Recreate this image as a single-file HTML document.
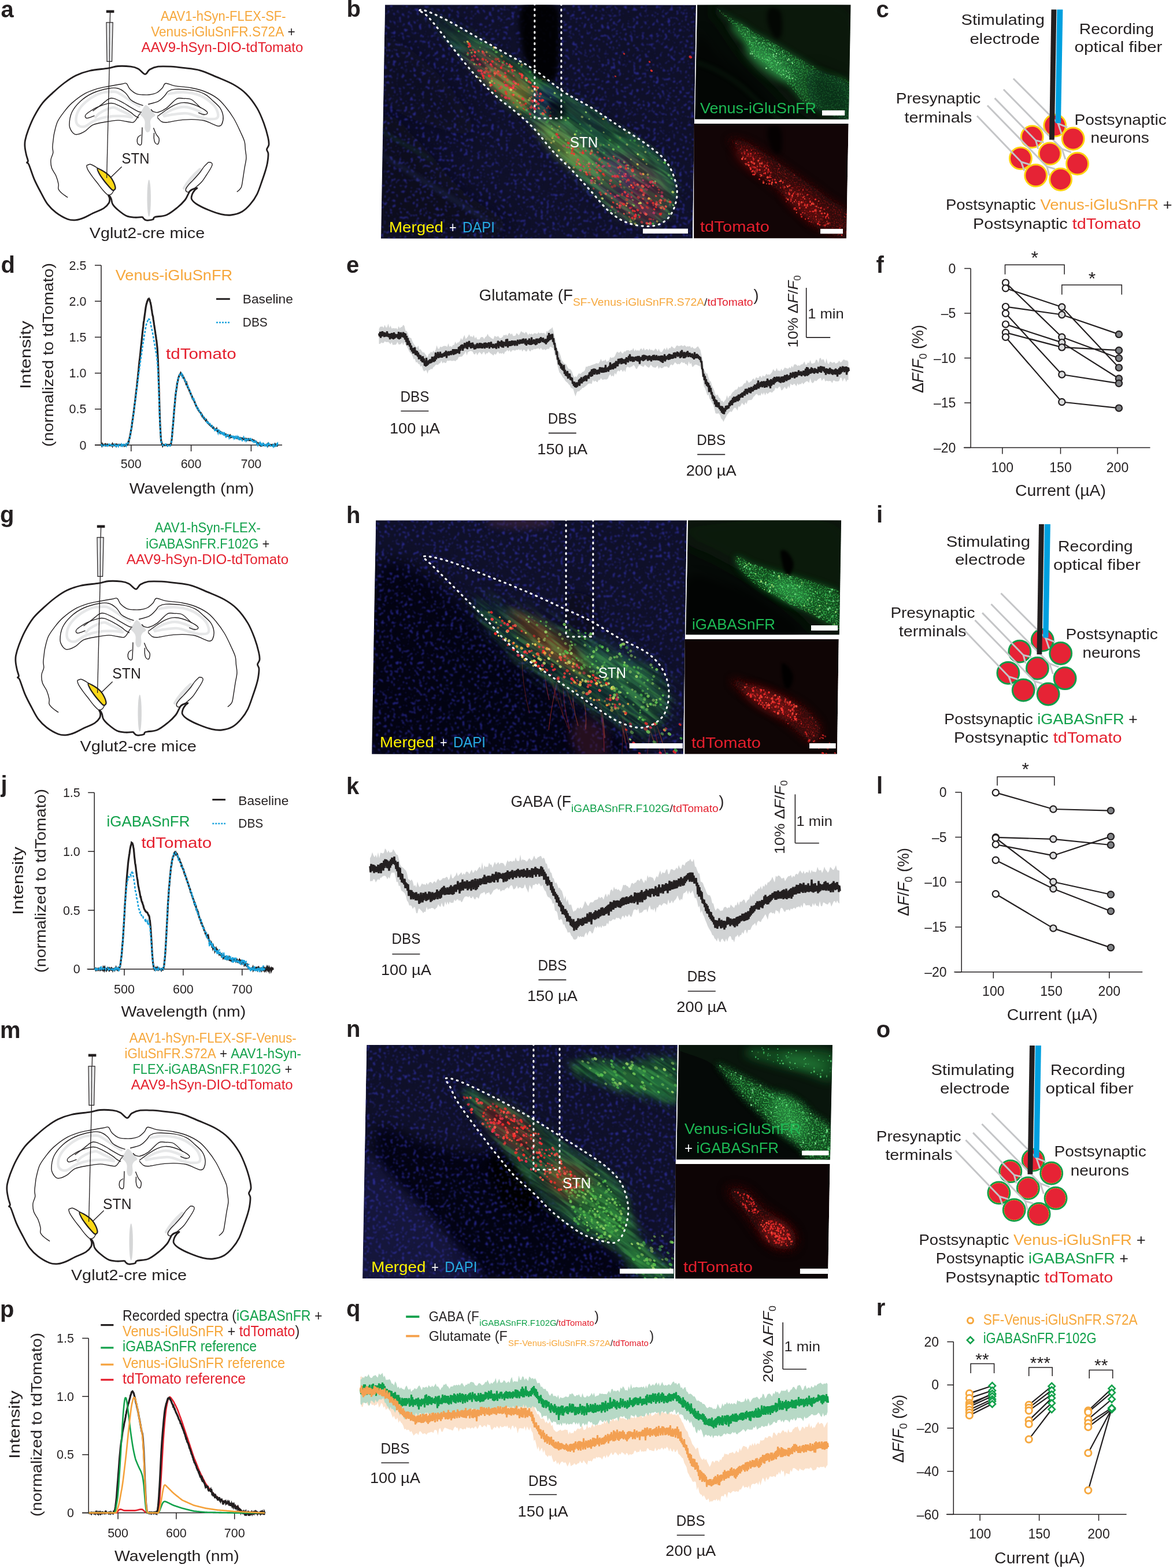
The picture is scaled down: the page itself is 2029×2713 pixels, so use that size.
<!DOCTYPE html><html><head><meta charset="utf-8"><title>Figure</title><style>html,body{margin:0;padding:0;background:#fff;overflow:hidden;}svg{display:block;}text{font-family:"Liberation Sans",sans-serif;white-space:pre;}</style></head><body>
<svg width="2029" height="2713" viewBox="0 0 2029 2713">
<rect width="2029" height="2713" fill="#fff"/><g fill="#231f20">
<defs>
<filter id="dapi" x="0" y="0" width="100%" height="100%" color-interpolation-filters="sRGB"><feTurbulence type="fractalNoise" baseFrequency="0.2" numOctaves="2" seed="4" result="n"/><feColorMatrix in="n" type="matrix" values="0 0 0 0 0.22  0 0 0 0 0.22  0 0 0 0 0.78  12 0 0 0 -7.3"/><feGaussianBlur stdDeviation="1"/></filter>
<filter id="streakG" x="0" y="0" width="100%" height="100%" color-interpolation-filters="sRGB"><feTurbulence type="fractalNoise" baseFrequency="0.02 0.16" numOctaves="2" seed="7" result="n"/><feColorMatrix in="n" type="matrix" values="0 0 0 0 0.35  0 0 0 0 0.8  0 0 0 0 0.35  5 0 0 0 -2.2"/></filter>
<filter id="streakK" x="0" y="0" width="100%" height="100%" color-interpolation-filters="sRGB"><feTurbulence type="fractalNoise" baseFrequency="0.015 0.12" numOctaves="2" seed="3" result="n"/><feColorMatrix in="n" type="matrix" values="0 0 0 0 0  0 0 0 0 0  0 0 0 0 0.05  6 0 0 0 -2.7"/></filter>
<filter id="grn" x="0" y="0" width="100%" height="100%" color-interpolation-filters="sRGB"><feTurbulence type="fractalNoise" baseFrequency="0.45" numOctaves="1" seed="5" result="n"/><feColorMatrix in="n" type="matrix" values="0 0 0 0 0.3  0 0 0 0 0.95  0 0 0 0 0.4  7 0 0 0 -3.5"/></filter>
<filter id="mottle" x="0" y="0" width="100%" height="100%" color-interpolation-filters="sRGB"><feTurbulence type="fractalNoise" baseFrequency="0.09" numOctaves="2" seed="11" result="n"/><feColorMatrix in="n" type="matrix" values="0 0 0 0 0  0 0 0 0 0  0 0 0 0 0  5 0 0 0 -2.1"/></filter>
<filter id="redn" x="0" y="0" width="100%" height="100%" color-interpolation-filters="sRGB"><feTurbulence type="fractalNoise" baseFrequency="0.45" numOctaves="1" seed="6" result="n"/><feColorMatrix in="n" type="matrix" values="0 0 0 0 0.9  0 0 0 0 0.1  0 0 0 0 0.1  7 0 0 0 -3.6"/></filter>
<filter id="b2" x="-50%" y="-50%" width="200%" height="200%"><feGaussianBlur stdDeviation="2"/></filter>
<filter id="b3" x="-50%" y="-50%" width="200%" height="200%"><feGaussianBlur stdDeviation="3"/></filter>
<filter id="b4" x="-50%" y="-50%" width="200%" height="200%"><feGaussianBlur stdDeviation="4"/></filter>
<filter id="b6" x="-50%" y="-50%" width="200%" height="200%"><feGaussianBlur stdDeviation="6"/></filter>
<filter id="b8" x="-50%" y="-50%" width="200%" height="200%"><feGaussianBlur stdDeviation="8"/></filter>
<filter id="b10" x="-50%" y="-50%" width="200%" height="200%"><feGaussianBlur stdDeviation="10"/></filter>
<filter id="b12" x="-50%" y="-50%" width="200%" height="200%"><feGaussianBlur stdDeviation="12"/></filter>
<filter id="b14" x="-50%" y="-50%" width="200%" height="200%"><feGaussianBlur stdDeviation="14"/></filter>
<filter id="b18" x="-50%" y="-50%" width="200%" height="200%"><feGaussianBlur stdDeviation="18"/></filter>
<filter id="b26" x="-50%" y="-50%" width="200%" height="200%"><feGaussianBlur stdDeviation="26"/></filter>
<filter id="b1" x="-50%" y="-50%" width="200%" height="200%"><feGaussianBlur stdDeviation="0.7"/></filter>
</defs>
<text x="1.5" y="29.5" font-size="40" font-weight="bold">a</text>
<text x="599.5" y="29" font-size="40" font-weight="bold">b</text>
<text x="1515.5" y="29.8" font-size="40" font-weight="bold">c</text>
<text x="1.5" y="471.5" font-size="40" font-weight="bold">d</text>
<text x="599" y="472.2" font-size="40" font-weight="bold">e</text>
<text x="1515.5" y="471.5" font-size="40" font-weight="bold">f</text>
<text x="0" y="903.5" font-size="40" font-weight="bold">g</text>
<text x="599" y="904.5" font-size="40" font-weight="bold">h</text>
<text x="1516" y="903.9" font-size="40" font-weight="bold">i</text>
<text x="1.5" y="1371" font-size="40" font-weight="bold">j</text>
<text x="599" y="1374.4" font-size="40" font-weight="bold">k</text>
<text x="1516" y="1373" font-size="40" font-weight="bold">l</text>
<text x="0" y="1795.6" font-size="40" font-weight="bold">m</text>
<text x="599" y="1793.7" font-size="40" font-weight="bold">n</text>
<text x="1515.8" y="1794.8" font-size="40" font-weight="bold">o</text>
<text x="0" y="2279" font-size="40" font-weight="bold">p</text>
<text x="599" y="2277.5" font-size="40" font-weight="bold">q</text>
<text x="1515.8" y="2275.8" font-size="40" font-weight="bold">r</text>
<g transform="translate(0 0)">
<path d="M252.5,182C249.8,181.8 247.8,187.5 246,190C244.2,192.5 241.3,194.8 241.5,197C241.7,199.2 245.5,200.8 247,203C248.5,205.2 249.9,206.8 250.5,210C251.1,213.2 250,218.9 250.5,222C251,225.1 252.2,227.6 253.5,228.5C254.8,229.4 257.3,228.9 258.5,227.5C259.7,226.1 260.2,222.9 260.5,220C260.8,217.1 259.6,212.7 260,210C260.4,207.3 261.6,205.8 263,204C264.4,202.2 268.7,201.2 268.5,199C268.3,196.8 264.7,193.8 262,191C259.3,188.2 255.2,182.2 252.5,182Z" fill="#dcddde"/>
<ellipse cx="257.7" cy="343" rx="3.2" ry="32" fill="#d5d6d7"/>
<path d="M346,293 C338,300 326,312 318.5,325.5 C322,323 332,312 346,296Z" fill="#e2e3e4" stroke="#e2e3e4" stroke-width="5" stroke-linejoin="round"/>
<path d="M241,184C238.8,182.7 231.7,178.4 228,176C224.3,173.6 222.4,172.1 218.6,169.6C214.8,167.1 208.6,162.8 205,161C201.4,159.2 201.9,158.8 196.9,158.8C191.9,158.8 182.4,158.6 175.1,160.9C167.8,163.2 159.6,167.9 153.3,172.5C147,177.1 141,183.2 137.4,188.5C133.8,193.8 132.1,199.9 131.6,204.5C131.1,209.1 132.1,213.7 134.5,216.1C136.9,218.5 141.8,220 146.1,219C150.4,218 155.8,212.7 160.6,210.3C165.4,207.9 169.4,206.1 175.1,204.5C180.8,202.9 188.3,201.6 195,201C201.7,200.4 209.5,200.7 215,201C220.5,201.3 225.8,202.7 228,203" fill="none" stroke="#e6e7e8" stroke-width="4.5" stroke-linecap="round"/>
<path d="M291,162.4C295.4,161.9 307.9,159 317.1,159.5C326.3,160 337.7,161.9 346.1,165.3C354.6,168.7 362.7,175 367.8,179.8C372.9,184.6 375.3,190.2 376.5,194.3C377.7,198.4 377.8,202.6 375.1,204.5C372.5,206.4 365.4,206.2 360.6,205.9C355.8,205.7 350.9,204.3 346.1,203C341.3,201.7 336,199.2 331.6,198C327.2,196.8 325.3,196 320,196C314.7,196 306,197.2 300,198C294,198.8 286.7,200.5 284,201" fill="none" stroke="#e6e7e8" stroke-width="4.5" stroke-linecap="round"/>
<path d="M226,199C223.3,197.8 214.8,194.2 210,192C205.2,189.8 201.2,186.5 197,186C192.8,185.5 189.2,187.3 185,189C180.8,190.7 175.3,193.7 172,196C168.7,198.3 166.2,201.8 165,203" fill="none" stroke="#e6e7e8" stroke-width="4.5" stroke-linecap="round"/>
<path d="M282,198C285,196.5 294,191.2 300,189C306,186.8 312.5,185.2 318,185C323.5,184.8 328.5,186.7 333,188C337.5,189.3 341.8,191.2 345,193C348.2,194.8 350.8,198 352,199" fill="none" stroke="#e6e7e8" stroke-width="4.5" stroke-linecap="round"/>
<path d="M117.1,341.6C115.4,340.4 109.6,336.7 106.9,334.3C104.2,331.9 102.1,329.8 101.1,327.1C100.1,324.5 101.8,322.3 101.1,318.4C100.4,314.5 98.6,308.4 96.7,303.8C94.8,299.2 91,295.4 89.5,290.8C88,286.2 87.6,280.7 88,276.3C88.4,271.9 91.2,268.3 91.7,264.7C92.2,261.1 90.8,258.6 90.9,254.5C91,250.4 91.9,244 92.4,240C92.9,236 92.6,235.5 93.8,230.6C95,225.7 96.7,216.6 99.6,210.3C102.5,204 107.2,198.2 111.3,192.9C115.4,187.6 118.5,183.5 124.3,178.4C130.1,173.3 138.8,166.5 146.1,162.4C153.3,158.3 160.8,155.9 167.8,153.7C174.8,151.5 181.2,150.7 188.2,149.3C195.2,147.9 204.9,146.3 210,145.5C215.1,144.7 216.2,142.9 218.6,144.3C221,145.7 221.5,150.7 224.4,153.7C227.3,156.7 232.2,160.7 236,162.4C239.8,164.1 243.2,163.8 247,164C250.8,164.2 255,164.4 259,163.8C263,163.2 267.4,162.4 271,160.5C274.6,158.6 278.2,154.9 280.8,152.2C283.4,149.5 283,144.9 286.6,144.3C290.2,143.7 295,147.3 302.5,148.6C310,149.9 323.1,150.6 331.6,152.2C340.1,153.8 346.1,155.1 353.3,158C360.6,160.9 369.1,165.2 375.1,169.6C381.2,174 384.8,178.4 389.6,184.2C394.4,190 399.8,197.2 404.1,204.5C408.5,211.8 412.6,220.9 415.7,227.7C418.8,234.5 421.6,239.9 423,245.1C424.4,250.3 423.9,254.2 424.4,258.9C424.9,263.6 426.1,268.1 425.9,273.4C425.7,278.7 424,284.8 423,290.8C422,296.8 421.1,304 420.1,309.6C419.1,315.2 418.9,320.4 417.2,324.2C415.5,327.9 411.1,330.8 409.9,332.1" fill="none" stroke="#231f20" stroke-width="1.4"/>
<path d="M247.6,182.7C245.7,182 239.6,180.1 236,178.4C232.4,176.7 229,175.4 225.9,172.5C222.8,169.6 220.8,164.2 217.2,160.9C213.6,157.7 208.9,154.3 204.1,153C199.3,151.7 195.4,151.7 188.2,153C180.9,154.3 168.8,157.3 160.6,161C152.4,164.7 144.9,169.8 138.8,175.4C132.8,181 127.4,187.5 124.3,194.3C121.2,201.1 120,210.5 120,216.1C120,221.7 122.4,224.9 124.3,227.7C126.2,230.5 128,232.8 131.6,232.8C135.2,232.8 141.3,230.5 146.1,227.7C150.9,224.9 154.6,218.9 160.6,216.1C166.6,213.3 175.1,212.3 182.3,211C189.6,209.7 198.1,208.2 204.1,208.1C210.1,208 214.2,209.7 218.6,210.3C222.9,210.9 227.3,212.4 230.2,211.7C233.1,211 234.3,208.1 236,205.9C237.7,203.7 239.2,200.3 240.4,198.7C241.6,197 242.6,196.4 243,196" fill="none" stroke="#231f20" stroke-width="1.4"/>
<path d="M163.5,200.1C161.3,200.8 153.1,204.5 150.4,204.5C147.7,204.5 147,201.8 147.5,200.1C148,198.4 149.9,196.7 153.3,194.3C156.7,191.9 162.2,188.1 167.8,185.6C173.4,183.1 181.8,180.2 186.7,179.1C191.5,178 192.8,178 196.9,179.1C201,180.2 206.6,183.1 211.4,185.6C216.2,188.1 222.3,191.9 225.9,194.3C229.5,196.7 230.8,198.5 233.1,200.1C235.4,201.7 238.8,203.3 240,204" fill="none" stroke="#231f20" stroke-width="1.4"/>
<path d="M160.6,192.1C163,190.3 170.5,184.8 175.1,181.3C179.7,177.8 184.6,172.9 188.2,171.1C191.8,169.3 193,169.4 196.9,170.4C200.8,171.4 206.6,174.4 211.4,176.9C216.2,179.4 221.3,182.9 225.9,185.6C230.5,188.3 235.8,191.4 238.9,192.9C242,194.4 243.7,194.1 244.7,194.3" fill="none" stroke="#231f20" stroke-width="1.4"/>
<path d="M256.1,180.5C259,179.7 268.7,177.9 273.5,175.4C278.3,172.9 282.2,168.2 285.1,165.3C288,162.4 288,159.8 290.9,158C293.8,156.2 295.7,154.8 302.5,154.4C309.3,154.1 323.1,154.6 331.6,155.9C340.1,157.2 347.3,159.4 353.3,162.4C359.3,165.4 363.2,169.9 367.8,174C372.4,178.1 377.9,182.5 380.9,187.1C383.9,191.7 385.5,197 386,201.6C386.5,206.2 385.1,211.8 383.8,214.6C382.5,217.4 380.7,218.3 378,218.3C375.3,218.3 371.9,216.2 367.8,214.6C363.7,213 359.3,210.1 353.3,208.8C347.3,207.5 338.9,206.7 331.6,206.6C324.4,206.5 317.1,207.2 309.8,208.1C302.5,208.9 293.1,211.3 288,211.7C282.9,212.1 281.9,211.8 279.3,210.3C276.7,208.9 273.3,204.2 272.1,203" fill="none" stroke="#231f20" stroke-width="1.4"/>
<path d="M261.2,189.2C261.8,189.8 262.8,192.1 264.8,192.9C266.9,193.8 269.6,195.3 273.5,194.3C277.4,193.3 282.7,191 288,187.1C293.3,183.2 300.6,173.9 305.5,171.1C310.4,168.3 312.8,170.2 317.1,170.4C321.5,170.6 326.5,169.7 331.6,172.5C336.7,175.3 344.9,184.7 347.5,187.1" fill="none" stroke="#231f20" stroke-width="1.4"/>
<path d="M272.1,201.6C274.8,199.7 282.9,193.4 288,190C293.1,186.6 297.6,183.4 302.5,181.3C307.4,179.2 312.2,177.8 317.1,177.6C322,177.3 326.8,178.5 331.6,179.8C336.4,181.1 341.8,183.4 346.1,185.6C350.5,187.8 355.8,191 357.7,192.9C359.6,194.8 358.7,196.3 357.7,197.2C356.7,198 354.3,198.4 351.9,198C349.5,197.6 344.6,195.5 343.2,195" fill="none" stroke="#231f20" stroke-width="1.4"/>
<path d="M246,220.4C245.9,223 245.8,231.2 245.5,236C245.2,240.8 245.4,247 244.5,249.4C243.6,251.8 241.2,250.9 240,250.2C238.8,249.5 237.5,247.2 237.3,245.1C237.1,243 237.6,239.3 238.7,237.4C239.8,235.5 243.1,234.2 244,233.5" fill="none" stroke="#231f20" stroke-width="1.4"/>
<path d="M265.5,221.2C266.2,223 268.4,229 270,232C271.6,235 274.2,236.8 275,239.3C275.8,241.8 275,245.3 274.5,247C274,248.7 273.1,249.7 272,249.6C270.9,249.5 268.9,248.2 268,246.5C267.1,244.8 266.6,242.1 266.3,239.3C266.1,236.6 266.5,231.6 266.5,230" fill="none" stroke="#231f20" stroke-width="1.4"/>
<path d="M360.6,280.6C361.4,280.8 364.4,280.8 365.5,281.5C366.6,282.2 367.4,283.2 367.1,285C366.9,286.8 365.7,289 364,292C362.3,295 359.5,299.2 357,303C354.5,306.8 351.7,311.3 349,314.5C346.3,317.7 343.4,319.9 341,322C338.6,324.1 336.8,325.4 334.5,327.1C332.2,328.8 329,331.3 327,332C325,332.7 323.4,332.3 322.5,331.5C321.6,330.7 320.9,328.9 321.5,327C322.1,325.1 323.8,322.6 326,320C328.2,317.4 331.1,314.8 334.5,311.1C337.9,307.4 343,301.9 346.1,298C349.2,294.1 350.9,290.8 353.3,287.9C355.7,285 359.4,281.8 360.6,280.6" fill="none" stroke="#231f20" stroke-width="1.4"/>
<path d="M149.7,286.4C150.8,286 153.4,283.8 156.2,284.3C159,284.8 162.8,287.1 166.4,289.3C170,291.5 174.4,294.6 178,297.5C181.6,300.4 185.1,303.2 188,306.5C190.9,309.8 193.9,313.8 195.5,317C197.1,320.2 197.4,323.7 197.5,326C197.6,328.3 196.8,329.4 196,331C195.2,332.6 194.1,334.8 192.5,335.8C190.9,336.8 189.1,338.3 186.7,337.2C184.3,336.1 181.1,332.5 178,329C174.9,325.5 170.9,319.7 168,316C165.1,312.3 163.3,310.4 160.6,306.7C157.9,303 153.7,297.1 151.9,293.7C150.1,290.3 150.1,287.6 149.7,286.4" fill="none" stroke="#231f20" stroke-width="1.4"/>
<path d="M251,128.3C254.3,128.5 255.2,122.5 259,120.3C262.8,118.1 267.4,116 273.5,115.2C279.6,114.4 288,114.8 295.3,115.2C302.6,115.6 308.6,116.3 317.1,117.4C325.6,118.5 336.4,119.1 346.1,121.8C355.8,124.5 365.4,129.3 375.1,133.4C384.8,137.5 395.6,141.6 404.1,146.4C412.6,151.2 419.1,155.6 425.9,162.4C432.7,169.2 439.6,178.6 444.7,187.1C449.8,195.6 453.2,204.8 456.4,213.2C459.5,221.6 462.2,231.6 463.6,237.8C465,244 465.4,247.1 465,250.5C464.6,253.9 461.7,255.9 461.5,258.5C461.3,261.1 463.8,262.1 464,266C464.2,269.9 463.3,277.2 462.5,282C461.7,286.8 460.7,289.9 459.2,295C457.7,300.1 455.8,305.7 453.4,312.5C451,319.3 448.1,329 444.7,335.8C441.3,342.6 437.5,348.1 433.1,353.2C428.8,358.3 424.2,363.1 418.6,366.2C413.1,369.3 405.9,371.3 399.8,372C393.8,372.7 388.8,372.1 382.3,370.6C375.8,369.2 367.6,366.2 360.6,363.3C353.6,360.4 345.2,356.3 340.3,353.2C335.4,350.1 332.8,347.4 331.5,344.5C330.2,341.6 331.7,338.5 332.5,336C333.3,333.5 335.1,331.2 336.5,329.5C337.9,327.8 341.1,326 341,325.5C340.9,325 338,325.8 336,326.5C334,327.2 330.8,328.2 329,330C327.2,331.8 326.5,334.3 325,337C323.5,339.7 323,342.3 320,346C317,349.7 312.2,354.7 306.9,359C301.6,363.3 294.5,369.2 288,372C281.5,374.8 271.8,374.2 268,375.5C264.2,376.8 266.8,378.6 265,379.5C263.2,380.4 259.2,381 257,381.2C254.8,381.4 253.3,381.3 251.8,380.7C250.3,380.1 248.8,378.3 247.8,377.5C246.8,376.7 248.5,375.9 246,375.7C243.5,375.5 237.6,376.6 233,376.2C228.4,375.8 223.4,375.6 218.6,373.5C213.8,371.4 208,366.6 204.1,363.3C200.2,360 196.9,356.6 195,353.5C193.1,350.4 193.3,346.8 192.5,344.5C191.7,342.2 190.8,340.6 190,339.5C189.2,338.4 187.6,337.4 187.5,338C187.4,338.6 189.3,340.8 189.5,343C189.7,345.2 190.2,348.1 188.5,351C186.8,353.9 184.1,357.4 179.4,360.4C174.8,363.4 166.2,366.4 160.6,369.1C155,371.8 150.9,374.5 146.1,376.4C141.3,378.3 136.4,380.2 131.6,380.7C126.8,381.2 122.9,381.5 117.1,379.3C111.3,377.1 102.5,372.1 96.7,367.7C90.9,363.3 86.6,359 82.2,353.2C77.8,347.4 74.5,340.2 70.6,332.9C66.7,325.6 62.4,317.6 59,309.6C55.6,301.6 52.1,289.7 50,285C47.9,280.3 46.8,282.6 46.5,281.5C46.2,280.4 48.7,280.8 48.5,278.5C48.3,276.2 46.4,272 45.5,268C44.6,264 43.4,258.7 43.1,254.5C42.8,250.3 42.5,247.9 43.5,243C44.5,238.1 46.3,231.7 48.9,224.8C51.5,217.9 54.9,209.3 59,201.6C63.1,193.9 68.2,185.2 73.5,178.4C78.8,171.6 84.6,166.7 90.9,160.9C97.2,155.1 104.5,148.6 111.3,143.5C118.1,138.4 124.3,134 131.6,130.5C138.8,127 145.6,124.6 154.8,122.5C164,120.4 178.5,119.4 186.7,118.1C194.9,116.8 197.6,115 204.1,114.5C210.6,114 220.1,114.5 225.9,115.2C231.7,115.9 234.7,116.7 238.9,118.9C243.1,121.1 247.7,128.1 251,128.3Z" fill="none" stroke="#231f20" stroke-width="2.8" stroke-linejoin="round"/>
<path d="M168.6,291.5C169.9,290.8 176.4,294.8 180,297C183.6,299.2 187.2,302 190,305C192.8,308 194.9,311.8 196.5,315C198.1,318.2 199.2,321.8 199.5,324C199.8,326.2 198.9,327.8 198,328.5C197.1,329.2 196,329.9 194,328.5C192,327.1 188.7,323.1 186,320C183.3,316.9 180.3,313.2 178,310C175.7,306.8 173.6,304.1 172,301C170.4,297.9 167.3,292.2 168.6,291.5Z" fill="#fcd817" stroke="#231f20" stroke-width="2.2"/>
<line x1="210.6" y1="288.6" x2="191.8" y2="306.7" stroke="#231f20" stroke-width="1.4"/>
<rect x="183.8" y="17.6" width="13.6" height="4.6" fill="#231f20"/>
<line x1="190.6" y1="22" x2="190.2" y2="39" stroke="#231f20" stroke-width="1.3"/>
<polygon points="184,38.8 195.2,38.8 193.6,106.4 185,106.4" fill="#e6e7e8" stroke="#231f20" stroke-width="1.2"/>
<line x1="189.6" y1="39" x2="189.4" y2="106.4" stroke="#231f20" stroke-width="1.1"/>
<line x1="189.4" y1="106.4" x2="184.6" y2="308" stroke="#231f20" stroke-width="1.3"/>
</g>
<text x="277.9" y="35.6" font-size="23" fill="#f6a73b" textLength="216.7" lengthAdjust="spacingAndGlyphs">AAV1-hSyn-FLEX-SF-</text>
<text x="261.2" y="62.7" font-size="23" fill="#f6a73b" textLength="230.1" lengthAdjust="spacingAndGlyphs">Venus-iGluSnFR.S72A</text><text x="491.3" y="62.7" font-size="23" textLength="19.5" lengthAdjust="spacingAndGlyphs"> +</text>
<text x="244.6" y="89.8" font-size="23" fill="#e41f2d" textLength="279.8" lengthAdjust="spacingAndGlyphs">AAV9-hSyn-DIO-tdTomato</text>
<text x="210.6" y="282.8" font-size="26" textLength="47.9" lengthAdjust="spacingAndGlyphs">STN</text>
<text x="154.8" y="412.2" font-size="25" textLength="199.3" lengthAdjust="spacingAndGlyphs">Vglut2-cre mice</text>
<g transform="translate(-16 891)">
<path d="M252.5,182C249.8,181.8 247.8,187.5 246,190C244.2,192.5 241.3,194.8 241.5,197C241.7,199.2 245.5,200.8 247,203C248.5,205.2 249.9,206.8 250.5,210C251.1,213.2 250,218.9 250.5,222C251,225.1 252.2,227.6 253.5,228.5C254.8,229.4 257.3,228.9 258.5,227.5C259.7,226.1 260.2,222.9 260.5,220C260.8,217.1 259.6,212.7 260,210C260.4,207.3 261.6,205.8 263,204C264.4,202.2 268.7,201.2 268.5,199C268.3,196.8 264.7,193.8 262,191C259.3,188.2 255.2,182.2 252.5,182Z" fill="#dcddde"/>
<ellipse cx="257.7" cy="343" rx="3.2" ry="32" fill="#d5d6d7"/>
<path d="M346,293 C338,300 326,312 318.5,325.5 C322,323 332,312 346,296Z" fill="#e2e3e4" stroke="#e2e3e4" stroke-width="5" stroke-linejoin="round"/>
<path d="M241,184C238.8,182.7 231.7,178.4 228,176C224.3,173.6 222.4,172.1 218.6,169.6C214.8,167.1 208.6,162.8 205,161C201.4,159.2 201.9,158.8 196.9,158.8C191.9,158.8 182.4,158.6 175.1,160.9C167.8,163.2 159.6,167.9 153.3,172.5C147,177.1 141,183.2 137.4,188.5C133.8,193.8 132.1,199.9 131.6,204.5C131.1,209.1 132.1,213.7 134.5,216.1C136.9,218.5 141.8,220 146.1,219C150.4,218 155.8,212.7 160.6,210.3C165.4,207.9 169.4,206.1 175.1,204.5C180.8,202.9 188.3,201.6 195,201C201.7,200.4 209.5,200.7 215,201C220.5,201.3 225.8,202.7 228,203" fill="none" stroke="#e6e7e8" stroke-width="4.5" stroke-linecap="round"/>
<path d="M291,162.4C295.4,161.9 307.9,159 317.1,159.5C326.3,160 337.7,161.9 346.1,165.3C354.6,168.7 362.7,175 367.8,179.8C372.9,184.6 375.3,190.2 376.5,194.3C377.7,198.4 377.8,202.6 375.1,204.5C372.5,206.4 365.4,206.2 360.6,205.9C355.8,205.7 350.9,204.3 346.1,203C341.3,201.7 336,199.2 331.6,198C327.2,196.8 325.3,196 320,196C314.7,196 306,197.2 300,198C294,198.8 286.7,200.5 284,201" fill="none" stroke="#e6e7e8" stroke-width="4.5" stroke-linecap="round"/>
<path d="M226,199C223.3,197.8 214.8,194.2 210,192C205.2,189.8 201.2,186.5 197,186C192.8,185.5 189.2,187.3 185,189C180.8,190.7 175.3,193.7 172,196C168.7,198.3 166.2,201.8 165,203" fill="none" stroke="#e6e7e8" stroke-width="4.5" stroke-linecap="round"/>
<path d="M282,198C285,196.5 294,191.2 300,189C306,186.8 312.5,185.2 318,185C323.5,184.8 328.5,186.7 333,188C337.5,189.3 341.8,191.2 345,193C348.2,194.8 350.8,198 352,199" fill="none" stroke="#e6e7e8" stroke-width="4.5" stroke-linecap="round"/>
<path d="M117.1,341.6C115.4,340.4 109.6,336.7 106.9,334.3C104.2,331.9 102.1,329.8 101.1,327.1C100.1,324.5 101.8,322.3 101.1,318.4C100.4,314.5 98.6,308.4 96.7,303.8C94.8,299.2 91,295.4 89.5,290.8C88,286.2 87.6,280.7 88,276.3C88.4,271.9 91.2,268.3 91.7,264.7C92.2,261.1 90.8,258.6 90.9,254.5C91,250.4 91.9,244 92.4,240C92.9,236 92.6,235.5 93.8,230.6C95,225.7 96.7,216.6 99.6,210.3C102.5,204 107.2,198.2 111.3,192.9C115.4,187.6 118.5,183.5 124.3,178.4C130.1,173.3 138.8,166.5 146.1,162.4C153.3,158.3 160.8,155.9 167.8,153.7C174.8,151.5 181.2,150.7 188.2,149.3C195.2,147.9 204.9,146.3 210,145.5C215.1,144.7 216.2,142.9 218.6,144.3C221,145.7 221.5,150.7 224.4,153.7C227.3,156.7 232.2,160.7 236,162.4C239.8,164.1 243.2,163.8 247,164C250.8,164.2 255,164.4 259,163.8C263,163.2 267.4,162.4 271,160.5C274.6,158.6 278.2,154.9 280.8,152.2C283.4,149.5 283,144.9 286.6,144.3C290.2,143.7 295,147.3 302.5,148.6C310,149.9 323.1,150.6 331.6,152.2C340.1,153.8 346.1,155.1 353.3,158C360.6,160.9 369.1,165.2 375.1,169.6C381.2,174 384.8,178.4 389.6,184.2C394.4,190 399.8,197.2 404.1,204.5C408.5,211.8 412.6,220.9 415.7,227.7C418.8,234.5 421.6,239.9 423,245.1C424.4,250.3 423.9,254.2 424.4,258.9C424.9,263.6 426.1,268.1 425.9,273.4C425.7,278.7 424,284.8 423,290.8C422,296.8 421.1,304 420.1,309.6C419.1,315.2 418.9,320.4 417.2,324.2C415.5,327.9 411.1,330.8 409.9,332.1" fill="none" stroke="#231f20" stroke-width="1.4"/>
<path d="M247.6,182.7C245.7,182 239.6,180.1 236,178.4C232.4,176.7 229,175.4 225.9,172.5C222.8,169.6 220.8,164.2 217.2,160.9C213.6,157.7 208.9,154.3 204.1,153C199.3,151.7 195.4,151.7 188.2,153C180.9,154.3 168.8,157.3 160.6,161C152.4,164.7 144.9,169.8 138.8,175.4C132.8,181 127.4,187.5 124.3,194.3C121.2,201.1 120,210.5 120,216.1C120,221.7 122.4,224.9 124.3,227.7C126.2,230.5 128,232.8 131.6,232.8C135.2,232.8 141.3,230.5 146.1,227.7C150.9,224.9 154.6,218.9 160.6,216.1C166.6,213.3 175.1,212.3 182.3,211C189.6,209.7 198.1,208.2 204.1,208.1C210.1,208 214.2,209.7 218.6,210.3C222.9,210.9 227.3,212.4 230.2,211.7C233.1,211 234.3,208.1 236,205.9C237.7,203.7 239.2,200.3 240.4,198.7C241.6,197 242.6,196.4 243,196" fill="none" stroke="#231f20" stroke-width="1.4"/>
<path d="M163.5,200.1C161.3,200.8 153.1,204.5 150.4,204.5C147.7,204.5 147,201.8 147.5,200.1C148,198.4 149.9,196.7 153.3,194.3C156.7,191.9 162.2,188.1 167.8,185.6C173.4,183.1 181.8,180.2 186.7,179.1C191.5,178 192.8,178 196.9,179.1C201,180.2 206.6,183.1 211.4,185.6C216.2,188.1 222.3,191.9 225.9,194.3C229.5,196.7 230.8,198.5 233.1,200.1C235.4,201.7 238.8,203.3 240,204" fill="none" stroke="#231f20" stroke-width="1.4"/>
<path d="M160.6,192.1C163,190.3 170.5,184.8 175.1,181.3C179.7,177.8 184.6,172.9 188.2,171.1C191.8,169.3 193,169.4 196.9,170.4C200.8,171.4 206.6,174.4 211.4,176.9C216.2,179.4 221.3,182.9 225.9,185.6C230.5,188.3 235.8,191.4 238.9,192.9C242,194.4 243.7,194.1 244.7,194.3" fill="none" stroke="#231f20" stroke-width="1.4"/>
<path d="M256.1,180.5C259,179.7 268.7,177.9 273.5,175.4C278.3,172.9 282.2,168.2 285.1,165.3C288,162.4 288,159.8 290.9,158C293.8,156.2 295.7,154.8 302.5,154.4C309.3,154.1 323.1,154.6 331.6,155.9C340.1,157.2 347.3,159.4 353.3,162.4C359.3,165.4 363.2,169.9 367.8,174C372.4,178.1 377.9,182.5 380.9,187.1C383.9,191.7 385.5,197 386,201.6C386.5,206.2 385.1,211.8 383.8,214.6C382.5,217.4 380.7,218.3 378,218.3C375.3,218.3 371.9,216.2 367.8,214.6C363.7,213 359.3,210.1 353.3,208.8C347.3,207.5 338.9,206.7 331.6,206.6C324.4,206.5 317.1,207.2 309.8,208.1C302.5,208.9 293.1,211.3 288,211.7C282.9,212.1 281.9,211.8 279.3,210.3C276.7,208.9 273.3,204.2 272.1,203" fill="none" stroke="#231f20" stroke-width="1.4"/>
<path d="M261.2,189.2C261.8,189.8 262.8,192.1 264.8,192.9C266.9,193.8 269.6,195.3 273.5,194.3C277.4,193.3 282.7,191 288,187.1C293.3,183.2 300.6,173.9 305.5,171.1C310.4,168.3 312.8,170.2 317.1,170.4C321.5,170.6 326.5,169.7 331.6,172.5C336.7,175.3 344.9,184.7 347.5,187.1" fill="none" stroke="#231f20" stroke-width="1.4"/>
<path d="M272.1,201.6C274.8,199.7 282.9,193.4 288,190C293.1,186.6 297.6,183.4 302.5,181.3C307.4,179.2 312.2,177.8 317.1,177.6C322,177.3 326.8,178.5 331.6,179.8C336.4,181.1 341.8,183.4 346.1,185.6C350.5,187.8 355.8,191 357.7,192.9C359.6,194.8 358.7,196.3 357.7,197.2C356.7,198 354.3,198.4 351.9,198C349.5,197.6 344.6,195.5 343.2,195" fill="none" stroke="#231f20" stroke-width="1.4"/>
<path d="M246,220.4C245.9,223 245.8,231.2 245.5,236C245.2,240.8 245.4,247 244.5,249.4C243.6,251.8 241.2,250.9 240,250.2C238.8,249.5 237.5,247.2 237.3,245.1C237.1,243 237.6,239.3 238.7,237.4C239.8,235.5 243.1,234.2 244,233.5" fill="none" stroke="#231f20" stroke-width="1.4"/>
<path d="M265.5,221.2C266.2,223 268.4,229 270,232C271.6,235 274.2,236.8 275,239.3C275.8,241.8 275,245.3 274.5,247C274,248.7 273.1,249.7 272,249.6C270.9,249.5 268.9,248.2 268,246.5C267.1,244.8 266.6,242.1 266.3,239.3C266.1,236.6 266.5,231.6 266.5,230" fill="none" stroke="#231f20" stroke-width="1.4"/>
<path d="M360.6,280.6C361.4,280.8 364.4,280.8 365.5,281.5C366.6,282.2 367.4,283.2 367.1,285C366.9,286.8 365.7,289 364,292C362.3,295 359.5,299.2 357,303C354.5,306.8 351.7,311.3 349,314.5C346.3,317.7 343.4,319.9 341,322C338.6,324.1 336.8,325.4 334.5,327.1C332.2,328.8 329,331.3 327,332C325,332.7 323.4,332.3 322.5,331.5C321.6,330.7 320.9,328.9 321.5,327C322.1,325.1 323.8,322.6 326,320C328.2,317.4 331.1,314.8 334.5,311.1C337.9,307.4 343,301.9 346.1,298C349.2,294.1 350.9,290.8 353.3,287.9C355.7,285 359.4,281.8 360.6,280.6" fill="none" stroke="#231f20" stroke-width="1.4"/>
<path d="M149.7,286.4C150.8,286 153.4,283.8 156.2,284.3C159,284.8 162.8,287.1 166.4,289.3C170,291.5 174.4,294.6 178,297.5C181.6,300.4 185.1,303.2 188,306.5C190.9,309.8 193.9,313.8 195.5,317C197.1,320.2 197.4,323.7 197.5,326C197.6,328.3 196.8,329.4 196,331C195.2,332.6 194.1,334.8 192.5,335.8C190.9,336.8 189.1,338.3 186.7,337.2C184.3,336.1 181.1,332.5 178,329C174.9,325.5 170.9,319.7 168,316C165.1,312.3 163.3,310.4 160.6,306.7C157.9,303 153.7,297.1 151.9,293.7C150.1,290.3 150.1,287.6 149.7,286.4" fill="none" stroke="#231f20" stroke-width="1.4"/>
<path d="M251,128.3C254.3,128.5 255.2,122.5 259,120.3C262.8,118.1 267.4,116 273.5,115.2C279.6,114.4 288,114.8 295.3,115.2C302.6,115.6 308.6,116.3 317.1,117.4C325.6,118.5 336.4,119.1 346.1,121.8C355.8,124.5 365.4,129.3 375.1,133.4C384.8,137.5 395.6,141.6 404.1,146.4C412.6,151.2 419.1,155.6 425.9,162.4C432.7,169.2 439.6,178.6 444.7,187.1C449.8,195.6 453.2,204.8 456.4,213.2C459.5,221.6 462.2,231.6 463.6,237.8C465,244 465.4,247.1 465,250.5C464.6,253.9 461.7,255.9 461.5,258.5C461.3,261.1 463.8,262.1 464,266C464.2,269.9 463.3,277.2 462.5,282C461.7,286.8 460.7,289.9 459.2,295C457.7,300.1 455.8,305.7 453.4,312.5C451,319.3 448.1,329 444.7,335.8C441.3,342.6 437.5,348.1 433.1,353.2C428.8,358.3 424.2,363.1 418.6,366.2C413.1,369.3 405.9,371.3 399.8,372C393.8,372.7 388.8,372.1 382.3,370.6C375.8,369.2 367.6,366.2 360.6,363.3C353.6,360.4 345.2,356.3 340.3,353.2C335.4,350.1 332.8,347.4 331.5,344.5C330.2,341.6 331.7,338.5 332.5,336C333.3,333.5 335.1,331.2 336.5,329.5C337.9,327.8 341.1,326 341,325.5C340.9,325 338,325.8 336,326.5C334,327.2 330.8,328.2 329,330C327.2,331.8 326.5,334.3 325,337C323.5,339.7 323,342.3 320,346C317,349.7 312.2,354.7 306.9,359C301.6,363.3 294.5,369.2 288,372C281.5,374.8 271.8,374.2 268,375.5C264.2,376.8 266.8,378.6 265,379.5C263.2,380.4 259.2,381 257,381.2C254.8,381.4 253.3,381.3 251.8,380.7C250.3,380.1 248.8,378.3 247.8,377.5C246.8,376.7 248.5,375.9 246,375.7C243.5,375.5 237.6,376.6 233,376.2C228.4,375.8 223.4,375.6 218.6,373.5C213.8,371.4 208,366.6 204.1,363.3C200.2,360 196.9,356.6 195,353.5C193.1,350.4 193.3,346.8 192.5,344.5C191.7,342.2 190.8,340.6 190,339.5C189.2,338.4 187.6,337.4 187.5,338C187.4,338.6 189.3,340.8 189.5,343C189.7,345.2 190.2,348.1 188.5,351C186.8,353.9 184.1,357.4 179.4,360.4C174.8,363.4 166.2,366.4 160.6,369.1C155,371.8 150.9,374.5 146.1,376.4C141.3,378.3 136.4,380.2 131.6,380.7C126.8,381.2 122.9,381.5 117.1,379.3C111.3,377.1 102.5,372.1 96.7,367.7C90.9,363.3 86.6,359 82.2,353.2C77.8,347.4 74.5,340.2 70.6,332.9C66.7,325.6 62.4,317.6 59,309.6C55.6,301.6 52.1,289.7 50,285C47.9,280.3 46.8,282.6 46.5,281.5C46.2,280.4 48.7,280.8 48.5,278.5C48.3,276.2 46.4,272 45.5,268C44.6,264 43.4,258.7 43.1,254.5C42.8,250.3 42.5,247.9 43.5,243C44.5,238.1 46.3,231.7 48.9,224.8C51.5,217.9 54.9,209.3 59,201.6C63.1,193.9 68.2,185.2 73.5,178.4C78.8,171.6 84.6,166.7 90.9,160.9C97.2,155.1 104.5,148.6 111.3,143.5C118.1,138.4 124.3,134 131.6,130.5C138.8,127 145.6,124.6 154.8,122.5C164,120.4 178.5,119.4 186.7,118.1C194.9,116.8 197.6,115 204.1,114.5C210.6,114 220.1,114.5 225.9,115.2C231.7,115.9 234.7,116.7 238.9,118.9C243.1,121.1 247.7,128.1 251,128.3Z" fill="none" stroke="#231f20" stroke-width="2.8" stroke-linejoin="round"/>
<path d="M168.6,291.5C169.9,290.8 176.4,294.8 180,297C183.6,299.2 187.2,302 190,305C192.8,308 194.9,311.8 196.5,315C198.1,318.2 199.2,321.8 199.5,324C199.8,326.2 198.9,327.8 198,328.5C197.1,329.2 196,329.9 194,328.5C192,327.1 188.7,323.1 186,320C183.3,316.9 180.3,313.2 178,310C175.7,306.8 173.6,304.1 172,301C170.4,297.9 167.3,292.2 168.6,291.5Z" fill="#fcd817" stroke="#231f20" stroke-width="2.2"/>
<line x1="210.6" y1="288.6" x2="191.8" y2="306.7" stroke="#231f20" stroke-width="1.4"/>
<rect x="183.8" y="17.6" width="13.6" height="4.6" fill="#231f20"/>
<line x1="190.6" y1="22" x2="190.2" y2="39" stroke="#231f20" stroke-width="1.3"/>
<polygon points="184,38.8 195.2,38.8 193.6,106.4 185,106.4" fill="#e6e7e8" stroke="#231f20" stroke-width="1.2"/>
<line x1="189.6" y1="39" x2="189.4" y2="106.4" stroke="#231f20" stroke-width="1.1"/>
<line x1="189.4" y1="106.4" x2="184.6" y2="308" stroke="#231f20" stroke-width="1.3"/>
</g>
<text x="267.8" y="920.6" font-size="23" fill="#12a14b" textLength="183.1" lengthAdjust="spacingAndGlyphs">AAV1-hSyn-FLEX-</text>
<text x="252.3" y="948.9" font-size="23" fill="#12a14b" textLength="195.1" lengthAdjust="spacingAndGlyphs">iGABASnFR.F102G</text><text x="447.4" y="948.9" font-size="23" textLength="18.9" lengthAdjust="spacingAndGlyphs"> +</text>
<text x="218.7" y="976" font-size="23" fill="#e41f2d" textLength="280.5" lengthAdjust="spacingAndGlyphs">AAV9-hSyn-DIO-tdTomato</text>
<text x="194.3" y="1174.1" font-size="26" textLength="49.5" lengthAdjust="spacingAndGlyphs">STN</text>
<text x="138.5" y="1299.9" font-size="25" textLength="201.3" lengthAdjust="spacingAndGlyphs">Vglut2-cre mice</text>
<g transform="translate(-31 1806)">
<path d="M252.5,182C249.8,181.8 247.8,187.5 246,190C244.2,192.5 241.3,194.8 241.5,197C241.7,199.2 245.5,200.8 247,203C248.5,205.2 249.9,206.8 250.5,210C251.1,213.2 250,218.9 250.5,222C251,225.1 252.2,227.6 253.5,228.5C254.8,229.4 257.3,228.9 258.5,227.5C259.7,226.1 260.2,222.9 260.5,220C260.8,217.1 259.6,212.7 260,210C260.4,207.3 261.6,205.8 263,204C264.4,202.2 268.7,201.2 268.5,199C268.3,196.8 264.7,193.8 262,191C259.3,188.2 255.2,182.2 252.5,182Z" fill="#dcddde"/>
<ellipse cx="257.7" cy="343" rx="3.2" ry="32" fill="#d5d6d7"/>
<path d="M346,293 C338,300 326,312 318.5,325.5 C322,323 332,312 346,296Z" fill="#e2e3e4" stroke="#e2e3e4" stroke-width="5" stroke-linejoin="round"/>
<path d="M241,184C238.8,182.7 231.7,178.4 228,176C224.3,173.6 222.4,172.1 218.6,169.6C214.8,167.1 208.6,162.8 205,161C201.4,159.2 201.9,158.8 196.9,158.8C191.9,158.8 182.4,158.6 175.1,160.9C167.8,163.2 159.6,167.9 153.3,172.5C147,177.1 141,183.2 137.4,188.5C133.8,193.8 132.1,199.9 131.6,204.5C131.1,209.1 132.1,213.7 134.5,216.1C136.9,218.5 141.8,220 146.1,219C150.4,218 155.8,212.7 160.6,210.3C165.4,207.9 169.4,206.1 175.1,204.5C180.8,202.9 188.3,201.6 195,201C201.7,200.4 209.5,200.7 215,201C220.5,201.3 225.8,202.7 228,203" fill="none" stroke="#e6e7e8" stroke-width="4.5" stroke-linecap="round"/>
<path d="M291,162.4C295.4,161.9 307.9,159 317.1,159.5C326.3,160 337.7,161.9 346.1,165.3C354.6,168.7 362.7,175 367.8,179.8C372.9,184.6 375.3,190.2 376.5,194.3C377.7,198.4 377.8,202.6 375.1,204.5C372.5,206.4 365.4,206.2 360.6,205.9C355.8,205.7 350.9,204.3 346.1,203C341.3,201.7 336,199.2 331.6,198C327.2,196.8 325.3,196 320,196C314.7,196 306,197.2 300,198C294,198.8 286.7,200.5 284,201" fill="none" stroke="#e6e7e8" stroke-width="4.5" stroke-linecap="round"/>
<path d="M226,199C223.3,197.8 214.8,194.2 210,192C205.2,189.8 201.2,186.5 197,186C192.8,185.5 189.2,187.3 185,189C180.8,190.7 175.3,193.7 172,196C168.7,198.3 166.2,201.8 165,203" fill="none" stroke="#e6e7e8" stroke-width="4.5" stroke-linecap="round"/>
<path d="M282,198C285,196.5 294,191.2 300,189C306,186.8 312.5,185.2 318,185C323.5,184.8 328.5,186.7 333,188C337.5,189.3 341.8,191.2 345,193C348.2,194.8 350.8,198 352,199" fill="none" stroke="#e6e7e8" stroke-width="4.5" stroke-linecap="round"/>
<path d="M117.1,341.6C115.4,340.4 109.6,336.7 106.9,334.3C104.2,331.9 102.1,329.8 101.1,327.1C100.1,324.5 101.8,322.3 101.1,318.4C100.4,314.5 98.6,308.4 96.7,303.8C94.8,299.2 91,295.4 89.5,290.8C88,286.2 87.6,280.7 88,276.3C88.4,271.9 91.2,268.3 91.7,264.7C92.2,261.1 90.8,258.6 90.9,254.5C91,250.4 91.9,244 92.4,240C92.9,236 92.6,235.5 93.8,230.6C95,225.7 96.7,216.6 99.6,210.3C102.5,204 107.2,198.2 111.3,192.9C115.4,187.6 118.5,183.5 124.3,178.4C130.1,173.3 138.8,166.5 146.1,162.4C153.3,158.3 160.8,155.9 167.8,153.7C174.8,151.5 181.2,150.7 188.2,149.3C195.2,147.9 204.9,146.3 210,145.5C215.1,144.7 216.2,142.9 218.6,144.3C221,145.7 221.5,150.7 224.4,153.7C227.3,156.7 232.2,160.7 236,162.4C239.8,164.1 243.2,163.8 247,164C250.8,164.2 255,164.4 259,163.8C263,163.2 267.4,162.4 271,160.5C274.6,158.6 278.2,154.9 280.8,152.2C283.4,149.5 283,144.9 286.6,144.3C290.2,143.7 295,147.3 302.5,148.6C310,149.9 323.1,150.6 331.6,152.2C340.1,153.8 346.1,155.1 353.3,158C360.6,160.9 369.1,165.2 375.1,169.6C381.2,174 384.8,178.4 389.6,184.2C394.4,190 399.8,197.2 404.1,204.5C408.5,211.8 412.6,220.9 415.7,227.7C418.8,234.5 421.6,239.9 423,245.1C424.4,250.3 423.9,254.2 424.4,258.9C424.9,263.6 426.1,268.1 425.9,273.4C425.7,278.7 424,284.8 423,290.8C422,296.8 421.1,304 420.1,309.6C419.1,315.2 418.9,320.4 417.2,324.2C415.5,327.9 411.1,330.8 409.9,332.1" fill="none" stroke="#231f20" stroke-width="1.4"/>
<path d="M247.6,182.7C245.7,182 239.6,180.1 236,178.4C232.4,176.7 229,175.4 225.9,172.5C222.8,169.6 220.8,164.2 217.2,160.9C213.6,157.7 208.9,154.3 204.1,153C199.3,151.7 195.4,151.7 188.2,153C180.9,154.3 168.8,157.3 160.6,161C152.4,164.7 144.9,169.8 138.8,175.4C132.8,181 127.4,187.5 124.3,194.3C121.2,201.1 120,210.5 120,216.1C120,221.7 122.4,224.9 124.3,227.7C126.2,230.5 128,232.8 131.6,232.8C135.2,232.8 141.3,230.5 146.1,227.7C150.9,224.9 154.6,218.9 160.6,216.1C166.6,213.3 175.1,212.3 182.3,211C189.6,209.7 198.1,208.2 204.1,208.1C210.1,208 214.2,209.7 218.6,210.3C222.9,210.9 227.3,212.4 230.2,211.7C233.1,211 234.3,208.1 236,205.9C237.7,203.7 239.2,200.3 240.4,198.7C241.6,197 242.6,196.4 243,196" fill="none" stroke="#231f20" stroke-width="1.4"/>
<path d="M163.5,200.1C161.3,200.8 153.1,204.5 150.4,204.5C147.7,204.5 147,201.8 147.5,200.1C148,198.4 149.9,196.7 153.3,194.3C156.7,191.9 162.2,188.1 167.8,185.6C173.4,183.1 181.8,180.2 186.7,179.1C191.5,178 192.8,178 196.9,179.1C201,180.2 206.6,183.1 211.4,185.6C216.2,188.1 222.3,191.9 225.9,194.3C229.5,196.7 230.8,198.5 233.1,200.1C235.4,201.7 238.8,203.3 240,204" fill="none" stroke="#231f20" stroke-width="1.4"/>
<path d="M160.6,192.1C163,190.3 170.5,184.8 175.1,181.3C179.7,177.8 184.6,172.9 188.2,171.1C191.8,169.3 193,169.4 196.9,170.4C200.8,171.4 206.6,174.4 211.4,176.9C216.2,179.4 221.3,182.9 225.9,185.6C230.5,188.3 235.8,191.4 238.9,192.9C242,194.4 243.7,194.1 244.7,194.3" fill="none" stroke="#231f20" stroke-width="1.4"/>
<path d="M256.1,180.5C259,179.7 268.7,177.9 273.5,175.4C278.3,172.9 282.2,168.2 285.1,165.3C288,162.4 288,159.8 290.9,158C293.8,156.2 295.7,154.8 302.5,154.4C309.3,154.1 323.1,154.6 331.6,155.9C340.1,157.2 347.3,159.4 353.3,162.4C359.3,165.4 363.2,169.9 367.8,174C372.4,178.1 377.9,182.5 380.9,187.1C383.9,191.7 385.5,197 386,201.6C386.5,206.2 385.1,211.8 383.8,214.6C382.5,217.4 380.7,218.3 378,218.3C375.3,218.3 371.9,216.2 367.8,214.6C363.7,213 359.3,210.1 353.3,208.8C347.3,207.5 338.9,206.7 331.6,206.6C324.4,206.5 317.1,207.2 309.8,208.1C302.5,208.9 293.1,211.3 288,211.7C282.9,212.1 281.9,211.8 279.3,210.3C276.7,208.9 273.3,204.2 272.1,203" fill="none" stroke="#231f20" stroke-width="1.4"/>
<path d="M261.2,189.2C261.8,189.8 262.8,192.1 264.8,192.9C266.9,193.8 269.6,195.3 273.5,194.3C277.4,193.3 282.7,191 288,187.1C293.3,183.2 300.6,173.9 305.5,171.1C310.4,168.3 312.8,170.2 317.1,170.4C321.5,170.6 326.5,169.7 331.6,172.5C336.7,175.3 344.9,184.7 347.5,187.1" fill="none" stroke="#231f20" stroke-width="1.4"/>
<path d="M272.1,201.6C274.8,199.7 282.9,193.4 288,190C293.1,186.6 297.6,183.4 302.5,181.3C307.4,179.2 312.2,177.8 317.1,177.6C322,177.3 326.8,178.5 331.6,179.8C336.4,181.1 341.8,183.4 346.1,185.6C350.5,187.8 355.8,191 357.7,192.9C359.6,194.8 358.7,196.3 357.7,197.2C356.7,198 354.3,198.4 351.9,198C349.5,197.6 344.6,195.5 343.2,195" fill="none" stroke="#231f20" stroke-width="1.4"/>
<path d="M246,220.4C245.9,223 245.8,231.2 245.5,236C245.2,240.8 245.4,247 244.5,249.4C243.6,251.8 241.2,250.9 240,250.2C238.8,249.5 237.5,247.2 237.3,245.1C237.1,243 237.6,239.3 238.7,237.4C239.8,235.5 243.1,234.2 244,233.5" fill="none" stroke="#231f20" stroke-width="1.4"/>
<path d="M265.5,221.2C266.2,223 268.4,229 270,232C271.6,235 274.2,236.8 275,239.3C275.8,241.8 275,245.3 274.5,247C274,248.7 273.1,249.7 272,249.6C270.9,249.5 268.9,248.2 268,246.5C267.1,244.8 266.6,242.1 266.3,239.3C266.1,236.6 266.5,231.6 266.5,230" fill="none" stroke="#231f20" stroke-width="1.4"/>
<path d="M360.6,280.6C361.4,280.8 364.4,280.8 365.5,281.5C366.6,282.2 367.4,283.2 367.1,285C366.9,286.8 365.7,289 364,292C362.3,295 359.5,299.2 357,303C354.5,306.8 351.7,311.3 349,314.5C346.3,317.7 343.4,319.9 341,322C338.6,324.1 336.8,325.4 334.5,327.1C332.2,328.8 329,331.3 327,332C325,332.7 323.4,332.3 322.5,331.5C321.6,330.7 320.9,328.9 321.5,327C322.1,325.1 323.8,322.6 326,320C328.2,317.4 331.1,314.8 334.5,311.1C337.9,307.4 343,301.9 346.1,298C349.2,294.1 350.9,290.8 353.3,287.9C355.7,285 359.4,281.8 360.6,280.6" fill="none" stroke="#231f20" stroke-width="1.4"/>
<path d="M149.7,286.4C150.8,286 153.4,283.8 156.2,284.3C159,284.8 162.8,287.1 166.4,289.3C170,291.5 174.4,294.6 178,297.5C181.6,300.4 185.1,303.2 188,306.5C190.9,309.8 193.9,313.8 195.5,317C197.1,320.2 197.4,323.7 197.5,326C197.6,328.3 196.8,329.4 196,331C195.2,332.6 194.1,334.8 192.5,335.8C190.9,336.8 189.1,338.3 186.7,337.2C184.3,336.1 181.1,332.5 178,329C174.9,325.5 170.9,319.7 168,316C165.1,312.3 163.3,310.4 160.6,306.7C157.9,303 153.7,297.1 151.9,293.7C150.1,290.3 150.1,287.6 149.7,286.4" fill="none" stroke="#231f20" stroke-width="1.4"/>
<path d="M251,128.3C254.3,128.5 255.2,122.5 259,120.3C262.8,118.1 267.4,116 273.5,115.2C279.6,114.4 288,114.8 295.3,115.2C302.6,115.6 308.6,116.3 317.1,117.4C325.6,118.5 336.4,119.1 346.1,121.8C355.8,124.5 365.4,129.3 375.1,133.4C384.8,137.5 395.6,141.6 404.1,146.4C412.6,151.2 419.1,155.6 425.9,162.4C432.7,169.2 439.6,178.6 444.7,187.1C449.8,195.6 453.2,204.8 456.4,213.2C459.5,221.6 462.2,231.6 463.6,237.8C465,244 465.4,247.1 465,250.5C464.6,253.9 461.7,255.9 461.5,258.5C461.3,261.1 463.8,262.1 464,266C464.2,269.9 463.3,277.2 462.5,282C461.7,286.8 460.7,289.9 459.2,295C457.7,300.1 455.8,305.7 453.4,312.5C451,319.3 448.1,329 444.7,335.8C441.3,342.6 437.5,348.1 433.1,353.2C428.8,358.3 424.2,363.1 418.6,366.2C413.1,369.3 405.9,371.3 399.8,372C393.8,372.7 388.8,372.1 382.3,370.6C375.8,369.2 367.6,366.2 360.6,363.3C353.6,360.4 345.2,356.3 340.3,353.2C335.4,350.1 332.8,347.4 331.5,344.5C330.2,341.6 331.7,338.5 332.5,336C333.3,333.5 335.1,331.2 336.5,329.5C337.9,327.8 341.1,326 341,325.5C340.9,325 338,325.8 336,326.5C334,327.2 330.8,328.2 329,330C327.2,331.8 326.5,334.3 325,337C323.5,339.7 323,342.3 320,346C317,349.7 312.2,354.7 306.9,359C301.6,363.3 294.5,369.2 288,372C281.5,374.8 271.8,374.2 268,375.5C264.2,376.8 266.8,378.6 265,379.5C263.2,380.4 259.2,381 257,381.2C254.8,381.4 253.3,381.3 251.8,380.7C250.3,380.1 248.8,378.3 247.8,377.5C246.8,376.7 248.5,375.9 246,375.7C243.5,375.5 237.6,376.6 233,376.2C228.4,375.8 223.4,375.6 218.6,373.5C213.8,371.4 208,366.6 204.1,363.3C200.2,360 196.9,356.6 195,353.5C193.1,350.4 193.3,346.8 192.5,344.5C191.7,342.2 190.8,340.6 190,339.5C189.2,338.4 187.6,337.4 187.5,338C187.4,338.6 189.3,340.8 189.5,343C189.7,345.2 190.2,348.1 188.5,351C186.8,353.9 184.1,357.4 179.4,360.4C174.8,363.4 166.2,366.4 160.6,369.1C155,371.8 150.9,374.5 146.1,376.4C141.3,378.3 136.4,380.2 131.6,380.7C126.8,381.2 122.9,381.5 117.1,379.3C111.3,377.1 102.5,372.1 96.7,367.7C90.9,363.3 86.6,359 82.2,353.2C77.8,347.4 74.5,340.2 70.6,332.9C66.7,325.6 62.4,317.6 59,309.6C55.6,301.6 52.1,289.7 50,285C47.9,280.3 46.8,282.6 46.5,281.5C46.2,280.4 48.7,280.8 48.5,278.5C48.3,276.2 46.4,272 45.5,268C44.6,264 43.4,258.7 43.1,254.5C42.8,250.3 42.5,247.9 43.5,243C44.5,238.1 46.3,231.7 48.9,224.8C51.5,217.9 54.9,209.3 59,201.6C63.1,193.9 68.2,185.2 73.5,178.4C78.8,171.6 84.6,166.7 90.9,160.9C97.2,155.1 104.5,148.6 111.3,143.5C118.1,138.4 124.3,134 131.6,130.5C138.8,127 145.6,124.6 154.8,122.5C164,120.4 178.5,119.4 186.7,118.1C194.9,116.8 197.6,115 204.1,114.5C210.6,114 220.1,114.5 225.9,115.2C231.7,115.9 234.7,116.7 238.9,118.9C243.1,121.1 247.7,128.1 251,128.3Z" fill="none" stroke="#231f20" stroke-width="2.8" stroke-linejoin="round"/>
<path d="M168.6,291.5C169.9,290.8 176.4,294.8 180,297C183.6,299.2 187.2,302 190,305C192.8,308 194.9,311.8 196.5,315C198.1,318.2 199.2,321.8 199.5,324C199.8,326.2 198.9,327.8 198,328.5C197.1,329.2 196,329.9 194,328.5C192,327.1 188.7,323.1 186,320C183.3,316.9 180.3,313.2 178,310C175.7,306.8 173.6,304.1 172,301C170.4,297.9 167.3,292.2 168.6,291.5Z" fill="#fcd817" stroke="#231f20" stroke-width="2.2"/>
<line x1="210.6" y1="288.6" x2="191.8" y2="306.7" stroke="#231f20" stroke-width="1.4"/>
<rect x="183.8" y="17.6" width="13.6" height="4.6" fill="#231f20"/>
<line x1="190.6" y1="22" x2="190.2" y2="39" stroke="#231f20" stroke-width="1.3"/>
<polygon points="184,38.8 195.2,38.8 193.6,106.4 185,106.4" fill="#e6e7e8" stroke="#231f20" stroke-width="1.2"/>
<line x1="189.6" y1="39" x2="189.4" y2="106.4" stroke="#231f20" stroke-width="1.1"/>
<line x1="189.4" y1="106.4" x2="184.6" y2="308" stroke="#231f20" stroke-width="1.3"/>
</g>
<text x="223.8" y="1804.2" font-size="23" fill="#f6a73b" textLength="288.9" lengthAdjust="spacingAndGlyphs">AAV1-hSyn-FLEX-SF-Venus-</text>
<text x="215.5" y="1830.5" font-size="23" fill="#f6a73b" textLength="158.3" lengthAdjust="spacingAndGlyphs">iGluSnFR.S72A</text><text x="373.8" y="1830.5" font-size="23" textLength="25.5" lengthAdjust="spacingAndGlyphs"> + </text><text x="399.3" y="1830.5" font-size="23" fill="#12a14b" textLength="121.7" lengthAdjust="spacingAndGlyphs">AAV1-hSyn-</text>
<text x="229.4" y="1858.2" font-size="23" fill="#12a14b" textLength="256.9" lengthAdjust="spacingAndGlyphs">FLEX-iGABASnFR.F102G</text><text x="486.3" y="1858.2" font-size="23" textLength="18.9" lengthAdjust="spacingAndGlyphs"> +</text>
<text x="226.8" y="1884.8" font-size="23" fill="#e41f2d" textLength="279.9" lengthAdjust="spacingAndGlyphs">AAV9-hSyn-DIO-tdTomato</text>
<text x="178" y="2091.7" font-size="26" textLength="49.5" lengthAdjust="spacingAndGlyphs">STN</text>
<text x="122.9" y="2215.4" font-size="25" textLength="200.2" lengthAdjust="spacingAndGlyphs">Vglut2-cre mice</text>
<clipPath id="cb"><polygon points="666,8.2 1204,8.4 1198,412.6 659,412.8"/></clipPath>
<mask id="mcb" maskUnits="userSpaceOnUse" x="639" y="-11.8" width="585" height="444.6"><g filter="url(#b8)"><path d="M725.8,17.9C725.8,16.5 730.8,16.5 739,19.5C747.2,22.5 760.8,28.6 775,36C789.2,43.4 808,54.6 824.5,63.9C841,73.2 857.4,82.6 873.8,91.9C890.2,101.2 906,108.6 923,119.8C940,131 959.3,148.3 975.8,159.3C992.3,170.3 1005.9,175.7 1021.8,185.6C1037.7,195.5 1054.8,207.5 1071.2,218.5C1087.7,229.5 1106.8,241 1120.5,251.4C1134.2,261.8 1145.2,269.5 1153.4,281C1161.6,292.5 1167.4,308.4 1169.9,320.5C1172.4,332.6 1171,343.5 1168.2,353.4C1165.5,363.3 1160.2,373.4 1153.4,379.7C1146.6,386 1138.1,390.1 1127.1,391.2C1116.1,392.3 1099.7,390.4 1087.6,386.3C1075.5,382.2 1065.7,375.9 1054.7,366.6C1043.7,357.3 1032.8,342.5 1021.8,330.4C1010.8,318.3 1000,305.7 989,294.2C978,282.7 967,273.4 956,261.3C945,249.2 934,233.3 923,221.8C912,210.3 901.2,201.5 890.3,192.2C879.4,182.9 868.4,175.8 857.4,165.9C846.4,156 835.5,145.1 824.5,133C813.5,120.9 802.6,107.2 791.6,93.5C780.6,79.8 767.5,61.8 758.7,50.8C749.9,39.8 744.5,33.2 739,27.7C733.5,22.2 725.8,19.3 725.8,17.9Z" fill="#fff"/></g></mask>
<g clip-path="url(#cb)">
<polygon points="666,8.2 1204,8.4 1198,412.6 659,412.8" fill="#0f1029"/>
<path d="M660,200C670,171.2 696.7,218.3 720,240C743.3,261.7 773.3,303.3 800,330C826.7,356.7 903.3,386.2 880,400C856.7,413.8 696.7,446.3 660,413C623.3,379.7 650,228.8 660,200Z" fill="#070814" opacity=".6" filter="url(#b18)"/>
<path d="M660,60C676.7,56.7 733.3,101.7 760,130C786.7,158.3 830,218.3 820,230C810,241.7 726.7,213.3 700,200C673.3,186.7 666.7,173.3 660,150C653.3,126.7 643.3,63.3 660,60Z" fill="#0a0b1c" opacity=".5" filter="url(#b18)"/>
<rect x="659" y="8.2" width="545" height="404.6" filter="url(#dapi)" opacity="0.65"/>
<ellipse cx="760" cy="330" rx="130" ry="5" fill="#2a3a6a" opacity=".3" transform="rotate(32 760 330)" filter="url(#b3)"/>
<ellipse cx="700" cy="250" rx="60" ry="3" fill="#1f5a3a" opacity=".3" transform="rotate(30 700 250)" filter="url(#b3)"/>
<g mask="url(#mcb)">
<path d="M725.8,17.9C725.8,16.5 730.8,16.5 739,19.5C747.2,22.5 760.8,28.6 775,36C789.2,43.4 808,54.6 824.5,63.9C841,73.2 857.4,82.6 873.8,91.9C890.2,101.2 906,108.6 923,119.8C940,131 959.3,148.3 975.8,159.3C992.3,170.3 1005.9,175.7 1021.8,185.6C1037.7,195.5 1054.8,207.5 1071.2,218.5C1087.7,229.5 1106.8,241 1120.5,251.4C1134.2,261.8 1145.2,269.5 1153.4,281C1161.6,292.5 1167.4,308.4 1169.9,320.5C1172.4,332.6 1171,343.5 1168.2,353.4C1165.5,363.3 1160.2,373.4 1153.4,379.7C1146.6,386 1138.1,390.1 1127.1,391.2C1116.1,392.3 1099.7,390.4 1087.6,386.3C1075.5,382.2 1065.7,375.9 1054.7,366.6C1043.7,357.3 1032.8,342.5 1021.8,330.4C1010.8,318.3 1000,305.7 989,294.2C978,282.7 967,273.4 956,261.3C945,249.2 934,233.3 923,221.8C912,210.3 901.2,201.5 890.3,192.2C879.4,182.9 868.4,175.8 857.4,165.9C846.4,156 835.5,145.1 824.5,133C813.5,120.9 802.6,107.2 791.6,93.5C780.6,79.8 767.5,61.8 758.7,50.8C749.9,39.8 744.5,33.2 739,27.7C733.5,22.2 725.8,19.3 725.8,17.9Z" fill="#24603e" opacity=".9" filter="url(#b2)"/>
<ellipse cx="860" cy="130" rx="70" ry="22" fill="#7a2a2a" opacity=".7" transform="rotate(38 860 130)" filter="url(#b10)"/>
<ellipse cx="895" cy="165" rx="40" ry="18" fill="#8a8a30" opacity=".6" transform="rotate(38 895 165)" filter="url(#b10)"/>
<ellipse cx="985" cy="265" rx="60" ry="26" fill="#5a9a3a" opacity=".7" transform="rotate(40 985 265)" filter="url(#b12)"/>
<ellipse cx="1095" cy="330" rx="70" ry="45" fill="#70204a" opacity=".8" transform="rotate(45 1095 330)" filter="url(#b14)"/>
<ellipse cx="1060" cy="300" rx="40" ry="30" fill="#30306a" opacity=".5" transform="rotate(40 1060 300)" filter="url(#b10)"/>
<ellipse cx="790" cy="60" rx="50" ry="12" fill="#2e6a3a" opacity=".6" transform="rotate(35 790 60)" filter="url(#b8)"/>
<ellipse cx="940" cy="180" rx="26" ry="28" fill="#1a2a6a" opacity=".7" transform="rotate(0 940 180)" filter="url(#b6)"/>
<ellipse cx="1000" cy="270" rx="110" ry="30" fill="#2a2a80" opacity=".3" transform="rotate(40 1000 270)" filter="url(#b12)"/>
<ellipse cx="830" cy="110" rx="80" ry="18" fill="#2a2a80" opacity=".2" transform="rotate(38 830 110)" filter="url(#b10)"/>
<ellipse cx="965" cy="250" rx="60" ry="24" fill="#8ab040" opacity=".6" transform="rotate(42 965 250)" filter="url(#b12)"/>
<ellipse cx="880" cy="150" rx="48" ry="18" fill="#9aa040" opacity=".6" transform="rotate(38 880 150)" filter="url(#b10)"/>
<ellipse cx="1040" cy="300" rx="40" ry="20" fill="#6aa040" opacity=".5" transform="rotate(42 1040 300)" filter="url(#b10)"/>
<g transform="rotate(35 931.5 210.5)"><rect x="481.5" y="-239.5" width="900" height="900" filter="url(#streakG)" opacity=".3"/></g>
<g transform="rotate(35 931.5 210.5)"><rect x="481.5" y="-239.5" width="900" height="900" filter="url(#streakK)" opacity=".3"/></g>
<ellipse cx="765" cy="42" rx="60" ry="14" fill="#0c1426" opacity=".8" transform="rotate(33 765 42)" filter="url(#b8)"/>
<ellipse cx="1010" cy="200" rx="50" ry="12" fill="#0c1430" opacity=".5" transform="rotate(35 1010 200)" filter="url(#b8)"/>
</g>
<g filter="url(#b1)"><path d="M844 130a2.6 2.0 35 1 0 4.3 3.0a2.6 2.0 35 1 0-4.3-3.0M865 116a2.2 1.7 35 1 0 3.6 2.5a2.2 1.7 35 1 0-3.6-2.5M834 130a2.3 1.7 35 1 0 3.7 2.6a2.3 1.7 35 1 0-3.7-2.6M835 134a1.8 1.3 35 1 0 2.9 2.0a1.8 1.3 35 1 0-2.9-2.0" fill="#ff2a2a" opacity="1"/><path d="M820 90a1.8 1.4 35 1 0 3.0 2.1a1.8 1.4 35 1 0-3.0-2.1M809 74a2.7 2.1 35 1 0 4.4 3.1a2.7 2.1 35 1 0-4.4-3.1M850 105a2.3 1.7 35 1 0 3.7 2.6a2.3 1.7 35 1 0-3.7-2.6M847 110a2.3 1.8 35 1 0 3.8 2.7a2.3 1.8 35 1 0-3.8-2.7M850 146a1.5 1.2 35 1 0 2.5 1.8a1.5 1.2 35 1 0-2.5-1.8M855 156a2.1 1.6 35 1 0 3.5 2.5a2.1 1.6 35 1 0-3.5-2.5M936 172a2.6 2.0 35 1 0 4.3 3.0a2.6 2.0 35 1 0-4.3-3.0M884 120a2.7 2.1 35 1 0 4.5 3.1a2.7 2.1 35 1 0-4.5-3.1M901 133a2.2 1.7 35 1 0 3.6 2.5a2.2 1.7 35 1 0-3.6-2.5M950 199a2.2 1.7 35 1 0 3.5 2.5a2.2 1.7 35 1 0-3.5-2.5M874 161a2.1 1.6 35 1 0 3.4 2.4a2.1 1.6 35 1 0-3.4-2.4M942 193a1.9 1.5 35 1 0 3.1 2.2a1.9 1.5 35 1 0-3.1-2.2M922 185a1.6 1.2 35 1 0 2.5 1.8a1.6 1.2 35 1 0-2.5-1.8M902 169a2.5 1.9 35 1 0 4.1 2.9a2.5 1.9 35 1 0-4.1-2.9M895 145a1.8 1.4 35 1 0 2.9 2.0a1.8 1.4 35 1 0-2.9-2.0M871 141a1.6 1.2 35 1 0 2.7 1.9a1.6 1.2 35 1 0-2.7-1.9M839 103a1.7 1.3 35 1 0 2.8 1.9a1.7 1.3 35 1 0-2.8-1.9" fill="#ff2a2a" opacity=".8"/><path d="M886 157a1.7 1.3 35 1 0 2.9 2.0a1.7 1.3 35 1 0-2.9-2.0M844 125a1.5 1.1 35 1 0 2.4 1.7a1.5 1.1 35 1 0-2.4-1.7M865 149a2.7 2.0 35 1 0 4.4 3.0a2.7 2.0 35 1 0-4.4-3.0M854 130a1.7 1.3 35 1 0 2.8 1.9a1.7 1.3 35 1 0-2.8-1.9M816 85a2.4 1.8 35 1 0 3.9 2.7a2.4 1.8 35 1 0-3.9-2.7M816 102a2.6 2.0 35 1 0 4.3 3.0a2.6 2.0 35 1 0-4.3-3.0M860 101a2.0 1.5 35 1 0 3.2 2.2a2.0 1.5 35 1 0-3.2-2.2M857 110a1.8 1.4 35 1 0 3.0 2.1a1.8 1.4 35 1 0-3.0-2.1M940 190a2.0 1.5 35 1 0 3.2 2.3a2.0 1.5 35 1 0-3.2-2.3M849 135a2.0 1.5 35 1 0 3.3 2.3a2.0 1.5 35 1 0-3.3-2.3M917 173a2.4 1.8 35 1 0 3.9 2.7a2.4 1.8 35 1 0-3.9-2.7M896 165a2.3 1.8 35 1 0 3.8 2.7a2.3 1.8 35 1 0-3.8-2.7" fill="#ff4040" opacity=".5"/><path d="M906 189a1.6 1.2 35 1 0 2.6 1.8a1.6 1.2 35 1 0-2.6-1.8M856 101a2.7 2.0 35 1 0 4.4 3.0a2.7 2.0 35 1 0-4.4-3.0M811 77a2.0 1.5 35 1 0 3.2 2.3a2.0 1.5 35 1 0-3.2-2.3M879 150a1.9 1.4 35 1 0 3.1 2.1a1.9 1.4 35 1 0-3.1-2.1M847 130a1.9 1.5 35 1 0 3.2 2.2a1.9 1.5 35 1 0-3.2-2.2M918 182a1.6 1.3 35 1 0 2.7 1.9a1.6 1.3 35 1 0-2.7-1.9M854 123a2.6 2.0 35 1 0 4.2 2.9a2.6 2.0 35 1 0-4.2-2.9M938 196a2.2 1.7 35 1 0 3.5 2.5a2.2 1.7 35 1 0-3.5-2.5M880 152a2.4 1.9 35 1 0 4.0 2.8a2.4 1.9 35 1 0-4.0-2.8M935 174a1.8 1.4 35 1 0 2.9 2.0a1.8 1.4 35 1 0-2.9-2.0" fill="#f0302a" opacity=".5"/><path d="M867 113a1.5 1.2 35 1 0 2.5 1.8a1.5 1.2 35 1 0-2.5-1.8M920 176a1.4 1.1 35 1 0 2.4 1.7a1.4 1.1 35 1 0-2.4-1.7M855 117a2.2 1.7 35 1 0 3.6 2.5a2.2 1.7 35 1 0-3.6-2.5M858 125a1.9 1.4 35 1 0 3.1 2.1a1.9 1.4 35 1 0-3.1-2.1M838 108a1.6 1.3 35 1 0 2.7 1.9a1.6 1.3 35 1 0-2.7-1.9M913 150a2.1 1.6 35 1 0 3.4 2.4a2.1 1.6 35 1 0-3.4-2.4M839 117a2.6 2.0 35 1 0 4.2 3.0a2.6 2.0 35 1 0-4.2-3.0M839 122a1.8 1.4 35 1 0 3.0 2.1a1.8 1.4 35 1 0-3.0-2.1M947 184a2.0 1.5 35 1 0 3.3 2.3a2.0 1.5 35 1 0-3.3-2.3M917 184a2.6 2.0 35 1 0 4.2 3.0a2.6 2.0 35 1 0-4.2-3.0M918 167a1.5 1.1 35 1 0 2.4 1.7a1.5 1.1 35 1 0-2.4-1.7M834 90a2.6 2.0 35 1 0 4.2 2.9a2.6 2.0 35 1 0-4.2-2.9" fill="#ff5a4a" opacity=".5"/><path d="M870 105a2.0 1.6 35 1 0 3.3 2.3a2.0 1.6 35 1 0-3.3-2.3M860 125a2.0 1.6 35 1 0 3.3 2.3a2.0 1.6 35 1 0-3.3-2.3M887 177a1.6 1.2 35 1 0 2.6 1.8a1.6 1.2 35 1 0-2.6-1.8M849 113a2.3 1.7 35 1 0 3.7 2.6a2.3 1.7 35 1 0-3.7-2.6M874 168a2.7 2.0 35 1 0 4.4 3.1a2.7 2.0 35 1 0-4.4-3.1M836 135a1.5 1.2 35 1 0 2.5 1.7a1.5 1.2 35 1 0-2.5-1.7M876 146a2.4 1.9 35 1 0 4.0 2.8a2.4 1.9 35 1 0-4.0-2.8M860 123a2.7 2.0 35 1 0 4.4 3.1a2.7 2.0 35 1 0-4.4-3.1M881 150a2.1 1.6 35 1 0 3.4 2.4a2.1 1.6 35 1 0-3.4-2.4M912 187a1.6 1.2 35 1 0 2.6 1.8a1.6 1.2 35 1 0-2.6-1.8M905 180a1.9 1.4 35 1 0 3.0 2.1a1.9 1.4 35 1 0-3.0-2.1M888 157a1.5 1.2 35 1 0 2.5 1.7a1.5 1.2 35 1 0-2.5-1.7M861 146a1.7 1.3 35 1 0 2.8 2.0a1.7 1.3 35 1 0-2.8-2.0M841 122a2.7 2.1 35 1 0 4.4 3.1a2.7 2.1 35 1 0-4.4-3.1M885 163a2.6 2.0 35 1 0 4.3 3.0a2.6 2.0 35 1 0-4.3-3.0" fill="#ff2a2a" opacity=".5"/><path d="M846 123a2.4 1.9 35 1 0 4.0 2.8a2.4 1.9 35 1 0-4.0-2.8M837 94a2.2 1.7 35 1 0 3.6 2.5a2.2 1.7 35 1 0-3.6-2.5M862 152a2.0 1.5 35 1 0 3.3 2.3a2.0 1.5 35 1 0-3.3-2.3M890 153a2.1 1.6 35 1 0 3.4 2.4a2.1 1.6 35 1 0-3.4-2.4M866 164a2.5 1.9 35 1 0 4.1 2.9a2.5 1.9 35 1 0-4.1-2.9M900 181a2.2 1.7 35 1 0 3.5 2.5a2.2 1.7 35 1 0-3.5-2.5M848 120a1.6 1.2 35 1 0 2.6 1.8a1.6 1.2 35 1 0-2.6-1.8M881 155a1.6 1.3 35 1 0 2.7 1.9a1.6 1.3 35 1 0-2.7-1.9M868 110a2.7 2.1 35 1 0 4.4 3.1a2.7 2.1 35 1 0-4.4-3.1M928 162a1.5 1.1 35 1 0 2.4 1.7a1.5 1.1 35 1 0-2.4-1.7M814 103a1.7 1.3 35 1 0 2.7 1.9a1.7 1.3 35 1 0-2.7-1.9M885 123a2.0 1.6 35 1 0 3.3 2.3a2.0 1.6 35 1 0-3.3-2.3M916 185a2.2 1.7 35 1 0 3.6 2.5a2.2 1.7 35 1 0-3.6-2.5M927 158a2.0 1.5 35 1 0 3.3 2.3a2.0 1.5 35 1 0-3.3-2.3" fill="#e83050" opacity=".5"/><path d="M842 106a1.6 1.2 35 1 0 2.6 1.8a1.6 1.2 35 1 0-2.6-1.8M878 122a1.8 1.4 35 1 0 2.9 2.0a1.8 1.4 35 1 0-2.9-2.0M913 140a2.4 1.8 35 1 0 3.9 2.7a2.4 1.8 35 1 0-3.9-2.7M881 152a2.1 1.6 35 1 0 3.5 2.4a2.1 1.6 35 1 0-3.5-2.4M823 111a1.5 1.2 35 1 0 2.5 1.7a1.5 1.2 35 1 0-2.5-1.7M880 111a2.2 1.7 35 1 0 3.6 2.5a2.2 1.7 35 1 0-3.6-2.5M836 124a2.6 2.0 35 1 0 4.3 3.0a2.6 2.0 35 1 0-4.3-3.0M862 105a1.7 1.3 35 1 0 2.8 2.0a1.7 1.3 35 1 0-2.8-2.0M876 137a2.2 1.7 35 1 0 3.6 2.5a2.2 1.7 35 1 0-3.6-2.5M830 121a2.7 2.1 35 1 0 4.4 3.1a2.7 2.1 35 1 0-4.4-3.1M945 186a1.5 1.2 35 1 0 2.5 1.8a1.5 1.2 35 1 0-2.5-1.8M916 142a2.0 1.5 35 1 0 3.2 2.3a2.0 1.5 35 1 0-3.2-2.3M925 149a1.5 1.2 35 1 0 2.5 1.8a1.5 1.2 35 1 0-2.5-1.8M933 161a2.4 1.8 35 1 0 3.9 2.7a2.4 1.8 35 1 0-3.9-2.7M833 88a2.1 1.7 35 1 0 3.5 2.5a2.1 1.7 35 1 0-3.5-2.5M920 173a1.5 1.1 35 1 0 2.4 1.7a1.5 1.1 35 1 0-2.4-1.7M809 80a1.9 1.5 35 1 0 3.2 2.2a1.9 1.5 35 1 0-3.2-2.2M932 166a1.6 1.3 35 1 0 2.7 1.9a1.6 1.3 35 1 0-2.7-1.9" fill="#ff4040" opacity=".8"/><path d="M828 110a2.4 1.8 35 1 0 3.9 2.7a2.4 1.8 35 1 0-3.9-2.7M872 125a2.3 1.8 35 1 0 3.8 2.7a2.3 1.8 35 1 0-3.8-2.7M832 126a2.3 1.7 35 1 0 3.7 2.6a2.3 1.7 35 1 0-3.7-2.6M872 167a2.7 2.1 35 1 0 4.4 3.1a2.7 2.1 35 1 0-4.4-3.1M887 130a1.8 1.4 35 1 0 3.0 2.1a1.8 1.4 35 1 0-3.0-2.1M847 110a2.5 1.9 35 1 0 4.1 2.9a2.5 1.9 35 1 0-4.1-2.9M929 178a2.6 2.0 35 1 0 4.2 3.0a2.6 2.0 35 1 0-4.2-3.0M904 171a2.0 1.5 35 1 0 3.2 2.3a2.0 1.5 35 1 0-3.2-2.3M924 153a1.7 1.3 35 1 0 2.8 1.9a1.7 1.3 35 1 0-2.8-1.9M886 147a2.7 2.1 35 1 0 4.4 3.1a2.7 2.1 35 1 0-4.4-3.1M923 187a2.7 2.0 35 1 0 4.3 3.0a2.7 2.0 35 1 0-4.3-3.0M860 128a1.5 1.2 35 1 0 2.5 1.7a1.5 1.2 35 1 0-2.5-1.7M824 101a2.5 1.9 35 1 0 4.1 2.9a2.5 1.9 35 1 0-4.1-2.9M884 151a2.6 2.0 35 1 0 4.3 3.0a2.6 2.0 35 1 0-4.3-3.0M915 196a2.3 1.8 35 1 0 3.8 2.7a2.3 1.8 35 1 0-3.8-2.7M923 154a1.5 1.2 35 1 0 2.5 1.7a1.5 1.2 35 1 0-2.5-1.7M826 121a2.4 1.8 35 1 0 3.9 2.7a2.4 1.8 35 1 0-3.9-2.7M879 169a2.2 1.7 35 1 0 3.7 2.6a2.2 1.7 35 1 0-3.7-2.6M910 135a1.9 1.5 35 1 0 3.1 2.2a1.9 1.5 35 1 0-3.1-2.2M819 95a2.5 1.9 35 1 0 4.1 2.9a2.5 1.9 35 1 0-4.1-2.9M875 109a2.0 1.5 35 1 0 3.3 2.3a2.0 1.5 35 1 0-3.3-2.3M921 174a1.8 1.4 35 1 0 2.9 2.0a1.8 1.4 35 1 0-2.9-2.0M887 140a2.3 1.7 35 1 0 3.7 2.6a2.3 1.7 35 1 0-3.7-2.6M923 149a1.9 1.4 35 1 0 3.0 2.1a1.9 1.4 35 1 0-3.0-2.1" fill="#e83050" opacity=".8"/><path d="M908 134a2.6 2.0 35 1 0 4.2 3.0a2.6 2.0 35 1 0-4.2-3.0M930 186a2.1 1.6 35 1 0 3.5 2.4a2.1 1.6 35 1 0-3.5-2.4M854 126a2.4 1.8 35 1 0 3.9 2.7a2.4 1.8 35 1 0-3.9-2.7M898 127a1.6 1.2 35 1 0 2.6 1.8a1.6 1.2 35 1 0-2.6-1.8M937 195a2.7 2.1 35 1 0 4.4 3.1a2.7 2.1 35 1 0-4.4-3.1M887 150a1.5 1.2 35 1 0 2.5 1.7a1.5 1.2 35 1 0-2.5-1.7M854 143a1.6 1.2 35 1 0 2.6 1.8a1.6 1.2 35 1 0-2.6-1.8M890 143a2.4 1.8 35 1 0 3.9 2.7a2.4 1.8 35 1 0-3.9-2.7M898 177a1.6 1.2 35 1 0 2.6 1.8a1.6 1.2 35 1 0-2.6-1.8M860 122a1.8 1.4 35 1 0 3.0 2.1a1.8 1.4 35 1 0-3.0-2.1M947 183a1.6 1.3 35 1 0 2.7 1.9a1.6 1.3 35 1 0-2.7-1.9M920 148a2.3 1.8 35 1 0 3.8 2.7a2.3 1.8 35 1 0-3.8-2.7M847 147a1.9 1.4 35 1 0 3.0 2.1a1.9 1.4 35 1 0-3.0-2.1" fill="#ff5a4a" opacity=".8"/><path d="M932 172a1.8 1.4 35 1 0 2.9 2.0a1.8 1.4 35 1 0-2.9-2.0M923 149a2.4 1.8 35 1 0 3.9 2.7a2.4 1.8 35 1 0-3.9-2.7M908 178a2.0 1.5 35 1 0 3.3 2.3a2.0 1.5 35 1 0-3.3-2.3M872 131a2.7 2.0 35 1 0 4.4 3.0a2.7 2.0 35 1 0-4.4-3.0M873 158a2.1 1.6 35 1 0 3.4 2.4a2.1 1.6 35 1 0-3.4-2.4M949 186a2.5 1.9 35 1 0 4.1 2.9a2.5 1.9 35 1 0-4.1-2.9M833 101a2.6 2.0 35 1 0 4.3 3.0a2.6 2.0 35 1 0-4.3-3.0M812 86a1.5 1.2 35 1 0 2.5 1.7a1.5 1.2 35 1 0-2.5-1.7M938 172a2.0 1.5 35 1 0 3.3 2.3a2.0 1.5 35 1 0-3.3-2.3M900 127a2.6 2.0 35 1 0 4.3 3.0a2.6 2.0 35 1 0-4.3-3.0M887 163a1.5 1.2 35 1 0 2.5 1.7a1.5 1.2 35 1 0-2.5-1.7M864 152a1.7 1.3 35 1 0 2.8 1.9a1.7 1.3 35 1 0-2.8-1.9M808 91a1.7 1.3 35 1 0 2.8 1.9a1.7 1.3 35 1 0-2.8-1.9M924 164a2.2 1.7 35 1 0 3.6 2.5a2.2 1.7 35 1 0-3.6-2.5M863 129a2.4 1.8 35 1 0 3.9 2.7a2.4 1.8 35 1 0-3.9-2.7M883 152a1.6 1.3 35 1 0 2.7 1.9a1.6 1.3 35 1 0-2.7-1.9M884 114a1.9 1.5 35 1 0 3.2 2.2a1.9 1.5 35 1 0-3.2-2.2M826 87a2.2 1.7 35 1 0 3.6 2.5a2.2 1.7 35 1 0-3.6-2.5M897 126a1.9 1.5 35 1 0 3.2 2.2a1.9 1.5 35 1 0-3.2-2.2M904 187a1.5 1.2 35 1 0 2.5 1.7a1.5 1.2 35 1 0-2.5-1.7M815 97a1.6 1.3 35 1 0 2.7 1.9a1.6 1.3 35 1 0-2.7-1.9M811 78a2.4 1.9 35 1 0 4.0 2.8a2.4 1.9 35 1 0-4.0-2.8" fill="#f0302a" opacity=".8"/><path d="M887 163a1.8 1.4 35 1 0 2.9 2.1a1.8 1.4 35 1 0-2.9-2.1M928 150a2.5 1.9 35 1 0 4.1 2.9a2.5 1.9 35 1 0-4.1-2.9" fill="#ff5a4a" opacity="1"/><path d="M848 145a1.9 1.4 35 1 0 3.1 2.2a1.9 1.4 35 1 0-3.1-2.2" fill="#f0302a" opacity="1"/><path d="M820 89a2.0 1.5 35 1 0 3.2 2.3a2.0 1.5 35 1 0-3.2-2.3M925 174a2.5 1.9 35 1 0 4.1 2.8a2.5 1.9 35 1 0-4.1-2.8M886 151a2.1 1.6 35 1 0 3.5 2.4a2.1 1.6 35 1 0-3.5-2.4M901 129a2.6 2.0 35 1 0 4.3 3.0a2.6 2.0 35 1 0-4.3-3.0M882 114a2.4 1.8 35 1 0 3.9 2.7a2.4 1.8 35 1 0-3.9-2.7" fill="#ff4040" opacity="1"/><path d="M873 146a2.7 2.1 35 1 0 4.4 3.1a2.7 2.1 35 1 0-4.4-3.1" fill="#e83050" opacity="1"/></g>
<g filter="url(#b1)"><path d="M1078 300a2.7 2.1 35 1 0 4.4 3.1a2.7 2.1 35 1 0-4.4-3.1M1067 278a2.7 2.1 35 1 0 4.5 3.1a2.7 2.1 35 1 0-4.5-3.1M1125 378a1.8 1.4 35 1 0 3.0 2.1a1.8 1.4 35 1 0-3.0-2.1M1008 278a1.4 1.1 35 1 0 2.4 1.7a1.4 1.1 35 1 0-2.4-1.7M1117 327a2.1 1.6 35 1 0 3.4 2.4a2.1 1.6 35 1 0-3.4-2.4M1123 386a2.5 2.0 35 1 0 4.2 2.9a2.5 2.0 35 1 0-4.2-2.9M1138 353a2.0 1.6 35 1 0 3.3 2.3a2.0 1.6 35 1 0-3.3-2.3M1071 295a1.7 1.3 35 1 0 2.8 1.9a1.7 1.3 35 1 0-2.8-1.9M1108 301a1.9 1.5 35 1 0 3.2 2.2a1.9 1.5 35 1 0-3.2-2.2M1055 295a1.8 1.4 35 1 0 2.9 2.0a1.8 1.4 35 1 0-2.9-2.0M1036 318a1.7 1.3 35 1 0 2.7 1.9a1.7 1.3 35 1 0-2.7-1.9M1022 258a1.8 1.4 35 1 0 3.0 2.1a1.8 1.4 35 1 0-3.0-2.1M1119 306a2.3 1.8 35 1 0 3.8 2.6a2.3 1.8 35 1 0-3.8-2.6M1115 326a1.7 1.3 35 1 0 2.8 1.9a1.7 1.3 35 1 0-2.8-1.9M1105 373a1.9 1.4 35 1 0 3.0 2.1a1.9 1.4 35 1 0-3.0-2.1M1122 321a1.9 1.4 35 1 0 3.0 2.1a1.9 1.4 35 1 0-3.0-2.1M1068 365a1.7 1.3 35 1 0 2.7 1.9a1.7 1.3 35 1 0-2.7-1.9M973 251a2.4 1.8 35 1 0 3.9 2.7a2.4 1.8 35 1 0-3.9-2.7M1113 367a2.5 1.9 35 1 0 4.0 2.8a2.5 1.9 35 1 0-4.0-2.8" fill="#d03a6a" opacity=".5"/><path d="M1057 342a1.5 1.1 35 1 0 2.4 1.7a1.5 1.1 35 1 0-2.4-1.7M1066 352a1.8 1.4 35 1 0 3.0 2.1a1.8 1.4 35 1 0-3.0-2.1M1012 297a2.0 1.5 35 1 0 3.2 2.3a2.0 1.5 35 1 0-3.2-2.3M1081 300a1.6 1.3 35 1 0 2.7 1.9a1.6 1.3 35 1 0-2.7-1.9M1101 318a2.4 1.9 35 1 0 4.0 2.8a2.4 1.9 35 1 0-4.0-2.8M1141 345a2.6 2.0 35 1 0 4.2 3.0a2.6 2.0 35 1 0-4.2-3.0M1075 304a2.0 1.5 35 1 0 3.3 2.3a2.0 1.5 35 1 0-3.3-2.3M1087 367a1.9 1.5 35 1 0 3.1 2.2a1.9 1.5 35 1 0-3.1-2.2M1110 321a2.6 2.0 35 1 0 4.2 3.0a2.6 2.0 35 1 0-4.2-3.0M1046 334a2.3 1.8 35 1 0 3.8 2.6a2.3 1.8 35 1 0-3.8-2.6M1109 358a2.6 2.0 35 1 0 4.3 3.0a2.6 2.0 35 1 0-4.3-3.0M1057 357a2.0 1.5 35 1 0 3.2 2.3a2.0 1.5 35 1 0-3.2-2.3M1115 369a2.7 2.1 35 1 0 4.4 3.1a2.7 2.1 35 1 0-4.4-3.1M1078 369a1.6 1.2 35 1 0 2.6 1.8a1.6 1.2 35 1 0-2.6-1.8M1109 320a2.2 1.7 35 1 0 3.7 2.6a2.2 1.7 35 1 0-3.7-2.6M1092 294a2.7 2.0 35 1 0 4.3 3.0a2.7 2.0 35 1 0-4.3-3.0M1111 336a2.3 1.8 35 1 0 3.8 2.7a2.3 1.8 35 1 0-3.8-2.7M1070 355a1.9 1.5 35 1 0 3.1 2.2a1.9 1.5 35 1 0-3.1-2.2M1150 356a2.2 1.7 35 1 0 3.6 2.5a2.2 1.7 35 1 0-3.6-2.5M1017 282a2.0 1.6 35 1 0 3.3 2.3a2.0 1.6 35 1 0-3.3-2.3M1020 265a1.8 1.4 35 1 0 2.9 2.0a1.8 1.4 35 1 0-2.9-2.0M1133 352a2.7 2.1 35 1 0 4.4 3.1a2.7 2.1 35 1 0-4.4-3.1M1071 287a2.6 2.0 35 1 0 4.2 3.0a2.6 2.0 35 1 0-4.2-3.0" fill="#ff5a4a" opacity=".8"/><path d="M1054 311a2.7 2.0 35 1 0 4.3 3.0a2.7 2.0 35 1 0-4.3-3.0M1014 284a1.5 1.2 35 1 0 2.5 1.7a1.5 1.2 35 1 0-2.5-1.7M1138 332a1.5 1.2 35 1 0 2.5 1.7a1.5 1.2 35 1 0-2.5-1.7M1070 299a1.4 1.1 35 1 0 2.3 1.6a1.4 1.1 35 1 0-2.3-1.6M1106 367a2.3 1.8 35 1 0 3.8 2.7a2.3 1.8 35 1 0-3.8-2.7M1083 312a1.5 1.2 35 1 0 2.5 1.7a1.5 1.2 35 1 0-2.5-1.7M1031 297a2.3 1.8 35 1 0 3.8 2.7a2.3 1.8 35 1 0-3.8-2.7M992 267a1.5 1.1 35 1 0 2.4 1.7a1.5 1.1 35 1 0-2.4-1.7M1070 358a2.3 1.8 35 1 0 3.8 2.7a2.3 1.8 35 1 0-3.8-2.7M1106 299a2.2 1.7 35 1 0 3.6 2.6a2.2 1.7 35 1 0-3.6-2.6M1085 339a1.6 1.2 35 1 0 2.6 1.8a1.6 1.2 35 1 0-2.6-1.8M1050 329a1.5 1.1 35 1 0 2.4 1.7a1.5 1.1 35 1 0-2.4-1.7M1036 273a2.3 1.8 35 1 0 3.8 2.6a2.3 1.8 35 1 0-3.8-2.6M1144 357a2.5 1.9 35 1 0 4.0 2.8a2.5 1.9 35 1 0-4.0-2.8M1087 374a1.9 1.4 35 1 0 3.1 2.2a1.9 1.4 35 1 0-3.1-2.2M1032 262a2.3 1.8 35 1 0 3.8 2.7a2.3 1.8 35 1 0-3.8-2.7M1075 351a2.3 1.7 35 1 0 3.7 2.6a2.3 1.7 35 1 0-3.7-2.6M1021 315a2.5 1.9 35 1 0 4.1 2.9a2.5 1.9 35 1 0-4.1-2.9M1075 334a1.8 1.4 35 1 0 3.0 2.1a1.8 1.4 35 1 0-3.0-2.1" fill="#ff5a4a" opacity=".5"/><path d="M1128 350a2.2 1.7 35 1 0 3.5 2.5a2.2 1.7 35 1 0-3.5-2.5M1013 300a2.6 2.0 35 1 0 4.3 3.0a2.6 2.0 35 1 0-4.3-3.0M1036 294a2.6 2.0 35 1 0 4.3 3.0a2.6 2.0 35 1 0-4.3-3.0M1128 320a1.7 1.3 35 1 0 2.8 1.9a1.7 1.3 35 1 0-2.8-1.9M1066 303a2.4 1.9 35 1 0 3.9 2.8a2.4 1.9 35 1 0-3.9-2.8M1069 276a1.5 1.2 35 1 0 2.5 1.7a1.5 1.2 35 1 0-2.5-1.7M989 256a2.2 1.7 35 1 0 3.6 2.5a2.2 1.7 35 1 0-3.6-2.5M981 246a2.6 2.0 35 1 0 4.3 3.0a2.6 2.0 35 1 0-4.3-3.0M1098 372a1.7 1.3 35 1 0 2.7 1.9a1.7 1.3 35 1 0-2.7-1.9M979 254a1.5 1.2 35 1 0 2.5 1.7a1.5 1.2 35 1 0-2.5-1.7M1038 336a1.6 1.2 35 1 0 2.6 1.8a1.6 1.2 35 1 0-2.6-1.8M1090 304a1.5 1.2 35 1 0 2.5 1.8a1.5 1.2 35 1 0-2.5-1.8M1035 275a2.1 1.6 35 1 0 3.4 2.4a2.1 1.6 35 1 0-3.4-2.4M1085 310a2.4 1.8 35 1 0 3.9 2.7a2.4 1.8 35 1 0-3.9-2.7M1044 272a2.0 1.6 35 1 0 3.3 2.3a2.0 1.6 35 1 0-3.3-2.3M1127 313a1.7 1.3 35 1 0 2.8 1.9a1.7 1.3 35 1 0-2.8-1.9M1107 327a2.7 2.1 35 1 0 4.4 3.1a2.7 2.1 35 1 0-4.4-3.1M1133 357a2.0 1.6 35 1 0 3.3 2.3a2.0 1.6 35 1 0-3.3-2.3M988 260a2.0 1.6 35 1 0 3.3 2.3a2.0 1.6 35 1 0-3.3-2.3M1077 352a2.6 2.0 35 1 0 4.2 3.0a2.6 2.0 35 1 0-4.2-3.0M961 231a2.7 2.1 35 1 0 4.4 3.1a2.7 2.1 35 1 0-4.4-3.1M1141 358a2.5 1.9 35 1 0 4.1 2.9a2.5 1.9 35 1 0-4.1-2.9M1071 318a2.3 1.8 35 1 0 3.8 2.7a2.3 1.8 35 1 0-3.8-2.7" fill="#f0302a" opacity=".8"/><path d="M1097 377a1.9 1.5 35 1 0 3.1 2.2a1.9 1.5 35 1 0-3.1-2.2M1061 320a2.7 2.1 35 1 0 4.4 3.1a2.7 2.1 35 1 0-4.4-3.1M1018 297a2.1 1.6 35 1 0 3.4 2.4a2.1 1.6 35 1 0-3.4-2.4M1118 358a2.6 2.0 35 1 0 4.3 3.0a2.6 2.0 35 1 0-4.3-3.0M1025 312a1.4 1.1 35 1 0 2.4 1.7a1.4 1.1 35 1 0-2.4-1.7M1138 327a2.1 1.6 35 1 0 3.5 2.4a2.1 1.6 35 1 0-3.5-2.4M1057 322a2.4 1.8 35 1 0 3.9 2.7a2.4 1.8 35 1 0-3.9-2.7M1043 302a2.5 1.9 35 1 0 4.1 2.9a2.5 1.9 35 1 0-4.1-2.9M1061 273a1.6 1.2 35 1 0 2.6 1.8a1.6 1.2 35 1 0-2.6-1.8M1076 310a1.6 1.2 35 1 0 2.6 1.8a1.6 1.2 35 1 0-2.6-1.8M1026 315a1.5 1.1 35 1 0 2.4 1.7a1.5 1.1 35 1 0-2.4-1.7M999 256a1.5 1.2 35 1 0 2.5 1.8a1.5 1.2 35 1 0-2.5-1.8M1027 307a1.8 1.4 35 1 0 3.0 2.1a1.8 1.4 35 1 0-3.0-2.1M1098 371a2.3 1.8 35 1 0 3.8 2.6a2.3 1.8 35 1 0-3.8-2.6M1093 365a1.6 1.2 35 1 0 2.6 1.8a1.6 1.2 35 1 0-2.6-1.8M1139 347a2.4 1.9 35 1 0 4.0 2.8a2.4 1.9 35 1 0-4.0-2.8" fill="#f0302a" opacity=".5"/><path d="M1025 325a2.0 1.5 35 1 0 3.3 2.3a2.0 1.5 35 1 0-3.3-2.3M1097 319a2.0 1.5 35 1 0 3.2 2.3a2.0 1.5 35 1 0-3.2-2.3M1064 305a2.0 1.5 35 1 0 3.3 2.3a2.0 1.5 35 1 0-3.3-2.3M1092 292a2.7 2.1 35 1 0 4.5 3.1a2.7 2.1 35 1 0-4.5-3.1M1084 351a1.6 1.2 35 1 0 2.6 1.8a1.6 1.2 35 1 0-2.6-1.8M1148 346a2.2 1.7 35 1 0 3.5 2.5a2.2 1.7 35 1 0-3.5-2.5M986 241a1.9 1.5 35 1 0 3.1 2.2a1.9 1.5 35 1 0-3.1-2.2M1149 345a2.0 1.5 35 1 0 3.2 2.2a2.0 1.5 35 1 0-3.2-2.2M1050 282a2.0 1.6 35 1 0 3.3 2.3a2.0 1.6 35 1 0-3.3-2.3M1025 309a1.5 1.1 35 1 0 2.4 1.7a1.5 1.1 35 1 0-2.4-1.7M1029 293a1.7 1.3 35 1 0 2.8 2.0a1.7 1.3 35 1 0-2.8-2.0M1010 292a1.5 1.2 35 1 0 2.5 1.8a1.5 1.2 35 1 0-2.5-1.8M1074 336a2.2 1.7 35 1 0 3.6 2.5a2.2 1.7 35 1 0-3.6-2.5M1041 300a1.7 1.3 35 1 0 2.9 2.0a1.7 1.3 35 1 0-2.9-2.0M1129 379a1.5 1.1 35 1 0 2.4 1.7a1.5 1.1 35 1 0-2.4-1.7M1082 344a2.6 2.0 35 1 0 4.2 3.0a2.6 2.0 35 1 0-4.2-3.0M1122 378a2.2 1.7 35 1 0 3.5 2.5a2.2 1.7 35 1 0-3.5-2.5M1124 345a2.6 2.0 35 1 0 4.3 3.0a2.6 2.0 35 1 0-4.3-3.0M1091 332a2.3 1.8 35 1 0 3.8 2.6a2.3 1.8 35 1 0-3.8-2.6M1021 262a2.6 2.0 35 1 0 4.2 3.0a2.6 2.0 35 1 0-4.2-3.0M1143 368a1.5 1.2 35 1 0 2.5 1.8a1.5 1.2 35 1 0-2.5-1.8M1040 280a1.5 1.2 35 1 0 2.5 1.7a1.5 1.2 35 1 0-2.5-1.7M1068 305a2.0 1.5 35 1 0 3.2 2.3a2.0 1.5 35 1 0-3.2-2.3M1090 358a2.1 1.6 35 1 0 3.5 2.4a2.1 1.6 35 1 0-3.5-2.4M1007 260a1.5 1.2 35 1 0 2.5 1.7a1.5 1.2 35 1 0-2.5-1.7M1134 350a2.0 1.6 35 1 0 3.3 2.3a2.0 1.6 35 1 0-3.3-2.3M1117 357a1.9 1.5 35 1 0 3.1 2.2a1.9 1.5 35 1 0-3.1-2.2" fill="#ff2a2a" opacity=".5"/><path d="M1062 339a2.0 1.6 35 1 0 3.3 2.3a2.0 1.6 35 1 0-3.3-2.3M1002 284a2.1 1.6 35 1 0 3.4 2.4a2.1 1.6 35 1 0-3.4-2.4M1033 306a2.7 2.1 35 1 0 4.5 3.1a2.7 2.1 35 1 0-4.5-3.1M992 253a1.5 1.1 35 1 0 2.4 1.7a1.5 1.1 35 1 0-2.4-1.7M1120 323a1.4 1.1 35 1 0 2.4 1.7a1.4 1.1 35 1 0-2.4-1.7M1054 317a1.6 1.2 35 1 0 2.6 1.8a1.6 1.2 35 1 0-2.6-1.8M1051 273a1.9 1.5 35 1 0 3.1 2.2a1.9 1.5 35 1 0-3.1-2.2M964 236a2.5 1.9 35 1 0 4.1 2.9a2.5 1.9 35 1 0-4.1-2.9M1085 335a1.7 1.3 35 1 0 2.8 2.0a1.7 1.3 35 1 0-2.8-2.0M1091 340a1.6 1.2 35 1 0 2.6 1.8a1.6 1.2 35 1 0-2.6-1.8M1088 359a1.9 1.5 35 1 0 3.2 2.2a1.9 1.5 35 1 0-3.2-2.2M1008 287a2.0 1.5 35 1 0 3.3 2.3a2.0 1.5 35 1 0-3.3-2.3M1098 370a2.0 1.5 35 1 0 3.3 2.3a2.0 1.5 35 1 0-3.3-2.3M1071 354a2.4 1.9 35 1 0 4.0 2.8a2.4 1.9 35 1 0-4.0-2.8M1031 288a1.8 1.4 35 1 0 3.0 2.1a1.8 1.4 35 1 0-3.0-2.1M1053 286a2.0 1.5 35 1 0 3.2 2.3a2.0 1.5 35 1 0-3.2-2.3M1069 338a1.6 1.2 35 1 0 2.6 1.8a1.6 1.2 35 1 0-2.6-1.8M1123 314a2.4 1.8 35 1 0 3.9 2.7a2.4 1.8 35 1 0-3.9-2.7M1128 320a2.0 1.6 35 1 0 3.3 2.3a2.0 1.6 35 1 0-3.3-2.3M1066 358a1.6 1.2 35 1 0 2.6 1.9a1.6 1.2 35 1 0-2.6-1.9M1123 384a2.5 1.9 35 1 0 4.1 2.9a2.5 1.9 35 1 0-4.1-2.9M1034 308a2.4 1.9 35 1 0 4.0 2.8a2.4 1.9 35 1 0-4.0-2.8M1141 350a2.0 1.5 35 1 0 3.3 2.3a2.0 1.5 35 1 0-3.3-2.3" fill="#e83050" opacity=".8"/><path d="M1128 315a1.7 1.3 35 1 0 2.7 1.9a1.7 1.3 35 1 0-2.7-1.9M1111 311a1.6 1.2 35 1 0 2.6 1.8a1.6 1.2 35 1 0-2.6-1.8M1062 303a2.3 1.7 35 1 0 3.7 2.6a2.3 1.7 35 1 0-3.7-2.6M1041 287a1.9 1.4 35 1 0 3.0 2.1a1.9 1.4 35 1 0-3.0-2.1M982 254a1.9 1.5 35 1 0 3.1 2.2a1.9 1.5 35 1 0-3.1-2.2M1143 338a2.5 1.9 35 1 0 4.0 2.8a2.5 1.9 35 1 0-4.0-2.8M1078 279a2.2 1.7 35 1 0 3.6 2.6a2.2 1.7 35 1 0-3.6-2.6M1043 286a1.9 1.5 35 1 0 3.2 2.2a1.9 1.5 35 1 0-3.2-2.2M1079 304a1.7 1.3 35 1 0 2.8 1.9a1.7 1.3 35 1 0-2.8-1.9M1066 337a2.2 1.7 35 1 0 3.7 2.6a2.2 1.7 35 1 0-3.7-2.6M1129 367a2.4 1.8 35 1 0 3.9 2.7a2.4 1.8 35 1 0-3.9-2.7M1002 293a2.4 1.8 35 1 0 3.9 2.7a2.4 1.8 35 1 0-3.9-2.7M1021 311a2.4 1.8 35 1 0 3.9 2.7a2.4 1.8 35 1 0-3.9-2.7M1095 303a1.7 1.3 35 1 0 2.7 1.9a1.7 1.3 35 1 0-2.7-1.9M1018 282a2.1 1.6 35 1 0 3.5 2.4a2.1 1.6 35 1 0-3.5-2.4M1030 281a1.9 1.5 35 1 0 3.1 2.2a1.9 1.5 35 1 0-3.1-2.2" fill="#d03a6a" opacity=".8"/><path d="M1071 349a2.6 2.0 35 1 0 4.3 3.0a2.6 2.0 35 1 0-4.3-3.0M1095 315a2.1 1.7 35 1 0 3.5 2.5a2.1 1.7 35 1 0-3.5-2.5M1082 314a1.5 1.2 35 1 0 2.5 1.7a1.5 1.2 35 1 0-2.5-1.7M1108 329a2.6 2.0 35 1 0 4.3 3.0a2.6 2.0 35 1 0-4.3-3.0M996 279a2.3 1.8 35 1 0 3.8 2.6a2.3 1.8 35 1 0-3.8-2.6M1112 333a2.4 1.8 35 1 0 3.9 2.7a2.4 1.8 35 1 0-3.9-2.7M1002 263a1.5 1.1 35 1 0 2.4 1.7a1.5 1.1 35 1 0-2.4-1.7M1102 340a2.7 2.1 35 1 0 4.4 3.1a2.7 2.1 35 1 0-4.4-3.1M1108 383a2.6 2.0 35 1 0 4.3 3.0a2.6 2.0 35 1 0-4.3-3.0M1034 293a1.9 1.5 35 1 0 3.2 2.2a1.9 1.5 35 1 0-3.2-2.2M1036 332a2.4 1.8 35 1 0 3.9 2.7a2.4 1.8 35 1 0-3.9-2.7M1129 354a1.5 1.1 35 1 0 2.4 1.7a1.5 1.1 35 1 0-2.4-1.7" fill="#ff4040" opacity=".5"/><path d="M1134 348a2.5 1.9 35 1 0 4.1 2.9a2.5 1.9 35 1 0-4.1-2.9M1061 304a2.7 2.1 35 1 0 4.5 3.1a2.7 2.1 35 1 0-4.5-3.1M1143 332a2.3 1.8 35 1 0 3.7 2.6a2.3 1.8 35 1 0-3.7-2.6M1081 286a1.9 1.4 35 1 0 3.0 2.1a1.9 1.4 35 1 0-3.0-2.1M1125 313a1.7 1.3 35 1 0 2.7 1.9a1.7 1.3 35 1 0-2.7-1.9M1028 267a1.6 1.2 35 1 0 2.5 1.8a1.6 1.2 35 1 0-2.5-1.8M1136 323a1.7 1.3 35 1 0 2.8 2.0a1.7 1.3 35 1 0-2.8-2.0M1080 303a2.6 2.0 35 1 0 4.3 3.0a2.6 2.0 35 1 0-4.3-3.0M1116 319a2.5 1.9 35 1 0 4.1 2.9a2.5 1.9 35 1 0-4.1-2.9M1056 311a1.6 1.2 35 1 0 2.5 1.8a1.6 1.2 35 1 0-2.5-1.8M1073 323a1.9 1.5 35 1 0 3.2 2.2a1.9 1.5 35 1 0-3.2-2.2M1019 301a2.2 1.7 35 1 0 3.7 2.6a2.2 1.7 35 1 0-3.7-2.6M1070 358a1.7 1.3 35 1 0 2.8 2.0a1.7 1.3 35 1 0-2.8-2.0M1051 286a2.0 1.5 35 1 0 3.2 2.3a2.0 1.5 35 1 0-3.2-2.3" fill="#e83050" opacity=".5"/><path d="M1107 355a1.8 1.4 35 1 0 3.0 2.1a1.8 1.4 35 1 0-3.0-2.1M1147 360a2.1 1.6 35 1 0 3.4 2.4a2.1 1.6 35 1 0-3.4-2.4M1117 385a2.7 2.0 35 1 0 4.4 3.1a2.7 2.0 35 1 0-4.4-3.1M998 275a2.3 1.8 35 1 0 3.8 2.7a2.3 1.8 35 1 0-3.8-2.7M1012 260a1.6 1.2 35 1 0 2.6 1.8a1.6 1.2 35 1 0-2.6-1.8M1034 285a2.1 1.7 35 1 0 3.5 2.5a2.1 1.7 35 1 0-3.5-2.5M1111 343a1.6 1.2 35 1 0 2.6 1.8a1.6 1.2 35 1 0-2.6-1.8M1068 289a1.9 1.4 35 1 0 3.0 2.1a1.9 1.4 35 1 0-3.0-2.1M1133 338a2.0 1.6 35 1 0 3.4 2.3a2.0 1.6 35 1 0-3.4-2.3M1060 270a1.6 1.2 35 1 0 2.6 1.8a1.6 1.2 35 1 0-2.6-1.8M1157 348a2.6 2.0 35 1 0 4.2 3.0a2.6 2.0 35 1 0-4.2-3.0M1132 316a1.5 1.2 35 1 0 2.4 1.7a1.5 1.2 35 1 0-2.4-1.7M1083 285a1.5 1.1 35 1 0 2.4 1.7a1.5 1.1 35 1 0-2.4-1.7M1017 287a1.6 1.2 35 1 0 2.6 1.8a1.6 1.2 35 1 0-2.6-1.8M1079 331a2.4 1.9 35 1 0 4.0 2.8a2.4 1.9 35 1 0-4.0-2.8" fill="#ff4040" opacity=".8"/><path d="M1092 376a2.2 1.7 35 1 0 3.6 2.5a2.2 1.7 35 1 0-3.6-2.5M1105 375a1.5 1.1 35 1 0 2.4 1.7a1.5 1.1 35 1 0-2.4-1.7M1096 373a2.7 2.1 35 1 0 4.5 3.1a2.7 2.1 35 1 0-4.5-3.1M1042 300a2.1 1.6 35 1 0 3.4 2.4a2.1 1.6 35 1 0-3.4-2.4M987 264a2.0 1.6 35 1 0 3.3 2.3a2.0 1.6 35 1 0-3.3-2.3M991 265a2.1 1.6 35 1 0 3.4 2.4a2.1 1.6 35 1 0-3.4-2.4M1059 349a1.9 1.5 35 1 0 3.2 2.2a1.9 1.5 35 1 0-3.2-2.2M1096 364a2.1 1.6 35 1 0 3.5 2.5a2.1 1.6 35 1 0-3.5-2.5M1055 334a1.5 1.1 35 1 0 2.4 1.7a1.5 1.1 35 1 0-2.4-1.7M1083 338a2.0 1.5 35 1 0 3.2 2.2a2.0 1.5 35 1 0-3.2-2.2M1140 369a2.7 2.0 35 1 0 4.4 3.1a2.7 2.0 35 1 0-4.4-3.1M996 284a1.5 1.1 35 1 0 2.4 1.7a1.5 1.1 35 1 0-2.4-1.7M1006 263a2.7 2.1 35 1 0 4.4 3.1a2.7 2.1 35 1 0-4.4-3.1M1101 362a2.4 1.9 35 1 0 4.0 2.8a2.4 1.9 35 1 0-4.0-2.8M1118 350a2.1 1.6 35 1 0 3.4 2.4a2.1 1.6 35 1 0-3.4-2.4M1093 363a1.8 1.4 35 1 0 3.0 2.1a1.8 1.4 35 1 0-3.0-2.1M1130 361a2.0 1.6 35 1 0 3.3 2.3a2.0 1.6 35 1 0-3.3-2.3M1019 292a1.7 1.3 35 1 0 2.7 1.9a1.7 1.3 35 1 0-2.7-1.9M1093 323a2.2 1.7 35 1 0 3.5 2.5a2.2 1.7 35 1 0-3.5-2.5M1090 319a2.3 1.8 35 1 0 3.8 2.7a2.3 1.8 35 1 0-3.8-2.7M1081 290a2.5 1.9 35 1 0 4.1 2.9a2.5 1.9 35 1 0-4.1-2.9M1020 253a1.5 1.2 35 1 0 2.5 1.7a1.5 1.2 35 1 0-2.5-1.7M1058 304a1.8 1.4 35 1 0 2.9 2.0a1.8 1.4 35 1 0-2.9-2.0" fill="#ff2a2a" opacity=".8"/></g>
<g filter="url(#b1)"><path d="M1102 290a1.8 1.4 35 1 0 3.0 2.1a1.8 1.4 35 1 0-3.0-2.1M975 176a1.5 1.2 35 1 0 2.5 1.7a1.5 1.2 35 1 0-2.5-1.7M1096 301a2.2 1.7 35 1 0 3.6 2.5a2.2 1.7 35 1 0-3.6-2.5M1096 242a2.2 1.7 35 1 0 3.5 2.5a2.2 1.7 35 1 0-3.5-2.5M1054 363a2.3 1.8 35 1 0 3.8 2.6a2.3 1.8 35 1 0-3.8-2.6M1043 263a2.1 1.6 35 1 0 3.4 2.4a2.1 1.6 35 1 0-3.4-2.4M1123 343a2.1 1.6 35 1 0 3.4 2.4a2.1 1.6 35 1 0-3.4-2.4M1062 270a1.4 1.1 35 1 0 2.3 1.6a1.4 1.1 35 1 0-2.3-1.6M1046 294a1.9 1.5 35 1 0 3.1 2.2a1.9 1.5 35 1 0-3.1-2.2M934 137a2.1 1.6 35 1 0 3.4 2.4a2.1 1.6 35 1 0-3.4-2.4M944 210a2.3 1.7 35 1 0 3.7 2.6a2.3 1.7 35 1 0-3.7-2.6M1010 290a1.7 1.3 35 1 0 2.7 1.9a1.7 1.3 35 1 0-2.7-1.9M1089 242a1.6 1.2 35 1 0 2.6 1.8a1.6 1.2 35 1 0-2.6-1.8M1053 241a2.3 1.8 35 1 0 3.8 2.7a2.3 1.8 35 1 0-3.8-2.7M946 208a2.2 1.7 35 1 0 3.6 2.5a2.2 1.7 35 1 0-3.6-2.5" fill="#48b848" opacity=".5"/><path d="M941 136a2.1 1.6 35 1 0 3.4 2.4a2.1 1.6 35 1 0-3.4-2.4M1097 378a1.4 1.1 35 1 0 2.2 1.6a1.4 1.1 35 1 0-2.2-1.6M899 176a1.3 1.0 35 1 0 2.2 1.5a1.3 1.0 35 1 0-2.2-1.5M1063 367a1.6 1.3 35 1 0 2.7 1.9a1.6 1.3 35 1 0-2.7-1.9M979 263a1.8 1.4 35 1 0 3.0 2.1a1.8 1.4 35 1 0-3.0-2.1M1085 285a1.9 1.5 35 1 0 3.1 2.2a1.9 1.5 35 1 0-3.1-2.2M1018 205a1.5 1.1 35 1 0 2.4 1.7a1.5 1.1 35 1 0-2.4-1.7M964 224a1.3 1.0 35 1 0 2.1 1.5a1.3 1.0 35 1 0-2.1-1.5M1142 359a1.6 1.3 35 1 0 2.7 1.9a1.6 1.3 35 1 0-2.7-1.9" fill="#a6e06a" opacity=".5"/><path d="M1090 275a1.6 1.2 35 1 0 2.6 1.8a1.6 1.2 35 1 0-2.6-1.8M917 202a1.5 1.2 35 1 0 2.5 1.8a1.5 1.2 35 1 0-2.5-1.8M1005 201a2.2 1.7 35 1 0 3.7 2.6a2.2 1.7 35 1 0-3.7-2.6M1132 313a1.7 1.3 35 1 0 2.8 1.9a1.7 1.3 35 1 0-2.8-1.9M1115 262a1.8 1.4 35 1 0 2.9 2.0a1.8 1.4 35 1 0-2.9-2.0M1111 253a1.6 1.2 35 1 0 2.6 1.8a1.6 1.2 35 1 0-2.6-1.8M1032 240a1.4 1.1 35 1 0 2.3 1.6a1.4 1.1 35 1 0-2.3-1.6M1089 382a2.2 1.7 35 1 0 3.5 2.5a2.2 1.7 35 1 0-3.5-2.5M819 110a1.7 1.3 35 1 0 2.7 1.9a1.7 1.3 35 1 0-2.7-1.9M1043 228a1.5 1.2 35 1 0 2.5 1.8a1.5 1.2 35 1 0-2.5-1.8M1083 249a2.0 1.5 35 1 0 3.2 2.3a2.0 1.5 35 1 0-3.2-2.3M879 114a1.7 1.3 35 1 0 2.7 1.9a1.7 1.3 35 1 0-2.7-1.9M956 243a2.2 1.7 35 1 0 3.6 2.5a2.2 1.7 35 1 0-3.6-2.5M977 207a1.6 1.2 35 1 0 2.6 1.8a1.6 1.2 35 1 0-2.6-1.8M1085 290a1.9 1.5 35 1 0 3.1 2.2a1.9 1.5 35 1 0-3.1-2.2M1022 260a2.0 1.5 35 1 0 3.2 2.3a2.0 1.5 35 1 0-3.2-2.3" fill="#d0e070" opacity=".5"/><path d="M868 107a2.1 1.6 35 1 0 3.5 2.4a2.1 1.6 35 1 0-3.5-2.4M927 148a1.3 1.0 35 1 0 2.1 1.5a1.3 1.0 35 1 0-2.1-1.5M829 81a1.6 1.2 35 1 0 2.6 1.9a1.6 1.2 35 1 0-2.6-1.9M900 114a2.0 1.6 35 1 0 3.4 2.4a2.0 1.6 35 1 0-3.4-2.4M953 217a1.4 1.1 35 1 0 2.3 1.6a1.4 1.1 35 1 0-2.3-1.6M858 89a1.9 1.5 35 1 0 3.1 2.2a1.9 1.5 35 1 0-3.1-2.2M1002 214a1.5 1.1 35 1 0 2.4 1.7a1.5 1.1 35 1 0-2.4-1.7M996 226a1.7 1.3 35 1 0 2.7 1.9a1.7 1.3 35 1 0-2.7-1.9M1095 354a1.9 1.5 35 1 0 3.2 2.2a1.9 1.5 35 1 0-3.2-2.2M831 73a1.7 1.3 35 1 0 2.8 1.9a1.7 1.3 35 1 0-2.8-1.9M1090 293a1.3 1.0 35 1 0 2.2 1.5a1.3 1.0 35 1 0-2.2-1.5M852 85a1.9 1.5 35 1 0 3.1 2.2a1.9 1.5 35 1 0-3.1-2.2M1043 250a1.4 1.0 35 1 0 2.2 1.5a1.4 1.0 35 1 0-2.2-1.5M888 158a1.6 1.2 35 1 0 2.6 1.8a1.6 1.2 35 1 0-2.6-1.8M1103 371a1.9 1.4 35 1 0 3.1 2.1a1.9 1.4 35 1 0-3.1-2.1M827 89a1.3 1.0 35 1 0 2.2 1.5a1.3 1.0 35 1 0-2.2-1.5M909 189a2.2 1.7 35 1 0 3.6 2.5a2.2 1.7 35 1 0-3.6-2.5M807 93a2.2 1.7 35 1 0 3.6 2.5a2.2 1.7 35 1 0-3.6-2.5" fill="#5fcf50" opacity=".5"/><path d="M866 129a1.5 1.2 35 1 0 2.5 1.8a1.5 1.2 35 1 0-2.5-1.8M1082 230a1.5 1.1 35 1 0 2.4 1.7a1.5 1.1 35 1 0-2.4-1.7M1033 256a2.0 1.5 35 1 0 3.2 2.2a2.0 1.5 35 1 0-3.2-2.2M1094 379a2.1 1.6 35 1 0 3.4 2.4a2.1 1.6 35 1 0-3.4-2.4M1093 287a1.5 1.2 35 1 0 2.5 1.7a1.5 1.2 35 1 0-2.5-1.7M930 225a1.9 1.4 35 1 0 3.0 2.1a1.9 1.4 35 1 0-3.0-2.1M955 192a2.0 1.5 35 1 0 3.3 2.3a2.0 1.5 35 1 0-3.3-2.3M1105 329a1.6 1.2 35 1 0 2.5 1.8a1.6 1.2 35 1 0-2.5-1.8M1071 237a2.1 1.6 35 1 0 3.4 2.4a2.1 1.6 35 1 0-3.4-2.4" fill="#ffb040" opacity=".2"/><path d="M1117 283a1.5 1.2 35 1 0 2.5 1.7a1.5 1.2 35 1 0-2.5-1.7M1121 386a2.0 1.6 35 1 0 3.3 2.3a2.0 1.6 35 1 0-3.3-2.3M1097 386a2.1 1.6 35 1 0 3.4 2.4a2.1 1.6 35 1 0-3.4-2.4M1119 301a1.9 1.4 35 1 0 3.0 2.1a1.9 1.4 35 1 0-3.0-2.1M987 256a1.6 1.2 35 1 0 2.5 1.8a1.6 1.2 35 1 0-2.5-1.8M913 172a2.1 1.6 35 1 0 3.5 2.4a2.1 1.6 35 1 0-3.5-2.4M814 90a1.9 1.5 35 1 0 3.2 2.2a1.9 1.5 35 1 0-3.2-2.2M1071 313a2.2 1.7 35 1 0 3.5 2.5a2.2 1.7 35 1 0-3.5-2.5M978 280a1.6 1.2 35 1 0 2.6 1.8a1.6 1.2 35 1 0-2.6-1.8M926 180a1.8 1.4 35 1 0 2.9 2.1a1.8 1.4 35 1 0-2.9-2.1M1039 316a2.0 1.5 35 1 0 3.3 2.3a2.0 1.5 35 1 0-3.3-2.3M1137 276a1.3 1.0 35 1 0 2.2 1.5a1.3 1.0 35 1 0-2.2-1.5M846 96a1.3 1.0 35 1 0 2.2 1.5a1.3 1.0 35 1 0-2.2-1.5M826 133a1.6 1.2 35 1 0 2.6 1.8a1.6 1.2 35 1 0-2.6-1.8M1095 355a1.6 1.3 35 1 0 2.7 1.9a1.6 1.3 35 1 0-2.7-1.9M1091 320a1.4 1.1 35 1 0 2.3 1.6a1.4 1.1 35 1 0-2.3-1.6" fill="#e8e060" opacity=".5"/><path d="M830 134a1.4 1.1 35 1 0 2.3 1.6a1.4 1.1 35 1 0-2.3-1.6M898 196a2.3 1.8 35 1 0 3.8 2.6a2.3 1.8 35 1 0-3.8-2.6M1052 250a1.6 1.2 35 1 0 2.6 1.8a1.6 1.2 35 1 0-2.6-1.8M954 222a1.3 1.0 35 1 0 2.1 1.5a1.3 1.0 35 1 0-2.1-1.5M1120 343a2.0 1.6 35 1 0 3.3 2.3a2.0 1.6 35 1 0-3.3-2.3M952 246a1.8 1.4 35 1 0 2.9 2.1a1.8 1.4 35 1 0-2.9-2.1M1028 312a1.8 1.4 35 1 0 3.0 2.1a1.8 1.4 35 1 0-3.0-2.1M849 139a2.1 1.6 35 1 0 3.4 2.4a2.1 1.6 35 1 0-3.4-2.4M919 156a2.3 1.7 35 1 0 3.7 2.6a2.3 1.7 35 1 0-3.7-2.6M1135 382a2.0 1.5 35 1 0 3.2 2.3a2.0 1.5 35 1 0-3.2-2.3M927 154a1.7 1.3 35 1 0 2.7 1.9a1.7 1.3 35 1 0-2.7-1.9M1087 322a1.8 1.4 35 1 0 3.0 2.1a1.8 1.4 35 1 0-3.0-2.1M1028 316a1.6 1.2 35 1 0 2.6 1.8a1.6 1.2 35 1 0-2.6-1.8M915 169a2.1 1.6 35 1 0 3.4 2.4a2.1 1.6 35 1 0-3.4-2.4M1083 351a1.9 1.4 35 1 0 3.1 2.1a1.9 1.4 35 1 0-3.1-2.1M1024 283a1.5 1.2 35 1 0 2.5 1.8a1.5 1.2 35 1 0-2.5-1.8" fill="#f0c850" opacity=".5"/><path d="M1012 193a1.9 1.4 35 1 0 3.1 2.2a1.9 1.4 35 1 0-3.1-2.2M958 160a1.9 1.4 35 1 0 3.1 2.1a1.9 1.4 35 1 0-3.1-2.1M909 138a2.0 1.5 35 1 0 3.3 2.3a2.0 1.5 35 1 0-3.3-2.3M1156 369a1.7 1.3 35 1 0 2.7 1.9a1.7 1.3 35 1 0-2.7-1.9M1163 354a1.7 1.3 35 1 0 2.8 2.0a1.7 1.3 35 1 0-2.8-2.0M896 109a1.6 1.2 35 1 0 2.6 1.8a1.6 1.2 35 1 0-2.6-1.8" fill="#a6e06a" opacity=".8"/><path d="M993 231a2.3 1.8 35 1 0 3.8 2.7a2.3 1.8 35 1 0-3.8-2.7M1059 257a2.3 1.8 35 1 0 3.8 2.7a2.3 1.8 35 1 0-3.8-2.7M951 193a1.8 1.4 35 1 0 3.0 2.1a1.8 1.4 35 1 0-3.0-2.1" fill="#7cd35a" opacity=".8"/><path d="M1009 296a1.3 1.0 35 1 0 2.2 1.5a1.3 1.0 35 1 0-2.2-1.5M966 218a1.6 1.3 35 1 0 2.7 1.9a1.6 1.3 35 1 0-2.7-1.9M893 184a2.1 1.6 35 1 0 3.4 2.4a2.1 1.6 35 1 0-3.4-2.4M1004 237a1.9 1.5 35 1 0 3.2 2.2a1.9 1.5 35 1 0-3.2-2.2M1141 350a1.7 1.3 35 1 0 2.8 1.9a1.7 1.3 35 1 0-2.8-1.9M1042 310a1.5 1.1 35 1 0 2.4 1.7a1.5 1.1 35 1 0-2.4-1.7M954 238a1.8 1.4 35 1 0 2.9 2.0a1.8 1.4 35 1 0-2.9-2.0M901 111a2.0 1.5 35 1 0 3.2 2.2a2.0 1.5 35 1 0-3.2-2.2M1000 282a2.1 1.6 35 1 0 3.5 2.4a2.1 1.6 35 1 0-3.5-2.4M840 89a2.0 1.6 35 1 0 3.3 2.3a2.0 1.6 35 1 0-3.3-2.3M889 121a1.7 1.3 35 1 0 2.8 1.9a1.7 1.3 35 1 0-2.8-1.9M991 289a1.8 1.4 35 1 0 2.9 2.0a1.8 1.4 35 1 0-2.9-2.0M866 96a2.2 1.7 35 1 0 3.6 2.5a2.2 1.7 35 1 0-3.6-2.5M925 155a2.1 1.6 35 1 0 3.5 2.4a2.1 1.6 35 1 0-3.5-2.4" fill="#ffb040" opacity=".5"/><path d="M1155 344a1.8 1.4 35 1 0 3.0 2.1a1.8 1.4 35 1 0-3.0-2.1M971 275a1.9 1.5 35 1 0 3.2 2.2a1.9 1.5 35 1 0-3.2-2.2M1099 326a2.1 1.6 35 1 0 3.5 2.4a2.1 1.6 35 1 0-3.5-2.4M1019 216a2.1 1.6 35 1 0 3.4 2.4a2.1 1.6 35 1 0-3.4-2.4M888 102a1.9 1.5 35 1 0 3.1 2.2a1.9 1.5 35 1 0-3.1-2.2" fill="#a6e06a" opacity=".2"/><path d="M981 203a2.0 1.5 35 1 0 3.3 2.3a2.0 1.5 35 1 0-3.3-2.3M792 93a1.7 1.3 35 1 0 2.8 1.9a1.7 1.3 35 1 0-2.8-1.9M893 173a2.0 1.5 35 1 0 3.3 2.3a2.0 1.5 35 1 0-3.3-2.3M1148 280a2.2 1.7 35 1 0 3.5 2.5a2.2 1.7 35 1 0-3.5-2.5M1160 308a1.6 1.3 35 1 0 2.7 1.9a1.6 1.3 35 1 0-2.7-1.9" fill="#5fcf50" opacity=".8"/><path d="M1153 347a2.2 1.7 35 1 0 3.6 2.5a2.2 1.7 35 1 0-3.6-2.5M1078 323a2.1 1.6 35 1 0 3.4 2.4a2.1 1.6 35 1 0-3.4-2.4M871 132a2.0 1.5 35 1 0 3.2 2.3a2.0 1.5 35 1 0-3.2-2.3M908 204a1.4 1.1 35 1 0 2.3 1.6a1.4 1.1 35 1 0-2.3-1.6M979 251a1.4 1.1 35 1 0 2.3 1.6a1.4 1.1 35 1 0-2.3-1.6M932 188a1.5 1.1 35 1 0 2.4 1.7a1.5 1.1 35 1 0-2.4-1.7M1037 250a2.2 1.7 35 1 0 3.5 2.5a2.2 1.7 35 1 0-3.5-2.5" fill="#e8e060" opacity=".2"/><path d="M914 211a1.6 1.2 35 1 0 2.6 1.8a1.6 1.2 35 1 0-2.6-1.8M1109 306a1.5 1.2 35 1 0 2.5 1.7a1.5 1.2 35 1 0-2.5-1.7M756 43a1.3 1.0 35 1 0 2.2 1.5a1.3 1.0 35 1 0-2.2-1.5M847 121a2.2 1.7 35 1 0 3.5 2.5a2.2 1.7 35 1 0-3.5-2.5M1083 368a2.2 1.7 35 1 0 3.7 2.6a2.2 1.7 35 1 0-3.7-2.6M996 245a2.2 1.7 35 1 0 3.6 2.5a2.2 1.7 35 1 0-3.6-2.5M811 108a1.5 1.1 35 1 0 2.4 1.7a1.5 1.1 35 1 0-2.4-1.7" fill="#7cd35a" opacity=".2"/><path d="M1101 283a2.2 1.7 35 1 0 3.6 2.6a2.2 1.7 35 1 0-3.6-2.6M962 267a1.4 1.1 35 1 0 2.3 1.6a1.4 1.1 35 1 0-2.3-1.6M1082 355a1.6 1.2 35 1 0 2.6 1.8a1.6 1.2 35 1 0-2.6-1.8M853 81a2.1 1.6 35 1 0 3.4 2.4a2.1 1.6 35 1 0-3.4-2.4M807 71a2.1 1.6 35 1 0 3.5 2.4a2.1 1.6 35 1 0-3.5-2.4M938 136a1.3 1.0 35 1 0 2.2 1.5a1.3 1.0 35 1 0-2.2-1.5" fill="#f0c850" opacity=".8"/><path d="M1045 204a1.4 1.1 35 1 0 2.4 1.7a1.4 1.1 35 1 0-2.4-1.7M1093 353a1.7 1.3 35 1 0 2.9 2.0a1.7 1.3 35 1 0-2.9-2.0M977 241a2.0 1.5 35 1 0 3.3 2.3a2.0 1.5 35 1 0-3.3-2.3M940 197a1.9 1.5 35 1 0 3.2 2.2a1.9 1.5 35 1 0-3.2-2.2M919 138a2.0 1.5 35 1 0 3.2 2.3a2.0 1.5 35 1 0-3.2-2.3M1017 280a2.1 1.6 35 1 0 3.4 2.4a2.1 1.6 35 1 0-3.4-2.4M955 235a1.6 1.3 35 1 0 2.7 1.9a1.6 1.3 35 1 0-2.7-1.9M934 196a2.0 1.6 35 1 0 3.3 2.3a2.0 1.6 35 1 0-3.3-2.3M1129 314a1.5 1.1 35 1 0 2.4 1.7a1.5 1.1 35 1 0-2.4-1.7M1040 335a1.4 1.1 35 1 0 2.3 1.6a1.4 1.1 35 1 0-2.3-1.6M1021 225a2.0 1.5 35 1 0 3.3 2.3a2.0 1.5 35 1 0-3.3-2.3M1155 302a2.1 1.6 35 1 0 3.4 2.4a2.1 1.6 35 1 0-3.4-2.4M1093 345a1.9 1.5 35 1 0 3.1 2.2a1.9 1.5 35 1 0-3.1-2.2M908 136a2.2 1.7 35 1 0 3.7 2.6a2.2 1.7 35 1 0-3.7-2.6M856 89a2.1 1.6 35 1 0 3.4 2.4a2.1 1.6 35 1 0-3.4-2.4M951 168a1.5 1.2 35 1 0 2.5 1.7a1.5 1.2 35 1 0-2.5-1.7M1003 230a1.5 1.2 35 1 0 2.5 1.7a1.5 1.2 35 1 0-2.5-1.7" fill="#7cd35a" opacity=".5"/><path d="M880 159a2.2 1.7 35 1 0 3.6 2.5a2.2 1.7 35 1 0-3.6-2.5M1116 348a2.2 1.7 35 1 0 3.6 2.6a2.2 1.7 35 1 0-3.6-2.6" fill="#5fcf50" opacity=".2"/><path d="M839 105a2.1 1.6 35 1 0 3.5 2.4a2.1 1.6 35 1 0-3.5-2.4M1070 337a1.8 1.4 35 1 0 2.9 2.0a1.8 1.4 35 1 0-2.9-2.0M1122 264a2.2 1.7 35 1 0 3.6 2.5a2.2 1.7 35 1 0-3.6-2.5" fill="#48b848" opacity=".2"/><path d="M1157 353a2.1 1.6 35 1 0 3.5 2.4a2.1 1.6 35 1 0-3.5-2.4M802 72a1.7 1.3 35 1 0 2.7 1.9a1.7 1.3 35 1 0-2.7-1.9M943 240a2.0 1.5 35 1 0 3.2 2.3a2.0 1.5 35 1 0-3.2-2.3" fill="#d0e070" opacity=".2"/><path d="M915 123a2.3 1.8 35 1 0 3.8 2.6a2.3 1.8 35 1 0-3.8-2.6M792 53a1.7 1.3 35 1 0 2.8 2.0a1.7 1.3 35 1 0-2.8-2.0M1128 386a1.9 1.4 35 1 0 3.0 2.1a1.9 1.4 35 1 0-3.0-2.1M924 191a2.0 1.5 35 1 0 3.3 2.3a2.0 1.5 35 1 0-3.3-2.3M1068 253a2.1 1.6 35 1 0 3.5 2.4a2.1 1.6 35 1 0-3.5-2.4M1078 280a1.8 1.4 35 1 0 3.0 2.1a1.8 1.4 35 1 0-3.0-2.1" fill="#48b848" opacity=".8"/><path d="M1103 251a2.0 1.6 35 1 0 3.3 2.3a2.0 1.6 35 1 0-3.3-2.3M982 285a1.3 1.0 35 1 0 2.2 1.5a1.3 1.0 35 1 0-2.2-1.5M1089 378a2.0 1.6 35 1 0 3.3 2.3a2.0 1.6 35 1 0-3.3-2.3" fill="#f0c850" opacity=".2"/><path d="M1023 307a1.9 1.4 35 1 0 3.1 2.2a1.9 1.4 35 1 0-3.1-2.2M882 154a2.2 1.7 35 1 0 3.5 2.5a2.2 1.7 35 1 0-3.5-2.5M1040 342a2.3 1.8 35 1 0 3.8 2.7a2.3 1.8 35 1 0-3.8-2.7M1102 266a1.7 1.3 35 1 0 2.7 1.9a1.7 1.3 35 1 0-2.7-1.9M1162 331a2.3 1.7 35 1 0 3.7 2.6a2.3 1.7 35 1 0-3.7-2.6M846 142a2.0 1.5 35 1 0 3.2 2.3a2.0 1.5 35 1 0-3.2-2.3" fill="#d0e070" opacity=".8"/><path d="M1121 342a2.0 1.5 35 1 0 3.2 2.3a2.0 1.5 35 1 0-3.2-2.3M1111 275a1.7 1.3 35 1 0 2.8 2.0a1.7 1.3 35 1 0-2.8-2.0M1042 205a1.6 1.3 35 1 0 2.7 1.9a1.6 1.3 35 1 0-2.7-1.9M1111 300a2.0 1.5 35 1 0 3.2 2.3a2.0 1.5 35 1 0-3.2-2.3" fill="#ffb040" opacity=".8"/><path d="M1106 350a2.2 1.7 35 1 0 3.6 2.5a2.2 1.7 35 1 0-3.6-2.5M993 232a1.3 1.0 35 1 0 2.1 1.5a1.3 1.0 35 1 0-2.1-1.5M965 259a2.1 1.6 35 1 0 3.4 2.4a2.1 1.6 35 1 0-3.4-2.4M1104 351a1.7 1.3 35 1 0 2.8 1.9a1.7 1.3 35 1 0-2.8-1.9" fill="#e8e060" opacity=".8"/></g>
<path d="M1122 106a1.9 1.2 35 1 0 3.1 2.1a1.9 1.2 35 1 0-3.1-2.1M1192 97a2.9 1.9 35 1 0 4.7 3.3a2.9 1.9 35 1 0-4.7-3.3" fill="#ff2a2a" opacity=".8"/><path d="M1078 92a1.9 1.2 35 1 0 3.1 2.1a1.9 1.2 35 1 0-3.1-2.1M1063 131a1.8 1.2 35 1 0 3.0 2.1a1.8 1.2 35 1 0-3.0-2.1" fill="#f0302a" opacity=".8"/><path d="M1125 121a2.3 1.6 35 1 0 3.8 2.7a2.3 1.6 35 1 0-3.8-2.7" fill="#f0302a" opacity="1"/>
<path d="M903,12C912.2,-1.3 949.2,2 960,10C970.8,18 967.5,40 968,60C968.5,80 966.8,116.7 963,130C959.2,143.3 951.3,140 945,140C938.7,140 931.7,138.3 925,130C918.3,121.7 908.7,109.7 905,90C901.3,70.3 893.8,25.3 903,12Z" fill="#020203" opacity=".9" filter="url(#b4)"/>
<path d="M950,175C954.2,170.8 970.8,175 975,180C979.2,185 979.2,200.8 975,205C970.8,209.2 954.2,210 950,205C945.8,200 945.8,179.2 950,175Z" fill="#050608" opacity=".7" filter="url(#b4)"/>
</g>
<path d="M725.8,17.9C725.8,16.5 730.8,16.5 739,19.5C747.2,22.5 760.8,28.6 775,36C789.2,43.4 808,54.6 824.5,63.9C841,73.2 857.4,82.6 873.8,91.9C890.2,101.2 906,108.6 923,119.8C940,131 959.3,148.3 975.8,159.3C992.3,170.3 1005.9,175.7 1021.8,185.6C1037.7,195.5 1054.8,207.5 1071.2,218.5C1087.7,229.5 1106.8,241 1120.5,251.4C1134.2,261.8 1145.2,269.5 1153.4,281C1161.6,292.5 1167.4,308.4 1169.9,320.5C1172.4,332.6 1171,343.5 1168.2,353.4C1165.5,363.3 1160.2,373.4 1153.4,379.7C1146.6,386 1138.1,390.1 1127.1,391.2C1116.1,392.3 1099.7,390.4 1087.6,386.3C1075.5,382.2 1065.7,375.9 1054.7,366.6C1043.7,357.3 1032.8,342.5 1021.8,330.4C1010.8,318.3 1000,305.7 989,294.2C978,282.7 967,273.4 956,261.3C945,249.2 934,233.3 923,221.8C912,210.3 901.2,201.5 890.3,192.2C879.4,182.9 868.4,175.8 857.4,165.9C846.4,156 835.5,145.1 824.5,133C813.5,120.9 802.6,107.2 791.6,93.5C780.6,79.8 767.5,61.8 758.7,50.8C749.9,39.8 744.5,33.2 739,27.7C733.5,22.2 725.8,19.3 725.8,17.9Z" fill="none" stroke="#fff" stroke-width="3.1" stroke-dasharray="1.9 7.9" stroke-linecap="round"/>
<polyline points="924.8,6 924.8,204.7 970.9,204.7 970.9,6" fill="none" stroke="#fff" stroke-width="3.1" stroke-dasharray="1.9 7.9" stroke-linecap="round"/>
<text x="673" y="402" font-size="26" fill="#fff200" textLength="94" lengthAdjust="spacingAndGlyphs">Merged</text>
<text x="777" y="402" font-size="26" fill="#ffffff" textLength="12.5" lengthAdjust="spacingAndGlyphs">+</text>
<text x="800" y="402" font-size="26" fill="#27aae1" textLength="56" lengthAdjust="spacingAndGlyphs">DAPI</text>
<text x="985.7" y="254.7" font-size="26" fill="#ffffff" textLength="48.6" lengthAdjust="spacingAndGlyphs">STN</text>
<rect x="1112" y="395.6" width="78" height="8.5" fill="#fff"/>
<clipPath id="cbg"><polygon points="1206,8.2 1471.6,8.2 1467.8,206.6 1202,206.6"/></clipPath>
<g clip-path="url(#cbg)">
<polygon points="1206,8.2 1471.6,8.2 1467.8,206.6 1202,206.6" fill="#060c08"/>
<path d="M1240,8C1277,2.7 1433.3,-25 1472,8C1510.7,41 1484,173 1472,206C1460,239 1422,215.3 1400,206C1378,196.7 1358.3,167.7 1340,150C1321.7,132.3 1305,118.3 1290,100C1275,81.7 1258.3,55.3 1250,40C1241.7,24.7 1203,13.3 1240,8Z" fill="#0b1d10" opacity=".8" filter="url(#b14)"/>
<path d="M1241,14.6C1243.8,16 1258.9,28.3 1265.8,32.7C1272.7,37.1 1275.3,36.8 1282.2,40.9C1289.1,45 1298.7,52.4 1306.9,57.3C1315.1,62.2 1323.4,65.8 1331.6,70.5C1339.8,75.2 1348,80.4 1356.2,85.3C1364.4,90.2 1372.7,95.2 1380.9,100.1C1389.1,105 1397.4,110.2 1405.6,114.9C1413.8,119.6 1419.6,123.2 1430.3,128.1C1441,133 1463.1,131.6 1469.7,144.5C1476.3,157.4 1481.8,199.4 1469.7,205.4C1457.7,211.4 1413.6,188.9 1397.4,180.7C1381.2,172.5 1379.6,162.8 1372.7,156C1365.8,149.2 1361.1,144.5 1356.2,139.6C1351.3,134.7 1348.6,131.3 1343.1,126.4C1337.6,121.5 1330.2,115.5 1323.4,110C1316.6,104.5 1307.5,99.5 1302,93.5C1296.5,87.5 1295.2,81.2 1290.5,73.8C1285.8,66.4 1280.9,57.3 1274,49.1C1267.1,40.9 1254.8,30.1 1249.3,24.4C1243.8,18.6 1238.2,13.2 1241,14.6Z" fill="#1a6a30" opacity=".8" filter="url(#b6)"/>
<ellipse cx="1328" cy="108" rx="48" ry="16" fill="#35a050" opacity=".7" transform="rotate(38 1328 108)" filter="url(#b8)"/>
<ellipse cx="1285" cy="62" rx="28" ry="9" fill="#2a8a40" opacity=".6" transform="rotate(42 1285 62)" filter="url(#b6)"/>
<path d="M1205,108 C1240,118 1275,140 1300,165 C1320,185 1340,200 1350,207" fill="none" stroke="#123a1c" stroke-width="6" filter="url(#b3)" opacity="0.6"/>
<mask id="mcbg" maskUnits="userSpaceOnUse" x="1182" y="-11.8" width="309.6" height="238.4"><path d="M1241,14.6C1243.8,16 1258.9,28.3 1265.8,32.7C1272.7,37.1 1275.3,36.8 1282.2,40.9C1289.1,45 1298.7,52.4 1306.9,57.3C1315.1,62.2 1323.4,65.8 1331.6,70.5C1339.8,75.2 1348,80.4 1356.2,85.3C1364.4,90.2 1372.7,95.2 1380.9,100.1C1389.1,105 1397.4,110.2 1405.6,114.9C1413.8,119.6 1419.6,123.2 1430.3,128.1C1441,133 1463.1,131.6 1469.7,144.5C1476.3,157.4 1481.8,199.4 1469.7,205.4C1457.7,211.4 1413.6,188.9 1397.4,180.7C1381.2,172.5 1379.6,162.8 1372.7,156C1365.8,149.2 1361.1,144.5 1356.2,139.6C1351.3,134.7 1348.6,131.3 1343.1,126.4C1337.6,121.5 1330.2,115.5 1323.4,110C1316.6,104.5 1307.5,99.5 1302,93.5C1296.5,87.5 1295.2,81.2 1290.5,73.8C1285.8,66.4 1280.9,57.3 1274,49.1C1267.1,40.9 1254.8,30.1 1249.3,24.4C1243.8,18.6 1238.2,13.2 1241,14.6Z" fill="#fff" filter="url(#b5)"/></mask>
<g mask="url(#mcbg)">
<rect x="1202" y="8.2" width="269.6" height="198.4" filter="url(#grn)" opacity=".4"/>
</g>
<path d="M1365 129a1.2 1.2 0 1 0 2.4 0a1.2 1.2 0 1 0-2.4 0M1288 61a0.6 0.6 0 1 0 1.3 0a0.6 0.6 0 1 0-1.3 0M1366 108a0.6 0.6 0 1 0 1.3 0a0.6 0.6 0 1 0-1.3 0M1310 76a1.1 1.1 0 1 0 2.2 0a1.1 1.1 0 1 0-2.2 0M1349 129a0.7 0.7 0 1 0 1.3 0a0.7 0.7 0 1 0-1.3 0M1324 85a1.1 1.1 0 1 0 2.3 0a1.1 1.1 0 1 0-2.3 0M1321 70a0.8 0.8 0 1 0 1.7 0a0.8 0.8 0 1 0-1.7 0M1350 109a1.3 1.3 0 1 0 2.6 0a1.3 1.3 0 1 0-2.6 0M1307 71a1.1 1.1 0 1 0 2.3 0a1.1 1.1 0 1 0-2.3 0M1365 124a0.7 0.7 0 1 0 1.4 0a0.7 0.7 0 1 0-1.4 0M1318 101a1.1 1.1 0 1 0 2.3 0a1.1 1.1 0 1 0-2.3 0M1304 65a1.2 1.2 0 1 0 2.5 0a1.2 1.2 0 1 0-2.5 0" fill="#a0f0a0" opacity=".5"/><path d="M1337 79a1.2 1.2 0 1 0 2.5 0a1.2 1.2 0 1 0-2.5 0M1334 108a1.1 1.1 0 1 0 2.2 0a1.1 1.1 0 1 0-2.2 0M1312 67a0.9 0.9 0 1 0 1.8 0a0.9 0.9 0 1 0-1.8 0M1343 127a0.9 0.9 0 1 0 1.8 0a0.9 0.9 0 1 0-1.8 0M1337 94a0.9 0.9 0 1 0 1.9 0a0.9 0.9 0 1 0-1.9 0M1305 101a1.1 1.1 0 1 0 2.2 0a1.1 1.1 0 1 0-2.2 0M1334 115a1.1 1.1 0 1 0 2.2 0a1.1 1.1 0 1 0-2.2 0M1323 102a1.2 1.2 0 1 0 2.5 0a1.2 1.2 0 1 0-2.5 0M1304 73a0.7 0.7 0 1 0 1.4 0a0.7 0.7 0 1 0-1.4 0M1339 89a1.2 1.2 0 1 0 2.4 0a1.2 1.2 0 1 0-2.4 0M1365 119a0.7 0.7 0 1 0 1.5 0a0.7 0.7 0 1 0-1.5 0M1296 75a0.9 0.9 0 1 0 1.7 0a0.9 0.9 0 1 0-1.7 0M1340 124a0.6 0.6 0 1 0 1.3 0a0.6 0.6 0 1 0-1.3 0M1307 66a1.0 1.0 0 1 0 2.0 0a1.0 1.0 0 1 0-2.0 0" fill="#3fc060" opacity=".8"/><path d="M1354 121a0.9 0.9 0 1 0 1.8 0a0.9 0.9 0 1 0-1.8 0M1337 96a0.7 0.7 0 1 0 1.3 0a0.7 0.7 0 1 0-1.3 0M1337 94a1.2 1.2 0 1 0 2.4 0a1.2 1.2 0 1 0-2.4 0M1370 136a1.2 1.2 0 1 0 2.4 0a1.2 1.2 0 1 0-2.4 0M1300 93a1.1 1.1 0 1 0 2.1 0a1.1 1.1 0 1 0-2.1 0M1359 123a1.0 1.0 0 1 0 1.9 0a1.0 1.0 0 1 0-1.9 0M1335 121a0.8 0.8 0 1 0 1.5 0a0.8 0.8 0 1 0-1.5 0M1361 104a1.3 1.3 0 1 0 2.6 0a1.3 1.3 0 1 0-2.6 0M1363 126a0.9 0.9 0 1 0 1.8 0a0.9 0.9 0 1 0-1.8 0M1351 130a0.7 0.7 0 1 0 1.5 0a0.7 0.7 0 1 0-1.5 0M1358 134a0.8 0.8 0 1 0 1.6 0a0.8 0.8 0 1 0-1.6 0M1339 99a0.8 0.8 0 1 0 1.6 0a0.8 0.8 0 1 0-1.6 0M1302 65a0.8 0.8 0 1 0 1.7 0a0.8 0.8 0 1 0-1.7 0M1353 91a0.7 0.7 0 1 0 1.3 0a0.7 0.7 0 1 0-1.3 0M1363 102a1.2 1.2 0 1 0 2.5 0a1.2 1.2 0 1 0-2.5 0M1331 101a0.8 0.8 0 1 0 1.6 0a0.8 0.8 0 1 0-1.6 0M1300 89a0.8 0.8 0 1 0 1.5 0a0.8 0.8 0 1 0-1.5 0M1341 101a0.7 0.7 0 1 0 1.5 0a0.7 0.7 0 1 0-1.5 0M1304 97a0.8 0.8 0 1 0 1.7 0a0.8 0.8 0 1 0-1.7 0M1331 78a1.0 1.0 0 1 0 2.0 0a1.0 1.0 0 1 0-2.0 0M1296 72a0.9 0.9 0 1 0 1.7 0a0.9 0.9 0 1 0-1.7 0" fill="#a0f0a0" opacity=".8"/><path d="M1361 119a1.2 1.2 0 1 0 2.5 0a1.2 1.2 0 1 0-2.5 0M1359 122a0.8 0.8 0 1 0 1.6 0a0.8 0.8 0 1 0-1.6 0M1342 86a0.9 0.9 0 1 0 1.7 0a0.9 0.9 0 1 0-1.7 0M1303 63a0.9 0.9 0 1 0 1.9 0a0.9 0.9 0 1 0-1.9 0M1321 90a0.7 0.7 0 1 0 1.3 0a0.7 0.7 0 1 0-1.3 0M1322 92a1.0 1.0 0 1 0 2.0 0a1.0 1.0 0 1 0-2.0 0M1308 82a0.7 0.7 0 1 0 1.5 0a0.7 0.7 0 1 0-1.5 0M1296 74a1.2 1.2 0 1 0 2.4 0a1.2 1.2 0 1 0-2.4 0M1320 81a0.8 0.8 0 1 0 1.6 0a0.8 0.8 0 1 0-1.6 0M1299 90a1.2 1.2 0 1 0 2.4 0a1.2 1.2 0 1 0-2.4 0M1329 114a0.7 0.7 0 1 0 1.3 0a0.7 0.7 0 1 0-1.3 0M1337 81a1.2 1.2 0 1 0 2.3 0a1.2 1.2 0 1 0-2.3 0M1365 104a1.3 1.3 0 1 0 2.5 0a1.3 1.3 0 1 0-2.5 0M1300 78a1.1 1.1 0 1 0 2.1 0a1.1 1.1 0 1 0-2.1 0M1369 103a1.1 1.1 0 1 0 2.1 0a1.1 1.1 0 1 0-2.1 0M1350 92a0.8 0.8 0 1 0 1.6 0a0.8 0.8 0 1 0-1.6 0M1327 76a0.9 0.9 0 1 0 1.9 0a0.9 0.9 0 1 0-1.9 0M1322 103a0.8 0.8 0 1 0 1.5 0a0.8 0.8 0 1 0-1.5 0" fill="#3fc060" opacity=".5"/><path d="M1372 123a1.0 1.0 0 1 0 2.1 0a1.0 1.0 0 1 0-2.1 0M1331 117a1.2 1.2 0 1 0 2.4 0a1.2 1.2 0 1 0-2.4 0M1312 96a0.7 0.7 0 1 0 1.5 0a0.7 0.7 0 1 0-1.5 0M1297 91a0.8 0.8 0 1 0 1.6 0a0.8 0.8 0 1 0-1.6 0M1321 80a0.9 0.9 0 1 0 1.8 0a0.9 0.9 0 1 0-1.8 0M1332 95a0.8 0.8 0 1 0 1.6 0a0.8 0.8 0 1 0-1.6 0M1355 98a0.9 0.9 0 1 0 1.8 0a0.9 0.9 0 1 0-1.8 0M1338 88a0.9 0.9 0 1 0 1.8 0a0.9 0.9 0 1 0-1.8 0M1333 109a0.7 0.7 0 1 0 1.3 0a0.7 0.7 0 1 0-1.3 0M1359 107a0.6 0.6 0 1 0 1.3 0a0.6 0.6 0 1 0-1.3 0M1292 55a1.2 1.2 0 1 0 2.3 0a1.2 1.2 0 1 0-2.3 0" fill="#7ef090" opacity=".5"/><path d="M1347 94a1.0 1.0 0 1 0 2.0 0a1.0 1.0 0 1 0-2.0 0M1326 103a1.2 1.2 0 1 0 2.5 0a1.2 1.2 0 1 0-2.5 0M1331 104a0.7 0.7 0 1 0 1.3 0a0.7 0.7 0 1 0-1.3 0M1328 105a0.8 0.8 0 1 0 1.5 0a0.8 0.8 0 1 0-1.5 0M1340 106a1.1 1.1 0 1 0 2.2 0a1.1 1.1 0 1 0-2.2 0M1318 74a1.0 1.0 0 1 0 2.1 0a1.0 1.0 0 1 0-2.1 0M1360 132a1.2 1.2 0 1 0 2.3 0a1.2 1.2 0 1 0-2.3 0M1354 129a1.2 1.2 0 1 0 2.4 0a1.2 1.2 0 1 0-2.4 0M1343 112a0.8 0.8 0 1 0 1.7 0a0.8 0.8 0 1 0-1.7 0M1297 93a1.1 1.1 0 1 0 2.1 0a1.1 1.1 0 1 0-2.1 0M1341 97a1.3 1.3 0 1 0 2.6 0a1.3 1.3 0 1 0-2.6 0M1363 121a0.6 0.6 0 1 0 1.2 0a0.6 0.6 0 1 0-1.2 0M1330 84a0.9 0.9 0 1 0 1.8 0a0.9 0.9 0 1 0-1.8 0M1364 135a1.2 1.2 0 1 0 2.3 0a1.2 1.2 0 1 0-2.3 0" fill="#7ef090" opacity=".8"/><path d="M1370 108a1.0 1.0 0 1 0 2.0 0a1.0 1.0 0 1 0-2.0 0M1335 86a1.2 1.2 0 1 0 2.5 0a1.2 1.2 0 1 0-2.5 0M1312 99a1.0 1.0 0 1 0 2.0 0a1.0 1.0 0 1 0-2.0 0M1311 74a0.8 0.8 0 1 0 1.7 0a0.8 0.8 0 1 0-1.7 0M1319 107a0.6 0.6 0 1 0 1.3 0a0.6 0.6 0 1 0-1.3 0M1325 118a1.1 1.1 0 1 0 2.1 0a1.1 1.1 0 1 0-2.1 0M1312 101a0.7 0.7 0 1 0 1.4 0a0.7 0.7 0 1 0-1.4 0" fill="#5fe07a" opacity=".5"/><path d="M1299 77a1.0 1.0 0 1 0 2.0 0a1.0 1.0 0 1 0-2.0 0M1348 110a0.9 0.9 0 1 0 1.8 0a0.9 0.9 0 1 0-1.8 0M1315 83a0.9 0.9 0 1 0 1.8 0a0.9 0.9 0 1 0-1.8 0M1325 93a0.7 0.7 0 1 0 1.4 0a0.7 0.7 0 1 0-1.4 0M1329 100a1.0 1.0 0 1 0 2.0 0a1.0 1.0 0 1 0-2.0 0M1332 85a0.7 0.7 0 1 0 1.4 0a0.7 0.7 0 1 0-1.4 0M1344 109a0.9 0.9 0 1 0 1.7 0a0.9 0.9 0 1 0-1.7 0M1346 122a1.3 1.3 0 1 0 2.5 0a1.3 1.3 0 1 0-2.5 0M1369 108a1.2 1.2 0 1 0 2.5 0a1.2 1.2 0 1 0-2.5 0M1307 80a0.8 0.8 0 1 0 1.5 0a0.8 0.8 0 1 0-1.5 0M1352 89a1.1 1.1 0 1 0 2.3 0a1.1 1.1 0 1 0-2.3 0M1364 132a1.1 1.1 0 1 0 2.2 0a1.1 1.1 0 1 0-2.2 0M1318 75a0.8 0.8 0 1 0 1.5 0a0.8 0.8 0 1 0-1.5 0M1303 89a1.0 1.0 0 1 0 2.0 0a1.0 1.0 0 1 0-2.0 0M1337 98a1.3 1.3 0 1 0 2.6 0a1.3 1.3 0 1 0-2.6 0M1374 131a0.7 0.7 0 1 0 1.5 0a0.7 0.7 0 1 0-1.5 0M1312 74a1.2 1.2 0 1 0 2.5 0a1.2 1.2 0 1 0-2.5 0" fill="#5fe07a" opacity=".8"/><path d="M1288 60a0.9 0.9 0 1 0 1.8 0a0.9 0.9 0 1 0-1.8 0" fill="#5fe07a" opacity="1"/><path d="M1345 108a1.0 1.0 0 1 0 2.1 0a1.0 1.0 0 1 0-2.1 0M1342 93a1.1 1.1 0 1 0 2.3 0a1.1 1.1 0 1 0-2.3 0M1370 110a1.0 1.0 0 1 0 2.0 0a1.0 1.0 0 1 0-2.0 0M1324 118a1.3 1.3 0 1 0 2.6 0a1.3 1.3 0 1 0-2.6 0" fill="#a0f0a0" opacity="1"/><path d="M1357 96a1.1 1.1 0 1 0 2.2 0a1.1 1.1 0 1 0-2.2 0" fill="#3fc060" opacity="1"/>
<path d="M1294 51a1.2 1.2 0 1 0 2.3 0a1.2 1.2 0 1 0-2.3 0M1405 124a1.2 1.2 0 1 0 2.3 0a1.2 1.2 0 1 0-2.3 0M1411 170a0.7 0.7 0 1 0 1.4 0a0.7 0.7 0 1 0-1.4 0M1384 127a1.0 1.0 0 1 0 2.0 0a1.0 1.0 0 1 0-2.0 0M1449 141a1.0 1.0 0 1 0 2.0 0a1.0 1.0 0 1 0-2.0 0M1376 123a0.8 0.8 0 1 0 1.6 0a0.8 0.8 0 1 0-1.6 0M1459 178a0.8 0.8 0 1 0 1.6 0a0.8 0.8 0 1 0-1.6 0M1466 170a0.9 0.9 0 1 0 1.9 0a0.9 0.9 0 1 0-1.9 0M1384 103a0.8 0.8 0 1 0 1.6 0a0.8 0.8 0 1 0-1.6 0M1319 85a1.1 1.1 0 1 0 2.3 0a1.1 1.1 0 1 0-2.3 0M1417 177a1.2 1.2 0 1 0 2.4 0a1.2 1.2 0 1 0-2.4 0M1277 47a0.6 0.6 0 1 0 1.2 0a0.6 0.6 0 1 0-1.2 0M1461 175a0.9 0.9 0 1 0 1.7 0a0.9 0.9 0 1 0-1.7 0M1340 78a0.9 0.9 0 1 0 1.7 0a0.9 0.9 0 1 0-1.7 0M1370 147a0.8 0.8 0 1 0 1.5 0a0.8 0.8 0 1 0-1.5 0M1326 84a0.6 0.6 0 1 0 1.2 0a0.6 0.6 0 1 0-1.2 0M1446 173a1.1 1.1 0 1 0 2.2 0a1.1 1.1 0 1 0-2.2 0M1381 109a1.2 1.2 0 1 0 2.3 0a1.2 1.2 0 1 0-2.3 0M1435 165a1.0 1.0 0 1 0 2.0 0a1.0 1.0 0 1 0-2.0 0M1355 124a0.8 0.8 0 1 0 1.6 0a0.8 0.8 0 1 0-1.6 0M1436 164a1.1 1.1 0 1 0 2.3 0a1.1 1.1 0 1 0-2.3 0M1336 94a1.1 1.1 0 1 0 2.2 0a1.1 1.1 0 1 0-2.2 0M1396 128a1.1 1.1 0 1 0 2.3 0a1.1 1.1 0 1 0-2.3 0" fill="#3fc060" opacity=".5"/><path d="M1429 183a0.9 0.9 0 1 0 1.8 0a0.9 0.9 0 1 0-1.8 0M1333 112a0.8 0.8 0 1 0 1.5 0a0.8 0.8 0 1 0-1.5 0M1409 152a0.8 0.8 0 1 0 1.7 0a0.8 0.8 0 1 0-1.7 0M1308 97a1.1 1.1 0 1 0 2.1 0a1.1 1.1 0 1 0-2.1 0M1362 141a1.1 1.1 0 1 0 2.2 0a1.1 1.1 0 1 0-2.2 0M1264 32a0.7 0.7 0 1 0 1.5 0a0.7 0.7 0 1 0-1.5 0M1449 165a1.0 1.0 0 1 0 1.9 0a1.0 1.0 0 1 0-1.9 0M1432 161a1.1 1.1 0 1 0 2.2 0a1.1 1.1 0 1 0-2.2 0M1446 188a0.7 0.7 0 1 0 1.4 0a0.7 0.7 0 1 0-1.4 0M1438 152a1.1 1.1 0 1 0 2.2 0a1.1 1.1 0 1 0-2.2 0M1398 177a0.9 0.9 0 1 0 1.7 0a0.9 0.9 0 1 0-1.7 0M1374 108a0.7 0.7 0 1 0 1.4 0a0.7 0.7 0 1 0-1.4 0M1374 117a0.6 0.6 0 1 0 1.2 0a0.6 0.6 0 1 0-1.2 0M1277 53a0.9 0.9 0 1 0 1.7 0a0.9 0.9 0 1 0-1.7 0M1389 116a0.7 0.7 0 1 0 1.3 0a0.7 0.7 0 1 0-1.3 0M1434 154a0.9 0.9 0 1 0 1.7 0a0.9 0.9 0 1 0-1.7 0M1446 194a1.0 1.0 0 1 0 2.1 0a1.0 1.0 0 1 0-2.1 0" fill="#5fe07a" opacity=".5"/><path d="M1348 89a1.1 1.1 0 1 0 2.2 0a1.1 1.1 0 1 0-2.2 0M1463 171a0.7 0.7 0 1 0 1.4 0a0.7 0.7 0 1 0-1.4 0M1399 141a0.8 0.8 0 1 0 1.6 0a0.8 0.8 0 1 0-1.6 0M1439 165a0.8 0.8 0 1 0 1.6 0a0.8 0.8 0 1 0-1.6 0M1400 136a1.1 1.1 0 1 0 2.2 0a1.1 1.1 0 1 0-2.2 0" fill="#3fc060" opacity=".2"/><path d="M1429 171a0.9 0.9 0 1 0 1.9 0a0.9 0.9 0 1 0-1.9 0M1287 48a0.7 0.7 0 1 0 1.4 0a0.7 0.7 0 1 0-1.4 0M1339 117a0.9 0.9 0 1 0 1.8 0a0.9 0.9 0 1 0-1.8 0M1432 161a0.8 0.8 0 1 0 1.6 0a0.8 0.8 0 1 0-1.6 0M1334 103a1.1 1.1 0 1 0 2.2 0a1.1 1.1 0 1 0-2.2 0" fill="#5fe07a" opacity=".2"/><path d="M1292 49a0.9 0.9 0 1 0 1.8 0a0.9 0.9 0 1 0-1.8 0M1393 174a1.0 1.0 0 1 0 2.0 0a1.0 1.0 0 1 0-2.0 0M1375 138a0.8 0.8 0 1 0 1.5 0a0.8 0.8 0 1 0-1.5 0M1339 85a0.9 0.9 0 1 0 1.8 0a0.9 0.9 0 1 0-1.8 0M1329 76a1.0 1.0 0 1 0 2.1 0a1.0 1.0 0 1 0-2.1 0M1448 180a0.7 0.7 0 1 0 1.4 0a0.7 0.7 0 1 0-1.4 0M1449 157a0.9 0.9 0 1 0 1.9 0a0.9 0.9 0 1 0-1.9 0M1260 35a0.9 0.9 0 1 0 1.8 0a0.9 0.9 0 1 0-1.8 0" fill="#5fe07a" opacity=".8"/><path d="M1405 115a1.2 1.2 0 1 0 2.4 0a1.2 1.2 0 1 0-2.4 0M1445 195a1.2 1.2 0 1 0 2.3 0a1.2 1.2 0 1 0-2.3 0" fill="#3fc060" opacity=".8"/>
<path d="M1205,60C1211.7,41.3 1229.2,81.7 1245,95C1260.8,108.3 1284.2,124.2 1300,140C1315.8,155.8 1335,178.8 1340,190C1345,201.2 1352.5,204.2 1330,207C1307.5,209.8 1225.8,231.5 1205,207C1184.2,182.5 1198.3,78.7 1205,60Z" fill="#020403" opacity=".5" filter="url(#b10)"/>
<path d="M1400,120C1410.3,113.3 1460,135.5 1472,150C1484,164.5 1482.3,200.3 1472,207C1461.7,213.7 1422,204.5 1410,190C1398,175.5 1389.7,126.7 1400,120Z" fill="#06140a" opacity=".6" filter="url(#b12)"/>
<path d="M1330,15C1333.7,11.7 1346.3,12.5 1350,20C1353.7,27.5 1353.7,52.5 1352,60C1350.3,67.5 1344,68.3 1340,65C1336,61.7 1329.7,48.3 1328,40C1326.3,31.7 1326.3,18.3 1330,15Z" fill="#020302" opacity=".7" filter="url(#b3)"/>
</g>
<text x="1211" y="196.3" font-size="26" fill="#1db954" textLength="201" lengthAdjust="spacingAndGlyphs">Venus-iGluSnFR</text>
<rect x="1422" y="191" width="39.2" height="8.8" fill="#fff"/>
<clipPath id="cbr"><polygon points="1200.1,213.9 1467.7,213.9 1464,412.6 1200.1,412.6"/></clipPath>
<g clip-path="url(#cbr)">
<polygon points="1200.1,213.9 1467.7,213.9 1464,412.6 1200.1,412.6" fill="#120506"/>
<path d="M1260.4,240.6C1265,240.6 1280.3,241.4 1291.6,246C1302.9,250.6 1316,260.1 1328.2,268C1340.4,275.9 1352.6,285.1 1364.8,293.7C1377,302.3 1389.3,310.5 1401.5,319.4C1413.7,328.2 1427.6,339.2 1438,346.8C1448.4,354.4 1459.4,354.5 1463.7,365.2C1468,375.9 1472.6,406.3 1463.7,410.9C1454.8,415.5 1424,400.2 1410.6,392.6C1397.2,385 1392.3,374.4 1383.2,365.2C1374.1,356 1364.9,345.9 1355.7,337.7C1346.5,329.4 1337.4,323.3 1328.2,315.7C1319,308.1 1308.3,299.8 1300.7,291.9C1293.1,283.9 1288.5,275.6 1282.4,268C1276.3,260.4 1267.8,250.6 1264.1,246C1260.4,241.4 1255.8,240.6 1260.4,240.6Z" fill="#3a0808" opacity=".8" filter="url(#b8)"/>
<ellipse cx="1300" cy="280" rx="35" ry="14" fill="#7a1010" opacity=".5" transform="rotate(38 1300 280)" filter="url(#b8)"/>
<ellipse cx="1390" cy="355" rx="45" ry="16" fill="#7a1010" opacity=".5" transform="rotate(40 1390 355)" filter="url(#b8)"/>
<mask id="mcbr" maskUnits="userSpaceOnUse" x="1180.1" y="193.9" width="307.6" height="238.7"><path d="M1260.4,240.6C1265,240.6 1280.3,241.4 1291.6,246C1302.9,250.6 1316,260.1 1328.2,268C1340.4,275.9 1352.6,285.1 1364.8,293.7C1377,302.3 1389.3,310.5 1401.5,319.4C1413.7,328.2 1427.6,339.2 1438,346.8C1448.4,354.4 1459.4,354.5 1463.7,365.2C1468,375.9 1472.6,406.3 1463.7,410.9C1454.8,415.5 1424,400.2 1410.6,392.6C1397.2,385 1392.3,374.4 1383.2,365.2C1374.1,356 1364.9,345.9 1355.7,337.7C1346.5,329.4 1337.4,323.3 1328.2,315.7C1319,308.1 1308.3,299.8 1300.7,291.9C1293.1,283.9 1288.5,275.6 1282.4,268C1276.3,260.4 1267.8,250.6 1264.1,246C1260.4,241.4 1255.8,240.6 1260.4,240.6Z" fill="#fff" filter="url(#b6)"/></mask>
<g mask="url(#mcbr)">
<rect x="1200.1" y="213.9" width="267.6" height="198.7" filter="url(#redn)" opacity=".3"/>
</g>
<path d="M1305 290a1.3 1.3 0 1 0 2.5 0a1.3 1.3 0 1 0-2.5 0M1322 294a1.0 1.0 0 1 0 2.1 0a1.0 1.0 0 1 0-2.1 0M1302 274a1.0 1.0 0 1 0 1.9 0a1.0 1.0 0 1 0-1.9 0M1291 260a1.2 1.2 0 1 0 2.3 0a1.2 1.2 0 1 0-2.3 0M1288 275a1.0 1.0 0 1 0 2.0 0a1.0 1.0 0 1 0-2.0 0M1328 294a1.4 1.4 0 1 0 2.7 0a1.4 1.4 0 1 0-2.7 0M1330 318a1.0 1.0 0 1 0 2.0 0a1.0 1.0 0 1 0-2.0 0M1301 295a1.3 1.3 0 1 0 2.6 0a1.3 1.3 0 1 0-2.6 0M1301 302a1.4 1.4 0 1 0 2.8 0a1.4 1.4 0 1 0-2.8 0M1332 307a1.1 1.1 0 1 0 2.3 0a1.1 1.1 0 1 0-2.3 0M1297 293a1.6 1.6 0 1 0 3.2 0a1.6 1.6 0 1 0-3.2 0M1321 288a1.3 1.3 0 1 0 2.5 0a1.3 1.3 0 1 0-2.5 0M1339 311a1.4 1.4 0 1 0 2.9 0a1.4 1.4 0 1 0-2.9 0M1329 307a1.4 1.4 0 1 0 2.8 0a1.4 1.4 0 1 0-2.8 0M1340 315a1.2 1.2 0 1 0 2.5 0a1.2 1.2 0 1 0-2.5 0M1332 299a1.3 1.3 0 1 0 2.7 0a1.3 1.3 0 1 0-2.7 0M1326 286a1.2 1.2 0 1 0 2.3 0a1.2 1.2 0 1 0-2.3 0" fill="#ff3030" opacity=".8"/><path d="M1303 289a1.1 1.1 0 1 0 2.1 0a1.1 1.1 0 1 0-2.1 0M1287 266a1.1 1.1 0 1 0 2.1 0a1.1 1.1 0 1 0-2.1 0M1308 291a1.0 1.0 0 1 0 2.1 0a1.0 1.0 0 1 0-2.1 0M1312 310a1.6 1.6 0 1 0 3.2 0a1.6 1.6 0 1 0-3.2 0M1297 266a1.7 1.7 0 1 0 3.4 0a1.7 1.7 0 1 0-3.4 0M1284 273a1.0 1.0 0 1 0 2.0 0a1.0 1.0 0 1 0-2.0 0M1293 267a1.3 1.3 0 1 0 2.5 0a1.3 1.3 0 1 0-2.5 0M1296 290a1.4 1.4 0 1 0 2.8 0a1.4 1.4 0 1 0-2.8 0M1329 318a1.4 1.4 0 1 0 2.7 0a1.4 1.4 0 1 0-2.7 0M1309 294a1.6 1.6 0 1 0 3.2 0a1.6 1.6 0 1 0-3.2 0M1322 300a1.6 1.6 0 1 0 3.3 0a1.6 1.6 0 1 0-3.3 0M1293 281a1.6 1.6 0 1 0 3.2 0a1.6 1.6 0 1 0-3.2 0M1300 282a1.1 1.1 0 1 0 2.1 0a1.1 1.1 0 1 0-2.1 0M1320 300a1.2 1.2 0 1 0 2.4 0a1.2 1.2 0 1 0-2.4 0M1316 304a1.4 1.4 0 1 0 2.8 0a1.4 1.4 0 1 0-2.8 0M1288 283a1.0 1.0 0 1 0 2.0 0a1.0 1.0 0 1 0-2.0 0M1291 270a0.9 0.9 0 1 0 1.8 0a0.9 0.9 0 1 0-1.8 0M1303 302a1.6 1.6 0 1 0 3.3 0a1.6 1.6 0 1 0-3.3 0M1297 291a1.6 1.6 0 1 0 3.1 0a1.6 1.6 0 1 0-3.1 0" fill="#e82828" opacity=".8"/><path d="M1292 285a1.0 1.0 0 1 0 2.0 0a1.0 1.0 0 1 0-2.0 0M1301 290a1.2 1.2 0 1 0 2.5 0a1.2 1.2 0 1 0-2.5 0M1299 297a1.0 1.0 0 1 0 2.0 0a1.0 1.0 0 1 0-2.0 0M1305 300a1.6 1.6 0 1 0 3.1 0a1.6 1.6 0 1 0-3.1 0M1280 258a1.0 1.0 0 1 0 2.0 0a1.0 1.0 0 1 0-2.0 0M1327 298a1.4 1.4 0 1 0 2.7 0a1.4 1.4 0 1 0-2.7 0M1329 297a1.3 1.3 0 1 0 2.6 0a1.3 1.3 0 1 0-2.6 0M1335 314a1.0 1.0 0 1 0 2.0 0a1.0 1.0 0 1 0-2.0 0M1293 270a1.0 1.0 0 1 0 2.0 0a1.0 1.0 0 1 0-2.0 0M1286 263a1.5 1.5 0 1 0 3.0 0a1.5 1.5 0 1 0-3.0 0M1335 311a1.3 1.3 0 1 0 2.5 0a1.3 1.3 0 1 0-2.5 0M1328 292a1.1 1.1 0 1 0 2.1 0a1.1 1.1 0 1 0-2.1 0M1302 276a1.6 1.6 0 1 0 3.1 0a1.6 1.6 0 1 0-3.1 0" fill="#ff3030" opacity=".5"/><path d="M1340 316a1.3 1.3 0 1 0 2.6 0a1.3 1.3 0 1 0-2.6 0M1297 292a1.3 1.3 0 1 0 2.6 0a1.3 1.3 0 1 0-2.6 0M1304 297a1.7 1.7 0 1 0 3.3 0a1.7 1.7 0 1 0-3.3 0M1287 275a1.6 1.6 0 1 0 3.2 0a1.6 1.6 0 1 0-3.2 0M1313 274a1.4 1.4 0 1 0 2.8 0a1.4 1.4 0 1 0-2.8 0M1307 294a1.2 1.2 0 1 0 2.4 0a1.2 1.2 0 1 0-2.4 0M1324 291a1.6 1.6 0 1 0 3.1 0a1.6 1.6 0 1 0-3.1 0M1314 305a1.4 1.4 0 1 0 2.9 0a1.4 1.4 0 1 0-2.9 0M1289 274a1.1 1.1 0 1 0 2.3 0a1.1 1.1 0 1 0-2.3 0M1289 284a1.7 1.7 0 1 0 3.3 0a1.7 1.7 0 1 0-3.3 0M1284 272a1.3 1.3 0 1 0 2.5 0a1.3 1.3 0 1 0-2.5 0" fill="#ff4a3a" opacity=".5"/><path d="M1341 316a1.5 1.5 0 1 0 3.1 0a1.5 1.5 0 1 0-3.1 0M1313 294a1.3 1.3 0 1 0 2.5 0a1.3 1.3 0 1 0-2.5 0M1323 299a0.9 0.9 0 1 0 1.9 0a0.9 0.9 0 1 0-1.9 0" fill="#ff3030" opacity="1"/><path d="M1324 311a1.0 1.0 0 1 0 2.0 0a1.0 1.0 0 1 0-2.0 0M1317 281a1.4 1.4 0 1 0 2.8 0a1.4 1.4 0 1 0-2.8 0M1299 297a1.4 1.4 0 1 0 2.7 0a1.4 1.4 0 1 0-2.7 0M1322 286a1.4 1.4 0 1 0 2.8 0a1.4 1.4 0 1 0-2.8 0M1300 288a1.1 1.1 0 1 0 2.3 0a1.1 1.1 0 1 0-2.3 0M1330 305a1.6 1.6 0 1 0 3.3 0a1.6 1.6 0 1 0-3.3 0M1331 303a1.2 1.2 0 1 0 2.4 0a1.2 1.2 0 1 0-2.4 0M1313 310a1.0 1.0 0 1 0 2.0 0a1.0 1.0 0 1 0-2.0 0M1301 272a1.2 1.2 0 1 0 2.3 0a1.2 1.2 0 1 0-2.3 0M1297 270a1.6 1.6 0 1 0 3.2 0a1.6 1.6 0 1 0-3.2 0M1301 281a1.6 1.6 0 1 0 3.1 0a1.6 1.6 0 1 0-3.1 0M1313 288a1.1 1.1 0 1 0 2.3 0a1.1 1.1 0 1 0-2.3 0M1319 313a1.2 1.2 0 1 0 2.5 0a1.2 1.2 0 1 0-2.5 0M1291 283a1.0 1.0 0 1 0 2.0 0a1.0 1.0 0 1 0-2.0 0" fill="#e82828" opacity=".5"/><path d="M1316 303a1.2 1.2 0 1 0 2.4 0a1.2 1.2 0 1 0-2.4 0M1333 318a0.9 0.9 0 1 0 1.8 0a0.9 0.9 0 1 0-1.8 0M1301 297a1.1 1.1 0 1 0 2.3 0a1.1 1.1 0 1 0-2.3 0M1304 302a1.1 1.1 0 1 0 2.2 0a1.1 1.1 0 1 0-2.2 0M1328 312a0.9 0.9 0 1 0 1.8 0a0.9 0.9 0 1 0-1.8 0M1303 283a1.6 1.6 0 1 0 3.1 0a1.6 1.6 0 1 0-3.1 0M1319 316a1.7 1.7 0 1 0 3.3 0a1.7 1.7 0 1 0-3.3 0M1326 307a1.7 1.7 0 1 0 3.3 0a1.7 1.7 0 1 0-3.3 0M1313 283a1.4 1.4 0 1 0 2.7 0a1.4 1.4 0 1 0-2.7 0M1293 285a1.1 1.1 0 1 0 2.2 0a1.1 1.1 0 1 0-2.2 0M1316 283a1.6 1.6 0 1 0 3.3 0a1.6 1.6 0 1 0-3.3 0M1325 318a0.9 0.9 0 1 0 1.9 0a0.9 0.9 0 1 0-1.9 0M1298 280a1.7 1.7 0 1 0 3.4 0a1.7 1.7 0 1 0-3.4 0M1315 288a1.0 1.0 0 1 0 2.0 0a1.0 1.0 0 1 0-2.0 0M1314 302a1.1 1.1 0 1 0 2.2 0a1.1 1.1 0 1 0-2.2 0M1334 319a1.1 1.1 0 1 0 2.1 0a1.1 1.1 0 1 0-2.1 0M1310 278a1.6 1.6 0 1 0 3.3 0a1.6 1.6 0 1 0-3.3 0M1309 288a1.0 1.0 0 1 0 2.1 0a1.0 1.0 0 1 0-2.1 0" fill="#ff4a3a" opacity=".8"/><path d="M1294 286a1.4 1.4 0 1 0 2.7 0a1.4 1.4 0 1 0-2.7 0M1282 275a1.7 1.7 0 1 0 3.4 0a1.7 1.7 0 1 0-3.4 0M1334 316a1.5 1.5 0 1 0 3.0 0a1.5 1.5 0 1 0-3.0 0" fill="#ff4a3a" opacity="1"/><path d="M1301 296a1.2 1.2 0 1 0 2.4 0a1.2 1.2 0 1 0-2.4 0M1330 313a1.4 1.4 0 1 0 2.7 0a1.4 1.4 0 1 0-2.7 0" fill="#e82828" opacity="1"/>
<path d="M1397 378a1.2 1.2 0 1 0 2.4 0a1.2 1.2 0 1 0-2.4 0M1406 366a1.1 1.1 0 1 0 2.1 0a1.1 1.1 0 1 0-2.1 0M1374 332a0.9 0.9 0 1 0 1.8 0a0.9 0.9 0 1 0-1.8 0M1400 349a1.5 1.5 0 1 0 2.9 0a1.5 1.5 0 1 0-2.9 0M1409 345a1.5 1.5 0 1 0 3.0 0a1.5 1.5 0 1 0-3.0 0M1427 377a1.2 1.2 0 1 0 2.5 0a1.2 1.2 0 1 0-2.5 0M1430 371a1.4 1.4 0 1 0 2.8 0a1.4 1.4 0 1 0-2.8 0M1360 321a0.9 0.9 0 1 0 1.8 0a0.9 0.9 0 1 0-1.8 0M1388 342a1.2 1.2 0 1 0 2.4 0a1.2 1.2 0 1 0-2.4 0M1395 354a1.5 1.5 0 1 0 3.1 0a1.5 1.5 0 1 0-3.1 0M1413 387a1.4 1.4 0 1 0 2.7 0a1.4 1.4 0 1 0-2.7 0M1349 325a1.1 1.1 0 1 0 2.2 0a1.1 1.1 0 1 0-2.2 0M1353 317a1.0 1.0 0 1 0 2.0 0a1.0 1.0 0 1 0-2.0 0M1400 366a1.1 1.1 0 1 0 2.3 0a1.1 1.1 0 1 0-2.3 0M1369 339a1.5 1.5 0 1 0 2.9 0a1.5 1.5 0 1 0-2.9 0M1347 314a1.1 1.1 0 1 0 2.2 0a1.1 1.1 0 1 0-2.2 0M1364 336a1.6 1.6 0 1 0 3.1 0a1.6 1.6 0 1 0-3.1 0M1372 334a1.0 1.0 0 1 0 2.0 0a1.0 1.0 0 1 0-2.0 0M1376 363a1.3 1.3 0 1 0 2.6 0a1.3 1.3 0 1 0-2.6 0M1381 349a1.1 1.1 0 1 0 2.3 0a1.1 1.1 0 1 0-2.3 0M1420 369a1.6 1.6 0 1 0 3.2 0a1.6 1.6 0 1 0-3.2 0M1382 360a1.4 1.4 0 1 0 2.7 0a1.4 1.4 0 1 0-2.7 0M1427 375a1.2 1.2 0 1 0 2.4 0a1.2 1.2 0 1 0-2.4 0M1384 371a1.4 1.4 0 1 0 2.8 0a1.4 1.4 0 1 0-2.8 0M1395 356a1.4 1.4 0 1 0 2.7 0a1.4 1.4 0 1 0-2.7 0M1430 371a1.6 1.6 0 1 0 3.1 0a1.6 1.6 0 1 0-3.1 0M1419 360a1.4 1.4 0 1 0 2.9 0a1.4 1.4 0 1 0-2.9 0" fill="#ff3030" opacity=".8"/><path d="M1430 374a1.1 1.1 0 1 0 2.2 0a1.1 1.1 0 1 0-2.2 0M1357 324a1.2 1.2 0 1 0 2.4 0a1.2 1.2 0 1 0-2.4 0M1354 315a1.0 1.0 0 1 0 2.0 0a1.0 1.0 0 1 0-2.0 0M1429 383a1.2 1.2 0 1 0 2.4 0a1.2 1.2 0 1 0-2.4 0M1389 340a1.5 1.5 0 1 0 3.1 0a1.5 1.5 0 1 0-3.1 0M1419 379a1.0 1.0 0 1 0 2.1 0a1.0 1.0 0 1 0-2.1 0M1391 355a1.7 1.7 0 1 0 3.3 0a1.7 1.7 0 1 0-3.3 0M1363 346a1.1 1.1 0 1 0 2.2 0a1.1 1.1 0 1 0-2.2 0M1430 372a1.1 1.1 0 1 0 2.2 0a1.1 1.1 0 1 0-2.2 0M1363 334a1.5 1.5 0 1 0 2.9 0a1.5 1.5 0 1 0-2.9 0M1414 359a1.3 1.3 0 1 0 2.7 0a1.3 1.3 0 1 0-2.7 0M1364 321a1.6 1.6 0 1 0 3.3 0a1.6 1.6 0 1 0-3.3 0M1383 336a1.2 1.2 0 1 0 2.5 0a1.2 1.2 0 1 0-2.5 0M1369 338a1.4 1.4 0 1 0 2.9 0a1.4 1.4 0 1 0-2.9 0" fill="#ff4a3a" opacity=".5"/><path d="M1369 342a0.9 0.9 0 1 0 1.9 0a0.9 0.9 0 1 0-1.9 0M1393 359a1.4 1.4 0 1 0 2.8 0a1.4 1.4 0 1 0-2.8 0M1379 339a1.1 1.1 0 1 0 2.2 0a1.1 1.1 0 1 0-2.2 0M1368 329a1.0 1.0 0 1 0 2.0 0a1.0 1.0 0 1 0-2.0 0M1415 348a1.1 1.1 0 1 0 2.3 0a1.1 1.1 0 1 0-2.3 0M1431 387a1.3 1.3 0 1 0 2.5 0a1.3 1.3 0 1 0-2.5 0M1411 357a1.3 1.3 0 1 0 2.6 0a1.3 1.3 0 1 0-2.6 0M1377 368a1.0 1.0 0 1 0 1.9 0a1.0 1.0 0 1 0-1.9 0M1418 360a1.0 1.0 0 1 0 2.1 0a1.0 1.0 0 1 0-2.1 0M1348 314a1.0 1.0 0 1 0 2.0 0a1.0 1.0 0 1 0-2.0 0M1410 365a1.3 1.3 0 1 0 2.7 0a1.3 1.3 0 1 0-2.7 0M1403 352a1.1 1.1 0 1 0 2.3 0a1.1 1.1 0 1 0-2.3 0M1410 375a1.3 1.3 0 1 0 2.6 0a1.3 1.3 0 1 0-2.6 0M1379 336a1.4 1.4 0 1 0 2.8 0a1.4 1.4 0 1 0-2.8 0M1375 346a1.1 1.1 0 1 0 2.2 0a1.1 1.1 0 1 0-2.2 0M1425 369a1.5 1.5 0 1 0 3.0 0a1.5 1.5 0 1 0-3.0 0M1364 322a0.9 0.9 0 1 0 1.8 0a0.9 0.9 0 1 0-1.8 0M1406 353a1.3 1.3 0 1 0 2.5 0a1.3 1.3 0 1 0-2.5 0M1374 360a1.1 1.1 0 1 0 2.2 0a1.1 1.1 0 1 0-2.2 0M1391 344a1.0 1.0 0 1 0 1.9 0a1.0 1.0 0 1 0-1.9 0M1349 313a1.7 1.7 0 1 0 3.3 0a1.7 1.7 0 1 0-3.3 0M1417 365a1.6 1.6 0 1 0 3.2 0a1.6 1.6 0 1 0-3.2 0M1381 354a1.3 1.3 0 1 0 2.5 0a1.3 1.3 0 1 0-2.5 0M1361 345a1.7 1.7 0 1 0 3.4 0a1.7 1.7 0 1 0-3.4 0M1380 352a1.1 1.1 0 1 0 2.2 0a1.1 1.1 0 1 0-2.2 0M1385 350a1.5 1.5 0 1 0 2.9 0a1.5 1.5 0 1 0-2.9 0M1408 365a1.1 1.1 0 1 0 2.2 0a1.1 1.1 0 1 0-2.2 0" fill="#ff4a3a" opacity=".8"/><path d="M1415 387a1.1 1.1 0 1 0 2.1 0a1.1 1.1 0 1 0-2.1 0M1420 370a1.2 1.2 0 1 0 2.5 0a1.2 1.2 0 1 0-2.5 0M1391 369a1.2 1.2 0 1 0 2.3 0a1.2 1.2 0 1 0-2.3 0M1432 378a1.3 1.3 0 1 0 2.6 0a1.3 1.3 0 1 0-2.6 0M1355 325a1.2 1.2 0 1 0 2.5 0a1.2 1.2 0 1 0-2.5 0M1359 343a1.3 1.3 0 1 0 2.7 0a1.3 1.3 0 1 0-2.7 0M1355 323a1.5 1.5 0 1 0 3.0 0a1.5 1.5 0 1 0-3.0 0M1402 384a1.3 1.3 0 1 0 2.6 0a1.3 1.3 0 1 0-2.6 0M1373 362a1.6 1.6 0 1 0 3.2 0a1.6 1.6 0 1 0-3.2 0M1415 384a1.3 1.3 0 1 0 2.5 0a1.3 1.3 0 1 0-2.5 0M1411 380a1.1 1.1 0 1 0 2.1 0a1.1 1.1 0 1 0-2.1 0M1365 329a1.5 1.5 0 1 0 2.9 0a1.5 1.5 0 1 0-2.9 0M1391 353a1.2 1.2 0 1 0 2.4 0a1.2 1.2 0 1 0-2.4 0M1424 362a1.6 1.6 0 1 0 3.2 0a1.6 1.6 0 1 0-3.2 0M1404 351a1.6 1.6 0 1 0 3.3 0a1.6 1.6 0 1 0-3.3 0M1371 336a1.2 1.2 0 1 0 2.4 0a1.2 1.2 0 1 0-2.4 0M1359 349a1.1 1.1 0 1 0 2.3 0a1.1 1.1 0 1 0-2.3 0M1374 360a1.4 1.4 0 1 0 2.8 0a1.4 1.4 0 1 0-2.8 0M1390 355a1.3 1.3 0 1 0 2.6 0a1.3 1.3 0 1 0-2.6 0" fill="#ff3030" opacity=".5"/><path d="M1404 366a1.3 1.3 0 1 0 2.7 0a1.3 1.3 0 1 0-2.7 0M1387 368a1.3 1.3 0 1 0 2.7 0a1.3 1.3 0 1 0-2.7 0M1353 315a1.2 1.2 0 1 0 2.5 0a1.2 1.2 0 1 0-2.5 0M1371 335a1.0 1.0 0 1 0 2.0 0a1.0 1.0 0 1 0-2.0 0M1367 345a1.4 1.4 0 1 0 2.7 0a1.4 1.4 0 1 0-2.7 0M1392 379a1.1 1.1 0 1 0 2.1 0a1.1 1.1 0 1 0-2.1 0M1367 348a1.1 1.1 0 1 0 2.1 0a1.1 1.1 0 1 0-2.1 0M1369 325a0.9 0.9 0 1 0 1.9 0a0.9 0.9 0 1 0-1.9 0M1395 337a1.5 1.5 0 1 0 3.0 0a1.5 1.5 0 1 0-3.0 0M1399 344a1.0 1.0 0 1 0 2.0 0a1.0 1.0 0 1 0-2.0 0M1385 375a1.6 1.6 0 1 0 3.3 0a1.6 1.6 0 1 0-3.3 0M1399 383a0.9 0.9 0 1 0 1.9 0a0.9 0.9 0 1 0-1.9 0M1410 363a1.3 1.3 0 1 0 2.5 0a1.3 1.3 0 1 0-2.5 0M1432 376a1.1 1.1 0 1 0 2.3 0a1.1 1.1 0 1 0-2.3 0M1426 390a1.4 1.4 0 1 0 2.7 0a1.4 1.4 0 1 0-2.7 0M1429 374a1.3 1.3 0 1 0 2.5 0a1.3 1.3 0 1 0-2.5 0M1401 355a1.4 1.4 0 1 0 2.8 0a1.4 1.4 0 1 0-2.8 0M1381 356a0.9 0.9 0 1 0 1.8 0a0.9 0.9 0 1 0-1.8 0" fill="#e82828" opacity=".8"/><path d="M1424 390a1.4 1.4 0 1 0 2.7 0a1.4 1.4 0 1 0-2.7 0M1358 334a1.4 1.4 0 1 0 2.9 0a1.4 1.4 0 1 0-2.9 0M1428 388a1.4 1.4 0 1 0 2.7 0a1.4 1.4 0 1 0-2.7 0M1409 363a1.2 1.2 0 1 0 2.3 0a1.2 1.2 0 1 0-2.3 0M1382 351a1.3 1.3 0 1 0 2.6 0a1.3 1.3 0 1 0-2.6 0M1377 349a1.0 1.0 0 1 0 2.1 0a1.0 1.0 0 1 0-2.1 0M1387 336a1.2 1.2 0 1 0 2.4 0a1.2 1.2 0 1 0-2.4 0M1410 369a1.2 1.2 0 1 0 2.5 0a1.2 1.2 0 1 0-2.5 0M1372 361a1.6 1.6 0 1 0 3.1 0a1.6 1.6 0 1 0-3.1 0M1433 386a1.7 1.7 0 1 0 3.4 0a1.7 1.7 0 1 0-3.4 0M1414 388a1.1 1.1 0 1 0 2.1 0a1.1 1.1 0 1 0-2.1 0" fill="#e82828" opacity=".5"/><path d="M1417 389a1.0 1.0 0 1 0 1.9 0a1.0 1.0 0 1 0-1.9 0" fill="#ff3030" opacity="1"/><path d="M1361 323a1.4 1.4 0 1 0 2.8 0a1.4 1.4 0 1 0-2.8 0M1373 349a1.1 1.1 0 1 0 2.2 0a1.1 1.1 0 1 0-2.2 0M1403 353a1.4 1.4 0 1 0 2.8 0a1.4 1.4 0 1 0-2.8 0" fill="#ff4a3a" opacity="1"/>
<path d="M1381 329a1.1 1.1 0 1 0 2.1 0a1.1 1.1 0 1 0-2.1 0M1282 265a1.1 1.1 0 1 0 2.1 0a1.1 1.1 0 1 0-2.1 0M1377 336a1.2 1.2 0 1 0 2.4 0a1.2 1.2 0 1 0-2.4 0M1272 248a1.2 1.2 0 1 0 2.4 0a1.2 1.2 0 1 0-2.4 0M1355 312a1.0 1.0 0 1 0 2.0 0a1.0 1.0 0 1 0-2.0 0M1411 384a0.8 0.8 0 1 0 1.6 0a0.8 0.8 0 1 0-1.6 0M1441 357a0.8 0.8 0 1 0 1.6 0a0.8 0.8 0 1 0-1.6 0M1366 321a1.0 1.0 0 1 0 2.0 0a1.0 1.0 0 1 0-2.0 0M1395 329a1.1 1.1 0 1 0 2.2 0a1.1 1.1 0 1 0-2.2 0M1348 287a1.0 1.0 0 1 0 1.9 0a1.0 1.0 0 1 0-1.9 0M1453 399a1.3 1.3 0 1 0 2.6 0a1.3 1.3 0 1 0-2.6 0M1388 328a1.1 1.1 0 1 0 2.1 0a1.1 1.1 0 1 0-2.1 0M1357 295a0.8 0.8 0 1 0 1.6 0a0.8 0.8 0 1 0-1.6 0M1366 342a0.7 0.7 0 1 0 1.5 0a0.7 0.7 0 1 0-1.5 0M1409 357a1.1 1.1 0 1 0 2.3 0a1.1 1.1 0 1 0-2.3 0M1408 363a1.2 1.2 0 1 0 2.4 0a1.2 1.2 0 1 0-2.4 0M1305 265a1.3 1.3 0 1 0 2.5 0a1.3 1.3 0 1 0-2.5 0M1452 394a1.2 1.2 0 1 0 2.3 0a1.2 1.2 0 1 0-2.3 0M1341 301a0.7 0.7 0 1 0 1.5 0a0.7 0.7 0 1 0-1.5 0M1399 375a1.1 1.1 0 1 0 2.2 0a1.1 1.1 0 1 0-2.2 0M1391 364a1.0 1.0 0 1 0 2.0 0a1.0 1.0 0 1 0-2.0 0M1321 295a0.7 0.7 0 1 0 1.4 0a0.7 0.7 0 1 0-1.4 0M1428 375a0.8 0.8 0 1 0 1.7 0a0.8 0.8 0 1 0-1.7 0M1388 350a1.2 1.2 0 1 0 2.3 0a1.2 1.2 0 1 0-2.3 0" fill="#e82828" opacity=".5"/><path d="M1436 364a0.8 0.8 0 1 0 1.7 0a0.8 0.8 0 1 0-1.7 0M1414 344a1.0 1.0 0 1 0 2.0 0a1.0 1.0 0 1 0-2.0 0M1404 340a0.9 0.9 0 1 0 1.9 0a0.9 0.9 0 1 0-1.9 0M1313 277a1.1 1.1 0 1 0 2.3 0a1.1 1.1 0 1 0-2.3 0M1444 366a1.1 1.1 0 1 0 2.2 0a1.1 1.1 0 1 0-2.2 0M1281 246a0.8 0.8 0 1 0 1.6 0a0.8 0.8 0 1 0-1.6 0M1380 350a0.9 0.9 0 1 0 1.9 0a0.9 0.9 0 1 0-1.9 0M1335 314a0.7 0.7 0 1 0 1.4 0a0.7 0.7 0 1 0-1.4 0" fill="#e82828" opacity=".2"/><path d="M1326 282a1.2 1.2 0 1 0 2.5 0a1.2 1.2 0 1 0-2.5 0M1308 297a1.2 1.2 0 1 0 2.4 0a1.2 1.2 0 1 0-2.4 0M1456 390a0.7 0.7 0 1 0 1.5 0a0.7 0.7 0 1 0-1.5 0M1431 359a1.1 1.1 0 1 0 2.3 0a1.1 1.1 0 1 0-2.3 0M1451 396a0.7 0.7 0 1 0 1.5 0a0.7 0.7 0 1 0-1.5 0M1370 351a1.1 1.1 0 1 0 2.1 0a1.1 1.1 0 1 0-2.1 0M1463 401a0.9 0.9 0 1 0 1.8 0a0.9 0.9 0 1 0-1.8 0M1411 358a1.0 1.0 0 1 0 2.1 0a1.0 1.0 0 1 0-2.1 0M1449 406a0.8 0.8 0 1 0 1.7 0a0.8 0.8 0 1 0-1.7 0M1310 265a1.0 1.0 0 1 0 2.1 0a1.0 1.0 0 1 0-2.1 0M1347 298a1.0 1.0 0 1 0 2.0 0a1.0 1.0 0 1 0-2.0 0M1409 345a0.9 0.9 0 1 0 1.9 0a0.9 0.9 0 1 0-1.9 0M1357 301a1.0 1.0 0 1 0 2.1 0a1.0 1.0 0 1 0-2.1 0M1460 375a1.0 1.0 0 1 0 2.0 0a1.0 1.0 0 1 0-2.0 0M1373 303a1.0 1.0 0 1 0 1.9 0a1.0 1.0 0 1 0-1.9 0M1359 308a1.1 1.1 0 1 0 2.2 0a1.1 1.1 0 1 0-2.2 0M1346 292a0.9 0.9 0 1 0 1.7 0a0.9 0.9 0 1 0-1.7 0M1382 360a0.9 0.9 0 1 0 1.8 0a0.9 0.9 0 1 0-1.8 0M1423 375a1.0 1.0 0 1 0 1.9 0a1.0 1.0 0 1 0-1.9 0M1346 284a1.1 1.1 0 1 0 2.2 0a1.1 1.1 0 1 0-2.2 0" fill="#ff3030" opacity=".5"/><path d="M1374 319a0.8 0.8 0 1 0 1.7 0a0.8 0.8 0 1 0-1.7 0M1348 309a0.8 0.8 0 1 0 1.7 0a0.8 0.8 0 1 0-1.7 0M1313 286a1.0 1.0 0 1 0 2.0 0a1.0 1.0 0 1 0-2.0 0M1416 381a1.3 1.3 0 1 0 2.5 0a1.3 1.3 0 1 0-2.5 0M1338 280a0.8 0.8 0 1 0 1.7 0a0.8 0.8 0 1 0-1.7 0M1453 390a1.2 1.2 0 1 0 2.4 0a1.2 1.2 0 1 0-2.4 0M1398 337a1.0 1.0 0 1 0 2.1 0a1.0 1.0 0 1 0-2.1 0M1385 354a0.9 0.9 0 1 0 1.7 0a0.9 0.9 0 1 0-1.7 0M1421 375a0.7 0.7 0 1 0 1.5 0a0.7 0.7 0 1 0-1.5 0M1436 400a1.2 1.2 0 1 0 2.4 0a1.2 1.2 0 1 0-2.4 0" fill="#ff3030" opacity=".2"/><path d="M1328 288a0.9 0.9 0 1 0 1.8 0a0.9 0.9 0 1 0-1.8 0M1299 260a0.8 0.8 0 1 0 1.5 0a0.8 0.8 0 1 0-1.5 0M1453 399a1.2 1.2 0 1 0 2.3 0a1.2 1.2 0 1 0-2.3 0M1388 329a0.9 0.9 0 1 0 1.7 0a0.9 0.9 0 1 0-1.7 0M1463 371a1.0 1.0 0 1 0 2.0 0a1.0 1.0 0 1 0-2.0 0M1314 286a0.8 0.8 0 1 0 1.5 0a0.8 0.8 0 1 0-1.5 0M1382 352a1.0 1.0 0 1 0 2.0 0a1.0 1.0 0 1 0-2.0 0" fill="#e82828" opacity=".8"/><path d="M1455 407a1.1 1.1 0 1 0 2.1 0a1.1 1.1 0 1 0-2.1 0" fill="#ff3030" opacity=".8"/>
<path d="M1330,220C1333.7,217 1346.3,215.3 1350,222C1353.7,228.7 1353.7,252.8 1352,260C1350.3,267.2 1344,268.3 1340,265C1336,261.7 1329.7,247.5 1328,240C1326.3,232.5 1326.3,223 1330,220Z" fill="#050101" opacity=".7" filter="url(#b3)"/>
</g>
<text x="1211" y="401.4" font-size="26" fill="#e41f2d" textLength="120" lengthAdjust="spacingAndGlyphs">tdTomato</text>
<rect x="1419" y="396" width="39" height="8.4" fill="#fff"/>
<clipPath id="ch"><polygon points="650.1,900.3 1188,900.3 1181.9,1304.7 643.2,1304.7"/></clipPath>
<mask id="mch" maskUnits="userSpaceOnUse" x="623.2" y="880.3" width="584.8" height="444.4"><g filter="url(#b14)"><path d="M820,1035C831.7,1031.7 873.3,1046.7 900,1055C926.7,1063.3 953.3,1075 980,1085C1006.7,1095 1035,1104.2 1060,1115C1085,1125.8 1113.3,1135.8 1130,1150C1146.7,1164.2 1156.7,1183.3 1160,1200C1163.3,1216.7 1156.7,1237.5 1150,1250C1143.3,1262.5 1135,1275 1120,1275C1105,1275 1080,1260 1060,1250C1040,1240 1021.7,1228.3 1000,1215C978.3,1201.7 951.7,1185.8 930,1170C908.3,1154.2 886.7,1135.8 870,1120C853.3,1104.2 838.3,1089.2 830,1075C821.7,1060.8 808.3,1038.3 820,1035Z" fill="#fff"/></g></mask>
<g clip-path="url(#ch)">
<polygon points="650.1,900.3 1188,900.3 1181.9,1304.7 643.2,1304.7" fill="#0f1029"/>
<path d="M650,990C669.5,940.8 725,990 760,1010C795,1030 826.7,1080 860,1110C893.3,1140 928.3,1165 960,1190C991.7,1215 1026.7,1240.8 1050,1260C1073.3,1279.2 1167.8,1297.5 1100,1305C1032.2,1312.5 718,1357.5 643,1305C568,1252.5 630.5,1039.2 650,990Z" fill="#04040a" opacity=".8" filter="url(#b12)"/>
<path d="M985,1030C993,1019.8 1020.8,1028.2 1028,1040C1035.2,1051.8 1036,1090.8 1028,1101C1020,1111.2 987.2,1112.8 980,1101C972.8,1089.2 977,1040.2 985,1030Z" fill="#0a0b1e" opacity=".8" filter="url(#b3)"/>
<rect x="643.2" y="900.3" width="544.8" height="404.4" filter="url(#dapi)" opacity="0.65"/>
<ellipse cx="900" cy="905" rx="60" ry="10" fill="#4a2a40" opacity=".5" transform="rotate(0 900 905)" filter="url(#b6)"/>
<ellipse cx="1020" cy="1280" rx="40" ry="30" fill="#4a1a2a" opacity=".5" transform="rotate(60 1020 1280)" filter="url(#b8)"/>
<g><path d="M1130 1248Q1136 1293 1155 1337" stroke="#c0302a" stroke-width="1.4" fill="none" opacity="0.46"/><path d="M1035 1199Q1044 1238 1046 1277" stroke="#d05030" stroke-width="1.4" fill="none" opacity="0.56"/><path d="M974 1173Q973 1217 985 1261" stroke="#b02a40" stroke-width="1.3" fill="none" opacity="0.51"/><path d="M944 1156Q957 1184 963 1213" stroke="#c0302a" stroke-width="0.8" fill="none" opacity="0.50"/><path d="M991 1178Q988 1217 1000 1256" stroke="#d05030" stroke-width="1.4" fill="none" opacity="0.45"/><path d="M942 1164Q944 1187 950 1211" stroke="#b02a40" stroke-width="1.1" fill="none" opacity="0.69"/><path d="M1082 1222Q1075 1273 1076 1324" stroke="#c0302a" stroke-width="1.0" fill="none" opacity="0.40"/><path d="M1006 1197Q1016 1229 1013 1262" stroke="#d05030" stroke-width="1.5" fill="none" opacity="0.44"/><path d="M1077 1216Q1081 1240 1082 1265" stroke="#b02a40" stroke-width="1.0" fill="none" opacity="0.40"/><path d="M964 1177Q954 1220 949 1263" stroke="#c0302a" stroke-width="1.1" fill="none" opacity="0.65"/><path d="M1060 1212Q1076 1249 1082 1286" stroke="#d05030" stroke-width="1.0" fill="none" opacity="0.53"/><path d="M1032 1198Q1045 1250 1045 1301" stroke="#b02a40" stroke-width="1.4" fill="none" opacity="0.52"/><path d="M903 1137Q903 1186 916 1234" stroke="#c0302a" stroke-width="1.0" fill="none" opacity="0.45"/><path d="M1136 1255Q1145 1280 1152 1306" stroke="#d05030" stroke-width="1.3" fill="none" opacity="0.56"/><path d="M1127 1251Q1120 1291 1118 1330" stroke="#b02a40" stroke-width="1.3" fill="none" opacity="0.42"/><path d="M972 1172Q983 1199 991 1226" stroke="#c0302a" stroke-width="1.4" fill="none" opacity="0.44"/><path d="M1117 1239Q1124 1263 1133 1288" stroke="#d05030" stroke-width="1.3" fill="none" opacity="0.52"/><path d="M1075 1228Q1078 1263 1085 1299" stroke="#b02a40" stroke-width="1.4" fill="none" opacity="0.36"/><path d="M959 1163Q970 1202 974 1241" stroke="#c0302a" stroke-width="0.9" fill="none" opacity="0.36"/><path d="M1075 1226Q1079 1258 1090 1291" stroke="#d05030" stroke-width="1.1" fill="none" opacity="0.46"/><path d="M1080 1225Q1093 1246 1092 1268" stroke="#b02a40" stroke-width="1.1" fill="none" opacity="0.61"/><path d="M953 1168Q964 1217 986 1267" stroke="#c0302a" stroke-width="1.0" fill="none" opacity="0.46"/></g>
<g mask="url(#mch)">
<path d="M820,1035C831.7,1031.7 873.3,1046.7 900,1055C926.7,1063.3 953.3,1075 980,1085C1006.7,1095 1035,1104.2 1060,1115C1085,1125.8 1113.3,1135.8 1130,1150C1146.7,1164.2 1156.7,1183.3 1160,1200C1163.3,1216.7 1156.7,1237.5 1150,1250C1143.3,1262.5 1135,1275 1120,1275C1105,1275 1080,1260 1060,1250C1040,1240 1021.7,1228.3 1000,1215C978.3,1201.7 951.7,1185.8 930,1170C908.3,1154.2 886.7,1135.8 870,1120C853.3,1104.2 838.3,1089.2 830,1075C821.7,1060.8 808.3,1038.3 820,1035Z" fill="#163e36" opacity=".8" filter="url(#b2)"/>
<ellipse cx="950" cy="1110" rx="90" ry="22" fill="#7a4a28" opacity=".8" transform="rotate(38 950 1110)" filter="url(#b8)"/>
<ellipse cx="1070" cy="1150" rx="70" ry="40" fill="#2f7a48" opacity=".6" transform="rotate(30 1070 1150)" filter="url(#b12)"/>
<ellipse cx="1120" cy="1215" rx="40" ry="30" fill="#2a6a45" opacity=".5" transform="rotate(30 1120 1215)" filter="url(#b10)"/>
<ellipse cx="1080" cy="1120" rx="60" ry="20" fill="#2a2a70" opacity=".4" transform="rotate(20 1080 1120)" filter="url(#b10)"/>
<g transform="rotate(35 915.6 1102.5)"><rect x="465.6" y="652.5" width="900" height="900" filter="url(#streakG)" opacity=".3"/></g>
<g transform="rotate(35 915.6 1102.5)"><rect x="465.6" y="652.5" width="900" height="900" filter="url(#streakK)" opacity=".3"/></g>
<ellipse cx="1070" cy="1115" rx="75" ry="14" fill="#0e1630" opacity=".6" transform="rotate(28 1070 1115)" filter="url(#b8)"/>
<ellipse cx="860" cy="1055" rx="45" ry="10" fill="#0e1630" opacity=".4" transform="rotate(38 860 1055)" filter="url(#b6)"/>
</g>
<g filter="url(#b1)"><path d="M1014 1178a2.0 1.6 35 1 0 3.2 2.3a2.0 1.6 35 1 0-3.2-2.3M995 1194a2.1 1.7 35 1 0 3.4 2.4a2.1 1.7 35 1 0-3.4-2.4M1043 1185a1.7 1.4 35 1 0 2.8 2.0a1.7 1.4 35 1 0-2.8-2.0M860 1085a2.0 1.7 35 1 0 3.2 2.3a2.0 1.7 35 1 0-3.2-2.3M1045 1212a1.6 1.3 35 1 0 2.6 1.8a1.6 1.3 35 1 0-2.6-1.8M1001 1163a2.4 2.0 35 1 0 3.9 2.7a2.4 2.0 35 1 0-3.9-2.7M1054 1206a2.1 1.8 35 1 0 3.5 2.4a2.1 1.8 35 1 0-3.5-2.4M950 1134a2.0 1.7 35 1 0 3.3 2.3a2.0 1.7 35 1 0-3.3-2.3M1077 1230a2.0 1.7 35 1 0 3.3 2.3a2.0 1.7 35 1 0-3.3-2.3" fill="#ffb040" opacity=".5"/><path d="M849 1070a2.7 2.2 35 1 0 4.4 3.1a2.7 2.2 35 1 0-4.4-3.1M1028 1171a1.9 1.6 35 1 0 3.2 2.2a1.9 1.6 35 1 0-3.2-2.2M1021 1178a2.5 2.0 35 1 0 4.0 2.8a2.5 2.0 35 1 0-4.0-2.8M1035 1193a2.7 2.3 35 1 0 4.5 3.1a2.7 2.3 35 1 0-4.5-3.1M969 1141a1.6 1.4 35 1 0 2.7 1.9a1.6 1.4 35 1 0-2.7-1.9" fill="#ff4040" opacity="1"/><path d="M947 1138a2.6 2.2 35 1 0 4.3 3.0a2.6 2.2 35 1 0-4.3-3.0M922 1142a2.8 2.3 35 1 0 4.6 3.2a2.8 2.3 35 1 0-4.6-3.2M894 1103a1.6 1.3 35 1 0 2.6 1.8a1.6 1.3 35 1 0-2.6-1.8M924 1149a2.5 2.1 35 1 0 4.1 2.8a2.5 2.1 35 1 0-4.1-2.8" fill="#d0e070" opacity="1"/><path d="M942 1156a1.7 1.4 35 1 0 2.8 1.9a1.7 1.4 35 1 0-2.8-1.9M1031 1210a2.2 1.9 35 1 0 3.7 2.6a2.2 1.9 35 1 0-3.7-2.6M995 1181a2.6 2.2 35 1 0 4.3 3.0a2.6 2.2 35 1 0-4.3-3.0M1037 1179a2.3 1.9 35 1 0 3.8 2.7a2.3 1.9 35 1 0-3.8-2.7" fill="#f0302a" opacity=".5"/><path d="M996 1149a2.2 1.8 35 1 0 3.6 2.5a2.2 1.8 35 1 0-3.6-2.5M1065 1208a2.9 2.4 35 1 0 4.7 3.3a2.9 2.4 35 1 0-4.7-3.3M903 1134a2.3 1.9 35 1 0 3.7 2.6a2.3 1.9 35 1 0-3.7-2.6M938 1119a2.0 1.6 35 1 0 3.2 2.3a2.0 1.6 35 1 0-3.2-2.3M865 1081a2.0 1.7 35 1 0 3.3 2.3a2.0 1.7 35 1 0-3.3-2.3M905 1127a2.5 2.1 35 1 0 4.1 2.9a2.5 2.1 35 1 0-4.1-2.9M1016 1184a2.0 1.7 35 1 0 3.3 2.3a2.0 1.7 35 1 0-3.3-2.3M949 1123a2.1 1.8 35 1 0 3.5 2.4a2.1 1.8 35 1 0-3.5-2.4M1062 1222a2.8 2.3 35 1 0 4.6 3.2a2.8 2.3 35 1 0-4.6-3.2M1049 1182a2.5 2.0 35 1 0 4.0 2.8a2.5 2.0 35 1 0-4.0-2.8M894 1132a2.8 2.4 35 1 0 4.7 3.3a2.8 2.4 35 1 0-4.7-3.3M955 1158a2.3 2.0 35 1 0 3.8 2.7a2.3 2.0 35 1 0-3.8-2.7M936 1150a2.6 2.1 35 1 0 4.2 3.0a2.6 2.1 35 1 0-4.2-3.0" fill="#e83050" opacity=".8"/><path d="M948 1122a1.9 1.6 35 1 0 3.1 2.2a1.9 1.6 35 1 0-3.1-2.2M983 1145a2.4 2.0 35 1 0 3.9 2.7a2.4 2.0 35 1 0-3.9-2.7M927 1130a2.7 2.3 35 1 0 4.5 3.1a2.7 2.3 35 1 0-4.5-3.1M1011 1177a2.5 2.0 35 1 0 4.0 2.8a2.5 2.0 35 1 0-4.0-2.8M1038 1185a2.6 2.2 35 1 0 4.3 3.0a2.6 2.2 35 1 0-4.3-3.0M933 1140a2.4 2.0 35 1 0 3.9 2.7a2.4 2.0 35 1 0-3.9-2.7M920 1113a1.6 1.4 35 1 0 2.7 1.9a1.6 1.4 35 1 0-2.7-1.9M875 1091a2.7 2.3 35 1 0 4.5 3.1a2.7 2.3 35 1 0-4.5-3.1M1051 1181a2.3 1.9 35 1 0 3.8 2.7a2.3 1.9 35 1 0-3.8-2.7M977 1146a1.6 1.4 35 1 0 2.7 1.9a1.6 1.4 35 1 0-2.7-1.9M857 1076a1.7 1.5 35 1 0 2.9 2.0a1.7 1.5 35 1 0-2.9-2.0M1059 1206a2.7 2.2 35 1 0 4.4 3.1a2.7 2.2 35 1 0-4.4-3.1M1072 1197a1.7 1.4 35 1 0 2.8 1.9a1.7 1.4 35 1 0-2.8-1.9M989 1152a1.7 1.4 35 1 0 2.8 2.0a1.7 1.4 35 1 0-2.8-2.0M982 1144a2.7 2.2 35 1 0 4.4 3.1a2.7 2.2 35 1 0-4.4-3.1M939 1146a2.7 2.2 35 1 0 4.4 3.1a2.7 2.2 35 1 0-4.4-3.1M996 1171a1.6 1.3 35 1 0 2.6 1.8a1.6 1.3 35 1 0-2.6-1.8M967 1152a2.6 2.2 35 1 0 4.3 3.0a2.6 2.2 35 1 0-4.3-3.0" fill="#d0e070" opacity=".8"/><path d="M941 1132a1.8 1.5 35 1 0 3.0 2.1a1.8 1.5 35 1 0-3.0-2.1M964 1171a2.3 1.9 35 1 0 3.7 2.6a2.3 1.9 35 1 0-3.7-2.6M923 1146a2.3 2.0 35 1 0 3.8 2.7a2.3 2.0 35 1 0-3.8-2.7M997 1176a2.1 1.7 35 1 0 3.4 2.4a2.1 1.7 35 1 0-3.4-2.4M989 1152a2.8 2.3 35 1 0 4.5 3.2a2.8 2.3 35 1 0-4.5-3.2" fill="#ff4040" opacity=".5"/><path d="M953 1152a2.2 1.8 35 1 0 3.6 2.5a2.2 1.8 35 1 0-3.6-2.5M1053 1209a2.8 2.3 35 1 0 4.6 3.2a2.8 2.3 35 1 0-4.6-3.2M1061 1192a2.2 1.8 35 1 0 3.5 2.5a2.2 1.8 35 1 0-3.5-2.5M944 1158a2.5 2.1 35 1 0 4.1 2.9a2.5 2.1 35 1 0-4.1-2.9M1024 1167a2.4 2.0 35 1 0 4.0 2.8a2.4 2.0 35 1 0-4.0-2.8M1029 1177a1.8 1.5 35 1 0 2.9 2.1a1.8 1.5 35 1 0-2.9-2.1M1019 1184a2.5 2.1 35 1 0 4.1 2.9a2.5 2.1 35 1 0-4.1-2.9M886 1082a1.7 1.4 35 1 0 2.7 1.9a1.7 1.4 35 1 0-2.7-1.9M958 1157a2.0 1.6 35 1 0 3.2 2.2a2.0 1.6 35 1 0-3.2-2.2M929 1152a2.1 1.7 35 1 0 3.4 2.4a2.1 1.7 35 1 0-3.4-2.4M848 1058a2.5 2.1 35 1 0 4.2 2.9a2.5 2.1 35 1 0-4.2-2.9M910 1129a2.0 1.7 35 1 0 3.3 2.3a2.0 1.7 35 1 0-3.3-2.3M1027 1175a2.0 1.7 35 1 0 3.3 2.3a2.0 1.7 35 1 0-3.3-2.3M886 1122a2.8 2.4 35 1 0 4.7 3.3a2.8 2.4 35 1 0-4.7-3.3M886 1112a2.1 1.7 35 1 0 3.4 2.4a2.1 1.7 35 1 0-3.4-2.4" fill="#ff2a2a" opacity=".8"/><path d="M990 1176a2.2 1.8 35 1 0 3.6 2.5a2.2 1.8 35 1 0-3.6-2.5M871 1077a2.1 1.7 35 1 0 3.4 2.4a2.1 1.7 35 1 0-3.4-2.4M885 1086a1.9 1.6 35 1 0 3.1 2.2a1.9 1.6 35 1 0-3.1-2.2M938 1125a2.6 2.2 35 1 0 4.3 3.0a2.6 2.2 35 1 0-4.3-3.0M930 1151a2.2 1.9 35 1 0 3.6 2.6a2.2 1.9 35 1 0-3.6-2.6M1047 1181a2.2 1.8 35 1 0 3.6 2.5a2.2 1.8 35 1 0-3.6-2.5" fill="#f0302a" opacity="1"/><path d="M1031 1185a1.8 1.5 35 1 0 2.9 2.1a1.8 1.5 35 1 0-2.9-2.1M952 1166a1.6 1.4 35 1 0 2.7 1.9a1.6 1.4 35 1 0-2.7-1.9M1048 1208a2.4 2.0 35 1 0 4.0 2.8a2.4 2.0 35 1 0-4.0-2.8M1066 1204a2.1 1.7 35 1 0 3.4 2.4a2.1 1.7 35 1 0-3.4-2.4M1008 1163a2.7 2.2 35 1 0 4.4 3.1a2.7 2.2 35 1 0-4.4-3.1M953 1148a1.8 1.5 35 1 0 2.9 2.0a1.8 1.5 35 1 0-2.9-2.0" fill="#e83050" opacity=".5"/><path d="M911 1117a2.1 1.8 35 1 0 3.4 2.4a2.1 1.8 35 1 0-3.4-2.4M863 1067a1.7 1.4 35 1 0 2.8 2.0a1.7 1.4 35 1 0-2.8-2.0" fill="#ffb040" opacity="1"/><path d="M879 1107a2.1 1.7 35 1 0 3.4 2.4a2.1 1.7 35 1 0-3.4-2.4M873 1104a2.1 1.7 35 1 0 3.4 2.4a2.1 1.7 35 1 0-3.4-2.4M1001 1183a2.8 2.3 35 1 0 4.5 3.2a2.8 2.3 35 1 0-4.5-3.2M1056 1190a2.6 2.2 35 1 0 4.3 3.0a2.6 2.2 35 1 0-4.3-3.0M1006 1175a1.8 1.5 35 1 0 3.0 2.1a1.8 1.5 35 1 0-3.0-2.1M908 1094a1.7 1.4 35 1 0 2.8 2.0a1.7 1.4 35 1 0-2.8-2.0M1060 1189a2.5 2.1 35 1 0 4.1 2.9a2.5 2.1 35 1 0-4.1-2.9M1059 1187a2.0 1.7 35 1 0 3.3 2.3a2.0 1.7 35 1 0-3.3-2.3M1020 1207a1.9 1.5 35 1 0 3.0 2.1a1.9 1.5 35 1 0-3.0-2.1M963 1143a1.8 1.5 35 1 0 2.9 2.0a1.8 1.5 35 1 0-2.9-2.0M991 1159a1.9 1.6 35 1 0 3.1 2.1a1.9 1.6 35 1 0-3.1-2.1M1047 1184a1.7 1.4 35 1 0 2.7 1.9a1.7 1.4 35 1 0-2.7-1.9M878 1108a2.2 1.8 35 1 0 3.6 2.5a2.2 1.8 35 1 0-3.6-2.5M930 1138a2.3 1.9 35 1 0 3.7 2.6a2.3 1.9 35 1 0-3.7-2.6" fill="#e8e060" opacity=".8"/><path d="M1016 1168a1.6 1.4 35 1 0 2.7 1.9a1.6 1.4 35 1 0-2.7-1.9M900 1120a2.7 2.2 35 1 0 4.4 3.1a2.7 2.2 35 1 0-4.4-3.1M918 1143a2.8 2.4 35 1 0 4.6 3.2a2.8 2.4 35 1 0-4.6-3.2M1080 1234a2.3 1.9 35 1 0 3.8 2.6a2.3 1.9 35 1 0-3.8-2.6M953 1128a2.4 2.0 35 1 0 3.9 2.7a2.4 2.0 35 1 0-3.9-2.7M921 1151a1.8 1.5 35 1 0 3.0 2.1a1.8 1.5 35 1 0-3.0-2.1M1059 1208a1.7 1.4 35 1 0 2.8 1.9a1.7 1.4 35 1 0-2.8-1.9M921 1133a1.6 1.4 35 1 0 2.7 1.9a1.6 1.4 35 1 0-2.7-1.9M906 1140a2.7 2.2 35 1 0 4.4 3.1a2.7 2.2 35 1 0-4.4-3.1" fill="#f0c850" opacity=".8"/><path d="M922 1099a2.4 2.0 35 1 0 4.0 2.8a2.4 2.0 35 1 0-4.0-2.8M1065 1200a2.3 1.9 35 1 0 3.8 2.7a2.3 1.9 35 1 0-3.8-2.7M975 1141a2.2 1.8 35 1 0 3.6 2.5a2.2 1.8 35 1 0-3.6-2.5M981 1138a1.6 1.3 35 1 0 2.6 1.8a1.6 1.3 35 1 0-2.6-1.8" fill="#ff2a2a" opacity=".5"/><path d="M937 1128a1.9 1.6 35 1 0 3.2 2.2a1.9 1.6 35 1 0-3.2-2.2M867 1073a2.2 1.8 35 1 0 3.6 2.5a2.2 1.8 35 1 0-3.6-2.5M877 1115a1.8 1.5 35 1 0 2.9 2.0a1.8 1.5 35 1 0-2.9-2.0M1050 1219a1.8 1.5 35 1 0 3.0 2.1a1.8 1.5 35 1 0-3.0-2.1M1029 1182a2.0 1.6 35 1 0 3.2 2.2a2.0 1.6 35 1 0-3.2-2.2M901 1091a1.7 1.4 35 1 0 2.7 1.9a1.7 1.4 35 1 0-2.7-1.9M1062 1218a2.0 1.7 35 1 0 3.3 2.3a2.0 1.7 35 1 0-3.3-2.3M918 1125a1.8 1.5 35 1 0 2.9 2.0a1.8 1.5 35 1 0-2.9-2.0M928 1130a2.9 2.4 35 1 0 4.7 3.3a2.9 2.4 35 1 0-4.7-3.3M1080 1232a2.7 2.3 35 1 0 4.5 3.1a2.7 2.3 35 1 0-4.5-3.1M880 1086a2.3 2.0 35 1 0 3.8 2.7a2.3 2.0 35 1 0-3.8-2.7M987 1181a1.8 1.5 35 1 0 3.0 2.1a1.8 1.5 35 1 0-3.0-2.1M979 1159a2.7 2.2 35 1 0 4.4 3.1a2.7 2.2 35 1 0-4.4-3.1" fill="#f0302a" opacity=".8"/><path d="M1030 1172a2.2 1.8 35 1 0 3.6 2.5a2.2 1.8 35 1 0-3.6-2.5M1018 1195a2.9 2.4 35 1 0 4.7 3.3a2.9 2.4 35 1 0-4.7-3.3M876 1090a2.7 2.3 35 1 0 4.5 3.1a2.7 2.3 35 1 0-4.5-3.1" fill="#ff5a4a" opacity="1"/><path d="M887 1111a2.0 1.7 35 1 0 3.4 2.4a2.0 1.7 35 1 0-3.4-2.4M940 1128a2.8 2.4 35 1 0 4.7 3.3a2.8 2.4 35 1 0-4.7-3.3M1035 1210a1.7 1.5 35 1 0 2.9 2.0a1.7 1.5 35 1 0-2.9-2.0M879 1074a2.6 2.1 35 1 0 4.2 2.9a2.6 2.1 35 1 0-4.2-2.9M1002 1179a2.5 2.1 35 1 0 4.1 2.9a2.5 2.1 35 1 0-4.1-2.9M892 1117a2.5 2.1 35 1 0 4.1 2.9a2.5 2.1 35 1 0-4.1-2.9M990 1147a2.6 2.2 35 1 0 4.3 3.0a2.6 2.2 35 1 0-4.3-3.0M931 1109a1.9 1.5 35 1 0 3.0 2.1a1.9 1.5 35 1 0-3.0-2.1M1026 1210a1.9 1.5 35 1 0 3.0 2.1a1.9 1.5 35 1 0-3.0-2.1M937 1157a2.2 1.9 35 1 0 3.7 2.6a2.2 1.9 35 1 0-3.7-2.6M1085 1217a1.7 1.4 35 1 0 2.7 1.9a1.7 1.4 35 1 0-2.7-1.9M1048 1219a2.0 1.6 35 1 0 3.2 2.3a2.0 1.6 35 1 0-3.2-2.3M882 1085a1.8 1.5 35 1 0 2.9 2.0a1.8 1.5 35 1 0-2.9-2.0M944 1121a2.7 2.3 35 1 0 4.4 3.1a2.7 2.3 35 1 0-4.4-3.1M992 1179a2.5 2.1 35 1 0 4.1 2.9a2.5 2.1 35 1 0-4.1-2.9" fill="#ffb040" opacity=".8"/><path d="M911 1114a2.7 2.3 35 1 0 4.5 3.1a2.7 2.3 35 1 0-4.5-3.1M1018 1169a2.3 2.0 35 1 0 3.8 2.7a2.3 2.0 35 1 0-3.8-2.7M924 1114a2.2 1.9 35 1 0 3.7 2.6a2.2 1.9 35 1 0-3.7-2.6M1030 1181a2.6 2.1 35 1 0 4.2 2.9a2.6 2.1 35 1 0-4.2-2.9M902 1136a1.7 1.4 35 1 0 2.7 1.9a1.7 1.4 35 1 0-2.7-1.9" fill="#f0c850" opacity="1"/><path d="M967 1136a2.9 2.4 35 1 0 4.7 3.3a2.9 2.4 35 1 0-4.7-3.3M1070 1217a2.3 1.9 35 1 0 3.8 2.7a2.3 1.9 35 1 0-3.8-2.7M1016 1178a2.1 1.7 35 1 0 3.4 2.4a2.1 1.7 35 1 0-3.4-2.4M984 1165a1.7 1.4 35 1 0 2.8 2.0a1.7 1.4 35 1 0-2.8-2.0M883 1087a1.8 1.5 35 1 0 3.0 2.1a1.8 1.5 35 1 0-3.0-2.1M914 1126a2.3 1.9 35 1 0 3.7 2.6a2.3 1.9 35 1 0-3.7-2.6M907 1126a2.2 1.8 35 1 0 3.6 2.5a2.2 1.8 35 1 0-3.6-2.5M889 1081a2.7 2.2 35 1 0 4.4 3.1a2.7 2.2 35 1 0-4.4-3.1M975 1134a2.5 2.1 35 1 0 4.1 2.9a2.5 2.1 35 1 0-4.1-2.9M1034 1173a1.8 1.5 35 1 0 3.0 2.1a1.8 1.5 35 1 0-3.0-2.1" fill="#ff5a4a" opacity=".8"/><path d="M1057 1188a1.7 1.4 35 1 0 2.7 1.9a1.7 1.4 35 1 0-2.7-1.9M861 1099a1.6 1.4 35 1 0 2.7 1.9a1.6 1.4 35 1 0-2.7-1.9" fill="#e8e060" opacity="1"/><path d="M876 1079a2.6 2.1 35 1 0 4.2 2.9a2.6 2.1 35 1 0-4.2-2.9M1000 1154a1.9 1.6 35 1 0 3.1 2.2a1.9 1.6 35 1 0-3.1-2.2M987 1173a2.6 2.2 35 1 0 4.2 3.0a2.6 2.2 35 1 0-4.2-3.0" fill="#e83050" opacity="1"/><path d="M844 1058a2.3 1.9 35 1 0 3.8 2.6a2.3 1.9 35 1 0-3.8-2.6M979 1146a2.7 2.3 35 1 0 4.5 3.1a2.7 2.3 35 1 0-4.5-3.1M1063 1225a2.0 1.6 35 1 0 3.2 2.2a2.0 1.6 35 1 0-3.2-2.2M931 1134a1.8 1.5 35 1 0 3.0 2.1a1.8 1.5 35 1 0-3.0-2.1M1052 1217a2.2 1.8 35 1 0 3.6 2.5a2.2 1.8 35 1 0-3.6-2.5M1067 1224a2.4 2.0 35 1 0 4.0 2.8a2.4 2.0 35 1 0-4.0-2.8M1056 1227a2.9 2.4 35 1 0 4.7 3.3a2.9 2.4 35 1 0-4.7-3.3M955 1149a1.8 1.5 35 1 0 3.0 2.1a1.8 1.5 35 1 0-3.0-2.1" fill="#f0c850" opacity=".5"/><path d="M1007 1197a2.7 2.2 35 1 0 4.4 3.1a2.7 2.2 35 1 0-4.4-3.1M930 1104a2.3 1.9 35 1 0 3.7 2.6a2.3 1.9 35 1 0-3.7-2.6M1056 1223a2.2 1.9 35 1 0 3.6 2.6a2.2 1.9 35 1 0-3.6-2.6M1006 1177a1.9 1.6 35 1 0 3.1 2.1a1.9 1.6 35 1 0-3.1-2.1M1015 1198a2.8 2.3 35 1 0 4.6 3.2a2.8 2.3 35 1 0-4.6-3.2" fill="#e8e060" opacity=".5"/><path d="M906 1127a2.1 1.8 35 1 0 3.5 2.4a2.1 1.8 35 1 0-3.5-2.4M974 1170a2.4 2.0 35 1 0 3.9 2.7a2.4 2.0 35 1 0-3.9-2.7M913 1117a1.8 1.5 35 1 0 3.0 2.1a1.8 1.5 35 1 0-3.0-2.1M1013 1199a2.6 2.2 35 1 0 4.2 3.0a2.6 2.2 35 1 0-4.2-3.0M923 1135a1.8 1.5 35 1 0 3.0 2.1a1.8 1.5 35 1 0-3.0-2.1M975 1164a2.1 1.7 35 1 0 3.4 2.4a2.1 1.7 35 1 0-3.4-2.4M931 1118a2.1 1.7 35 1 0 3.4 2.4a2.1 1.7 35 1 0-3.4-2.4M963 1173a2.7 2.2 35 1 0 4.4 3.1a2.7 2.2 35 1 0-4.4-3.1M910 1115a1.7 1.4 35 1 0 2.8 1.9a1.7 1.4 35 1 0-2.8-1.9M1054 1202a2.0 1.7 35 1 0 3.3 2.3a2.0 1.7 35 1 0-3.3-2.3M1015 1187a2.3 1.9 35 1 0 3.8 2.7a2.3 1.9 35 1 0-3.8-2.7" fill="#ff4040" opacity=".8"/><path d="M869 1105a2.0 1.6 35 1 0 3.2 2.3a2.0 1.6 35 1 0-3.2-2.3M941 1141a1.6 1.4 35 1 0 2.7 1.9a1.6 1.4 35 1 0-2.7-1.9M996 1151a2.4 2.0 35 1 0 3.9 2.7a2.4 2.0 35 1 0-3.9-2.7M949 1132a1.9 1.6 35 1 0 3.1 2.1a1.9 1.6 35 1 0-3.1-2.1" fill="#ff5a4a" opacity=".5"/><path d="M1058 1217a2.0 1.7 35 1 0 3.3 2.3a2.0 1.7 35 1 0-3.3-2.3M1079 1230a1.9 1.6 35 1 0 3.1 2.2a1.9 1.6 35 1 0-3.1-2.2M1076 1220a2.3 1.9 35 1 0 3.7 2.6a2.3 1.9 35 1 0-3.7-2.6M934 1158a2.4 2.0 35 1 0 3.9 2.7a2.4 2.0 35 1 0-3.9-2.7M1061 1204a1.8 1.5 35 1 0 2.9 2.0a1.8 1.5 35 1 0-2.9-2.0" fill="#d0e070" opacity=".5"/><path d="M855 1095a2.4 2.0 35 1 0 3.9 2.7a2.4 2.0 35 1 0-3.9-2.7M926 1145a1.8 1.5 35 1 0 2.9 2.0a1.8 1.5 35 1 0-2.9-2.0" fill="#ff2a2a" opacity="1"/></g>
<g filter="url(#b1)"><path d="M992 1141a2.1 1.7 35 1 0 3.4 2.4a2.1 1.7 35 1 0-3.4-2.4M919 1067a1.7 1.4 35 1 0 2.8 2.0a1.7 1.4 35 1 0-2.8-2.0M999 1095a2.5 2.1 35 1 0 4.1 2.9a2.5 2.1 35 1 0-4.1-2.9M1019 1131a1.6 1.4 35 1 0 2.7 1.9a1.6 1.4 35 1 0-2.7-1.9" fill="#a6e06a" opacity=".2"/><path d="M986 1129a2.6 2.1 35 1 0 4.2 2.9a2.6 2.1 35 1 0-4.2-2.9M942 1092a2.6 2.1 35 1 0 4.2 2.9a2.6 2.1 35 1 0-4.2-2.9M913 1075a1.8 1.5 35 1 0 3.0 2.1a1.8 1.5 35 1 0-3.0-2.1M988 1115a1.7 1.4 35 1 0 2.8 1.9a1.7 1.4 35 1 0-2.8-1.9M1134 1210a1.8 1.5 35 1 0 3.0 2.1a1.8 1.5 35 1 0-3.0-2.1M1032 1154a2.4 2.0 35 1 0 4.0 2.8a2.4 2.0 35 1 0-4.0-2.8M1022 1135a2.7 2.3 35 1 0 4.5 3.1a2.7 2.3 35 1 0-4.5-3.1M1036 1180a1.7 1.4 35 1 0 2.8 2.0a1.7 1.4 35 1 0-2.8-2.0M1075 1113a2.3 1.9 35 1 0 3.8 2.7a2.3 1.9 35 1 0-3.8-2.7M1040 1152a2.3 1.9 35 1 0 3.8 2.6a2.3 1.9 35 1 0-3.8-2.6M1105 1240a1.9 1.6 35 1 0 3.1 2.2a1.9 1.6 35 1 0-3.1-2.2M967 1131a2.1 1.7 35 1 0 3.4 2.4a2.1 1.7 35 1 0-3.4-2.4M1067 1162a2.6 2.2 35 1 0 4.3 3.0a2.6 2.2 35 1 0-4.3-3.0M1077 1113a2.4 2.0 35 1 0 3.9 2.7a2.4 2.0 35 1 0-3.9-2.7M1119 1221a2.0 1.7 35 1 0 3.3 2.3a2.0 1.7 35 1 0-3.3-2.3M1079 1145a1.8 1.5 35 1 0 2.9 2.1a1.8 1.5 35 1 0-2.9-2.1M1098 1205a1.7 1.4 35 1 0 2.8 2.0a1.7 1.4 35 1 0-2.8-2.0M1099 1169a2.6 2.1 35 1 0 4.2 2.9a2.6 2.1 35 1 0-4.2-2.9M991 1101a1.7 1.4 35 1 0 2.8 2.0a1.7 1.4 35 1 0-2.8-2.0M1049 1173a1.8 1.5 35 1 0 2.9 2.0a1.8 1.5 35 1 0-2.9-2.0" fill="#a6e06a" opacity=".8"/><path d="M1045 1172a2.6 2.2 35 1 0 4.3 3.0a2.6 2.2 35 1 0-4.3-3.0M1102 1163a2.5 2.1 35 1 0 4.1 2.9a2.5 2.1 35 1 0-4.1-2.9M1129 1219a1.7 1.4 35 1 0 2.7 1.9a1.7 1.4 35 1 0-2.7-1.9M939 1106a2.6 2.2 35 1 0 4.3 3.0a2.6 2.2 35 1 0-4.3-3.0M1066 1170a2.6 2.2 35 1 0 4.3 3.0a2.6 2.2 35 1 0-4.3-3.0M1054 1137a2.7 2.2 35 1 0 4.4 3.1a2.7 2.2 35 1 0-4.4-3.1M1067 1173a1.8 1.5 35 1 0 3.0 2.1a1.8 1.5 35 1 0-3.0-2.1M909 1071a2.0 1.7 35 1 0 3.3 2.3a2.0 1.7 35 1 0-3.3-2.3M1097 1136a1.9 1.6 35 1 0 3.1 2.2a1.9 1.6 35 1 0-3.1-2.2M1024 1160a2.7 2.3 35 1 0 4.5 3.1a2.7 2.3 35 1 0-4.5-3.1M984 1089a1.8 1.5 35 1 0 2.9 2.0a1.8 1.5 35 1 0-2.9-2.0M1127 1181a2.5 2.1 35 1 0 4.1 2.9a2.5 2.1 35 1 0-4.1-2.9M941 1104a1.7 1.4 35 1 0 2.7 1.9a1.7 1.4 35 1 0-2.7-1.9M1033 1177a2.4 2.0 35 1 0 3.9 2.8a2.4 2.0 35 1 0-3.9-2.8M1065 1135a2.5 2.1 35 1 0 4.1 2.8a2.5 2.1 35 1 0-4.1-2.8M1124 1149a2.5 2.0 35 1 0 4.0 2.8a2.5 2.0 35 1 0-4.0-2.8M1090 1133a2.6 2.1 35 1 0 4.2 3.0a2.6 2.1 35 1 0-4.2-3.0M1084 1180a1.7 1.4 35 1 0 2.8 2.0a1.7 1.4 35 1 0-2.8-2.0M1010 1115a2.3 1.9 35 1 0 3.7 2.6a2.3 1.9 35 1 0-3.7-2.6M1132 1219a1.9 1.6 35 1 0 3.1 2.1a1.9 1.6 35 1 0-3.1-2.1M1108 1222a2.5 2.1 35 1 0 4.1 2.9a2.5 2.1 35 1 0-4.1-2.9M1128 1210a2.7 2.3 35 1 0 4.4 3.1a2.7 2.3 35 1 0-4.4-3.1M1092 1192a2.1 1.8 35 1 0 3.5 2.4a2.1 1.8 35 1 0-3.5-2.4M999 1142a1.6 1.4 35 1 0 2.7 1.9a1.6 1.4 35 1 0-2.7-1.9M1089 1125a2.3 1.9 35 1 0 3.7 2.6a2.3 1.9 35 1 0-3.7-2.6M1053 1139a2.6 2.1 35 1 0 4.2 2.9a2.6 2.1 35 1 0-4.2-2.9M966 1096a2.8 2.3 35 1 0 4.5 3.2a2.8 2.3 35 1 0-4.5-3.2M1118 1218a1.9 1.6 35 1 0 3.0 2.1a1.9 1.6 35 1 0-3.0-2.1M1139 1190a1.8 1.5 35 1 0 3.0 2.1a1.8 1.5 35 1 0-3.0-2.1M986 1109a1.7 1.4 35 1 0 2.8 1.9a1.7 1.4 35 1 0-2.8-1.9M964 1120a2.1 1.7 35 1 0 3.4 2.4a2.1 1.7 35 1 0-3.4-2.4M950 1087a2.0 1.7 35 1 0 3.3 2.3a2.0 1.7 35 1 0-3.3-2.3M1113 1209a2.4 2.0 35 1 0 4.0 2.8a2.4 2.0 35 1 0-4.0-2.8M1050 1172a1.9 1.6 35 1 0 3.1 2.1a1.9 1.6 35 1 0-3.1-2.1M1018 1098a2.5 2.1 35 1 0 4.1 2.9a2.5 2.1 35 1 0-4.1-2.9M1088 1161a2.7 2.3 35 1 0 4.4 3.1a2.7 2.3 35 1 0-4.4-3.1M971 1104a2.2 1.8 35 1 0 3.6 2.5a2.2 1.8 35 1 0-3.6-2.5M976 1112a2.6 2.2 35 1 0 4.3 3.0a2.6 2.2 35 1 0-4.3-3.0" fill="#a6e06a" opacity=".5"/><path d="M1018 1169a1.8 1.5 35 1 0 3.0 2.1a1.8 1.5 35 1 0-3.0-2.1M1083 1151a2.3 1.9 35 1 0 3.7 2.6a2.3 1.9 35 1 0-3.7-2.6M1129 1169a2.3 1.9 35 1 0 3.7 2.6a2.3 1.9 35 1 0-3.7-2.6M985 1120a2.7 2.2 35 1 0 4.4 3.1a2.7 2.2 35 1 0-4.4-3.1M1113 1180a1.8 1.5 35 1 0 3.0 2.1a1.8 1.5 35 1 0-3.0-2.1M1074 1187a2.1 1.8 35 1 0 3.5 2.4a2.1 1.8 35 1 0-3.5-2.4M1072 1115a2.2 1.8 35 1 0 3.5 2.5a2.2 1.8 35 1 0-3.5-2.5M1097 1195a2.3 1.9 35 1 0 3.8 2.7a2.3 1.9 35 1 0-3.8-2.7M1005 1155a2.4 2.0 35 1 0 3.9 2.7a2.4 2.0 35 1 0-3.9-2.7M1117 1226a2.5 2.1 35 1 0 4.0 2.8a2.5 2.1 35 1 0-4.0-2.8M1115 1199a1.7 1.4 35 1 0 2.8 2.0a1.7 1.4 35 1 0-2.8-2.0M1031 1163a2.6 2.2 35 1 0 4.3 3.0a2.6 2.2 35 1 0-4.3-3.0M1020 1161a1.8 1.5 35 1 0 2.9 2.0a1.8 1.5 35 1 0-2.9-2.0M1106 1228a1.6 1.4 35 1 0 2.7 1.9a1.6 1.4 35 1 0-2.7-1.9M1073 1165a2.1 1.8 35 1 0 3.5 2.4a2.1 1.8 35 1 0-3.5-2.4M1049 1121a2.0 1.6 35 1 0 3.2 2.3a2.0 1.6 35 1 0-3.2-2.3M973 1130a2.6 2.2 35 1 0 4.3 3.0a2.6 2.2 35 1 0-4.3-3.0M1094 1218a1.9 1.6 35 1 0 3.2 2.2a1.9 1.6 35 1 0-3.2-2.2M913 1066a2.0 1.7 35 1 0 3.3 2.3a2.0 1.7 35 1 0-3.3-2.3M984 1116a2.3 2.0 35 1 0 3.8 2.7a2.3 2.0 35 1 0-3.8-2.7M1111 1214a2.2 1.8 35 1 0 3.6 2.5a2.2 1.8 35 1 0-3.6-2.5M1118 1199a1.7 1.4 35 1 0 2.8 1.9a1.7 1.4 35 1 0-2.8-1.9" fill="#7cd35a" opacity=".5"/><path d="M1106 1186a1.9 1.6 35 1 0 3.2 2.2a1.9 1.6 35 1 0-3.2-2.2M1072 1119a2.2 1.8 35 1 0 3.6 2.5a2.2 1.8 35 1 0-3.6-2.5M977 1125a1.7 1.4 35 1 0 2.7 1.9a1.7 1.4 35 1 0-2.7-1.9M945 1099a2.1 1.8 35 1 0 3.5 2.4a2.1 1.8 35 1 0-3.5-2.4M1010 1154a1.6 1.4 35 1 0 2.7 1.9a1.6 1.4 35 1 0-2.7-1.9M1081 1205a1.8 1.5 35 1 0 2.9 2.0a1.8 1.5 35 1 0-2.9-2.0M1113 1207a2.6 2.2 35 1 0 4.3 3.0a2.6 2.2 35 1 0-4.3-3.0M993 1148a1.9 1.6 35 1 0 3.2 2.2a1.9 1.6 35 1 0-3.2-2.2M1114 1244a1.9 1.6 35 1 0 3.2 2.2a1.9 1.6 35 1 0-3.2-2.2M1100 1161a2.1 1.7 35 1 0 3.4 2.4a2.1 1.7 35 1 0-3.4-2.4M1082 1156a1.8 1.5 35 1 0 2.9 2.1a1.8 1.5 35 1 0-2.9-2.1M1083 1198a2.2 1.8 35 1 0 3.6 2.5a2.2 1.8 35 1 0-3.6-2.5M1023 1172a1.7 1.4 35 1 0 2.8 1.9a1.7 1.4 35 1 0-2.8-1.9M1108 1240a1.6 1.3 35 1 0 2.6 1.8a1.6 1.3 35 1 0-2.6-1.8M1082 1119a2.7 2.2 35 1 0 4.3 3.0a2.7 2.2 35 1 0-4.3-3.0M987 1110a2.0 1.7 35 1 0 3.3 2.3a2.0 1.7 35 1 0-3.3-2.3M993 1114a2.2 1.9 35 1 0 3.7 2.6a2.2 1.9 35 1 0-3.7-2.6M1005 1100a2.2 1.9 35 1 0 3.7 2.6a2.2 1.9 35 1 0-3.7-2.6M1036 1116a2.6 2.2 35 1 0 4.2 3.0a2.6 2.2 35 1 0-4.2-3.0M1107 1156a2.1 1.8 35 1 0 3.5 2.4a2.1 1.8 35 1 0-3.5-2.4" fill="#48b848" opacity=".5"/><path d="M1010 1104a2.0 1.7 35 1 0 3.4 2.3a2.0 1.7 35 1 0-3.4-2.3M1019 1153a1.8 1.5 35 1 0 3.0 2.1a1.8 1.5 35 1 0-3.0-2.1M1049 1124a2.6 2.2 35 1 0 4.2 3.0a2.6 2.2 35 1 0-4.2-3.0M1061 1136a2.1 1.8 35 1 0 3.5 2.4a2.1 1.8 35 1 0-3.5-2.4M1133 1214a2.5 2.1 35 1 0 4.1 2.8a2.5 2.1 35 1 0-4.1-2.8M934 1074a1.6 1.4 35 1 0 2.7 1.9a1.6 1.4 35 1 0-2.7-1.9M1110 1244a2.5 2.1 35 1 0 4.1 2.9a2.5 2.1 35 1 0-4.1-2.9M979 1128a2.7 2.2 35 1 0 4.4 3.1a2.7 2.2 35 1 0-4.4-3.1M1035 1162a2.0 1.7 35 1 0 3.3 2.3a2.0 1.7 35 1 0-3.3-2.3M1023 1148a2.1 1.8 35 1 0 3.5 2.5a2.1 1.8 35 1 0-3.5-2.5M1119 1176a1.7 1.4 35 1 0 2.7 1.9a1.7 1.4 35 1 0-2.7-1.9M1040 1118a2.5 2.0 35 1 0 4.0 2.8a2.5 2.0 35 1 0-4.0-2.8M1145 1202a2.1 1.8 35 1 0 3.5 2.5a2.1 1.8 35 1 0-3.5-2.5M1078 1149a2.5 2.1 35 1 0 4.1 2.9a2.5 2.1 35 1 0-4.1-2.9" fill="#5fcf50" opacity=".8"/><path d="M1123 1217a2.2 1.8 35 1 0 3.6 2.5a2.2 1.8 35 1 0-3.6-2.5M1119 1191a1.6 1.3 35 1 0 2.6 1.9a1.6 1.3 35 1 0-2.6-1.9M1084 1198a1.9 1.6 35 1 0 3.2 2.2a1.9 1.6 35 1 0-3.2-2.2M984 1124a1.7 1.5 35 1 0 2.9 2.0a1.7 1.5 35 1 0-2.9-2.0M974 1079a2.7 2.3 35 1 0 4.4 3.1a2.7 2.3 35 1 0-4.4-3.1M999 1090a1.9 1.6 35 1 0 3.2 2.2a1.9 1.6 35 1 0-3.2-2.2M943 1082a1.7 1.4 35 1 0 2.8 2.0a1.7 1.4 35 1 0-2.8-2.0M1044 1175a2.3 2.0 35 1 0 3.8 2.7a2.3 2.0 35 1 0-3.8-2.7M1069 1196a2.6 2.2 35 1 0 4.3 3.0a2.6 2.2 35 1 0-4.3-3.0M1119 1203a2.7 2.2 35 1 0 4.3 3.0a2.7 2.2 35 1 0-4.3-3.0M1127 1154a1.6 1.3 35 1 0 2.6 1.8a1.6 1.3 35 1 0-2.6-1.8M1030 1124a1.6 1.4 35 1 0 2.7 1.9a1.6 1.4 35 1 0-2.7-1.9M1134 1157a2.4 2.0 35 1 0 3.9 2.7a2.4 2.0 35 1 0-3.9-2.7M1140 1208a2.4 2.0 35 1 0 3.9 2.8a2.4 2.0 35 1 0-3.9-2.8M1061 1201a2.7 2.3 35 1 0 4.4 3.1a2.7 2.3 35 1 0-4.4-3.1M1068 1206a1.6 1.4 35 1 0 2.7 1.9a1.6 1.4 35 1 0-2.7-1.9M1025 1126a2.5 2.0 35 1 0 4.0 2.8a2.5 2.0 35 1 0-4.0-2.8M1072 1115a2.5 2.1 35 1 0 4.0 2.8a2.5 2.1 35 1 0-4.0-2.8M1070 1130a2.4 2.0 35 1 0 3.9 2.7a2.4 2.0 35 1 0-3.9-2.7M1020 1095a2.7 2.3 35 1 0 4.5 3.2a2.7 2.3 35 1 0-4.5-3.2" fill="#7cd35a" opacity=".8"/><path d="M1073 1134a2.0 1.6 35 1 0 3.2 2.3a2.0 1.6 35 1 0-3.2-2.3M1102 1154a2.2 1.8 35 1 0 3.5 2.5a2.2 1.8 35 1 0-3.5-2.5M989 1139a2.0 1.7 35 1 0 3.3 2.3a2.0 1.7 35 1 0-3.3-2.3M1004 1156a2.0 1.7 35 1 0 3.3 2.3a2.0 1.7 35 1 0-3.3-2.3M979 1091a1.6 1.4 35 1 0 2.7 1.9a1.6 1.4 35 1 0-2.7-1.9M943 1075a2.4 2.0 35 1 0 4.0 2.8a2.4 2.0 35 1 0-4.0-2.8M1044 1145a2.0 1.7 35 1 0 3.3 2.3a2.0 1.7 35 1 0-3.3-2.3M1008 1150a2.7 2.2 35 1 0 4.4 3.1a2.7 2.2 35 1 0-4.4-3.1M1030 1121a2.7 2.2 35 1 0 4.4 3.1a2.7 2.2 35 1 0-4.4-3.1M1064 1190a2.6 2.2 35 1 0 4.3 3.0a2.6 2.2 35 1 0-4.3-3.0M1124 1217a2.6 2.2 35 1 0 4.2 3.0a2.6 2.2 35 1 0-4.2-3.0M1085 1128a1.8 1.5 35 1 0 3.0 2.1a1.8 1.5 35 1 0-3.0-2.1M1019 1118a1.7 1.4 35 1 0 2.8 1.9a1.7 1.4 35 1 0-2.8-1.9M1106 1170a2.3 1.9 35 1 0 3.7 2.6a2.3 1.9 35 1 0-3.7-2.6M1110 1194a2.2 1.9 35 1 0 3.7 2.6a2.2 1.9 35 1 0-3.7-2.6M1082 1159a1.6 1.3 35 1 0 2.6 1.9a1.6 1.3 35 1 0-2.6-1.9M1015 1135a2.2 1.8 35 1 0 3.6 2.5a2.2 1.8 35 1 0-3.6-2.5M1111 1222a2.5 2.0 35 1 0 4.0 2.8a2.5 2.0 35 1 0-4.0-2.8M927 1080a2.4 2.0 35 1 0 3.9 2.8a2.4 2.0 35 1 0-3.9-2.8M1042 1150a1.9 1.6 35 1 0 3.2 2.2a1.9 1.6 35 1 0-3.2-2.2M1059 1188a2.4 2.0 35 1 0 4.0 2.8a2.4 2.0 35 1 0-4.0-2.8M1087 1140a2.0 1.7 35 1 0 3.3 2.3a2.0 1.7 35 1 0-3.3-2.3M1024 1134a2.5 2.1 35 1 0 4.0 2.8a2.5 2.1 35 1 0-4.0-2.8M1127 1175a1.8 1.5 35 1 0 3.0 2.1a1.8 1.5 35 1 0-3.0-2.1" fill="#5fcf50" opacity=".5"/><path d="M1106 1232a1.6 1.3 35 1 0 2.6 1.8a1.6 1.3 35 1 0-2.6-1.8M1004 1153a1.6 1.4 35 1 0 2.7 1.9a1.6 1.4 35 1 0-2.7-1.9M1030 1143a1.7 1.4 35 1 0 2.8 1.9a1.7 1.4 35 1 0-2.8-1.9M1141 1218a2.3 1.9 35 1 0 3.8 2.7a2.3 1.9 35 1 0-3.8-2.7M1095 1153a2.4 2.0 35 1 0 3.9 2.8a2.4 2.0 35 1 0-3.9-2.8M1103 1243a1.7 1.4 35 1 0 2.8 2.0a1.7 1.4 35 1 0-2.8-2.0M1107 1201a2.6 2.2 35 1 0 4.3 3.0a2.6 2.2 35 1 0-4.3-3.0M996 1138a1.6 1.4 35 1 0 2.7 1.9a1.6 1.4 35 1 0-2.7-1.9M1061 1193a2.6 2.2 35 1 0 4.3 3.0a2.6 2.2 35 1 0-4.3-3.0M1011 1094a2.0 1.7 35 1 0 3.3 2.3a2.0 1.7 35 1 0-3.3-2.3M976 1126a2.3 1.9 35 1 0 3.7 2.6a2.3 1.9 35 1 0-3.7-2.6" fill="#48b848" opacity=".8"/><path d="M1030 1118a2.3 1.9 35 1 0 3.7 2.6a2.3 1.9 35 1 0-3.7-2.6M968 1123a2.6 2.2 35 1 0 4.3 3.0a2.6 2.2 35 1 0-4.3-3.0M923 1073a1.7 1.4 35 1 0 2.8 2.0a1.7 1.4 35 1 0-2.8-2.0M1134 1215a1.9 1.5 35 1 0 3.0 2.1a1.9 1.5 35 1 0-3.0-2.1" fill="#7cd35a" opacity=".2"/><path d="M1010 1139a2.7 2.2 35 1 0 4.4 3.1a2.7 2.2 35 1 0-4.4-3.1M1107 1166a2.6 2.1 35 1 0 4.2 2.9a2.6 2.1 35 1 0-4.2-2.9" fill="#48b848" opacity=".2"/><path d="M1005 1141a2.2 1.9 35 1 0 3.7 2.6a2.2 1.9 35 1 0-3.7-2.6" fill="#5fcf50" opacity=".2"/></g>
<path d="M1118 1264a3.8 2.5 35 1 0 6.2 4.3a3.8 2.5 35 1 0-6.2-4.3M1155 1268a3.5 2.4 35 1 0 5.8 4.1a3.5 2.4 35 1 0-5.8-4.1" fill="#7cd35a" opacity=".8"/><path d="M1164 1299a3.5 2.3 35 1 0 5.7 4.0a3.5 2.3 35 1 0-5.7-4.0M1115 1250a3.3 2.2 35 1 0 5.4 3.8a3.3 2.2 35 1 0-5.4-3.8" fill="#ff2a2a" opacity=".8"/><path d="M1133 1250a2.7 1.8 35 1 0 4.4 3.1a2.7 1.8 35 1 0-4.4-3.1M1147 1261a3.3 2.2 35 1 0 5.4 3.8a3.3 2.2 35 1 0-5.4-3.8" fill="#5fcf50" opacity=".8"/><path d="M1114 1259a3.7 2.5 35 1 0 6.0 4.2a3.7 2.5 35 1 0-6.0-4.2M1150 1259a2.5 1.7 35 1 0 4.2 2.9a2.5 1.7 35 1 0-4.2-2.9" fill="#ff4040" opacity=".5"/><path d="M1094 1284a2.9 1.9 35 1 0 4.7 3.3a2.9 1.9 35 1 0-4.7-3.3M1130 1251a3.1 2.1 35 1 0 5.1 3.6a3.1 2.1 35 1 0-5.1-3.6M1104 1302a2.6 1.7 35 1 0 4.3 3.0a2.6 1.7 35 1 0-4.3-3.0" fill="#ff4040" opacity=".8"/><path d="M1176 1276a2.5 1.6 35 1 0 4.0 2.8a2.5 1.6 35 1 0-4.0-2.8M1166 1296a3.5 2.3 35 1 0 5.8 4.0a3.5 2.3 35 1 0-5.8-4.0M1152 1303a2.4 1.6 35 1 0 4.0 2.8a2.4 1.6 35 1 0-4.0-2.8" fill="#48b848" opacity=".8"/><path d="M1174 1252a2.8 1.9 35 1 0 4.6 3.2a2.8 1.9 35 1 0-4.6-3.2M1081 1261a2.6 1.7 35 1 0 4.3 3.0a2.6 1.7 35 1 0-4.3-3.0" fill="#f0302a" opacity=".8"/><path d="M1147 1262a2.5 1.7 35 1 0 4.2 2.9a2.5 1.7 35 1 0-4.2-2.9" fill="#ff5a4a" opacity=".8"/><path d="M1123 1257a2.8 1.9 35 1 0 4.6 3.2a2.8 1.9 35 1 0-4.6-3.2M1140 1301a2.8 1.8 35 1 0 4.5 3.2a2.8 1.8 35 1 0-4.5-3.2M1094 1286a3.3 2.2 35 1 0 5.3 3.7a3.3 2.2 35 1 0-5.3-3.7" fill="#e83050" opacity=".8"/><path d="M1088 1278a2.4 1.6 35 1 0 3.9 2.8a2.4 1.6 35 1 0-3.9-2.8" fill="#a6e06a" opacity=".8"/><path d="M1143 1268a3.0 2.0 35 1 0 4.9 3.4a3.0 2.0 35 1 0-4.9-3.4M1090 1265a3.6 2.4 35 1 0 5.9 4.1a3.6 2.4 35 1 0-5.9-4.1" fill="#7cd35a" opacity=".5"/><path d="M1129 1282a3.8 2.6 35 1 0 6.3 4.4a3.8 2.6 35 1 0-6.3-4.4" fill="#5fcf50" opacity=".5"/><path d="M1088 1251a3.1 2.1 35 1 0 5.0 3.5a3.1 2.1 35 1 0-5.0-3.5" fill="#e83050" opacity=".5"/>
</g>
<path d="M733.6,962.6C738,961.2 756.9,965.3 774.8,970.8C792.6,976.3 818.7,987.1 840.7,995.6C862.7,1004.1 884.6,1012.6 906.6,1021.9C928.6,1031.2 953.3,1042.8 972.5,1051.6C991.7,1060.4 1005.4,1065.8 1021.9,1074.6C1038.4,1083.4 1054.8,1095 1071.3,1104.3C1087.8,1113.6 1108.2,1121.3 1120.8,1130.6C1133.4,1139.9 1141.1,1149.3 1147.1,1160.3C1153.1,1171.3 1156.5,1184.4 1157,1196.5C1157.5,1208.6 1154.8,1223.5 1150.4,1232.8C1146,1242.1 1138.3,1248.2 1130.6,1252.6C1122.9,1257 1114.2,1259.6 1104.3,1259.1C1094.4,1258.5 1082.3,1254.2 1071.3,1249.3C1060.3,1244.4 1049.4,1236.7 1038.4,1229.5C1027.4,1222.3 1016.4,1214.1 1005.4,1206.4C994.4,1198.7 983.5,1191.1 972.5,1183.4C961.5,1175.7 950.5,1168 939.5,1160.3C928.5,1152.6 917.6,1146 906.6,1137.2C895.6,1128.4 884.6,1118.6 873.6,1107.6C862.6,1096.6 851.7,1082.8 840.7,1071.3C829.7,1059.8 818.7,1049.4 807.7,1038.4C796.7,1027.4 784.7,1015.3 774.8,1005.4C764.9,995.5 755.3,986.2 748.4,979.1C741.5,972 729.2,964 733.6,962.6Z" fill="none" stroke="#fff" stroke-width="3.1" stroke-dasharray="1.9 7.9" stroke-linecap="round"/>
<polyline points="979.1,898 979.1,1101.6 1025.9,1101.6 1025.9,898" fill="none" stroke="#fff" stroke-width="3.1" stroke-dasharray="1.9 7.9" stroke-linecap="round"/>
<text x="656.9" y="1293.1" font-size="26" fill="#fff200" textLength="94" lengthAdjust="spacingAndGlyphs">Merged</text>
<text x="760.9" y="1293.1" font-size="26" fill="#ffffff" textLength="12.5" lengthAdjust="spacingAndGlyphs">+</text>
<text x="783.9" y="1293.1" font-size="26" fill="#27aae1" textLength="56" lengthAdjust="spacingAndGlyphs">DAPI</text>
<text x="1035.1" y="1172.8" font-size="26" fill="#ffffff" textLength="47.8" lengthAdjust="spacingAndGlyphs">STN</text>
<rect x="1088.7" y="1286" width="92.3" height="9" fill="#fff"/>
<clipPath id="chg"><polygon points="1190.1,900.3 1455.1,900.3 1451.8,1098.3 1186.2,1098.3"/></clipPath>
<g clip-path="url(#chg)">
<polygon points="1190.1,900.3 1455.1,900.3 1451.8,1098.3 1186.2,1098.3" fill="#060b08"/>
<path d="M1190,900C1234.2,893.3 1410.8,867 1455,900C1499.2,933 1460.8,1065 1455,1098C1449.2,1131 1432.5,1104.3 1420,1098C1407.5,1091.7 1400,1076.3 1380,1060C1360,1043.7 1325,1016.7 1300,1000C1275,983.3 1248.3,970 1230,960C1211.7,950 1196.7,950 1190,940C1183.3,930 1145.8,906.7 1190,900Z" fill="#0b1e10" opacity=".9" filter="url(#b14)"/>
<path d="M1273.9,962.2C1278.5,961.3 1293.7,972.6 1305,976.9C1316.3,981.2 1330.9,984.8 1341.6,987.9C1352.3,991 1358.3,992.2 1369,995.2C1379.7,998.2 1393.5,1002.2 1405.7,1006.2C1417.9,1010.2 1434.6,1015 1442.3,1019C1450,1023 1450.4,1019 1452,1030C1453.6,1041 1453.6,1076.2 1452,1085C1450.4,1093.8 1447,1084.8 1442.3,1083C1437.6,1081.2 1431.6,1077.9 1424,1073.9C1416.4,1070 1405.7,1063.9 1396.5,1059.3C1387.3,1054.7 1378.2,1051.1 1369,1046.5C1359.8,1041.9 1350.8,1036.7 1341.6,1031.8C1332.4,1026.9 1324.8,1025.4 1314.1,1017.2C1303.4,1009 1284.2,991.6 1277.5,982.4C1270.8,973.2 1269.3,963.1 1273.9,962.2Z" fill="#166028" opacity=".8" filter="url(#b6)"/>
<ellipse cx="1368" cy="1023" rx="38" ry="17" fill="#2f9a48" opacity=".7" transform="rotate(25 1368 1023)" filter="url(#b8)"/>
<mask id="mchg" maskUnits="userSpaceOnUse" x="1166.2" y="880.3" width="308.9" height="238"><path d="M1273.9,962.2C1278.5,961.3 1293.7,972.6 1305,976.9C1316.3,981.2 1330.9,984.8 1341.6,987.9C1352.3,991 1358.3,992.2 1369,995.2C1379.7,998.2 1393.5,1002.2 1405.7,1006.2C1417.9,1010.2 1434.6,1015 1442.3,1019C1450,1023 1450.4,1019 1452,1030C1453.6,1041 1453.6,1076.2 1452,1085C1450.4,1093.8 1447,1084.8 1442.3,1083C1437.6,1081.2 1431.6,1077.9 1424,1073.9C1416.4,1070 1405.7,1063.9 1396.5,1059.3C1387.3,1054.7 1378.2,1051.1 1369,1046.5C1359.8,1041.9 1350.8,1036.7 1341.6,1031.8C1332.4,1026.9 1324.8,1025.4 1314.1,1017.2C1303.4,1009 1284.2,991.6 1277.5,982.4C1270.8,973.2 1269.3,963.1 1273.9,962.2Z" fill="#fff" filter="url(#b5)"/></mask>
<g mask="url(#mchg)">
<rect x="1186.2" y="900.3" width="268.9" height="198" filter="url(#grn)" opacity=".5"/>
</g>
<path d="M1403 1008a0.8 0.8 0 1 0 1.7 0a0.8 0.8 0 1 0-1.7 0M1421 1063a0.8 0.8 0 1 0 1.7 0a0.8 0.8 0 1 0-1.7 0M1311 1006a1.0 1.0 0 1 0 2.0 0a1.0 1.0 0 1 0-2.0 0M1364 1002a1.2 1.2 0 1 0 2.4 0a1.2 1.2 0 1 0-2.4 0M1290 983a1.3 1.3 0 1 0 2.7 0a1.3 1.3 0 1 0-2.7 0M1386 1048a0.9 0.9 0 1 0 1.8 0a0.9 0.9 0 1 0-1.8 0M1297 977a1.4 1.4 0 1 0 2.8 0a1.4 1.4 0 1 0-2.8 0M1374 1018a1.4 1.4 0 1 0 2.8 0a1.4 1.4 0 1 0-2.8 0M1298 990a1.2 1.2 0 1 0 2.4 0a1.2 1.2 0 1 0-2.4 0M1295 985a1.4 1.4 0 1 0 2.9 0a1.4 1.4 0 1 0-2.9 0M1415 1067a0.9 0.9 0 1 0 1.8 0a0.9 0.9 0 1 0-1.8 0M1359 1034a1.3 1.3 0 1 0 2.6 0a1.3 1.3 0 1 0-2.6 0M1352 1016a1.2 1.2 0 1 0 2.3 0a1.2 1.2 0 1 0-2.3 0M1288 979a1.0 1.0 0 1 0 1.9 0a1.0 1.0 0 1 0-1.9 0M1405 1027a1.3 1.3 0 1 0 2.7 0a1.3 1.3 0 1 0-2.7 0M1336 996a1.5 1.5 0 1 0 3.0 0a1.5 1.5 0 1 0-3.0 0" fill="#5fe07a" opacity=".8"/><path d="M1427 1029a1.4 1.4 0 1 0 2.9 0a1.4 1.4 0 1 0-2.9 0M1381 1016a1.3 1.3 0 1 0 2.5 0a1.3 1.3 0 1 0-2.5 0M1445 1065a1.2 1.2 0 1 0 2.4 0a1.2 1.2 0 1 0-2.4 0M1351 993a1.0 1.0 0 1 0 1.9 0a1.0 1.0 0 1 0-1.9 0M1342 1023a1.1 1.1 0 1 0 2.1 0a1.1 1.1 0 1 0-2.1 0M1330 1010a1.6 1.6 0 1 0 3.2 0a1.6 1.6 0 1 0-3.2 0M1412 1026a1.2 1.2 0 1 0 2.5 0a1.2 1.2 0 1 0-2.5 0M1381 1034a1.4 1.4 0 1 0 2.7 0a1.4 1.4 0 1 0-2.7 0M1371 1018a0.8 0.8 0 1 0 1.7 0a0.8 0.8 0 1 0-1.7 0M1313 985a1.3 1.3 0 1 0 2.6 0a1.3 1.3 0 1 0-2.6 0M1441 1035a0.8 0.8 0 1 0 1.6 0a0.8 0.8 0 1 0-1.6 0M1429 1038a1.3 1.3 0 1 0 2.6 0a1.3 1.3 0 1 0-2.6 0M1417 1026a1.3 1.3 0 1 0 2.6 0a1.3 1.3 0 1 0-2.6 0M1303 991a0.8 0.8 0 1 0 1.7 0a0.8 0.8 0 1 0-1.7 0M1364 1039a1.0 1.0 0 1 0 1.9 0a1.0 1.0 0 1 0-1.9 0M1368 1012a1.0 1.0 0 1 0 1.9 0a1.0 1.0 0 1 0-1.9 0M1368 998a1.0 1.0 0 1 0 2.0 0a1.0 1.0 0 1 0-2.0 0M1394 1029a1.0 1.0 0 1 0 2.0 0a1.0 1.0 0 1 0-2.0 0M1375 1033a1.1 1.1 0 1 0 2.1 0a1.1 1.1 0 1 0-2.1 0" fill="#3fc060" opacity=".8"/><path d="M1399 1035a1.4 1.4 0 1 0 2.8 0a1.4 1.4 0 1 0-2.8 0M1305 978a1.6 1.6 0 1 0 3.2 0a1.6 1.6 0 1 0-3.2 0M1327 1012a1.1 1.1 0 1 0 2.1 0a1.1 1.1 0 1 0-2.1 0M1370 1014a1.4 1.4 0 1 0 2.8 0a1.4 1.4 0 1 0-2.8 0M1373 1046a1.1 1.1 0 1 0 2.2 0a1.1 1.1 0 1 0-2.2 0M1361 1001a1.1 1.1 0 1 0 2.1 0a1.1 1.1 0 1 0-2.1 0M1415 1068a1.6 1.6 0 1 0 3.1 0a1.6 1.6 0 1 0-3.1 0M1432 1073a1.6 1.6 0 1 0 3.2 0a1.6 1.6 0 1 0-3.2 0M1331 1017a0.9 0.9 0 1 0 1.7 0a0.9 0.9 0 1 0-1.7 0M1368 1008a1.3 1.3 0 1 0 2.5 0a1.3 1.3 0 1 0-2.5 0M1438 1054a0.8 0.8 0 1 0 1.7 0a0.8 0.8 0 1 0-1.7 0M1304 981a1.3 1.3 0 1 0 2.7 0a1.3 1.3 0 1 0-2.7 0M1439 1067a1.5 1.5 0 1 0 2.9 0a1.5 1.5 0 1 0-2.9 0" fill="#5fe07a" opacity=".5"/><path d="M1276 966a1.1 1.1 0 1 0 2.2 0a1.1 1.1 0 1 0-2.2 0M1442 1080a1.3 1.3 0 1 0 2.5 0a1.3 1.3 0 1 0-2.5 0M1411 1055a0.8 0.8 0 1 0 1.6 0a0.8 0.8 0 1 0-1.6 0M1336 1015a1.5 1.5 0 1 0 2.9 0a1.5 1.5 0 1 0-2.9 0M1369 1038a1.5 1.5 0 1 0 2.9 0a1.5 1.5 0 1 0-2.9 0M1294 975a1.4 1.4 0 1 0 2.8 0a1.4 1.4 0 1 0-2.8 0M1417 1058a1.3 1.3 0 1 0 2.6 0a1.3 1.3 0 1 0-2.6 0M1347 1001a1.3 1.3 0 1 0 2.5 0a1.3 1.3 0 1 0-2.5 0M1408 1063a1.2 1.2 0 1 0 2.5 0a1.2 1.2 0 1 0-2.5 0M1429 1034a0.9 0.9 0 1 0 1.8 0a0.9 0.9 0 1 0-1.8 0M1433 1030a0.8 0.8 0 1 0 1.6 0a0.8 0.8 0 1 0-1.6 0M1412 1054a1.6 1.6 0 1 0 3.2 0a1.6 1.6 0 1 0-3.2 0M1360 1032a1.2 1.2 0 1 0 2.4 0a1.2 1.2 0 1 0-2.4 0M1386 1011a1.1 1.1 0 1 0 2.2 0a1.1 1.1 0 1 0-2.2 0M1400 1035a0.9 0.9 0 1 0 1.8 0a0.9 0.9 0 1 0-1.8 0" fill="#b0f080" opacity=".5"/><path d="M1416 1048a1.5 1.5 0 1 0 3.0 0a1.5 1.5 0 1 0-3.0 0M1306 993a1.2 1.2 0 1 0 2.5 0a1.2 1.2 0 1 0-2.5 0M1321 1020a1.0 1.0 0 1 0 2.0 0a1.0 1.0 0 1 0-2.0 0M1410 1024a0.9 0.9 0 1 0 1.9 0a0.9 0.9 0 1 0-1.9 0M1403 1041a1.0 1.0 0 1 0 2.1 0a1.0 1.0 0 1 0-2.1 0M1346 997a1.5 1.5 0 1 0 2.9 0a1.5 1.5 0 1 0-2.9 0M1329 1024a1.4 1.4 0 1 0 2.8 0a1.4 1.4 0 1 0-2.8 0M1444 1059a1.5 1.5 0 1 0 3.1 0a1.5 1.5 0 1 0-3.1 0M1386 1008a0.9 0.9 0 1 0 1.7 0a0.9 0.9 0 1 0-1.7 0M1396 1038a1.3 1.3 0 1 0 2.6 0a1.3 1.3 0 1 0-2.6 0M1315 1006a1.6 1.6 0 1 0 3.1 0a1.6 1.6 0 1 0-3.1 0M1390 1048a1.1 1.1 0 1 0 2.1 0a1.1 1.1 0 1 0-2.1 0M1323 1008a1.4 1.4 0 1 0 2.8 0a1.4 1.4 0 1 0-2.8 0M1290 978a1.3 1.3 0 1 0 2.6 0a1.3 1.3 0 1 0-2.6 0M1398 1055a1.1 1.1 0 1 0 2.2 0a1.1 1.1 0 1 0-2.2 0M1378 1013a1.0 1.0 0 1 0 2.0 0a1.0 1.0 0 1 0-2.0 0M1331 1016a1.3 1.3 0 1 0 2.6 0a1.3 1.3 0 1 0-2.6 0M1334 1012a1.3 1.3 0 1 0 2.5 0a1.3 1.3 0 1 0-2.5 0M1289 975a0.8 0.8 0 1 0 1.7 0a0.8 0.8 0 1 0-1.7 0M1361 994a1.4 1.4 0 1 0 2.9 0a1.4 1.4 0 1 0-2.9 0" fill="#b0f080" opacity=".8"/><path d="M1390 1053a1.5 1.5 0 1 0 3.0 0a1.5 1.5 0 1 0-3.0 0M1385 1004a1.6 1.6 0 1 0 3.1 0a1.6 1.6 0 1 0-3.1 0M1425 1068a0.9 0.9 0 1 0 1.7 0a0.9 0.9 0 1 0-1.7 0" fill="#5fe07a" opacity=".2"/><path d="M1366 1037a0.8 0.8 0 1 0 1.6 0a0.8 0.8 0 1 0-1.6 0M1323 1011a1.4 1.4 0 1 0 2.8 0a1.4 1.4 0 1 0-2.8 0M1434 1052a1.4 1.4 0 1 0 2.9 0a1.4 1.4 0 1 0-2.9 0M1431 1054a1.6 1.6 0 1 0 3.1 0a1.6 1.6 0 1 0-3.1 0M1314 1002a0.8 0.8 0 1 0 1.6 0a0.8 0.8 0 1 0-1.6 0M1365 998a1.5 1.5 0 1 0 3.0 0a1.5 1.5 0 1 0-3.0 0M1382 1016a0.9 0.9 0 1 0 1.8 0a0.9 0.9 0 1 0-1.8 0M1400 1019a1.2 1.2 0 1 0 2.5 0a1.2 1.2 0 1 0-2.5 0M1374 1028a1.3 1.3 0 1 0 2.7 0a1.3 1.3 0 1 0-2.7 0M1398 1045a1.0 1.0 0 1 0 2.0 0a1.0 1.0 0 1 0-2.0 0M1415 1038a1.1 1.1 0 1 0 2.2 0a1.1 1.1 0 1 0-2.2 0M1434 1024a1.3 1.3 0 1 0 2.5 0a1.3 1.3 0 1 0-2.5 0M1286 981a1.4 1.4 0 1 0 2.8 0a1.4 1.4 0 1 0-2.8 0M1338 991a1.2 1.2 0 1 0 2.3 0a1.2 1.2 0 1 0-2.3 0M1383 1014a1.0 1.0 0 1 0 2.0 0a1.0 1.0 0 1 0-2.0 0M1330 1022a1.6 1.6 0 1 0 3.1 0a1.6 1.6 0 1 0-3.1 0" fill="#8ef0a0" opacity=".8"/><path d="M1448 1039a1.5 1.5 0 1 0 3.1 0a1.5 1.5 0 1 0-3.1 0M1440 1040a1.6 1.6 0 1 0 3.1 0a1.6 1.6 0 1 0-3.1 0M1446 1055a1.4 1.4 0 1 0 2.9 0a1.4 1.4 0 1 0-2.9 0M1341 1020a1.3 1.3 0 1 0 2.6 0a1.3 1.3 0 1 0-2.6 0M1446 1074a0.8 0.8 0 1 0 1.7 0a0.8 0.8 0 1 0-1.7 0M1414 1038a1.3 1.3 0 1 0 2.6 0a1.3 1.3 0 1 0-2.6 0M1349 1013a0.9 0.9 0 1 0 1.7 0a0.9 0.9 0 1 0-1.7 0M1417 1067a1.4 1.4 0 1 0 2.8 0a1.4 1.4 0 1 0-2.8 0M1437 1020a1.5 1.5 0 1 0 3.0 0a1.5 1.5 0 1 0-3.0 0M1318 1009a1.3 1.3 0 1 0 2.7 0a1.3 1.3 0 1 0-2.7 0" fill="#8ef0a0" opacity=".5"/><path d="M1384 1041a1.4 1.4 0 1 0 2.7 0a1.4 1.4 0 1 0-2.7 0M1332 1018a1.3 1.3 0 1 0 2.6 0a1.3 1.3 0 1 0-2.6 0M1364 1014a1.3 1.3 0 1 0 2.7 0a1.3 1.3 0 1 0-2.7 0M1391 1008a0.9 0.9 0 1 0 1.8 0a0.9 0.9 0 1 0-1.8 0M1333 1027a1.0 1.0 0 1 0 1.9 0a1.0 1.0 0 1 0-1.9 0M1387 1039a0.8 0.8 0 1 0 1.7 0a0.8 0.8 0 1 0-1.7 0M1316 982a1.5 1.5 0 1 0 2.9 0a1.5 1.5 0 1 0-2.9 0M1385 1051a0.9 0.9 0 1 0 1.7 0a0.9 0.9 0 1 0-1.7 0M1365 1045a1.4 1.4 0 1 0 2.8 0a1.4 1.4 0 1 0-2.8 0M1337 1026a1.1 1.1 0 1 0 2.2 0a1.1 1.1 0 1 0-2.2 0M1427 1030a0.9 0.9 0 1 0 1.9 0a0.9 0.9 0 1 0-1.9 0M1435 1031a1.2 1.2 0 1 0 2.4 0a1.2 1.2 0 1 0-2.4 0M1362 1012a1.2 1.2 0 1 0 2.4 0a1.2 1.2 0 1 0-2.4 0M1297 984a1.3 1.3 0 1 0 2.6 0a1.3 1.3 0 1 0-2.6 0M1361 1027a0.9 0.9 0 1 0 1.8 0a0.9 0.9 0 1 0-1.8 0" fill="#3fc060" opacity=".5"/><path d="M1292 997a1.0 1.0 0 1 0 2.0 0a1.0 1.0 0 1 0-2.0 0M1413 1040a1.3 1.3 0 1 0 2.5 0a1.3 1.3 0 1 0-2.5 0" fill="#8ef0a0" opacity=".2"/><path d="M1278 977a1.0 1.0 0 1 0 2.0 0a1.0 1.0 0 1 0-2.0 0M1433 1039a1.1 1.1 0 1 0 2.1 0a1.1 1.1 0 1 0-2.1 0M1295 996a1.3 1.3 0 1 0 2.7 0a1.3 1.3 0 1 0-2.7 0" fill="#3fc060" opacity="1"/><path d="M1326 1023a1.2 1.2 0 1 0 2.3 0a1.2 1.2 0 1 0-2.3 0M1449 1037a1.6 1.6 0 1 0 3.2 0a1.6 1.6 0 1 0-3.2 0" fill="#3fc060" opacity=".2"/><path d="M1393 1058a1.2 1.2 0 1 0 2.3 0a1.2 1.2 0 1 0-2.3 0M1392 1050a1.2 1.2 0 1 0 2.5 0a1.2 1.2 0 1 0-2.5 0M1305 988a1.3 1.3 0 1 0 2.7 0a1.3 1.3 0 1 0-2.7 0" fill="#b0f080" opacity=".2"/><path d="M1362 1014a1.0 1.0 0 1 0 2.0 0a1.0 1.0 0 1 0-2.0 0" fill="#8ef0a0" opacity="1"/><path d="M1438 1020a1.6 1.6 0 1 0 3.2 0a1.6 1.6 0 1 0-3.2 0" fill="#5fe07a" opacity="1"/><path d="M1429 1044a0.9 0.9 0 1 0 1.8 0a0.9 0.9 0 1 0-1.8 0" fill="#b0f080" opacity="1"/>
<path d="M1350.8,953.1C1352.5,950.6 1358.3,951.4 1362,955C1365.7,958.6 1372,968.3 1372.7,975C1373.4,981.7 1368.5,992.7 1366,995.2C1363.5,997.7 1360.3,994.2 1358,990C1355.7,985.8 1353.2,976.1 1352,970C1350.8,963.9 1349.1,955.6 1350.8,953.1Z" fill="#010201" opacity=".9" filter="url(#b2)"/>
<path d="M1190,1000C1201.7,985.3 1238.3,1003.3 1260,1010C1281.7,1016.7 1300,1025.3 1320,1040C1340,1054.7 1401.7,1088.3 1380,1098C1358.3,1107.7 1221.7,1114.3 1190,1098C1158.3,1081.7 1178.3,1014.7 1190,1000Z" fill="#020302" opacity=".6" filter="url(#b8)"/>
</g>
<text x="1197" y="1089.2" font-size="26" fill="#1db954" textLength="144" lengthAdjust="spacingAndGlyphs">iGABASnFR</text>
<rect x="1403" y="1082" width="46" height="9" fill="#fff"/>
<clipPath id="chr"><polygon points="1184.2,1106 1450.8,1106 1448,1304.7 1184.2,1304.7"/></clipPath>
<g clip-path="url(#chr)">
<polygon points="1184.2,1106 1450.8,1106 1448,1304.7 1184.2,1304.7" fill="#0f0505"/>
<path d="M1264.7,1174.6C1267.8,1173.1 1284.5,1180.1 1295.8,1183.8C1307.1,1187.5 1320.2,1192 1332.4,1196.6C1344.6,1201.2 1358.3,1205.7 1369,1211.2C1379.7,1216.7 1388,1221.4 1396.5,1229.5C1405,1237.6 1418.5,1250.8 1420,1260C1421.5,1269.2 1414.2,1285 1405.7,1284.5C1397.2,1284 1381.2,1266.2 1369,1257C1356.8,1247.8 1344.6,1238 1332.4,1229.5C1320.2,1221 1305,1211.8 1295.8,1205.7C1286.6,1199.6 1282.7,1198.1 1277.5,1192.9C1272.3,1187.7 1261.7,1176.1 1264.7,1174.6Z" fill="#4a0a0a" opacity=".8" filter="url(#b8)"/>
<ellipse cx="1332" cy="1215" rx="50" ry="16" fill="#801212" opacity=".6" transform="rotate(28 1332 1215)" filter="url(#b8)"/>
<mask id="mchr" maskUnits="userSpaceOnUse" x="1164.2" y="1086" width="306.6" height="238.7"><path d="M1264.7,1174.6C1267.8,1173.1 1284.5,1180.1 1295.8,1183.8C1307.1,1187.5 1320.2,1192 1332.4,1196.6C1344.6,1201.2 1358.3,1205.7 1369,1211.2C1379.7,1216.7 1388,1221.4 1396.5,1229.5C1405,1237.6 1418.5,1250.8 1420,1260C1421.5,1269.2 1414.2,1285 1405.7,1284.5C1397.2,1284 1381.2,1266.2 1369,1257C1356.8,1247.8 1344.6,1238 1332.4,1229.5C1320.2,1221 1305,1211.8 1295.8,1205.7C1286.6,1199.6 1282.7,1198.1 1277.5,1192.9C1272.3,1187.7 1261.7,1176.1 1264.7,1174.6Z" fill="#fff" filter="url(#b6)"/></mask>
<g mask="url(#mchr)">
<rect x="1184.2" y="1106" width="266.6" height="198.7" filter="url(#redn)" opacity=".3"/>
</g>
<path d="M1341 1224a1.0 1.0 0 1 0 2.0 0a1.0 1.0 0 1 0-2.0 0M1316 1194a0.9 0.9 0 1 0 1.9 0a0.9 0.9 0 1 0-1.9 0M1346 1218a1.6 1.6 0 1 0 3.2 0a1.6 1.6 0 1 0-3.2 0M1363 1236a1.2 1.2 0 1 0 2.5 0a1.2 1.2 0 1 0-2.5 0M1373 1240a1.1 1.1 0 1 0 2.1 0a1.1 1.1 0 1 0-2.1 0M1309 1203a1.2 1.2 0 1 0 2.5 0a1.2 1.2 0 1 0-2.5 0M1342 1210a1.3 1.3 0 1 0 2.6 0a1.3 1.3 0 1 0-2.6 0M1325 1220a1.4 1.4 0 1 0 2.8 0a1.4 1.4 0 1 0-2.8 0M1368 1220a1.7 1.7 0 1 0 3.4 0a1.7 1.7 0 1 0-3.4 0M1361 1238a1.3 1.3 0 1 0 2.6 0a1.3 1.3 0 1 0-2.6 0M1301 1201a1.3 1.3 0 1 0 2.7 0a1.3 1.3 0 1 0-2.7 0M1340 1216a1.0 1.0 0 1 0 2.1 0a1.0 1.0 0 1 0-2.1 0M1317 1216a1.8 1.8 0 1 0 3.6 0a1.8 1.8 0 1 0-3.6 0M1345 1209a1.8 1.8 0 1 0 3.6 0a1.8 1.8 0 1 0-3.6 0M1367 1221a0.9 0.9 0 1 0 1.8 0a0.9 0.9 0 1 0-1.8 0M1297 1202a1.8 1.8 0 1 0 3.5 0a1.8 1.8 0 1 0-3.5 0M1341 1211a1.1 1.1 0 1 0 2.3 0a1.1 1.1 0 1 0-2.3 0M1346 1213a1.8 1.8 0 1 0 3.7 0a1.8 1.8 0 1 0-3.7 0M1320 1201a1.6 1.6 0 1 0 3.2 0a1.6 1.6 0 1 0-3.2 0M1328 1198a1.8 1.8 0 1 0 3.6 0a1.8 1.8 0 1 0-3.6 0M1319 1224a1.4 1.4 0 1 0 2.9 0a1.4 1.4 0 1 0-2.9 0M1337 1215a1.9 1.9 0 1 0 3.8 0a1.9 1.9 0 1 0-3.8 0" fill="#e82828" opacity=".8"/><path d="M1297 1205a1.9 1.9 0 1 0 3.7 0a1.9 1.9 0 1 0-3.7 0M1333 1209a1.5 1.5 0 1 0 3.0 0a1.5 1.5 0 1 0-3.0 0M1372 1219a1.3 1.3 0 1 0 2.5 0a1.3 1.3 0 1 0-2.5 0M1352 1233a1.8 1.8 0 1 0 3.6 0a1.8 1.8 0 1 0-3.6 0M1314 1212a1.5 1.5 0 1 0 2.9 0a1.5 1.5 0 1 0-2.9 0M1339 1232a1.3 1.3 0 1 0 2.6 0a1.3 1.3 0 1 0-2.6 0M1339 1223a1.5 1.5 0 1 0 3.1 0a1.5 1.5 0 1 0-3.1 0M1325 1223a1.3 1.3 0 1 0 2.6 0a1.3 1.3 0 1 0-2.6 0M1354 1236a1.1 1.1 0 1 0 2.3 0a1.1 1.1 0 1 0-2.3 0M1321 1220a1.3 1.3 0 1 0 2.6 0a1.3 1.3 0 1 0-2.6 0M1344 1209a1.8 1.8 0 1 0 3.6 0a1.8 1.8 0 1 0-3.6 0M1350 1226a1.1 1.1 0 1 0 2.1 0a1.1 1.1 0 1 0-2.1 0M1339 1231a1.3 1.3 0 1 0 2.6 0a1.3 1.3 0 1 0-2.6 0M1320 1194a1.2 1.2 0 1 0 2.3 0a1.2 1.2 0 1 0-2.3 0M1315 1194a1.7 1.7 0 1 0 3.3 0a1.7 1.7 0 1 0-3.3 0M1366 1241a1.3 1.3 0 1 0 2.5 0a1.3 1.3 0 1 0-2.5 0M1315 1204a0.9 0.9 0 1 0 1.9 0a0.9 0.9 0 1 0-1.9 0M1373 1243a1.6 1.6 0 1 0 3.2 0a1.6 1.6 0 1 0-3.2 0M1329 1220a1.7 1.7 0 1 0 3.4 0a1.7 1.7 0 1 0-3.4 0M1315 1207a1.1 1.1 0 1 0 2.2 0a1.1 1.1 0 1 0-2.2 0M1328 1217a1.0 1.0 0 1 0 2.0 0a1.0 1.0 0 1 0-2.0 0M1329 1220a1.5 1.5 0 1 0 2.9 0a1.5 1.5 0 1 0-2.9 0M1309 1212a1.4 1.4 0 1 0 2.8 0a1.4 1.4 0 1 0-2.8 0M1311 1218a1.2 1.2 0 1 0 2.5 0a1.2 1.2 0 1 0-2.5 0M1376 1244a1.5 1.5 0 1 0 2.9 0a1.5 1.5 0 1 0-2.9 0M1329 1198a1.3 1.3 0 1 0 2.5 0a1.3 1.3 0 1 0-2.5 0" fill="#ff3030" opacity=".8"/><path d="M1363 1219a1.9 1.9 0 1 0 3.7 0a1.9 1.9 0 1 0-3.7 0M1368 1234a0.9 0.9 0 1 0 1.9 0a0.9 0.9 0 1 0-1.9 0M1369 1244a1.0 1.0 0 1 0 2.0 0a1.0 1.0 0 1 0-2.0 0M1337 1204a1.0 1.0 0 1 0 2.0 0a1.0 1.0 0 1 0-2.0 0M1313 1206a1.2 1.2 0 1 0 2.4 0a1.2 1.2 0 1 0-2.4 0M1308 1194a1.0 1.0 0 1 0 2.0 0a1.0 1.0 0 1 0-2.0 0M1305 1189a1.5 1.5 0 1 0 3.0 0a1.5 1.5 0 1 0-3.0 0M1348 1211a1.9 1.9 0 1 0 3.7 0a1.9 1.9 0 1 0-3.7 0M1358 1219a1.1 1.1 0 1 0 2.1 0a1.1 1.1 0 1 0-2.1 0M1360 1215a1.8 1.8 0 1 0 3.5 0a1.8 1.8 0 1 0-3.5 0M1308 1201a1.4 1.4 0 1 0 2.9 0a1.4 1.4 0 1 0-2.9 0M1368 1237a1.9 1.9 0 1 0 3.8 0a1.9 1.9 0 1 0-3.8 0M1322 1198a1.8 1.8 0 1 0 3.6 0a1.8 1.8 0 1 0-3.6 0M1308 1211a1.0 1.0 0 1 0 2.0 0a1.0 1.0 0 1 0-2.0 0" fill="#e82828" opacity=".5"/><path d="M1352 1227a1.3 1.3 0 1 0 2.6 0a1.3 1.3 0 1 0-2.6 0M1314 1193a1.2 1.2 0 1 0 2.4 0a1.2 1.2 0 1 0-2.4 0M1312 1216a1.6 1.6 0 1 0 3.1 0a1.6 1.6 0 1 0-3.1 0M1302 1190a1.2 1.2 0 1 0 2.4 0a1.2 1.2 0 1 0-2.4 0M1364 1218a1.6 1.6 0 1 0 3.2 0a1.6 1.6 0 1 0-3.2 0M1322 1226a1.9 1.9 0 1 0 3.8 0a1.9 1.9 0 1 0-3.8 0M1371 1230a1.8 1.8 0 1 0 3.6 0a1.8 1.8 0 1 0-3.6 0M1369 1227a1.9 1.9 0 1 0 3.7 0a1.9 1.9 0 1 0-3.7 0M1295 1203a0.9 0.9 0 1 0 1.9 0a0.9 0.9 0 1 0-1.9 0M1376 1236a1.2 1.2 0 1 0 2.3 0a1.2 1.2 0 1 0-2.3 0M1318 1220a1.2 1.2 0 1 0 2.3 0a1.2 1.2 0 1 0-2.3 0M1291 1188a1.0 1.0 0 1 0 2.0 0a1.0 1.0 0 1 0-2.0 0M1334 1215a1.8 1.8 0 1 0 3.6 0a1.8 1.8 0 1 0-3.6 0M1353 1231a1.4 1.4 0 1 0 2.8 0a1.4 1.4 0 1 0-2.8 0" fill="#ff3030" opacity=".5"/><path d="M1322 1201a1.1 1.1 0 1 0 2.1 0a1.1 1.1 0 1 0-2.1 0M1323 1206a1.0 1.0 0 1 0 2.1 0a1.0 1.0 0 1 0-2.1 0M1347 1205a1.0 1.0 0 1 0 2.1 0a1.0 1.0 0 1 0-2.1 0M1351 1226a1.4 1.4 0 1 0 2.7 0a1.4 1.4 0 1 0-2.7 0M1304 1203a0.9 0.9 0 1 0 1.8 0a0.9 0.9 0 1 0-1.8 0M1351 1228a1.8 1.8 0 1 0 3.5 0a1.8 1.8 0 1 0-3.5 0M1346 1217a1.6 1.6 0 1 0 3.2 0a1.6 1.6 0 1 0-3.2 0M1293 1200a1.4 1.4 0 1 0 2.8 0a1.4 1.4 0 1 0-2.8 0M1376 1236a1.1 1.1 0 1 0 2.3 0a1.1 1.1 0 1 0-2.3 0M1314 1204a1.8 1.8 0 1 0 3.7 0a1.8 1.8 0 1 0-3.7 0" fill="#ff3030" opacity="1"/><path d="M1374 1240a1.4 1.4 0 1 0 2.9 0a1.4 1.4 0 1 0-2.9 0M1372 1223a1.7 1.7 0 1 0 3.4 0a1.7 1.7 0 1 0-3.4 0M1304 1211a1.6 1.6 0 1 0 3.2 0a1.6 1.6 0 1 0-3.2 0M1291 1202a1.3 1.3 0 1 0 2.7 0a1.3 1.3 0 1 0-2.7 0M1353 1230a1.1 1.1 0 1 0 2.2 0a1.1 1.1 0 1 0-2.2 0M1302 1196a1.3 1.3 0 1 0 2.7 0a1.3 1.3 0 1 0-2.7 0M1326 1207a1.3 1.3 0 1 0 2.5 0a1.3 1.3 0 1 0-2.5 0M1363 1228a1.2 1.2 0 1 0 2.5 0a1.2 1.2 0 1 0-2.5 0M1316 1206a1.7 1.7 0 1 0 3.4 0a1.7 1.7 0 1 0-3.4 0M1312 1208a1.8 1.8 0 1 0 3.6 0a1.8 1.8 0 1 0-3.6 0M1328 1220a1.9 1.9 0 1 0 3.7 0a1.9 1.9 0 1 0-3.7 0M1347 1206a1.5 1.5 0 1 0 3.0 0a1.5 1.5 0 1 0-3.0 0M1376 1236a1.2 1.2 0 1 0 2.5 0a1.2 1.2 0 1 0-2.5 0M1377 1247a1.0 1.0 0 1 0 2.0 0a1.0 1.0 0 1 0-2.0 0M1374 1245a1.7 1.7 0 1 0 3.4 0a1.7 1.7 0 1 0-3.4 0M1377 1235a1.1 1.1 0 1 0 2.2 0a1.1 1.1 0 1 0-2.2 0M1326 1220a1.2 1.2 0 1 0 2.5 0a1.2 1.2 0 1 0-2.5 0M1374 1221a1.0 1.0 0 1 0 2.1 0a1.0 1.0 0 1 0-2.1 0M1315 1219a1.3 1.3 0 1 0 2.7 0a1.3 1.3 0 1 0-2.7 0M1287 1189a1.8 1.8 0 1 0 3.6 0a1.8 1.8 0 1 0-3.6 0M1334 1208a1.8 1.8 0 1 0 3.6 0a1.8 1.8 0 1 0-3.6 0M1335 1214a1.6 1.6 0 1 0 3.1 0a1.6 1.6 0 1 0-3.1 0M1339 1203a1.9 1.9 0 1 0 3.8 0a1.9 1.9 0 1 0-3.8 0M1370 1236a1.0 1.0 0 1 0 2.1 0a1.0 1.0 0 1 0-2.1 0" fill="#ff4a3a" opacity=".8"/><path d="M1335 1211a1.4 1.4 0 1 0 2.8 0a1.4 1.4 0 1 0-2.8 0M1346 1230a1.7 1.7 0 1 0 3.4 0a1.7 1.7 0 1 0-3.4 0M1350 1225a1.1 1.1 0 1 0 2.1 0a1.1 1.1 0 1 0-2.1 0M1305 1205a1.4 1.4 0 1 0 2.7 0a1.4 1.4 0 1 0-2.7 0M1369 1228a1.5 1.5 0 1 0 3.0 0a1.5 1.5 0 1 0-3.0 0M1341 1222a1.6 1.6 0 1 0 3.3 0a1.6 1.6 0 1 0-3.3 0M1345 1223a1.5 1.5 0 1 0 2.9 0a1.5 1.5 0 1 0-2.9 0M1361 1216a1.8 1.8 0 1 0 3.6 0a1.8 1.8 0 1 0-3.6 0M1356 1214a1.9 1.9 0 1 0 3.8 0a1.9 1.9 0 1 0-3.8 0" fill="#ff4a3a" opacity=".5"/><path d="M1329 1225a1.3 1.3 0 1 0 2.6 0a1.3 1.3 0 1 0-2.6 0M1365 1215a1.6 1.6 0 1 0 3.1 0a1.6 1.6 0 1 0-3.1 0M1370 1234a1.3 1.3 0 1 0 2.5 0a1.3 1.3 0 1 0-2.5 0M1366 1230a1.3 1.3 0 1 0 2.5 0a1.3 1.3 0 1 0-2.5 0M1376 1222a1.7 1.7 0 1 0 3.3 0a1.7 1.7 0 1 0-3.3 0M1324 1216a1.3 1.3 0 1 0 2.6 0a1.3 1.3 0 1 0-2.6 0M1344 1234a1.9 1.9 0 1 0 3.7 0a1.9 1.9 0 1 0-3.7 0" fill="#ff4a3a" opacity="1"/><path d="M1319 1222a1.1 1.1 0 1 0 2.2 0a1.1 1.1 0 1 0-2.2 0M1301 1195a1.7 1.7 0 1 0 3.3 0a1.7 1.7 0 1 0-3.3 0M1315 1203a1.1 1.1 0 1 0 2.3 0a1.1 1.1 0 1 0-2.3 0M1357 1211a1.4 1.4 0 1 0 2.9 0a1.4 1.4 0 1 0-2.9 0" fill="#e82828" opacity="1"/>
<path d="M1375 1245a0.8 0.8 0 1 0 1.7 0a0.8 0.8 0 1 0-1.7 0M1385 1252a1.1 1.1 0 1 0 2.3 0a1.1 1.1 0 1 0-2.3 0M1302 1190a0.9 0.9 0 1 0 1.7 0a0.9 0.9 0 1 0-1.7 0M1362 1252a1.0 1.0 0 1 0 2.1 0a1.0 1.0 0 1 0-2.1 0M1344 1217a1.0 1.0 0 1 0 2.0 0a1.0 1.0 0 1 0-2.0 0M1333 1217a1.2 1.2 0 1 0 2.3 0a1.2 1.2 0 1 0-2.3 0M1315 1194a0.8 0.8 0 1 0 1.7 0a0.8 0.8 0 1 0-1.7 0" fill="#ff3030" opacity=".8"/><path d="M1300 1192a1.1 1.1 0 1 0 2.1 0a1.1 1.1 0 1 0-2.1 0M1336 1205a0.8 0.8 0 1 0 1.6 0a0.8 0.8 0 1 0-1.6 0M1407 1272a1.0 1.0 0 1 0 2.0 0a1.0 1.0 0 1 0-2.0 0M1370 1227a1.3 1.3 0 1 0 2.5 0a1.3 1.3 0 1 0-2.5 0M1337 1231a1.0 1.0 0 1 0 1.9 0a1.0 1.0 0 1 0-1.9 0M1305 1211a1.2 1.2 0 1 0 2.3 0a1.2 1.2 0 1 0-2.3 0M1366 1229a1.1 1.1 0 1 0 2.1 0a1.1 1.1 0 1 0-2.1 0M1344 1206a1.2 1.2 0 1 0 2.5 0a1.2 1.2 0 1 0-2.5 0M1359 1246a1.1 1.1 0 1 0 2.2 0a1.1 1.1 0 1 0-2.2 0M1368 1245a1.2 1.2 0 1 0 2.4 0a1.2 1.2 0 1 0-2.4 0M1315 1197a1.2 1.2 0 1 0 2.3 0a1.2 1.2 0 1 0-2.3 0M1366 1214a1.4 1.4 0 1 0 2.7 0a1.4 1.4 0 1 0-2.7 0M1362 1239a1.3 1.3 0 1 0 2.7 0a1.3 1.3 0 1 0-2.7 0M1334 1224a1.1 1.1 0 1 0 2.3 0a1.1 1.1 0 1 0-2.3 0M1404 1242a1.2 1.2 0 1 0 2.4 0a1.2 1.2 0 1 0-2.4 0M1371 1225a1.1 1.1 0 1 0 2.3 0a1.1 1.1 0 1 0-2.3 0" fill="#ff3030" opacity=".5"/><path d="M1372 1247a0.9 0.9 0 1 0 1.7 0a0.9 0.9 0 1 0-1.7 0M1357 1208a1.0 1.0 0 1 0 2.1 0a1.0 1.0 0 1 0-2.1 0M1417 1260a0.7 0.7 0 1 0 1.5 0a0.7 0.7 0 1 0-1.5 0M1397 1274a1.0 1.0 0 1 0 2.0 0a1.0 1.0 0 1 0-2.0 0M1304 1210a1.4 1.4 0 1 0 2.7 0a1.4 1.4 0 1 0-2.7 0M1400 1241a0.9 0.9 0 1 0 1.7 0a0.9 0.9 0 1 0-1.7 0M1397 1258a1.2 1.2 0 1 0 2.5 0a1.2 1.2 0 1 0-2.5 0M1410 1255a1.3 1.3 0 1 0 2.6 0a1.3 1.3 0 1 0-2.6 0M1284 1193a1.1 1.1 0 1 0 2.2 0a1.1 1.1 0 1 0-2.2 0M1290 1184a1.4 1.4 0 1 0 2.8 0a1.4 1.4 0 1 0-2.8 0M1385 1253a0.9 0.9 0 1 0 1.9 0a0.9 0.9 0 1 0-1.9 0M1393 1270a1.4 1.4 0 1 0 2.8 0a1.4 1.4 0 1 0-2.8 0M1325 1203a1.1 1.1 0 1 0 2.2 0a1.1 1.1 0 1 0-2.2 0M1358 1209a1.2 1.2 0 1 0 2.5 0a1.2 1.2 0 1 0-2.5 0M1398 1277a0.7 0.7 0 1 0 1.4 0a0.7 0.7 0 1 0-1.4 0M1363 1229a1.0 1.0 0 1 0 2.1 0a1.0 1.0 0 1 0-2.1 0" fill="#e82828" opacity=".5"/><path d="M1405 1267a1.0 1.0 0 1 0 2.0 0a1.0 1.0 0 1 0-2.0 0M1410 1249a0.8 0.8 0 1 0 1.6 0a0.8 0.8 0 1 0-1.6 0M1395 1272a0.8 0.8 0 1 0 1.7 0a0.8 0.8 0 1 0-1.7 0M1385 1248a0.8 0.8 0 1 0 1.6 0a0.8 0.8 0 1 0-1.6 0M1353 1223a1.3 1.3 0 1 0 2.7 0a1.3 1.3 0 1 0-2.7 0" fill="#e82828" opacity=".8"/><path d="M1390 1270a1.2 1.2 0 1 0 2.5 0a1.2 1.2 0 1 0-2.5 0M1291 1196a0.8 0.8 0 1 0 1.6 0a0.8 0.8 0 1 0-1.6 0M1350 1213a0.8 0.8 0 1 0 1.5 0a0.8 0.8 0 1 0-1.5 0M1325 1211a0.7 0.7 0 1 0 1.5 0a0.7 0.7 0 1 0-1.5 0M1392 1228a0.7 0.7 0 1 0 1.4 0a0.7 0.7 0 1 0-1.4 0" fill="#e82828" opacity=".2"/><path d="M1403 1270a1.4 1.4 0 1 0 2.7 0a1.4 1.4 0 1 0-2.7 0" fill="#ff3030" opacity=".2"/>
<path d="M1422 1271a1.9 1.3 35 1 0 3.1 2.2a1.9 1.3 35 1 0-3.1-2.2M1417 1277a1.3 0.9 35 1 0 2.2 1.5a1.3 0.9 35 1 0-2.2-1.5M1426 1289a1.6 1.1 35 1 0 2.7 1.9a1.6 1.1 35 1 0-2.7-1.9M1392 1266a1.8 1.2 35 1 0 3.0 2.1a1.8 1.2 35 1 0-3.0-2.1M1422 1276a1.8 1.2 35 1 0 3.0 2.1a1.8 1.2 35 1 0-3.0-2.1M1420 1290a1.4 0.9 35 1 0 2.3 1.6a1.4 0.9 35 1 0-2.3-1.6M1421 1302a1.5 1.0 35 1 0 2.4 1.7a1.5 1.0 35 1 0-2.4-1.7M1399 1279a1.8 1.2 35 1 0 2.9 2.1a1.8 1.2 35 1 0-2.9-2.1M1394 1269a1.5 1.0 35 1 0 2.4 1.7a1.5 1.0 35 1 0-2.4-1.7M1408 1281a1.3 0.9 35 1 0 2.1 1.5a1.3 0.9 35 1 0-2.1-1.5M1428 1303a1.7 1.1 35 1 0 2.8 1.9a1.7 1.1 35 1 0-2.8-1.9M1443 1302a1.6 1.1 35 1 0 2.7 1.9a1.6 1.1 35 1 0-2.7-1.9M1398 1280a2.0 1.4 35 1 0 3.4 2.4a2.0 1.4 35 1 0-3.4-2.4M1406 1282a1.6 1.1 35 1 0 2.7 1.9a1.6 1.1 35 1 0-2.7-1.9M1436 1291a1.4 0.9 35 1 0 2.3 1.6a1.4 0.9 35 1 0-2.3-1.6M1415 1294a1.3 0.9 35 1 0 2.2 1.5a1.3 0.9 35 1 0-2.2-1.5M1434 1285a1.3 0.9 35 1 0 2.1 1.5a1.3 0.9 35 1 0-2.1-1.5" fill="#e82828" opacity=".8"/><path d="M1422 1302a2.0 1.3 35 1 0 3.2 2.3a2.0 1.3 35 1 0-3.2-2.3" fill="#e82828" opacity="1"/><path d="M1397 1282a2.0 1.3 35 1 0 3.2 2.3a2.0 1.3 35 1 0-3.2-2.3M1416 1290a1.3 0.9 35 1 0 2.2 1.5a1.3 0.9 35 1 0-2.2-1.5M1426 1273a1.8 1.2 35 1 0 2.9 2.0a1.8 1.2 35 1 0-2.9-2.0M1430 1294a2.1 1.4 35 1 0 3.4 2.4a2.1 1.4 35 1 0-3.4-2.4M1406 1272a1.9 1.3 35 1 0 3.1 2.2a1.9 1.3 35 1 0-3.1-2.2M1419 1275a1.7 1.2 35 1 0 2.9 2.0a1.7 1.2 35 1 0-2.9-2.0M1394 1273a1.4 0.9 35 1 0 2.3 1.6a1.4 0.9 35 1 0-2.3-1.6" fill="#e82828" opacity=".5"/>
<path d="M1352,1150C1353,1144.5 1358.7,1148.7 1362,1152C1365.3,1155.3 1371.3,1163.7 1372,1170C1372.7,1176.3 1368.7,1187.5 1366,1190C1363.3,1192.5 1358.3,1191.7 1356,1185C1353.7,1178.3 1351,1155.5 1352,1150Z" fill="#020101" opacity=".9" filter="url(#b2)"/>
</g>
<text x="1196" y="1293.5" font-size="26" fill="#e41f2d" textLength="120" lengthAdjust="spacingAndGlyphs">tdTomato</text>
<rect x="1400" y="1286" width="45.7" height="9" fill="#fff"/>
<clipPath id="cn"><polygon points="634.2,1808.1 1171.9,1808.1 1165.9,2212 627.1,2212"/></clipPath>
<mask id="mcn" maskUnits="userSpaceOnUse" x="607.1" y="1788.1" width="584.8" height="443.9"><g filter="url(#b10)"><path d="M800,1880C809.2,1877.5 848.3,1895 870,1905C891.7,1915 910,1926.7 930,1940C950,1953.3 970,1971.7 990,1985C1010,1998.3 1034.2,2007.5 1050,2020C1065.8,2032.5 1076.7,2043.3 1085,2060C1093.3,2076.7 1092.5,2101.7 1100,2120C1107.5,2138.3 1118,2156.7 1130,2170C1142,2183.3 1165,2193 1172,2200C1179,2207 1182.3,2210 1172,2212C1161.7,2214 1128.7,2220.7 1110,2212C1091.3,2203.3 1078.3,2173.7 1060,2160C1041.7,2146.3 1018.3,2141.7 1000,2130C981.7,2118.3 966.7,2106.7 950,2090C933.3,2073.3 916.7,2050 900,2030C883.3,2010 864.2,1988.3 850,1970C835.8,1951.7 823.3,1935 815,1920C806.7,1905 790.8,1882.5 800,1880Z" fill="#fff"/><path d="M1000,1830C1015,1825.8 1051.3,1835 1080,1835C1108.7,1835 1156.7,1817.5 1172,1830C1187.3,1842.5 1180.7,1898.3 1172,1910C1163.3,1921.7 1140.3,1905 1120,1900C1099.7,1895 1071.7,1886.7 1050,1880C1028.3,1873.3 998.3,1868.3 990,1860C981.7,1851.7 985,1834.2 1000,1830Z" fill="#fff"/></g></mask>
<g clip-path="url(#cn)">
<polygon points="634.2,1808.1 1171.9,1808.1 1165.9,2212 627.1,2212" fill="#0f1029"/>
<path d="M655,1950C665.8,1943.7 695.8,1964.5 720,1972C744.2,1979.5 773.3,1990.3 800,1995C826.7,1999.7 856.7,1989.2 880,2000C903.3,2010.8 920,2040 940,2060C960,2080 980,2101.7 1000,2120C1020,2138.3 1043.3,2154.5 1060,2170C1076.7,2185.5 1138.3,2205.8 1100,2213C1061.7,2220.2 885,2226.8 830,2213C775,2199.2 791.7,2155.5 770,2130C748.3,2104.5 719.2,2080 700,2060C680.8,2040 662.5,2028.3 655,2010C647.5,1991.7 644.2,1956.3 655,1950Z" fill="#030308" opacity=".8" filter="url(#b10)"/>
<path d="M850,2000C858.3,1995 886.7,2000 900,2010C913.3,2020 925.8,2045 930,2060C934.2,2075 933.3,2095 925,2100C916.7,2105 892.5,2100 880,2090C867.5,2080 855,2055 850,2040C845,2025 841.7,2005 850,2000Z" fill="#010103" opacity=".9" filter="url(#b8)"/>
<path d="M627,2005C639.2,1979.5 677.8,2040 700,2060C722.2,2080 738.3,2099.5 760,2125C781.7,2150.5 852.2,2198.3 830,2213C807.8,2227.7 660.8,2247.7 627,2213C593.2,2178.3 614.8,2030.5 627,2005Z" fill="#1c1c50" opacity=".5" filter="url(#b8)"/>
<rect x="627.1" y="1808.1" width="544.8" height="403.9" filter="url(#dapi)" opacity="0.65"/>
<g mask="url(#mcn)">
<path d="M800,1880C809.2,1877.5 848.3,1895 870,1905C891.7,1915 910,1926.7 930,1940C950,1953.3 970,1971.7 990,1985C1010,1998.3 1034.2,2007.5 1050,2020C1065.8,2032.5 1076.7,2043.3 1085,2060C1093.3,2076.7 1092.5,2101.7 1100,2120C1107.5,2138.3 1118,2156.7 1130,2170C1142,2183.3 1165,2193 1172,2200C1179,2207 1182.3,2210 1172,2212C1161.7,2214 1128.7,2220.7 1110,2212C1091.3,2203.3 1078.3,2173.7 1060,2160C1041.7,2146.3 1018.3,2141.7 1000,2130C981.7,2118.3 966.7,2106.7 950,2090C933.3,2073.3 916.7,2050 900,2030C883.3,2010 864.2,1988.3 850,1970C835.8,1951.7 823.3,1935 815,1920C806.7,1905 790.8,1882.5 800,1880Z" fill="#1c4a34" opacity=".9" filter="url(#b2)"/>
<path d="M1000,1830C1015,1825.8 1051.3,1835 1080,1835C1108.7,1835 1156.7,1817.5 1172,1830C1187.3,1842.5 1180.7,1898.3 1172,1910C1163.3,1921.7 1140.3,1905 1120,1900C1099.7,1895 1071.7,1886.7 1050,1880C1028.3,1873.3 998.3,1868.3 990,1860C981.7,1851.7 985,1834.2 1000,1830Z" fill="#1c5a34" opacity=".9" filter="url(#b6)"/>
<ellipse cx="880" cy="1950" rx="60" ry="25" fill="#7a2025" opacity=".8" transform="rotate(38 880 1950)" filter="url(#b10)"/>
<ellipse cx="985" cy="2045" rx="45" ry="28" fill="#8a4020" opacity=".7" transform="rotate(30 985 2045)" filter="url(#b10)"/>
<ellipse cx="1045" cy="2100" rx="60" ry="38" fill="#2f8a3a" opacity=".8" transform="rotate(45 1045 2100)" filter="url(#b12)"/>
<ellipse cx="1120" cy="2180" rx="50" ry="30" fill="#2a8a3a" opacity=".7" transform="rotate(30 1120 2180)" filter="url(#b12)"/>
<ellipse cx="1100" cy="1870" rx="80" ry="22" fill="#2a8a45" opacity=".6" transform="rotate(15 1100 1870)" filter="url(#b12)"/>
<g transform="rotate(35 899.5 2010)"><rect x="449.5" y="1560" width="900" height="900" filter="url(#streakG)" opacity=".3"/></g>
<g transform="rotate(35 899.5 2010)"><rect x="449.5" y="1560" width="900" height="900" filter="url(#streakK)" opacity=".3"/></g>
</g>
<g filter="url(#b1)"><path d="M870 1966a2.0 1.7 35 1 0 3.3 2.3a2.0 1.7 35 1 0-3.3-2.3M949 2029a1.5 1.3 35 1 0 2.5 1.7a1.5 1.3 35 1 0-2.5-1.7M833 1943a2.6 2.2 35 1 0 4.3 3.0a2.6 2.2 35 1 0-4.3-3.0M932 1976a2.2 1.8 35 1 0 3.6 2.5a2.2 1.8 35 1 0-3.6-2.5M909 2003a1.7 1.5 35 1 0 2.9 2.0a1.7 1.5 35 1 0-2.9-2.0M925 1960a2.0 1.7 35 1 0 3.3 2.3a2.0 1.7 35 1 0-3.3-2.3M884 1973a1.6 1.3 35 1 0 2.6 1.8a1.6 1.3 35 1 0-2.6-1.8M854 1935a2.4 2.0 35 1 0 4.0 2.8a2.4 2.0 35 1 0-4.0-2.8M969 2008a2.0 1.7 35 1 0 3.3 2.3a2.0 1.7 35 1 0-3.3-2.3M954 1985a2.5 2.1 35 1 0 4.1 2.9a2.5 2.1 35 1 0-4.1-2.9M969 2057a2.0 1.6 35 1 0 3.2 2.3a2.0 1.6 35 1 0-3.2-2.3M958 1997a2.4 2.0 35 1 0 3.9 2.7a2.4 2.0 35 1 0-3.9-2.7M830 1906a1.4 1.2 35 1 0 2.4 1.7a1.4 1.2 35 1 0-2.4-1.7M943 2016a1.5 1.3 35 1 0 2.5 1.7a1.5 1.3 35 1 0-2.5-1.7M933 2036a2.2 1.8 35 1 0 3.6 2.5a2.2 1.8 35 1 0-3.6-2.5M876 1958a2.4 2.0 35 1 0 3.9 2.7a2.4 2.0 35 1 0-3.9-2.7M950 2027a2.4 2.0 35 1 0 4.0 2.8a2.4 2.0 35 1 0-4.0-2.8M965 2025a2.5 2.1 35 1 0 4.1 2.9a2.5 2.1 35 1 0-4.1-2.9M925 2025a2.0 1.6 35 1 0 3.2 2.2a2.0 1.6 35 1 0-3.2-2.2M911 1986a2.1 1.8 35 1 0 3.5 2.4a2.1 1.8 35 1 0-3.5-2.4M962 2031a2.3 1.9 35 1 0 3.8 2.7a2.3 1.9 35 1 0-3.8-2.7M887 1929a2.6 2.2 35 1 0 4.3 3.0a2.6 2.2 35 1 0-4.3-3.0M981 2042a2.3 1.9 35 1 0 3.8 2.7a2.3 1.9 35 1 0-3.8-2.7M975 2029a2.6 2.2 35 1 0 4.2 3.0a2.6 2.2 35 1 0-4.2-3.0M915 1947a1.9 1.5 35 1 0 3.0 2.1a1.9 1.5 35 1 0-3.0-2.1M877 1923a2.0 1.7 35 1 0 3.2 2.3a2.0 1.7 35 1 0-3.2-2.3M874 1931a2.5 2.1 35 1 0 4.1 2.9a2.5 2.1 35 1 0-4.1-2.9M888 1963a2.6 2.2 35 1 0 4.3 3.0a2.6 2.2 35 1 0-4.3-3.0M823 1904a1.9 1.6 35 1 0 3.1 2.2a1.9 1.6 35 1 0-3.1-2.2M941 2030a1.8 1.5 35 1 0 2.9 2.0a1.8 1.5 35 1 0-2.9-2.0M812 1898a2.3 1.9 35 1 0 3.8 2.6a2.3 1.9 35 1 0-3.8-2.6" fill="#ff5a4a" opacity=".8"/><path d="M934 1995a1.6 1.3 35 1 0 2.6 1.8a1.6 1.3 35 1 0-2.6-1.8M858 1942a2.4 2.0 35 1 0 3.9 2.7a2.4 2.0 35 1 0-3.9-2.7M917 1999a1.5 1.2 35 1 0 2.4 1.7a1.5 1.2 35 1 0-2.4-1.7M921 1965a1.6 1.3 35 1 0 2.6 1.8a1.6 1.3 35 1 0-2.6-1.8M851 1909a2.2 1.8 35 1 0 3.6 2.5a2.2 1.8 35 1 0-3.6-2.5M872 1975a2.1 1.8 35 1 0 3.5 2.4a2.1 1.8 35 1 0-3.5-2.4M960 2006a1.6 1.3 35 1 0 2.6 1.8a1.6 1.3 35 1 0-2.6-1.8M974 2025a2.0 1.6 35 1 0 3.2 2.3a2.0 1.6 35 1 0-3.2-2.3M859 1962a1.6 1.3 35 1 0 2.6 1.9a1.6 1.3 35 1 0-2.6-1.9M921 1995a2.3 1.9 35 1 0 3.7 2.6a2.3 1.9 35 1 0-3.7-2.6M893 1938a2.4 2.0 35 1 0 3.9 2.7a2.4 2.0 35 1 0-3.9-2.7M895 1986a1.7 1.4 35 1 0 2.7 1.9a1.7 1.4 35 1 0-2.7-1.9M969 2030a1.5 1.2 35 1 0 2.4 1.7a1.5 1.2 35 1 0-2.4-1.7M863 1929a2.6 2.1 35 1 0 4.2 2.9a2.6 2.1 35 1 0-4.2-2.9M802 1899a2.2 1.9 35 1 0 3.7 2.6a2.2 1.9 35 1 0-3.7-2.6M949 2013a1.7 1.4 35 1 0 2.7 1.9a1.7 1.4 35 1 0-2.7-1.9M839 1928a1.5 1.2 35 1 0 2.4 1.7a1.5 1.2 35 1 0-2.4-1.7M931 1988a2.1 1.7 35 1 0 3.4 2.4a2.1 1.7 35 1 0-3.4-2.4" fill="#e83050" opacity=".5"/><path d="M831 1907a2.6 2.2 35 1 0 4.2 3.0a2.6 2.2 35 1 0-4.2-3.0M948 1998a1.6 1.4 35 1 0 2.7 1.9a1.6 1.4 35 1 0-2.7-1.9M814 1924a1.9 1.6 35 1 0 3.1 2.1a1.9 1.6 35 1 0-3.1-2.1M899 1969a2.4 2.0 35 1 0 3.9 2.7a2.4 2.0 35 1 0-3.9-2.7M942 2026a1.9 1.6 35 1 0 3.2 2.2a1.9 1.6 35 1 0-3.2-2.2M864 1934a2.0 1.6 35 1 0 3.2 2.3a2.0 1.6 35 1 0-3.2-2.3M925 2015a1.9 1.6 35 1 0 3.2 2.2a1.9 1.6 35 1 0-3.2-2.2M847 1913a2.0 1.7 35 1 0 3.3 2.3a2.0 1.7 35 1 0-3.3-2.3M900 1979a2.5 2.1 35 1 0 4.1 2.9a2.5 2.1 35 1 0-4.1-2.9M904 1963a2.5 2.1 35 1 0 4.1 2.9a2.5 2.1 35 1 0-4.1-2.9M929 2001a2.3 1.9 35 1 0 3.7 2.6a2.3 1.9 35 1 0-3.7-2.6M985 2053a2.5 2.1 35 1 0 4.1 2.9a2.5 2.1 35 1 0-4.1-2.9M933 2008a2.6 2.2 35 1 0 4.3 3.0a2.6 2.2 35 1 0-4.3-3.0M925 2016a2.4 2.0 35 1 0 3.9 2.7a2.4 2.0 35 1 0-3.9-2.7M909 1976a1.9 1.6 35 1 0 3.1 2.2a1.9 1.6 35 1 0-3.1-2.2M927 1993a2.4 2.0 35 1 0 3.9 2.7a2.4 2.0 35 1 0-3.9-2.7M895 2002a2.5 2.1 35 1 0 4.1 2.8a2.5 2.1 35 1 0-4.1-2.8M885 1938a1.9 1.6 35 1 0 3.1 2.2a1.9 1.6 35 1 0-3.1-2.2M862 1939a1.7 1.4 35 1 0 2.8 1.9a1.7 1.4 35 1 0-2.8-1.9M870 1925a1.4 1.2 35 1 0 2.4 1.7a1.4 1.2 35 1 0-2.4-1.7M956 2020a1.6 1.3 35 1 0 2.6 1.9a1.6 1.3 35 1 0-2.6-1.9M966 2027a1.9 1.6 35 1 0 3.1 2.2a1.9 1.6 35 1 0-3.1-2.2M806 1898a2.1 1.8 35 1 0 3.5 2.4a2.1 1.8 35 1 0-3.5-2.4M961 1995a2.5 2.1 35 1 0 4.2 2.9a2.5 2.1 35 1 0-4.2-2.9M930 1961a1.8 1.5 35 1 0 2.9 2.0a1.8 1.5 35 1 0-2.9-2.0" fill="#ff4040" opacity=".8"/><path d="M880 1971a1.8 1.5 35 1 0 2.9 2.0a1.8 1.5 35 1 0-2.9-2.0M945 2035a1.8 1.5 35 1 0 3.0 2.1a1.8 1.5 35 1 0-3.0-2.1M906 1948a2.4 2.0 35 1 0 3.9 2.7a2.4 2.0 35 1 0-3.9-2.7M887 1961a1.6 1.3 35 1 0 2.6 1.8a1.6 1.3 35 1 0-2.6-1.8M872 1917a2.5 2.1 35 1 0 4.2 2.9a2.5 2.1 35 1 0-4.2-2.9M940 2002a1.9 1.6 35 1 0 3.1 2.1a1.9 1.6 35 1 0-3.1-2.1M834 1930a2.3 1.9 35 1 0 3.8 2.7a2.3 1.9 35 1 0-3.8-2.7M899 1937a2.4 2.0 35 1 0 3.9 2.7a2.4 2.0 35 1 0-3.9-2.7M845 1948a1.9 1.6 35 1 0 3.1 2.2a1.9 1.6 35 1 0-3.1-2.2M941 1995a1.6 1.3 35 1 0 2.6 1.8a1.6 1.3 35 1 0-2.6-1.8M982 2049a2.1 1.7 35 1 0 3.4 2.4a2.1 1.7 35 1 0-3.4-2.4M985 2026a2.4 2.0 35 1 0 3.9 2.8a2.4 2.0 35 1 0-3.9-2.8M888 1950a1.8 1.5 35 1 0 3.0 2.1a1.8 1.5 35 1 0-3.0-2.1M959 2054a1.5 1.2 35 1 0 2.4 1.7a1.5 1.2 35 1 0-2.4-1.7M895 1971a2.3 1.9 35 1 0 3.8 2.7a2.3 1.9 35 1 0-3.8-2.7M951 2043a2.0 1.6 35 1 0 3.2 2.2a2.0 1.6 35 1 0-3.2-2.2M890 1993a2.6 2.1 35 1 0 4.2 2.9a2.6 2.1 35 1 0-4.2-2.9M854 1920a1.8 1.5 35 1 0 3.0 2.1a1.8 1.5 35 1 0-3.0-2.1M897 2006a2.5 2.1 35 1 0 4.1 2.9a2.5 2.1 35 1 0-4.1-2.9M946 2012a1.7 1.4 35 1 0 2.8 2.0a1.7 1.4 35 1 0-2.8-2.0M978 2057a1.7 1.4 35 1 0 2.8 1.9a1.7 1.4 35 1 0-2.8-1.9M901 1940a1.8 1.5 35 1 0 2.9 2.0a1.8 1.5 35 1 0-2.9-2.0M847 1941a2.4 2.0 35 1 0 4.0 2.8a2.4 2.0 35 1 0-4.0-2.8" fill="#ff2a2a" opacity=".8"/><path d="M934 1998a2.5 2.1 35 1 0 4.1 2.9a2.5 2.1 35 1 0-4.1-2.9M887 1964a2.6 2.2 35 1 0 4.2 3.0a2.6 2.2 35 1 0-4.2-3.0M911 1951a1.7 1.4 35 1 0 2.8 2.0a1.7 1.4 35 1 0-2.8-2.0M882 1936a2.2 1.8 35 1 0 3.6 2.5a2.2 1.8 35 1 0-3.6-2.5M877 1941a2.1 1.7 35 1 0 3.4 2.4a2.1 1.7 35 1 0-3.4-2.4M888 1939a1.8 1.5 35 1 0 2.9 2.0a1.8 1.5 35 1 0-2.9-2.0M861 1942a2.0 1.6 35 1 0 3.2 2.3a2.0 1.6 35 1 0-3.2-2.3M896 2004a1.7 1.4 35 1 0 2.8 2.0a1.7 1.4 35 1 0-2.8-2.0M922 1963a1.8 1.5 35 1 0 3.0 2.1a1.8 1.5 35 1 0-3.0-2.1M903 1951a2.3 1.9 35 1 0 3.7 2.6a2.3 1.9 35 1 0-3.7-2.6" fill="#ff2a2a" opacity="1"/><path d="M808 1910a2.2 1.8 35 1 0 3.6 2.5a2.2 1.8 35 1 0-3.6-2.5M867 1934a2.3 1.9 35 1 0 3.7 2.6a2.3 1.9 35 1 0-3.7-2.6M909 1961a1.5 1.2 35 1 0 2.4 1.7a1.5 1.2 35 1 0-2.4-1.7M936 1988a1.9 1.6 35 1 0 3.1 2.2a1.9 1.6 35 1 0-3.1-2.2M919 1985a2.5 2.1 35 1 0 4.0 2.8a2.5 2.1 35 1 0-4.0-2.8M901 2006a2.1 1.8 35 1 0 3.5 2.5a2.1 1.8 35 1 0-3.5-2.5M846 1948a1.6 1.3 35 1 0 2.6 1.8a1.6 1.3 35 1 0-2.6-1.8M857 1962a2.4 2.0 35 1 0 3.9 2.8a2.4 2.0 35 1 0-3.9-2.8M861 1963a1.6 1.3 35 1 0 2.6 1.8a1.6 1.3 35 1 0-2.6-1.8M917 2022a2.1 1.7 35 1 0 3.4 2.4a2.1 1.7 35 1 0-3.4-2.4M943 1989a1.6 1.3 35 1 0 2.5 1.8a1.6 1.3 35 1 0-2.5-1.8M985 2038a2.0 1.7 35 1 0 3.3 2.3a2.0 1.7 35 1 0-3.3-2.3M848 1941a2.3 1.9 35 1 0 3.8 2.7a2.3 1.9 35 1 0-3.8-2.7M956 1988a2.1 1.8 35 1 0 3.5 2.5a2.1 1.8 35 1 0-3.5-2.5M863 1940a2.4 2.0 35 1 0 4.0 2.8a2.4 2.0 35 1 0-4.0-2.8M993 2034a1.8 1.5 35 1 0 2.9 2.1a1.8 1.5 35 1 0-2.9-2.1M992 2053a2.5 2.1 35 1 0 4.1 2.9a2.5 2.1 35 1 0-4.1-2.9" fill="#e83050" opacity=".8"/><path d="M892 1957a2.4 2.0 35 1 0 4.0 2.8a2.4 2.0 35 1 0-4.0-2.8M873 1950a1.9 1.6 35 1 0 3.2 2.2a1.9 1.6 35 1 0-3.2-2.2M893 1951a2.0 1.6 35 1 0 3.2 2.2a2.0 1.6 35 1 0-3.2-2.2M893 1972a1.5 1.3 35 1 0 2.5 1.8a1.5 1.3 35 1 0-2.5-1.8M814 1918a2.5 2.0 35 1 0 4.0 2.8a2.5 2.0 35 1 0-4.0-2.8M855 1937a1.9 1.6 35 1 0 3.1 2.2a1.9 1.6 35 1 0-3.1-2.2M869 1968a2.3 2.0 35 1 0 3.8 2.7a2.3 2.0 35 1 0-3.8-2.7M953 1995a1.7 1.4 35 1 0 2.7 1.9a1.7 1.4 35 1 0-2.7-1.9" fill="#ff4040" opacity="1"/><path d="M952 2045a1.8 1.5 35 1 0 3.0 2.1a1.8 1.5 35 1 0-3.0-2.1M972 2044a2.4 2.0 35 1 0 4.0 2.8a2.4 2.0 35 1 0-4.0-2.8M956 2020a2.0 1.6 35 1 0 3.2 2.3a2.0 1.6 35 1 0-3.2-2.3M922 1980a2.3 2.0 35 1 0 3.8 2.7a2.3 2.0 35 1 0-3.8-2.7M892 1978a1.8 1.5 35 1 0 3.0 2.1a1.8 1.5 35 1 0-3.0-2.1M899 1982a1.7 1.4 35 1 0 2.8 2.0a1.7 1.4 35 1 0-2.8-2.0M853 1943a2.5 2.1 35 1 0 4.1 2.9a2.5 2.1 35 1 0-4.1-2.9M877 1925a1.7 1.4 35 1 0 2.8 2.0a1.7 1.4 35 1 0-2.8-2.0M987 2054a2.4 2.0 35 1 0 3.9 2.7a2.4 2.0 35 1 0-3.9-2.7M979 2026a2.1 1.8 35 1 0 3.5 2.5a2.1 1.8 35 1 0-3.5-2.5M865 1924a1.6 1.3 35 1 0 2.6 1.8a1.6 1.3 35 1 0-2.6-1.8M879 1934a1.5 1.3 35 1 0 2.5 1.7a1.5 1.3 35 1 0-2.5-1.7M881 1971a1.6 1.3 35 1 0 2.6 1.8a1.6 1.3 35 1 0-2.6-1.8M827 1907a2.5 2.0 35 1 0 4.0 2.8a2.5 2.0 35 1 0-4.0-2.8M839 1936a2.0 1.7 35 1 0 3.3 2.3a2.0 1.7 35 1 0-3.3-2.3M861 1938a2.0 1.7 35 1 0 3.3 2.3a2.0 1.7 35 1 0-3.3-2.3M847 1918a1.8 1.5 35 1 0 3.0 2.1a1.8 1.5 35 1 0-3.0-2.1" fill="#ff5a4a" opacity=".5"/><path d="M932 1976a2.4 2.0 35 1 0 4.0 2.8a2.4 2.0 35 1 0-4.0-2.8M824 1901a2.4 2.0 35 1 0 3.9 2.8a2.4 2.0 35 1 0-3.9-2.8M933 1969a1.9 1.6 35 1 0 3.2 2.2a1.9 1.6 35 1 0-3.2-2.2M875 1925a1.7 1.4 35 1 0 2.8 2.0a1.7 1.4 35 1 0-2.8-2.0M908 2008a2.5 2.1 35 1 0 4.1 2.9a2.5 2.1 35 1 0-4.1-2.9M850 1956a2.5 2.0 35 1 0 4.0 2.8a2.5 2.0 35 1 0-4.0-2.8M851 1953a2.5 2.1 35 1 0 4.1 2.8a2.5 2.1 35 1 0-4.1-2.8M888 1935a2.3 1.9 35 1 0 3.8 2.6a2.3 1.9 35 1 0-3.8-2.6" fill="#e83050" opacity="1"/><path d="M863 1918a2.5 2.1 35 1 0 4.1 2.9a2.5 2.1 35 1 0-4.1-2.9M865 1936a1.6 1.3 35 1 0 2.6 1.8a1.6 1.3 35 1 0-2.6-1.8M893 1993a1.6 1.3 35 1 0 2.6 1.8a1.6 1.3 35 1 0-2.6-1.8M967 2005a1.9 1.6 35 1 0 3.1 2.2a1.9 1.6 35 1 0-3.1-2.2M810 1909a1.7 1.4 35 1 0 2.8 2.0a1.7 1.4 35 1 0-2.8-2.0M986 2034a1.9 1.6 35 1 0 3.2 2.2a1.9 1.6 35 1 0-3.2-2.2M986 2047a2.2 1.8 35 1 0 3.5 2.5a2.2 1.8 35 1 0-3.5-2.5M801 1897a2.1 1.7 35 1 0 3.4 2.4a2.1 1.7 35 1 0-3.4-2.4M970 2021a2.0 1.7 35 1 0 3.3 2.3a2.0 1.7 35 1 0-3.3-2.3M914 1956a1.5 1.2 35 1 0 2.4 1.7a1.5 1.2 35 1 0-2.4-1.7M879 1924a2.4 2.0 35 1 0 4.0 2.8a2.4 2.0 35 1 0-4.0-2.8M949 2039a1.5 1.3 35 1 0 2.5 1.8a1.5 1.3 35 1 0-2.5-1.8M920 2006a1.9 1.5 35 1 0 3.0 2.1a1.9 1.5 35 1 0-3.0-2.1" fill="#f0302a" opacity=".5"/><path d="M835 1925a1.9 1.6 35 1 0 3.1 2.2a1.9 1.6 35 1 0-3.1-2.2M941 2024a1.7 1.4 35 1 0 2.8 2.0a1.7 1.4 35 1 0-2.8-2.0M965 2057a2.6 2.2 35 1 0 4.2 3.0a2.6 2.2 35 1 0-4.2-3.0M900 1949a2.3 1.9 35 1 0 3.8 2.7a2.3 1.9 35 1 0-3.8-2.7M958 2045a2.1 1.7 35 1 0 3.4 2.4a2.1 1.7 35 1 0-3.4-2.4M996 2045a2.5 2.1 35 1 0 4.1 2.8a2.5 2.1 35 1 0-4.1-2.8M868 1944a2.4 2.0 35 1 0 4.0 2.8a2.4 2.0 35 1 0-4.0-2.8M866 1921a2.0 1.6 35 1 0 3.2 2.3a2.0 1.6 35 1 0-3.2-2.3M963 2035a2.4 2.0 35 1 0 4.0 2.8a2.4 2.0 35 1 0-4.0-2.8M852 1941a2.6 2.1 35 1 0 4.2 3.0a2.6 2.1 35 1 0-4.2-3.0M853 1955a2.1 1.7 35 1 0 3.4 2.4a2.1 1.7 35 1 0-3.4-2.4M949 1988a1.6 1.4 35 1 0 2.7 1.9a1.6 1.4 35 1 0-2.7-1.9M975 2019a2.2 1.8 35 1 0 3.6 2.5a2.2 1.8 35 1 0-3.6-2.5M968 2032a1.5 1.2 35 1 0 2.4 1.7a1.5 1.2 35 1 0-2.4-1.7M872 1977a1.9 1.6 35 1 0 3.2 2.2a1.9 1.6 35 1 0-3.2-2.2M888 1969a1.5 1.2 35 1 0 2.4 1.7a1.5 1.2 35 1 0-2.4-1.7M922 1960a1.6 1.3 35 1 0 2.6 1.8a1.6 1.3 35 1 0-2.6-1.8M836 1924a1.6 1.4 35 1 0 2.7 1.9a1.6 1.4 35 1 0-2.7-1.9M874 1963a2.3 1.9 35 1 0 3.7 2.6a2.3 1.9 35 1 0-3.7-2.6M909 1965a1.7 1.4 35 1 0 2.8 2.0a1.7 1.4 35 1 0-2.8-2.0M842 1942a2.0 1.7 35 1 0 3.3 2.3a2.0 1.7 35 1 0-3.3-2.3M857 1913a2.5 2.1 35 1 0 4.1 2.9a2.5 2.1 35 1 0-4.1-2.9M952 2043a2.0 1.7 35 1 0 3.3 2.3a2.0 1.7 35 1 0-3.3-2.3M953 2015a2.0 1.7 35 1 0 3.3 2.3a2.0 1.7 35 1 0-3.3-2.3M946 2026a1.5 1.2 35 1 0 2.4 1.7a1.5 1.2 35 1 0-2.4-1.7M917 1969a1.9 1.6 35 1 0 3.1 2.2a1.9 1.6 35 1 0-3.1-2.2" fill="#f0302a" opacity=".8"/><path d="M840 1949a1.8 1.5 35 1 0 3.0 2.1a1.8 1.5 35 1 0-3.0-2.1M808 1899a1.5 1.3 35 1 0 2.5 1.7a1.5 1.3 35 1 0-2.5-1.7M822 1900a2.2 1.8 35 1 0 3.5 2.5a2.2 1.8 35 1 0-3.5-2.5M998 2047a2.6 2.1 35 1 0 4.2 3.0a2.6 2.1 35 1 0-4.2-3.0M1007 2058a2.0 1.7 35 1 0 3.3 2.3a2.0 1.7 35 1 0-3.3-2.3M1001 2051a1.6 1.4 35 1 0 2.7 1.9a1.6 1.4 35 1 0-2.7-1.9M839 1919a1.8 1.5 35 1 0 2.9 2.0a1.8 1.5 35 1 0-2.9-2.0M812 1920a2.2 1.8 35 1 0 3.6 2.5a2.2 1.8 35 1 0-3.6-2.5M867 1945a2.1 1.8 35 1 0 3.5 2.4a2.1 1.8 35 1 0-3.5-2.4M964 1999a1.9 1.6 35 1 0 3.2 2.2a1.9 1.6 35 1 0-3.2-2.2M934 2014a2.3 1.9 35 1 0 3.7 2.6a2.3 1.9 35 1 0-3.7-2.6M915 2001a1.6 1.4 35 1 0 2.7 1.9a1.6 1.4 35 1 0-2.7-1.9M857 1929a2.2 1.9 35 1 0 3.7 2.6a2.2 1.9 35 1 0-3.7-2.6M965 2024a1.5 1.3 35 1 0 2.5 1.8a1.5 1.3 35 1 0-2.5-1.8M889 1965a2.2 1.8 35 1 0 3.6 2.5a2.2 1.8 35 1 0-3.6-2.5" fill="#ff2a2a" opacity=".5"/><path d="M935 1978a2.0 1.6 35 1 0 3.2 2.2a2.0 1.6 35 1 0-3.2-2.2M843 1915a1.9 1.5 35 1 0 3.0 2.1a1.9 1.5 35 1 0-3.0-2.1M839 1937a1.5 1.3 35 1 0 2.5 1.7a1.5 1.3 35 1 0-2.5-1.7M917 1963a1.8 1.5 35 1 0 2.9 2.0a1.8 1.5 35 1 0-2.9-2.0M986 2032a2.2 1.8 35 1 0 3.5 2.5a2.2 1.8 35 1 0-3.5-2.5M879 1943a2.1 1.7 35 1 0 3.4 2.4a2.1 1.7 35 1 0-3.4-2.4M875 1967a2.5 2.1 35 1 0 4.2 2.9a2.5 2.1 35 1 0-4.2-2.9M904 1997a2.4 2.0 35 1 0 3.9 2.7a2.4 2.0 35 1 0-3.9-2.7" fill="#f0302a" opacity="1"/><path d="M998 2050a2.3 2.0 35 1 0 3.8 2.7a2.3 2.0 35 1 0-3.8-2.7M895 1943a2.4 2.0 35 1 0 3.9 2.8a2.4 2.0 35 1 0-3.9-2.8M870 1978a2.5 2.1 35 1 0 4.2 2.9a2.5 2.1 35 1 0-4.2-2.9M926 2014a2.0 1.7 35 1 0 3.3 2.3a2.0 1.7 35 1 0-3.3-2.3M944 1989a1.7 1.4 35 1 0 2.8 1.9a1.7 1.4 35 1 0-2.8-1.9M946 2021a1.7 1.4 35 1 0 2.8 2.0a1.7 1.4 35 1 0-2.8-2.0M933 1992a1.6 1.4 35 1 0 2.7 1.9a1.6 1.4 35 1 0-2.7-1.9M825 1907a2.4 2.0 35 1 0 3.9 2.8a2.4 2.0 35 1 0-3.9-2.8M886 1961a2.3 2.0 35 1 0 3.8 2.7a2.3 2.0 35 1 0-3.8-2.7M874 1954a2.6 2.2 35 1 0 4.2 3.0a2.6 2.2 35 1 0-4.2-3.0M861 1967a1.5 1.2 35 1 0 2.4 1.7a1.5 1.2 35 1 0-2.4-1.7M903 1989a1.8 1.5 35 1 0 2.9 2.0a1.8 1.5 35 1 0-2.9-2.0" fill="#ff4040" opacity=".5"/><path d="M950 1999a1.5 1.3 35 1 0 2.5 1.8a1.5 1.3 35 1 0-2.5-1.8M854 1949a2.5 2.0 35 1 0 4.0 2.8a2.5 2.0 35 1 0-4.0-2.8M846 1936a1.7 1.4 35 1 0 2.8 1.9a1.7 1.4 35 1 0-2.8-1.9M889 1960a1.5 1.3 35 1 0 2.5 1.7a1.5 1.3 35 1 0-2.5-1.7M969 2012a2.1 1.8 35 1 0 3.5 2.4a2.1 1.8 35 1 0-3.5-2.4M937 2040a2.1 1.8 35 1 0 3.5 2.4a2.1 1.8 35 1 0-3.5-2.4M870 1923a2.0 1.6 35 1 0 3.2 2.2a2.0 1.6 35 1 0-3.2-2.2M892 1988a1.7 1.4 35 1 0 2.7 1.9a1.7 1.4 35 1 0-2.7-1.9M931 1993a2.3 1.9 35 1 0 3.7 2.6a2.3 1.9 35 1 0-3.7-2.6" fill="#ff5a4a" opacity="1"/></g>
<g filter="url(#b1)"><path d="M1064 2103a2.2 1.9 35 1 0 3.7 2.6a2.2 1.9 35 1 0-3.7-2.6M1038 2120a2.6 2.1 35 1 0 4.2 3.0a2.6 2.1 35 1 0-4.2-3.0M1001 2104a2.0 1.6 35 1 0 3.2 2.3a2.0 1.6 35 1 0-3.2-2.3M1063 2128a2.5 2.1 35 1 0 4.2 2.9a2.5 2.1 35 1 0-4.2-2.9M987 2063a1.6 1.4 35 1 0 2.7 1.9a1.6 1.4 35 1 0-2.7-1.9M1034 2046a2.5 2.1 35 1 0 4.1 2.9a2.5 2.1 35 1 0-4.1-2.9M1015 2060a2.3 1.9 35 1 0 3.7 2.6a2.3 1.9 35 1 0-3.7-2.6M1051 2073a2.4 2.0 35 1 0 4.0 2.8a2.4 2.0 35 1 0-4.0-2.8M1013 2033a2.1 1.7 35 1 0 3.4 2.4a2.1 1.7 35 1 0-3.4-2.4M1046 2146a1.7 1.4 35 1 0 2.8 1.9a1.7 1.4 35 1 0-2.8-1.9M1071 2095a2.5 2.1 35 1 0 4.1 2.9a2.5 2.1 35 1 0-4.1-2.9M985 2062a1.8 1.5 35 1 0 3.0 2.1a1.8 1.5 35 1 0-3.0-2.1M1030 2030a2.5 2.1 35 1 0 4.1 2.9a2.5 2.1 35 1 0-4.1-2.9M985 2031a1.7 1.4 35 1 0 2.7 1.9a1.7 1.4 35 1 0-2.7-1.9M996 2071a1.8 1.5 35 1 0 3.0 2.1a1.8 1.5 35 1 0-3.0-2.1M1037 2088a1.7 1.5 35 1 0 2.9 2.0a1.7 1.5 35 1 0-2.9-2.0M988 2087a2.1 1.7 35 1 0 3.4 2.4a2.1 1.7 35 1 0-3.4-2.4M1015 2046a2.0 1.6 35 1 0 3.2 2.3a2.0 1.6 35 1 0-3.2-2.3M988 2058a2.3 1.9 35 1 0 3.7 2.6a2.3 1.9 35 1 0-3.7-2.6M985 2063a1.6 1.3 35 1 0 2.6 1.8a1.6 1.3 35 1 0-2.6-1.8M1054 2080a1.7 1.4 35 1 0 2.8 1.9a1.7 1.4 35 1 0-2.8-1.9M984 2052a2.1 1.8 35 1 0 3.5 2.4a2.1 1.8 35 1 0-3.5-2.4M1071 2106a2.5 2.1 35 1 0 4.2 2.9a2.5 2.1 35 1 0-4.2-2.9M1001 2052a2.6 2.2 35 1 0 4.2 3.0a2.6 2.2 35 1 0-4.2-3.0M1007 2069a2.6 2.2 35 1 0 4.3 3.0a2.6 2.2 35 1 0-4.3-3.0M1028 2073a2.4 2.0 35 1 0 3.9 2.7a2.4 2.0 35 1 0-3.9-2.7M1072 2094a2.0 1.7 35 1 0 3.3 2.3a2.0 1.7 35 1 0-3.3-2.3" fill="#a6e06a" opacity=".5"/><path d="M1042 2131a1.8 1.5 35 1 0 3.0 2.1a1.8 1.5 35 1 0-3.0-2.1M1063 2082a1.5 1.2 35 1 0 2.4 1.7a1.5 1.2 35 1 0-2.4-1.7M1022 2106a1.6 1.3 35 1 0 2.6 1.8a1.6 1.3 35 1 0-2.6-1.8M1045 2140a1.6 1.3 35 1 0 2.6 1.8a1.6 1.3 35 1 0-2.6-1.8M1073 2115a1.9 1.6 35 1 0 3.1 2.1a1.9 1.6 35 1 0-3.1-2.1M973 2039a2.4 2.0 35 1 0 3.9 2.8a2.4 2.0 35 1 0-3.9-2.8M1051 2056a2.5 2.1 35 1 0 4.1 2.8a2.5 2.1 35 1 0-4.1-2.8M1036 2138a2.5 2.1 35 1 0 4.1 2.9a2.5 2.1 35 1 0-4.1-2.9M982 2031a1.8 1.5 35 1 0 3.0 2.1a1.8 1.5 35 1 0-3.0-2.1M1036 2070a1.9 1.6 35 1 0 3.1 2.2a1.9 1.6 35 1 0-3.1-2.2M1045 2063a1.9 1.6 35 1 0 3.2 2.2a1.9 1.6 35 1 0-3.2-2.2M1007 2063a2.2 1.8 35 1 0 3.6 2.5a2.2 1.8 35 1 0-3.6-2.5M1056 2130a2.6 2.1 35 1 0 4.2 3.0a2.6 2.1 35 1 0-4.2-3.0M1007 2114a2.3 1.9 35 1 0 3.7 2.6a2.3 1.9 35 1 0-3.7-2.6M1036 2098a1.7 1.4 35 1 0 2.8 2.0a1.7 1.4 35 1 0-2.8-2.0M1032 2078a2.3 1.9 35 1 0 3.7 2.6a2.3 1.9 35 1 0-3.7-2.6M1077 2090a2.4 2.0 35 1 0 4.0 2.8a2.4 2.0 35 1 0-4.0-2.8M997 2105a2.0 1.7 35 1 0 3.3 2.3a2.0 1.7 35 1 0-3.3-2.3M1023 2115a2.0 1.7 35 1 0 3.3 2.3a2.0 1.7 35 1 0-3.3-2.3M1016 2040a2.3 1.9 35 1 0 3.7 2.6a2.3 1.9 35 1 0-3.7-2.6M1059 2130a1.5 1.3 35 1 0 2.5 1.7a1.5 1.3 35 1 0-2.5-1.7M988 2067a2.5 2.1 35 1 0 4.1 2.9a2.5 2.1 35 1 0-4.1-2.9M1048 2094a2.3 1.9 35 1 0 3.8 2.7a2.3 1.9 35 1 0-3.8-2.7M1021 2090a1.6 1.3 35 1 0 2.6 1.8a1.6 1.3 35 1 0-2.6-1.8M1048 2107a2.4 2.0 35 1 0 3.9 2.7a2.4 2.0 35 1 0-3.9-2.7M985 2037a2.3 1.9 35 1 0 3.8 2.7a2.3 1.9 35 1 0-3.8-2.7M1008 2096a1.9 1.6 35 1 0 3.1 2.2a1.9 1.6 35 1 0-3.1-2.2M1041 2140a2.2 1.9 35 1 0 3.7 2.6a2.2 1.9 35 1 0-3.7-2.6" fill="#48b848" opacity=".5"/><path d="M1001 2068a1.6 1.3 35 1 0 2.6 1.8a1.6 1.3 35 1 0-2.6-1.8M1062 2079a2.4 2.0 35 1 0 3.9 2.8a2.4 2.0 35 1 0-3.9-2.8M1007 2079a1.9 1.6 35 1 0 3.1 2.2a1.9 1.6 35 1 0-3.1-2.2M1037 2070a2.0 1.7 35 1 0 3.3 2.3a2.0 1.7 35 1 0-3.3-2.3M985 2078a2.5 2.1 35 1 0 4.1 2.9a2.5 2.1 35 1 0-4.1-2.9M1031 2123a1.7 1.4 35 1 0 2.7 1.9a1.7 1.4 35 1 0-2.7-1.9M1000 2108a2.1 1.8 35 1 0 3.5 2.4a2.1 1.8 35 1 0-3.5-2.4M1046 2119a2.0 1.7 35 1 0 3.2 2.3a2.0 1.7 35 1 0-3.2-2.3M998 2067a2.1 1.7 35 1 0 3.4 2.4a2.1 1.7 35 1 0-3.4-2.4M1044 2134a2.4 2.0 35 1 0 3.9 2.7a2.4 2.0 35 1 0-3.9-2.7M1027 2100a2.6 2.2 35 1 0 4.3 3.0a2.6 2.2 35 1 0-4.3-3.0M1043 2089a2.5 2.1 35 1 0 4.1 2.9a2.5 2.1 35 1 0-4.1-2.9M1014 2119a1.9 1.6 35 1 0 3.2 2.2a1.9 1.6 35 1 0-3.2-2.2M1025 2060a1.6 1.3 35 1 0 2.6 1.8a1.6 1.3 35 1 0-2.6-1.8M1022 2124a1.6 1.3 35 1 0 2.6 1.8a1.6 1.3 35 1 0-2.6-1.8M1060 2108a2.5 2.1 35 1 0 4.1 2.9a2.5 2.1 35 1 0-4.1-2.9M1045 2131a2.1 1.8 35 1 0 3.5 2.4a2.1 1.8 35 1 0-3.5-2.4M988 2058a1.7 1.5 35 1 0 2.9 2.0a1.7 1.5 35 1 0-2.9-2.0M1048 2076a2.0 1.7 35 1 0 3.3 2.3a2.0 1.7 35 1 0-3.3-2.3M1065 2084a2.0 1.7 35 1 0 3.3 2.3a2.0 1.7 35 1 0-3.3-2.3M1076 2124a2.1 1.7 35 1 0 3.4 2.4a2.1 1.7 35 1 0-3.4-2.4M1056 2061a1.6 1.3 35 1 0 2.6 1.8a1.6 1.3 35 1 0-2.6-1.8M1037 2122a1.6 1.3 35 1 0 2.5 1.8a1.6 1.3 35 1 0-2.5-1.8M1019 2094a1.6 1.3 35 1 0 2.6 1.8a1.6 1.3 35 1 0-2.6-1.8" fill="#7cd35a" opacity=".8"/><path d="M1049 2051a1.9 1.6 35 1 0 3.1 2.2a1.9 1.6 35 1 0-3.1-2.2M977 2037a2.1 1.8 35 1 0 3.5 2.5a2.1 1.8 35 1 0-3.5-2.5M993 2061a2.6 2.2 35 1 0 4.2 3.0a2.6 2.2 35 1 0-4.2-3.0M1019 2063a1.7 1.4 35 1 0 2.8 2.0a1.7 1.4 35 1 0-2.8-2.0M1008 2095a2.5 2.1 35 1 0 4.1 2.9a2.5 2.1 35 1 0-4.1-2.9M979 2044a1.5 1.3 35 1 0 2.5 1.8a1.5 1.3 35 1 0-2.5-1.8M1044 2110a1.8 1.5 35 1 0 2.9 2.0a1.8 1.5 35 1 0-2.9-2.0M1012 2080a2.4 2.0 35 1 0 3.9 2.7a2.4 2.0 35 1 0-3.9-2.7M1028 2104a2.4 2.0 35 1 0 4.0 2.8a2.4 2.0 35 1 0-4.0-2.8M983 2073a1.6 1.4 35 1 0 2.7 1.9a1.6 1.4 35 1 0-2.7-1.9M1000 2060a2.5 2.1 35 1 0 4.1 2.9a2.5 2.1 35 1 0-4.1-2.9M1038 2139a2.5 2.1 35 1 0 4.1 2.9a2.5 2.1 35 1 0-4.1-2.9M1059 2121a1.9 1.6 35 1 0 3.1 2.2a1.9 1.6 35 1 0-3.1-2.2M1054 2137a2.2 1.8 35 1 0 3.5 2.5a2.2 1.8 35 1 0-3.5-2.5M1033 2049a1.6 1.3 35 1 0 2.6 1.8a1.6 1.3 35 1 0-2.6-1.8M992 2111a1.6 1.3 35 1 0 2.5 1.8a1.6 1.3 35 1 0-2.5-1.8M1022 2112a1.7 1.4 35 1 0 2.7 1.9a1.7 1.4 35 1 0-2.7-1.9M992 2055a2.0 1.7 35 1 0 3.3 2.3a2.0 1.7 35 1 0-3.3-2.3M1056 2099a2.4 2.0 35 1 0 3.9 2.7a2.4 2.0 35 1 0-3.9-2.7M1038 2051a1.8 1.5 35 1 0 2.9 2.1a1.8 1.5 35 1 0-2.9-2.1M1047 2060a2.6 2.1 35 1 0 4.2 3.0a2.6 2.1 35 1 0-4.2-3.0M1047 2082a2.1 1.7 35 1 0 3.4 2.4a2.1 1.7 35 1 0-3.4-2.4M1051 2057a1.8 1.5 35 1 0 2.9 2.0a1.8 1.5 35 1 0-2.9-2.0M1040 2137a1.7 1.4 35 1 0 2.7 1.9a1.7 1.4 35 1 0-2.7-1.9M983 2069a1.7 1.4 35 1 0 2.8 2.0a1.7 1.4 35 1 0-2.8-2.0M1048 2142a2.5 2.1 35 1 0 4.1 2.9a2.5 2.1 35 1 0-4.1-2.9M1061 2081a2.1 1.7 35 1 0 3.4 2.4a2.1 1.7 35 1 0-3.4-2.4M1036 2047a1.4 1.2 35 1 0 2.4 1.7a1.4 1.2 35 1 0-2.4-1.7M1010 2072a2.0 1.6 35 1 0 3.2 2.2a2.0 1.6 35 1 0-3.2-2.2" fill="#7cd35a" opacity=".5"/><path d="M1068 2111a1.4 1.2 35 1 0 2.4 1.7a1.4 1.2 35 1 0-2.4-1.7M1002 2090a2.6 2.2 35 1 0 4.2 3.0a2.6 2.2 35 1 0-4.2-3.0M1034 2101a2.1 1.7 35 1 0 3.4 2.4a2.1 1.7 35 1 0-3.4-2.4M1010 2117a1.7 1.4 35 1 0 2.8 1.9a1.7 1.4 35 1 0-2.8-1.9M1042 2044a2.0 1.6 35 1 0 3.2 2.3a2.0 1.6 35 1 0-3.2-2.3M1064 2101a1.4 1.2 35 1 0 2.4 1.7a1.4 1.2 35 1 0-2.4-1.7M992 2107a2.4 2.0 35 1 0 3.9 2.8a2.4 2.0 35 1 0-3.9-2.8M1028 2069a2.5 2.1 35 1 0 4.1 2.9a2.5 2.1 35 1 0-4.1-2.9M1023 2056a2.3 1.9 35 1 0 3.8 2.7a2.3 1.9 35 1 0-3.8-2.7M1062 2120a1.9 1.6 35 1 0 3.1 2.2a1.9 1.6 35 1 0-3.1-2.2M1078 2114a1.7 1.4 35 1 0 2.7 1.9a1.7 1.4 35 1 0-2.7-1.9M1050 2119a2.3 1.9 35 1 0 3.8 2.7a2.3 1.9 35 1 0-3.8-2.7M998 2116a2.5 2.1 35 1 0 4.1 2.9a2.5 2.1 35 1 0-4.1-2.9M993 2095a2.4 2.0 35 1 0 3.9 2.8a2.4 2.0 35 1 0-3.9-2.8M1038 2137a2.5 2.1 35 1 0 4.1 2.9a2.5 2.1 35 1 0-4.1-2.9M1066 2091a1.8 1.5 35 1 0 3.0 2.1a1.8 1.5 35 1 0-3.0-2.1M1040 2088a1.7 1.4 35 1 0 2.8 2.0a1.7 1.4 35 1 0-2.8-2.0M1009 2101a2.5 2.1 35 1 0 4.0 2.8a2.5 2.1 35 1 0-4.0-2.8M1043 2095a1.7 1.4 35 1 0 2.8 2.0a1.7 1.4 35 1 0-2.8-2.0M1034 2118a1.9 1.6 35 1 0 3.1 2.2a1.9 1.6 35 1 0-3.1-2.2" fill="#48b848" opacity=".8"/><path d="M1064 2073a1.5 1.3 35 1 0 2.5 1.7a1.5 1.3 35 1 0-2.5-1.7M1053 2115a1.8 1.5 35 1 0 3.0 2.1a1.8 1.5 35 1 0-3.0-2.1M1022 2109a1.9 1.6 35 1 0 3.2 2.2a1.9 1.6 35 1 0-3.2-2.2M1052 2058a1.7 1.4 35 1 0 2.8 2.0a1.7 1.4 35 1 0-2.8-2.0M990 2087a2.5 2.1 35 1 0 4.1 2.8a2.5 2.1 35 1 0-4.1-2.8M1035 2087a2.2 1.8 35 1 0 3.5 2.5a2.2 1.8 35 1 0-3.5-2.5M1045 2042a2.2 1.8 35 1 0 3.5 2.5a2.2 1.8 35 1 0-3.5-2.5M1024 2068a2.0 1.7 35 1 0 3.4 2.3a2.0 1.7 35 1 0-3.4-2.3M1015 2127a2.5 2.0 35 1 0 4.0 2.8a2.5 2.0 35 1 0-4.0-2.8M1070 2120a2.5 2.1 35 1 0 4.1 2.9a2.5 2.1 35 1 0-4.1-2.9M1024 2094a1.8 1.5 35 1 0 3.0 2.1a1.8 1.5 35 1 0-3.0-2.1M1005 2062a1.7 1.4 35 1 0 2.8 2.0a1.7 1.4 35 1 0-2.8-2.0M1066 2127a2.0 1.7 35 1 0 3.3 2.3a2.0 1.7 35 1 0-3.3-2.3M1023 2077a1.7 1.5 35 1 0 2.9 2.0a1.7 1.5 35 1 0-2.9-2.0M1003 2101a1.5 1.2 35 1 0 2.4 1.7a1.5 1.2 35 1 0-2.4-1.7M1070 2109a2.5 2.1 35 1 0 4.1 2.9a2.5 2.1 35 1 0-4.1-2.9M1071 2084a1.5 1.2 35 1 0 2.4 1.7a1.5 1.2 35 1 0-2.4-1.7M1052 2137a2.2 1.8 35 1 0 3.6 2.5a2.2 1.8 35 1 0-3.6-2.5" fill="#5fcf50" opacity=".8"/><path d="M1055 2096a2.1 1.7 35 1 0 3.4 2.4a2.1 1.7 35 1 0-3.4-2.4M1070 2105a1.6 1.3 35 1 0 2.5 1.8a1.6 1.3 35 1 0-2.5-1.8M978 2054a1.9 1.6 35 1 0 3.1 2.1a1.9 1.6 35 1 0-3.1-2.1M1017 2043a2.2 1.8 35 1 0 3.6 2.5a2.2 1.8 35 1 0-3.6-2.5M1021 2072a1.9 1.6 35 1 0 3.1 2.2a1.9 1.6 35 1 0-3.1-2.2M994 2112a2.6 2.2 35 1 0 4.3 3.0a2.6 2.2 35 1 0-4.3-3.0M978 2059a2.6 2.1 35 1 0 4.2 2.9a2.6 2.1 35 1 0-4.2-2.9M997 2041a1.8 1.5 35 1 0 2.9 2.0a1.8 1.5 35 1 0-2.9-2.0M1034 2081a1.8 1.5 35 1 0 2.9 2.0a1.8 1.5 35 1 0-2.9-2.0M1052 2088a1.5 1.2 35 1 0 2.5 1.7a1.5 1.2 35 1 0-2.5-1.7M1048 2094a1.8 1.5 35 1 0 3.0 2.1a1.8 1.5 35 1 0-3.0-2.1M1021 2065a2.3 1.9 35 1 0 3.8 2.6a2.3 1.9 35 1 0-3.8-2.6M1046 2095a2.4 2.0 35 1 0 4.0 2.8a2.4 2.0 35 1 0-4.0-2.8M1042 2096a1.7 1.4 35 1 0 2.7 1.9a1.7 1.4 35 1 0-2.7-1.9M1025 2071a1.9 1.6 35 1 0 3.1 2.2a1.9 1.6 35 1 0-3.1-2.2M985 2076a2.5 2.1 35 1 0 4.1 2.9a2.5 2.1 35 1 0-4.1-2.9M1030 2082a2.1 1.7 35 1 0 3.4 2.4a2.1 1.7 35 1 0-3.4-2.4M1020 2121a1.5 1.2 35 1 0 2.4 1.7a1.5 1.2 35 1 0-2.4-1.7M1017 2097a2.0 1.6 35 1 0 3.2 2.3a2.0 1.6 35 1 0-3.2-2.3M992 2059a1.5 1.3 35 1 0 2.5 1.7a1.5 1.3 35 1 0-2.5-1.7M1020 2104a1.5 1.3 35 1 0 2.5 1.8a1.5 1.3 35 1 0-2.5-1.8M1075 2089a1.8 1.5 35 1 0 2.9 2.1a1.8 1.5 35 1 0-2.9-2.1M997 2045a2.2 1.8 35 1 0 3.5 2.5a2.2 1.8 35 1 0-3.5-2.5M1015 2042a1.7 1.4 35 1 0 2.7 1.9a1.7 1.4 35 1 0-2.7-1.9" fill="#5fcf50" opacity=".5"/><path d="M1028 2031a2.1 1.8 35 1 0 3.5 2.4a2.1 1.8 35 1 0-3.5-2.4M1011 2106a1.5 1.2 35 1 0 2.4 1.7a1.5 1.2 35 1 0-2.4-1.7M1058 2074a2.2 1.8 35 1 0 3.6 2.5a2.2 1.8 35 1 0-3.6-2.5M1014 2047a2.0 1.7 35 1 0 3.3 2.3a2.0 1.7 35 1 0-3.3-2.3M1021 2073a2.1 1.8 35 1 0 3.5 2.4a2.1 1.8 35 1 0-3.5-2.4M1042 2124a2.6 2.2 35 1 0 4.3 3.0a2.6 2.2 35 1 0-4.3-3.0M1034 2140a2.3 1.9 35 1 0 3.8 2.7a2.3 1.9 35 1 0-3.8-2.7M1073 2099a2.3 1.9 35 1 0 3.8 2.6a2.3 1.9 35 1 0-3.8-2.6M1038 2067a1.8 1.5 35 1 0 3.0 2.1a1.8 1.5 35 1 0-3.0-2.1M1027 2091a1.8 1.5 35 1 0 3.0 2.1a1.8 1.5 35 1 0-3.0-2.1M1036 2105a1.5 1.2 35 1 0 2.4 1.7a1.5 1.2 35 1 0-2.4-1.7M1011 2065a2.1 1.8 35 1 0 3.5 2.5a2.1 1.8 35 1 0-3.5-2.5M1051 2102a1.4 1.2 35 1 0 2.4 1.7a1.4 1.2 35 1 0-2.4-1.7M1014 2114a1.7 1.4 35 1 0 2.8 2.0a1.7 1.4 35 1 0-2.8-2.0M1032 2095a1.8 1.5 35 1 0 2.9 2.0a1.8 1.5 35 1 0-2.9-2.0M1031 2134a1.7 1.4 35 1 0 2.7 1.9a1.7 1.4 35 1 0-2.7-1.9M1007 2053a1.6 1.4 35 1 0 2.7 1.9a1.6 1.4 35 1 0-2.7-1.9M1035 2033a1.5 1.2 35 1 0 2.4 1.7a1.5 1.2 35 1 0-2.4-1.7M1032 2114a1.9 1.5 35 1 0 3.0 2.1a1.9 1.5 35 1 0-3.0-2.1M1053 2138a2.4 2.0 35 1 0 4.0 2.8a2.4 2.0 35 1 0-4.0-2.8" fill="#a6e06a" opacity=".8"/><path d="M1024 2085a2.3 1.9 35 1 0 3.7 2.6a2.3 1.9 35 1 0-3.7-2.6M1002 2084a2.3 1.9 35 1 0 3.8 2.7a2.3 1.9 35 1 0-3.8-2.7M1072 2100a1.5 1.3 35 1 0 2.5 1.7a1.5 1.3 35 1 0-2.5-1.7" fill="#a6e06a" opacity=".2"/><path d="M1023 2047a1.6 1.4 35 1 0 2.7 1.9a1.6 1.4 35 1 0-2.7-1.9M1067 2136a1.8 1.5 35 1 0 2.9 2.0a1.8 1.5 35 1 0-2.9-2.0M1009 2076a2.2 1.8 35 1 0 3.6 2.5a2.2 1.8 35 1 0-3.6-2.5" fill="#7cd35a" opacity=".2"/><path d="M1012 2111a2.2 1.8 35 1 0 3.5 2.5a2.2 1.8 35 1 0-3.5-2.5M988 2090a2.6 2.1 35 1 0 4.2 3.0a2.6 2.1 35 1 0-4.2-3.0M1020 2084a2.6 2.2 35 1 0 4.2 3.0a2.6 2.2 35 1 0-4.2-3.0M1068 2078a2.6 2.1 35 1 0 4.2 2.9a2.6 2.1 35 1 0-4.2-2.9" fill="#48b848" opacity=".2"/></g>
<path d="M1056 1834a2.9 1.9 35 1 0 4.7 3.3a2.9 1.9 35 1 0-4.7-3.3M1066 1880a3.0 2.0 35 1 0 4.9 3.5a3.0 2.0 35 1 0-4.9-3.5M1107 1879a3.1 2.0 35 1 0 5.0 3.5a3.1 2.0 35 1 0-5.0-3.5M1077 1846a2.6 1.7 35 1 0 4.2 2.9a2.6 1.7 35 1 0-4.2-2.9" fill="#48b848" opacity=".8"/><path d="M1092 1841a2.6 1.7 35 1 0 4.3 3.0a2.6 1.7 35 1 0-4.3-3.0M1094 1856a3.2 2.1 35 1 0 5.3 3.7a3.2 2.1 35 1 0-5.3-3.7M1090 1844a2.5 1.7 35 1 0 4.2 2.9a2.5 1.7 35 1 0-4.2-2.9M1058 1866a3.1 2.1 35 1 0 5.0 3.5a3.1 2.1 35 1 0-5.0-3.5M1109 1871a2.9 2.0 35 1 0 4.8 3.4a2.9 2.0 35 1 0-4.8-3.4M1062 1872a2.5 1.6 35 1 0 4.0 2.8a2.5 1.6 35 1 0-4.0-2.8" fill="#7cd35a" opacity=".8"/><path d="M1065 1875a3.1 2.0 35 1 0 5.0 3.5a3.1 2.0 35 1 0-5.0-3.5M1015 1837a2.7 1.8 35 1 0 4.5 3.1a2.7 1.8 35 1 0-4.5-3.1M1019 1847a2.2 1.5 35 1 0 3.6 2.5a2.2 1.5 35 1 0-3.6-2.5M1153 1882a2.1 1.4 35 1 0 3.5 2.4a2.1 1.4 35 1 0-3.5-2.4M1132 1846a3.3 2.2 35 1 0 5.3 3.7a3.3 2.2 35 1 0-5.3-3.7M1006 1835a2.3 1.5 35 1 0 3.7 2.6a2.3 1.5 35 1 0-3.7-2.6M1091 1836a2.8 1.9 35 1 0 4.6 3.2a2.8 1.9 35 1 0-4.6-3.2M1044 1854a2.7 1.8 35 1 0 4.4 3.1a2.7 1.8 35 1 0-4.4-3.1M1161 1838a3.1 2.1 35 1 0 5.1 3.6a3.1 2.1 35 1 0-5.1-3.6M1147 1848a2.2 1.4 35 1 0 3.6 2.5a2.2 1.4 35 1 0-3.6-2.5M1112 1882a3.3 2.2 35 1 0 5.3 3.7a3.3 2.2 35 1 0-5.3-3.7M1046 1874a2.4 1.6 35 1 0 3.9 2.7a2.4 1.6 35 1 0-3.9-2.7" fill="#a6e06a" opacity=".5"/><path d="M1137 1888a2.6 1.7 35 1 0 4.3 3.0a2.6 1.7 35 1 0-4.3-3.0M1091 1877a2.6 1.7 35 1 0 4.2 2.9a2.6 1.7 35 1 0-4.2-2.9M1163 1848a2.9 1.9 35 1 0 4.8 3.3a2.9 1.9 35 1 0-4.8-3.3M1038 1858a3.3 2.2 35 1 0 5.4 3.7a3.3 2.2 35 1 0-5.4-3.7M1126 1863a3.0 2.0 35 1 0 4.9 3.4a3.0 2.0 35 1 0-4.9-3.4M1056 1840a2.2 1.5 35 1 0 3.7 2.6a2.2 1.5 35 1 0-3.7-2.6" fill="#5fcf50" opacity=".8"/><path d="M1030 1856a2.8 1.8 35 1 0 4.5 3.2a2.8 1.8 35 1 0-4.5-3.2M1092 1848a2.4 1.6 35 1 0 3.9 2.8a2.4 1.6 35 1 0-3.9-2.8M1151 1860a2.2 1.5 35 1 0 3.6 2.5a2.2 1.5 35 1 0-3.6-2.5M1060 1876a3.0 2.0 35 1 0 4.9 3.5a3.0 2.0 35 1 0-4.9-3.5" fill="#48b848" opacity=".5"/><path d="M1166 1876a3.3 2.2 35 1 0 5.4 3.8a3.3 2.2 35 1 0-5.4-3.8M1110 1844a2.9 1.9 35 1 0 4.8 3.4a2.9 1.9 35 1 0-4.8-3.4M1112 1851a3.3 2.2 35 1 0 5.4 3.8a3.3 2.2 35 1 0-5.4-3.8M1042 1835a2.5 1.7 35 1 0 4.1 2.9a2.5 1.7 35 1 0-4.1-2.9M1057 1844a3.4 2.3 35 1 0 5.6 3.9a3.4 2.3 35 1 0-5.6-3.9M1143 1831a2.9 1.9 35 1 0 4.8 3.3a2.9 1.9 35 1 0-4.8-3.3M1124 1874a2.5 1.6 35 1 0 4.1 2.8a2.5 1.6 35 1 0-4.1-2.8M1112 1877a2.6 1.7 35 1 0 4.2 3.0a2.6 1.7 35 1 0-4.2-3.0M1064 1859a2.5 1.7 35 1 0 4.2 2.9a2.5 1.7 35 1 0-4.2-2.9M1058 1872a2.2 1.5 35 1 0 3.6 2.5a2.2 1.5 35 1 0-3.6-2.5M1061 1852a3.3 2.2 35 1 0 5.4 3.8a3.3 2.2 35 1 0-5.4-3.8M1111 1859a2.2 1.5 35 1 0 3.6 2.5a2.2 1.5 35 1 0-3.6-2.5" fill="#5fcf50" opacity=".5"/><path d="M1070 1873a3.1 2.0 35 1 0 5.0 3.5a3.1 2.0 35 1 0-5.0-3.5M1027 1830a3.3 2.2 35 1 0 5.5 3.8a3.3 2.2 35 1 0-5.5-3.8M1088 1847a2.8 1.8 35 1 0 4.5 3.2a2.8 1.8 35 1 0-4.5-3.2M1082 1839a3.0 2.0 35 1 0 4.9 3.4a3.0 2.0 35 1 0-4.9-3.4M1161 1888a2.7 1.8 35 1 0 4.5 3.1a2.7 1.8 35 1 0-4.5-3.1M1147 1849a3.1 2.0 35 1 0 5.0 3.5a3.1 2.0 35 1 0-5.0-3.5M1087 1846a2.5 1.7 35 1 0 4.1 2.9a2.5 1.7 35 1 0-4.1-2.9" fill="#a6e06a" opacity=".8"/><path d="M1045 1831a2.1 1.4 35 1 0 3.5 2.5a2.1 1.4 35 1 0-3.5-2.5M1078 1855a3.3 2.2 35 1 0 5.4 3.8a3.3 2.2 35 1 0-5.4-3.8" fill="#7cd35a" opacity=".2"/><path d="M1158 1858a3.0 2.0 35 1 0 4.9 3.4a3.0 2.0 35 1 0-4.9-3.4" fill="#a6e06a" opacity=".2"/><path d="M1078 1869a3.2 2.1 35 1 0 5.2 3.6a3.2 2.1 35 1 0-5.2-3.6M1033 1859a3.3 2.2 35 1 0 5.5 3.8a3.3 2.2 35 1 0-5.5-3.8M1023 1831a2.9 2.0 35 1 0 4.8 3.4a2.9 2.0 35 1 0-4.8-3.4M1104 1847a3.0 2.0 35 1 0 4.9 3.5a3.0 2.0 35 1 0-4.9-3.5M1136 1861a2.6 1.7 35 1 0 4.3 3.0a2.6 1.7 35 1 0-4.3-3.0M1144 1875a2.8 1.8 35 1 0 4.5 3.2a2.8 1.8 35 1 0-4.5-3.2" fill="#7cd35a" opacity=".5"/>
<path d="M1130 2180a2.2 1.4 35 1 0 3.5 2.5a2.2 1.4 35 1 0-3.5-2.5M1104 2158a2.5 1.7 35 1 0 4.2 2.9a2.5 1.7 35 1 0-4.2-2.9M1132 2210a3.3 2.2 35 1 0 5.4 3.8a3.3 2.2 35 1 0-5.4-3.8M1116 2178a3.1 2.0 35 1 0 5.0 3.5a3.1 2.0 35 1 0-5.0-3.5M1161 2148a2.6 1.7 35 1 0 4.2 2.9a2.6 1.7 35 1 0-4.2-2.9" fill="#7cd35a" opacity=".8"/><path d="M1091 2151a2.4 1.6 35 1 0 4.0 2.8a2.4 1.6 35 1 0-4.0-2.8M1101 2150a3.0 2.0 35 1 0 5.0 3.5a3.0 2.0 35 1 0-5.0-3.5M1128 2193a3.0 2.0 35 1 0 4.9 3.5a3.0 2.0 35 1 0-4.9-3.5M1168 2204a2.5 1.7 35 1 0 4.1 2.9a2.5 1.7 35 1 0-4.1-2.9" fill="#a6e06a" opacity=".8"/><path d="M1113 2197a2.6 1.7 35 1 0 4.3 3.0a2.6 1.7 35 1 0-4.3-3.0M1118 2184a3.4 2.3 35 1 0 5.6 3.9a3.4 2.3 35 1 0-5.6-3.9M1112 2148a2.2 1.4 35 1 0 3.5 2.5a2.2 1.4 35 1 0-3.5-2.5M1126 2145a2.3 1.5 35 1 0 3.7 2.6a2.3 1.5 35 1 0-3.7-2.6M1153 2166a2.9 1.9 35 1 0 4.8 3.4a2.9 1.9 35 1 0-4.8-3.4M1099 2202a2.2 1.5 35 1 0 3.7 2.6a2.2 1.5 35 1 0-3.7-2.6M1158 2148a2.8 1.9 35 1 0 4.6 3.2a2.8 1.9 35 1 0-4.6-3.2M1161 2176a2.5 1.7 35 1 0 4.2 2.9a2.5 1.7 35 1 0-4.2-2.9" fill="#5fcf50" opacity=".5"/><path d="M1110 2154a2.6 1.7 35 1 0 4.3 3.0a2.6 1.7 35 1 0-4.3-3.0M1143 2155a2.6 1.7 35 1 0 4.2 2.9a2.6 1.7 35 1 0-4.2-2.9M1118 2176a2.2 1.4 35 1 0 3.5 2.5a2.2 1.4 35 1 0-3.5-2.5M1159 2147a2.9 1.9 35 1 0 4.7 3.3a2.9 1.9 35 1 0-4.7-3.3M1101 2172a3.4 2.3 35 1 0 5.6 3.9a3.4 2.3 35 1 0-5.6-3.9M1142 2204a2.1 1.4 35 1 0 3.5 2.4a2.1 1.4 35 1 0-3.5-2.4M1150 2177a3.4 2.3 35 1 0 5.6 3.9a3.4 2.3 35 1 0-5.6-3.9" fill="#7cd35a" opacity=".5"/><path d="M1144 2178a2.1 1.4 35 1 0 3.5 2.5a2.1 1.4 35 1 0-3.5-2.5M1126 2189a3.1 2.0 35 1 0 5.0 3.5a3.1 2.0 35 1 0-5.0-3.5M1144 2137a2.4 1.6 35 1 0 3.9 2.8a2.4 1.6 35 1 0-3.9-2.8M1122 2178a3.2 2.1 35 1 0 5.2 3.7a3.2 2.1 35 1 0-5.2-3.7M1125 2163a3.2 2.1 35 1 0 5.2 3.6a3.2 2.1 35 1 0-5.2-3.6M1130 2138a2.6 1.7 35 1 0 4.3 3.0a2.6 1.7 35 1 0-4.3-3.0M1113 2180a2.2 1.5 35 1 0 3.6 2.5a2.2 1.5 35 1 0-3.6-2.5M1107 2152a2.9 1.9 35 1 0 4.7 3.3a2.9 1.9 35 1 0-4.7-3.3M1108 2169a3.2 2.1 35 1 0 5.3 3.7a3.2 2.1 35 1 0-5.3-3.7M1124 2158a3.4 2.2 35 1 0 5.5 3.9a3.4 2.2 35 1 0-5.5-3.9M1131 2199a2.2 1.5 35 1 0 3.7 2.6a2.2 1.5 35 1 0-3.7-2.6M1158 2194a2.5 1.7 35 1 0 4.2 2.9a2.5 1.7 35 1 0-4.2-2.9M1146 2210a2.2 1.5 35 1 0 3.6 2.5a2.2 1.5 35 1 0-3.6-2.5" fill="#a6e06a" opacity=".5"/><path d="M1129 2186a3.4 2.3 35 1 0 5.5 3.9a3.4 2.3 35 1 0-5.5-3.9" fill="#5fcf50" opacity=".8"/><path d="M1093 2177a3.3 2.2 35 1 0 5.4 3.8a3.3 2.2 35 1 0-5.4-3.8M1114 2210a2.2 1.5 35 1 0 3.6 2.5a2.2 1.5 35 1 0-3.6-2.5M1157 2186a3.4 2.3 35 1 0 5.6 3.9a3.4 2.3 35 1 0-5.6-3.9" fill="#48b848" opacity=".8"/><path d="M1140 2156a2.5 1.6 35 1 0 4.0 2.8a2.5 1.6 35 1 0-4.0-2.8M1111 2150a3.4 2.3 35 1 0 5.6 3.9a3.4 2.3 35 1 0-5.6-3.9M1110 2202a3.0 2.0 35 1 0 4.9 3.5a3.0 2.0 35 1 0-4.9-3.5M1168 2188a2.8 1.9 35 1 0 4.6 3.2a2.8 1.9 35 1 0-4.6-3.2M1133 2195a3.2 2.1 35 1 0 5.2 3.7a3.2 2.1 35 1 0-5.2-3.7M1116 2177a3.1 2.1 35 1 0 5.1 3.6a3.1 2.1 35 1 0-5.1-3.6M1166 2139a2.3 1.5 35 1 0 3.7 2.6a2.3 1.5 35 1 0-3.7-2.6M1139 2160a3.2 2.1 35 1 0 5.2 3.7a3.2 2.1 35 1 0-5.2-3.7" fill="#48b848" opacity=".5"/><path d="M1165 2169a2.4 1.6 35 1 0 3.9 2.7a2.4 1.6 35 1 0-3.9-2.7" fill="#a6e06a" opacity=".2"/>
</g>
<path d="M771.3,1865.7C774.6,1864.3 783.9,1866.5 798.3,1872.3C812.7,1878.1 837.8,1890.1 857.6,1900.3C877.4,1910.5 898.3,1922.2 917,1933.2C935.7,1944.2 954.9,1956.9 969.7,1966.2C984.5,1975.5 992.7,1980.4 1005.9,1989.2C1019.1,1998 1037.2,2009 1048.7,2018.9C1060.2,2028.8 1068.8,2037 1075.1,2048.5C1081.4,2060 1085.5,2075.4 1086.6,2088C1087.7,2100.6 1084.7,2114.4 1081.7,2124.3C1078.7,2134.2 1074,2143.3 1068.5,2147.4C1063,2151.5 1059.1,2151.2 1048.7,2149C1038.3,2146.8 1021.3,2142.7 1005.9,2134.2C990.5,2125.7 970.2,2109.4 956.5,2097.9C942.8,2086.4 934.5,2075.4 923.5,2065C912.5,2054.6 901.6,2046.8 890.6,2035.3C879.6,2023.8 868.6,2009.5 857.6,1995.8C846.6,1982.1 835.7,1967.8 824.7,1953C813.7,1938.2 799.4,1918.9 791.7,1906.8C784,1894.7 782,1887.3 778.6,1880.5C775.2,1873.7 768,1867.1 771.3,1865.7Z" fill="none" stroke="#fff" stroke-width="3.1" stroke-dasharray="1.9 7.9" stroke-linecap="round"/>
<polyline points="922.9,1806 922.9,2023.8 968,2023.8 968,1806" fill="none" stroke="#fff" stroke-width="3.1" stroke-dasharray="1.9 7.9" stroke-linecap="round"/>
<text x="642.3" y="2200.8" font-size="26" fill="#fff200" textLength="94" lengthAdjust="spacingAndGlyphs">Merged</text>
<text x="746.3" y="2200.8" font-size="26" fill="#ffffff" textLength="12.5" lengthAdjust="spacingAndGlyphs">+</text>
<text x="769.3" y="2200.8" font-size="26" fill="#27aae1" textLength="56" lengthAdjust="spacingAndGlyphs">DAPI</text>
<text x="973" y="2055.8" font-size="26" fill="#ffffff" textLength="49.4" lengthAdjust="spacingAndGlyphs">STN</text>
<rect x="1072" y="2195.2" width="93" height="8.5" fill="#fff"/>
<clipPath id="cng"><polygon points="1174,1808.1 1439.9,1808.1 1435.9,2006.5 1170,2006.5"/></clipPath>
<g clip-path="url(#cng)">
<polygon points="1174,1808.1 1439.9,1808.1 1435.9,2006.5 1170,2006.5" fill="#050907"/>
<path d="M1174,1808C1209,1802.7 1395.7,1775 1440,1808C1484.3,1841 1463.3,1990.7 1440,2006C1416.7,2021.3 1335,1927.7 1300,1900C1265,1872.3 1251,1855.3 1230,1840C1209,1824.7 1139,1813.3 1174,1808Z" fill="#0a1a0e" opacity=".8" filter="url(#b16)"/>
<path d="M1241.2,1841C1246.5,1841.5 1271.7,1855.4 1287,1863C1302.3,1870.6 1320.6,1881.2 1332.8,1886.7C1345,1892.2 1351,1892.2 1360.2,1895.9C1369.4,1899.6 1380.1,1903.5 1387.7,1908.7C1395.3,1913.9 1398.4,1920.9 1406,1927C1413.6,1933.1 1427.8,1939.8 1433.5,1945.3C1439.2,1950.8 1438.9,1949.9 1440,1960C1441.1,1970.1 1447.2,1998.3 1440,2006C1432.8,2013.7 1405.6,2008.5 1396.9,2006C1388.2,2003.5 1392.3,1996.6 1387.7,1991.1C1383.1,1985.6 1377,1978.9 1369.4,1972.8C1361.8,1966.7 1349.6,1960.6 1342,1954.5C1334.4,1948.4 1329.7,1942.3 1323.6,1936.2C1317.5,1930.1 1312.9,1925.4 1305.3,1917.8C1297.7,1910.2 1286.2,1900 1277.8,1890.4C1269.4,1880.8 1261.1,1868.2 1255,1860C1248.9,1851.8 1235.9,1840.5 1241.2,1841Z" fill="#135a26" opacity=".8" filter="url(#b6)"/>
<path d="M1300,1812C1307.1,1810.1 1309.6,1812.3 1332.8,1813.5C1356,1814.7 1421.3,1809.8 1439,1819C1456.7,1828.2 1447.5,1862.3 1439,1868.4C1430.5,1874.5 1408.5,1861.1 1387.7,1855.6C1367,1850.1 1330.8,1840.6 1314.5,1835.5C1298.2,1830.4 1292.4,1828.9 1290,1825C1287.6,1821.1 1292.9,1813.9 1300,1812Z" fill="#135a26" opacity=".8" filter="url(#b8)"/>
<ellipse cx="1365" cy="1935" rx="22" ry="45" fill="#2f9a48" opacity=".7" transform="rotate(-35 1365 1935)" filter="url(#b10)"/>
<ellipse cx="1390" cy="1838" rx="40" ry="10" fill="#2a8a40" opacity=".6" transform="rotate(12 1390 1838)" filter="url(#b8)"/>
<mask id="mcng" maskUnits="userSpaceOnUse" x="1150" y="1788.1" width="309.9" height="238.4"><path d="M1241.2,1841C1246.5,1841.5 1271.7,1855.4 1287,1863C1302.3,1870.6 1320.6,1881.2 1332.8,1886.7C1345,1892.2 1351,1892.2 1360.2,1895.9C1369.4,1899.6 1380.1,1903.5 1387.7,1908.7C1395.3,1913.9 1398.4,1920.9 1406,1927C1413.6,1933.1 1427.8,1939.8 1433.5,1945.3C1439.2,1950.8 1438.9,1949.9 1440,1960C1441.1,1970.1 1447.2,1998.3 1440,2006C1432.8,2013.7 1405.6,2008.5 1396.9,2006C1388.2,2003.5 1392.3,1996.6 1387.7,1991.1C1383.1,1985.6 1377,1978.9 1369.4,1972.8C1361.8,1966.7 1349.6,1960.6 1342,1954.5C1334.4,1948.4 1329.7,1942.3 1323.6,1936.2C1317.5,1930.1 1312.9,1925.4 1305.3,1917.8C1297.7,1910.2 1286.2,1900 1277.8,1890.4C1269.4,1880.8 1261.1,1868.2 1255,1860C1248.9,1851.8 1235.9,1840.5 1241.2,1841Z" fill="#fff" filter="url(#b6)"/></mask>
<g mask="url(#mcng)">
<rect x="1170" y="1808.1" width="269.9" height="198.4" filter="url(#grn)" opacity=".5"/>
</g>
<path d="M1251 1850a1.0 1.0 0 1 0 2.0 0a1.0 1.0 0 1 0-2.0 0M1371 1965a0.8 0.8 0 1 0 1.6 0a0.8 0.8 0 1 0-1.6 0M1244 1844a1.3 1.3 0 1 0 2.6 0a1.3 1.3 0 1 0-2.6 0M1264 1858a1.2 1.2 0 1 0 2.5 0a1.2 1.2 0 1 0-2.5 0M1309 1921a1.3 1.3 0 1 0 2.6 0a1.3 1.3 0 1 0-2.6 0M1343 1924a0.9 0.9 0 1 0 1.9 0a0.9 0.9 0 1 0-1.9 0M1432 1988a1.5 1.5 0 1 0 2.9 0a1.5 1.5 0 1 0-2.9 0M1438 1964a1.1 1.1 0 1 0 2.3 0a1.1 1.1 0 1 0-2.3 0M1425 1965a1.3 1.3 0 1 0 2.5 0a1.3 1.3 0 1 0-2.5 0M1416 1962a0.8 0.8 0 1 0 1.7 0a0.8 0.8 0 1 0-1.7 0M1422 1993a1.5 1.5 0 1 0 3.0 0a1.5 1.5 0 1 0-3.0 0M1422 1961a0.8 0.8 0 1 0 1.7 0a0.8 0.8 0 1 0-1.7 0M1271 1860a0.9 0.9 0 1 0 1.9 0a0.9 0.9 0 1 0-1.9 0M1281 1862a1.3 1.3 0 1 0 2.6 0a1.3 1.3 0 1 0-2.6 0M1387 1935a0.9 0.9 0 1 0 1.9 0a0.9 0.9 0 1 0-1.9 0M1343 1900a0.8 0.8 0 1 0 1.6 0a0.8 0.8 0 1 0-1.6 0M1371 1948a1.4 1.4 0 1 0 2.7 0a1.4 1.4 0 1 0-2.7 0M1381 1960a1.4 1.4 0 1 0 2.8 0a1.4 1.4 0 1 0-2.8 0M1300 1875a1.0 1.0 0 1 0 2.0 0a1.0 1.0 0 1 0-2.0 0M1428 1959a1.6 1.6 0 1 0 3.2 0a1.6 1.6 0 1 0-3.2 0M1387 1924a1.5 1.5 0 1 0 3.1 0a1.5 1.5 0 1 0-3.1 0M1323 1928a1.3 1.3 0 1 0 2.6 0a1.3 1.3 0 1 0-2.6 0M1337 1899a0.9 0.9 0 1 0 1.8 0a0.9 0.9 0 1 0-1.8 0M1365 1966a1.2 1.2 0 1 0 2.4 0a1.2 1.2 0 1 0-2.4 0M1359 1912a1.6 1.6 0 1 0 3.1 0a1.6 1.6 0 1 0-3.1 0M1287 1883a0.9 0.9 0 1 0 1.8 0a0.9 0.9 0 1 0-1.8 0M1394 1938a1.5 1.5 0 1 0 3.1 0a1.5 1.5 0 1 0-3.1 0" fill="#5fe07a" opacity=".8"/><path d="M1367 1905a1.0 1.0 0 1 0 2.1 0a1.0 1.0 0 1 0-2.1 0M1411 1946a1.4 1.4 0 1 0 2.8 0a1.4 1.4 0 1 0-2.8 0M1305 1909a1.2 1.2 0 1 0 2.3 0a1.2 1.2 0 1 0-2.3 0M1326 1891a1.1 1.1 0 1 0 2.3 0a1.1 1.1 0 1 0-2.3 0M1339 1950a1.4 1.4 0 1 0 2.8 0a1.4 1.4 0 1 0-2.8 0M1378 1909a1.1 1.1 0 1 0 2.3 0a1.1 1.1 0 1 0-2.3 0M1389 1978a1.2 1.2 0 1 0 2.5 0a1.2 1.2 0 1 0-2.5 0M1402 1934a1.2 1.2 0 1 0 2.4 0a1.2 1.2 0 1 0-2.4 0M1395 1991a1.5 1.5 0 1 0 3.0 0a1.5 1.5 0 1 0-3.0 0M1409 1938a1.0 1.0 0 1 0 1.9 0a1.0 1.0 0 1 0-1.9 0M1356 1903a1.3 1.3 0 1 0 2.5 0a1.3 1.3 0 1 0-2.5 0M1354 1904a1.1 1.1 0 1 0 2.2 0a1.1 1.1 0 1 0-2.2 0M1323 1882a0.8 0.8 0 1 0 1.6 0a0.8 0.8 0 1 0-1.6 0M1404 1968a1.2 1.2 0 1 0 2.4 0a1.2 1.2 0 1 0-2.4 0M1381 1920a1.1 1.1 0 1 0 2.2 0a1.1 1.1 0 1 0-2.2 0M1389 1927a1.2 1.2 0 1 0 2.3 0a1.2 1.2 0 1 0-2.3 0M1364 1931a1.4 1.4 0 1 0 2.8 0a1.4 1.4 0 1 0-2.8 0M1422 1945a1.0 1.0 0 1 0 1.9 0a1.0 1.0 0 1 0-1.9 0M1339 1949a1.0 1.0 0 1 0 2.1 0a1.0 1.0 0 1 0-2.1 0M1246 1846a1.4 1.4 0 1 0 2.8 0a1.4 1.4 0 1 0-2.8 0M1383 1926a0.8 0.8 0 1 0 1.6 0a0.8 0.8 0 1 0-1.6 0M1255 1861a1.5 1.5 0 1 0 3.0 0a1.5 1.5 0 1 0-3.0 0M1300 1890a1.4 1.4 0 1 0 2.7 0a1.4 1.4 0 1 0-2.7 0M1371 1941a1.1 1.1 0 1 0 2.2 0a1.1 1.1 0 1 0-2.2 0M1370 1951a1.0 1.0 0 1 0 2.0 0a1.0 1.0 0 1 0-2.0 0M1407 1993a0.9 0.9 0 1 0 1.7 0a0.9 0.9 0 1 0-1.7 0M1340 1908a0.8 0.8 0 1 0 1.6 0a0.8 0.8 0 1 0-1.6 0M1403 1981a1.0 1.0 0 1 0 1.9 0a1.0 1.0 0 1 0-1.9 0M1321 1900a1.5 1.5 0 1 0 3.1 0a1.5 1.5 0 1 0-3.1 0M1395 1925a1.0 1.0 0 1 0 2.1 0a1.0 1.0 0 1 0-2.1 0M1338 1931a1.0 1.0 0 1 0 2.0 0a1.0 1.0 0 1 0-2.0 0M1368 1941a1.6 1.6 0 1 0 3.1 0a1.6 1.6 0 1 0-3.1 0M1282 1888a1.2 1.2 0 1 0 2.4 0a1.2 1.2 0 1 0-2.4 0M1427 1951a1.6 1.6 0 1 0 3.2 0a1.6 1.6 0 1 0-3.2 0M1366 1939a1.3 1.3 0 1 0 2.6 0a1.3 1.3 0 1 0-2.6 0" fill="#5fe07a" opacity=".5"/><path d="M1392 1983a1.5 1.5 0 1 0 3.0 0a1.5 1.5 0 1 0-3.0 0M1396 1938a1.3 1.3 0 1 0 2.6 0a1.3 1.3 0 1 0-2.6 0M1337 1944a0.9 0.9 0 1 0 1.8 0a0.9 0.9 0 1 0-1.8 0M1347 1948a1.1 1.1 0 1 0 2.1 0a1.1 1.1 0 1 0-2.1 0M1319 1896a1.1 1.1 0 1 0 2.3 0a1.1 1.1 0 1 0-2.3 0M1364 1926a1.2 1.2 0 1 0 2.5 0a1.2 1.2 0 1 0-2.5 0M1367 1915a1.1 1.1 0 1 0 2.2 0a1.1 1.1 0 1 0-2.2 0M1401 2000a1.1 1.1 0 1 0 2.3 0a1.1 1.1 0 1 0-2.3 0M1406 1999a0.8 0.8 0 1 0 1.7 0a0.8 0.8 0 1 0-1.7 0M1414 1972a1.3 1.3 0 1 0 2.6 0a1.3 1.3 0 1 0-2.6 0M1373 1963a1.3 1.3 0 1 0 2.6 0a1.3 1.3 0 1 0-2.6 0M1360 1944a1.4 1.4 0 1 0 2.8 0a1.4 1.4 0 1 0-2.8 0M1343 1932a1.1 1.1 0 1 0 2.3 0a1.1 1.1 0 1 0-2.3 0M1322 1924a1.5 1.5 0 1 0 3.1 0a1.5 1.5 0 1 0-3.1 0M1295 1878a1.0 1.0 0 1 0 2.0 0a1.0 1.0 0 1 0-2.0 0M1269 1867a0.9 0.9 0 1 0 1.8 0a0.9 0.9 0 1 0-1.8 0M1280 1872a1.2 1.2 0 1 0 2.4 0a1.2 1.2 0 1 0-2.4 0M1336 1892a1.0 1.0 0 1 0 1.9 0a1.0 1.0 0 1 0-1.9 0M1433 2000a1.4 1.4 0 1 0 2.9 0a1.4 1.4 0 1 0-2.9 0M1412 1937a1.1 1.1 0 1 0 2.3 0a1.1 1.1 0 1 0-2.3 0M1391 1935a1.1 1.1 0 1 0 2.2 0a1.1 1.1 0 1 0-2.2 0M1371 1907a1.4 1.4 0 1 0 2.8 0a1.4 1.4 0 1 0-2.8 0M1329 1897a1.5 1.5 0 1 0 3.0 0a1.5 1.5 0 1 0-3.0 0M1286 1869a1.4 1.4 0 1 0 2.9 0a1.4 1.4 0 1 0-2.9 0M1300 1883a1.3 1.3 0 1 0 2.5 0a1.3 1.3 0 1 0-2.5 0" fill="#3fc060" opacity=".5"/><path d="M1393 1994a1.0 1.0 0 1 0 1.9 0a1.0 1.0 0 1 0-1.9 0M1425 1981a0.8 0.8 0 1 0 1.6 0a0.8 0.8 0 1 0-1.6 0M1388 1973a0.9 0.9 0 1 0 1.8 0a0.9 0.9 0 1 0-1.8 0M1377 1952a1.4 1.4 0 1 0 2.9 0a1.4 1.4 0 1 0-2.9 0M1330 1894a1.6 1.6 0 1 0 3.1 0a1.6 1.6 0 1 0-3.1 0M1414 1976a0.9 0.9 0 1 0 1.9 0a0.9 0.9 0 1 0-1.9 0M1284 1896a1.2 1.2 0 1 0 2.3 0a1.2 1.2 0 1 0-2.3 0M1317 1903a0.8 0.8 0 1 0 1.6 0a0.8 0.8 0 1 0-1.6 0M1284 1889a1.0 1.0 0 1 0 1.9 0a1.0 1.0 0 1 0-1.9 0M1351 1910a1.4 1.4 0 1 0 2.8 0a1.4 1.4 0 1 0-2.8 0M1379 1976a0.9 0.9 0 1 0 1.9 0a0.9 0.9 0 1 0-1.9 0M1363 1948a1.0 1.0 0 1 0 1.9 0a1.0 1.0 0 1 0-1.9 0M1404 1954a1.5 1.5 0 1 0 3.1 0a1.5 1.5 0 1 0-3.1 0M1366 1906a1.1 1.1 0 1 0 2.2 0a1.1 1.1 0 1 0-2.2 0M1320 1888a1.2 1.2 0 1 0 2.4 0a1.2 1.2 0 1 0-2.4 0M1340 1941a1.0 1.0 0 1 0 1.9 0a1.0 1.0 0 1 0-1.9 0M1393 1934a1.2 1.2 0 1 0 2.4 0a1.2 1.2 0 1 0-2.4 0M1423 1967a1.2 1.2 0 1 0 2.4 0a1.2 1.2 0 1 0-2.4 0M1350 1945a1.0 1.0 0 1 0 2.0 0a1.0 1.0 0 1 0-2.0 0M1386 1946a1.2 1.2 0 1 0 2.3 0a1.2 1.2 0 1 0-2.3 0M1383 1981a1.5 1.5 0 1 0 3.1 0a1.5 1.5 0 1 0-3.1 0M1335 1894a1.4 1.4 0 1 0 2.8 0a1.4 1.4 0 1 0-2.8 0" fill="#3fc060" opacity=".8"/><path d="M1324 1918a1.3 1.3 0 1 0 2.6 0a1.3 1.3 0 1 0-2.6 0M1411 1976a0.9 0.9 0 1 0 1.9 0a0.9 0.9 0 1 0-1.9 0M1334 1898a1.5 1.5 0 1 0 3.0 0a1.5 1.5 0 1 0-3.0 0M1314 1878a1.5 1.5 0 1 0 2.9 0a1.5 1.5 0 1 0-2.9 0M1425 1998a1.0 1.0 0 1 0 1.9 0a1.0 1.0 0 1 0-1.9 0M1399 1981a1.0 1.0 0 1 0 2.0 0a1.0 1.0 0 1 0-2.0 0M1385 1984a1.6 1.6 0 1 0 3.2 0a1.6 1.6 0 1 0-3.2 0M1401 1982a0.8 0.8 0 1 0 1.6 0a0.8 0.8 0 1 0-1.6 0M1315 1891a1.1 1.1 0 1 0 2.2 0a1.1 1.1 0 1 0-2.2 0M1308 1886a0.8 0.8 0 1 0 1.6 0a0.8 0.8 0 1 0-1.6 0M1271 1856a1.5 1.5 0 1 0 3.1 0a1.5 1.5 0 1 0-3.1 0M1406 1993a1.4 1.4 0 1 0 2.8 0a1.4 1.4 0 1 0-2.8 0M1328 1936a1.0 1.0 0 1 0 2.0 0a1.0 1.0 0 1 0-2.0 0M1400 1971a1.0 1.0 0 1 0 1.9 0a1.0 1.0 0 1 0-1.9 0M1433 1985a0.9 0.9 0 1 0 1.7 0a0.9 0.9 0 1 0-1.7 0M1379 1911a1.6 1.6 0 1 0 3.2 0a1.6 1.6 0 1 0-3.2 0M1423 1973a1.5 1.5 0 1 0 2.9 0a1.5 1.5 0 1 0-2.9 0M1412 1935a1.0 1.0 0 1 0 2.1 0a1.0 1.0 0 1 0-2.1 0M1409 1978a1.3 1.3 0 1 0 2.5 0a1.3 1.3 0 1 0-2.5 0M1404 1959a1.5 1.5 0 1 0 3.1 0a1.5 1.5 0 1 0-3.1 0M1410 1940a1.3 1.3 0 1 0 2.6 0a1.3 1.3 0 1 0-2.6 0M1428 1976a0.9 0.9 0 1 0 1.8 0a0.9 0.9 0 1 0-1.8 0M1399 1944a0.9 0.9 0 1 0 1.8 0a0.9 0.9 0 1 0-1.8 0M1310 1904a1.1 1.1 0 1 0 2.1 0a1.1 1.1 0 1 0-2.1 0M1379 1941a1.1 1.1 0 1 0 2.3 0a1.1 1.1 0 1 0-2.3 0M1391 1998a1.4 1.4 0 1 0 2.8 0a1.4 1.4 0 1 0-2.8 0M1404 2000a1.3 1.3 0 1 0 2.7 0a1.3 1.3 0 1 0-2.7 0M1301 1889a1.4 1.4 0 1 0 2.8 0a1.4 1.4 0 1 0-2.8 0M1397 1935a1.0 1.0 0 1 0 1.9 0a1.0 1.0 0 1 0-1.9 0M1388 1976a1.2 1.2 0 1 0 2.5 0a1.2 1.2 0 1 0-2.5 0M1303 1883a1.2 1.2 0 1 0 2.4 0a1.2 1.2 0 1 0-2.4 0" fill="#8ef0a0" opacity=".5"/><path d="M1401 1927a1.2 1.2 0 1 0 2.4 0a1.2 1.2 0 1 0-2.4 0M1341 1916a1.5 1.5 0 1 0 3.1 0a1.5 1.5 0 1 0-3.1 0M1398 1961a1.2 1.2 0 1 0 2.5 0a1.2 1.2 0 1 0-2.5 0M1347 1901a1.5 1.5 0 1 0 3.0 0a1.5 1.5 0 1 0-3.0 0M1345 1949a1.2 1.2 0 1 0 2.4 0a1.2 1.2 0 1 0-2.4 0M1388 1977a1.2 1.2 0 1 0 2.5 0a1.2 1.2 0 1 0-2.5 0M1410 1979a1.1 1.1 0 1 0 2.1 0a1.1 1.1 0 1 0-2.1 0M1436 1979a1.4 1.4 0 1 0 2.7 0a1.4 1.4 0 1 0-2.7 0M1405 1992a0.9 0.9 0 1 0 1.9 0a0.9 0.9 0 1 0-1.9 0M1361 1963a1.3 1.3 0 1 0 2.7 0a1.3 1.3 0 1 0-2.7 0M1353 1908a0.8 0.8 0 1 0 1.7 0a0.8 0.8 0 1 0-1.7 0M1297 1899a1.5 1.5 0 1 0 3.1 0a1.5 1.5 0 1 0-3.1 0M1300 1886a1.5 1.5 0 1 0 3.0 0a1.5 1.5 0 1 0-3.0 0M1280 1866a1.5 1.5 0 1 0 2.9 0a1.5 1.5 0 1 0-2.9 0M1320 1895a1.1 1.1 0 1 0 2.2 0a1.1 1.1 0 1 0-2.2 0M1429 1956a1.6 1.6 0 1 0 3.1 0a1.6 1.6 0 1 0-3.1 0" fill="#8ef0a0" opacity=".8"/><path d="M1307 1903a1.1 1.1 0 1 0 2.3 0a1.1 1.1 0 1 0-2.3 0M1420 1952a0.9 0.9 0 1 0 1.7 0a0.9 0.9 0 1 0-1.7 0M1365 1921a1.2 1.2 0 1 0 2.3 0a1.2 1.2 0 1 0-2.3 0" fill="#3fc060" opacity="1"/><path d="M1298 1912a1.4 1.4 0 1 0 2.9 0a1.4 1.4 0 1 0-2.9 0M1417 1993a1.0 1.0 0 1 0 2.0 0a1.0 1.0 0 1 0-2.0 0M1333 1925a1.1 1.1 0 1 0 2.2 0a1.1 1.1 0 1 0-2.2 0" fill="#8ef0a0" opacity="1"/><path d="M1425 1972a0.9 0.9 0 1 0 1.7 0a0.9 0.9 0 1 0-1.7 0M1430 1958a1.2 1.2 0 1 0 2.5 0a1.2 1.2 0 1 0-2.5 0" fill="#5fe07a" opacity="1"/><path d="M1433 1980a1.5 1.5 0 1 0 3.0 0a1.5 1.5 0 1 0-3.0 0M1421 1993a1.2 1.2 0 1 0 2.4 0a1.2 1.2 0 1 0-2.4 0" fill="#3fc060" opacity=".2"/><path d="M1336 1931a0.9 0.9 0 1 0 1.8 0a0.9 0.9 0 1 0-1.8 0" fill="#8ef0a0" opacity=".2"/><path d="M1287 1868a0.9 0.9 0 1 0 1.9 0a0.9 0.9 0 1 0-1.9 0M1358 1945a1.6 1.6 0 1 0 3.2 0a1.6 1.6 0 1 0-3.2 0M1396 1954a1.1 1.1 0 1 0 2.1 0a1.1 1.1 0 1 0-2.1 0" fill="#5fe07a" opacity=".2"/>
<path d="M1392 1831a1.1 1.1 0 1 0 2.2 0a1.1 1.1 0 1 0-2.2 0M1407 1854a1.3 1.3 0 1 0 2.5 0a1.3 1.3 0 1 0-2.5 0M1418 1863a1.5 1.5 0 1 0 2.9 0a1.5 1.5 0 1 0-2.9 0M1300 1819a1.0 1.0 0 1 0 2.0 0a1.0 1.0 0 1 0-2.0 0M1436 1836a1.3 1.3 0 1 0 2.5 0a1.3 1.3 0 1 0-2.5 0M1376 1818a1.2 1.2 0 1 0 2.4 0a1.2 1.2 0 1 0-2.4 0M1374 1840a1.2 1.2 0 1 0 2.4 0a1.2 1.2 0 1 0-2.4 0M1353 1840a1.5 1.5 0 1 0 3.0 0a1.5 1.5 0 1 0-3.0 0M1359 1827a0.9 0.9 0 1 0 1.8 0a0.9 0.9 0 1 0-1.8 0" fill="#5fe07a" opacity=".8"/><path d="M1435 1848a1.4 1.4 0 1 0 2.8 0a1.4 1.4 0 1 0-2.8 0M1310 1821a1.4 1.4 0 1 0 2.9 0a1.4 1.4 0 1 0-2.9 0M1435 1854a1.3 1.3 0 1 0 2.7 0a1.3 1.3 0 1 0-2.7 0" fill="#5fe07a" opacity=".2"/><path d="M1328 1823a1.1 1.1 0 1 0 2.2 0a1.1 1.1 0 1 0-2.2 0M1360 1830a1.4 1.4 0 1 0 2.8 0a1.4 1.4 0 1 0-2.8 0M1327 1826a1.3 1.3 0 1 0 2.5 0a1.3 1.3 0 1 0-2.5 0M1397 1841a0.8 0.8 0 1 0 1.7 0a0.8 0.8 0 1 0-1.7 0M1317 1813a1.2 1.2 0 1 0 2.4 0a1.2 1.2 0 1 0-2.4 0M1418 1858a1.3 1.3 0 1 0 2.6 0a1.3 1.3 0 1 0-2.6 0M1320 1823a1.1 1.1 0 1 0 2.2 0a1.1 1.1 0 1 0-2.2 0M1378 1847a0.9 0.9 0 1 0 1.9 0a0.9 0.9 0 1 0-1.9 0M1398 1841a0.8 0.8 0 1 0 1.6 0a0.8 0.8 0 1 0-1.6 0M1431 1835a1.4 1.4 0 1 0 2.9 0a1.4 1.4 0 1 0-2.9 0M1407 1848a1.3 1.3 0 1 0 2.5 0a1.3 1.3 0 1 0-2.5 0M1391 1841a0.8 0.8 0 1 0 1.7 0a0.8 0.8 0 1 0-1.7 0M1351 1836a1.1 1.1 0 1 0 2.2 0a1.1 1.1 0 1 0-2.2 0M1327 1833a0.9 0.9 0 1 0 1.8 0a0.9 0.9 0 1 0-1.8 0M1363 1829a1.1 1.1 0 1 0 2.2 0a1.1 1.1 0 1 0-2.2 0M1371 1849a1.0 1.0 0 1 0 2.0 0a1.0 1.0 0 1 0-2.0 0" fill="#3fc060" opacity=".5"/><path d="M1368 1823a1.1 1.1 0 1 0 2.2 0a1.1 1.1 0 1 0-2.2 0M1390 1833a1.0 1.0 0 1 0 1.9 0a1.0 1.0 0 1 0-1.9 0M1367 1850a1.0 1.0 0 1 0 2.1 0a1.0 1.0 0 1 0-2.1 0M1310 1832a1.3 1.3 0 1 0 2.7 0a1.3 1.3 0 1 0-2.7 0M1393 1841a1.0 1.0 0 1 0 1.9 0a1.0 1.0 0 1 0-1.9 0M1421 1852a1.3 1.3 0 1 0 2.5 0a1.3 1.3 0 1 0-2.5 0M1429 1861a1.0 1.0 0 1 0 2.0 0a1.0 1.0 0 1 0-2.0 0M1429 1863a1.0 1.0 0 1 0 1.9 0a1.0 1.0 0 1 0-1.9 0M1331 1826a1.1 1.1 0 1 0 2.2 0a1.1 1.1 0 1 0-2.2 0M1423 1836a0.8 0.8 0 1 0 1.7 0a0.8 0.8 0 1 0-1.7 0M1402 1819a1.2 1.2 0 1 0 2.3 0a1.2 1.2 0 1 0-2.3 0M1415 1834a1.2 1.2 0 1 0 2.4 0a1.2 1.2 0 1 0-2.4 0M1407 1827a0.8 0.8 0 1 0 1.7 0a0.8 0.8 0 1 0-1.7 0M1366 1839a1.0 1.0 0 1 0 1.9 0a1.0 1.0 0 1 0-1.9 0M1365 1838a1.3 1.3 0 1 0 2.7 0a1.3 1.3 0 1 0-2.7 0" fill="#5fe07a" opacity=".5"/><path d="M1402 1856a1.2 1.2 0 1 0 2.4 0a1.2 1.2 0 1 0-2.4 0M1306 1829a1.2 1.2 0 1 0 2.3 0a1.2 1.2 0 1 0-2.3 0M1337 1837a0.8 0.8 0 1 0 1.6 0a0.8 0.8 0 1 0-1.6 0M1320 1821a1.3 1.3 0 1 0 2.5 0a1.3 1.3 0 1 0-2.5 0M1351 1835a1.1 1.1 0 1 0 2.3 0a1.1 1.1 0 1 0-2.3 0M1365 1847a0.9 0.9 0 1 0 1.7 0a0.9 0.9 0 1 0-1.7 0M1434 1827a1.0 1.0 0 1 0 1.9 0a1.0 1.0 0 1 0-1.9 0M1413 1859a0.9 0.9 0 1 0 1.8 0a0.9 0.9 0 1 0-1.8 0M1345 1830a1.1 1.1 0 1 0 2.2 0a1.1 1.1 0 1 0-2.2 0M1344 1825a1.0 1.0 0 1 0 2.0 0a1.0 1.0 0 1 0-2.0 0M1363 1821a1.0 1.0 0 1 0 1.9 0a1.0 1.0 0 1 0-1.9 0M1390 1845a0.9 0.9 0 1 0 1.9 0a0.9 0.9 0 1 0-1.9 0M1348 1840a1.2 1.2 0 1 0 2.5 0a1.2 1.2 0 1 0-2.5 0M1344 1835a1.1 1.1 0 1 0 2.1 0a1.1 1.1 0 1 0-2.1 0M1344 1815a1.3 1.3 0 1 0 2.7 0a1.3 1.3 0 1 0-2.7 0M1319 1816a1.3 1.3 0 1 0 2.6 0a1.3 1.3 0 1 0-2.6 0M1328 1815a1.2 1.2 0 1 0 2.4 0a1.2 1.2 0 1 0-2.4 0" fill="#3fc060" opacity=".8"/>
</g>
<text x="1184" y="1962.4" font-size="26" fill="#1db954" textLength="201" lengthAdjust="spacingAndGlyphs">Venus-iGluSnFR</text>
<text x="1184" y="1995" font-size="26" fill="#ffffff" textLength="14" lengthAdjust="spacingAndGlyphs">+</text>
<text x="1204.6" y="1995" font-size="26" fill="#1db954" textLength="142.4" lengthAdjust="spacingAndGlyphs">iGABASnFR</text>
<rect x="1387.1" y="1990.9" width="46.4" height="8.1" fill="#fff"/>
<clipPath id="cnr"><polygon points="1168.1,2014 1435.6,2014 1432.1,2212.6 1168.1,2212.6"/></clipPath>
<g clip-path="url(#cnr)">
<polygon points="1168.1,2014 1435.6,2014 1432.1,2212.6 1168.1,2212.6" fill="#0d0405"/>
<path d="M1259.5,2055.2C1263.7,2053.5 1279.9,2054.2 1290,2060C1300.1,2065.8 1310,2081.7 1320,2090C1330,2098.3 1340.8,2102.5 1350,2110C1359.2,2117.5 1371.3,2126.7 1375,2135C1378.7,2143.3 1377.8,2156.2 1372,2160C1366.2,2163.8 1349.5,2162.2 1340,2158C1330.5,2153.8 1323.3,2144.7 1315,2135C1306.7,2125.3 1298.3,2110.8 1290,2100C1281.7,2089.2 1270.1,2077.5 1265,2070C1259.9,2062.5 1255.3,2056.9 1259.5,2055.2Z" fill="#3a0808" opacity=".8" filter="url(#b10)"/>
<ellipse cx="1343" cy="2133" rx="30" ry="20" fill="#801212" opacity=".6" transform="rotate(30 1343 2133)" filter="url(#b8)"/>
<mask id="mcnr" maskUnits="userSpaceOnUse" x="1148.1" y="1994" width="307.5" height="238.6"><path d="M1259.5,2055.2C1263.7,2053.5 1279.9,2054.2 1290,2060C1300.1,2065.8 1310,2081.7 1320,2090C1330,2098.3 1340.8,2102.5 1350,2110C1359.2,2117.5 1371.3,2126.7 1375,2135C1378.7,2143.3 1377.8,2156.2 1372,2160C1366.2,2163.8 1349.5,2162.2 1340,2158C1330.5,2153.8 1323.3,2144.7 1315,2135C1306.7,2125.3 1298.3,2110.8 1290,2100C1281.7,2089.2 1270.1,2077.5 1265,2070C1259.9,2062.5 1255.3,2056.9 1259.5,2055.2Z" fill="#fff" filter="url(#b8)"/></mask>
<g mask="url(#mcnr)">
<rect x="1168.1" y="2014" width="267.5" height="198.6" filter="url(#redn)" opacity=".3"/>
</g>
<path d="M1345 2130a1.4 1.4 0 1 0 2.8 0a1.4 1.4 0 1 0-2.8 0M1321 2119a1.1 1.1 0 1 0 2.1 0a1.1 1.1 0 1 0-2.1 0M1336 2118a1.4 1.4 0 1 0 2.8 0a1.4 1.4 0 1 0-2.8 0M1346 2143a1.4 1.4 0 1 0 2.8 0a1.4 1.4 0 1 0-2.8 0M1338 2147a1.6 1.6 0 1 0 3.3 0a1.6 1.6 0 1 0-3.3 0M1322 2129a1.3 1.3 0 1 0 2.7 0a1.3 1.3 0 1 0-2.7 0M1354 2123a0.9 0.9 0 1 0 1.9 0a0.9 0.9 0 1 0-1.9 0M1344 2129a1.7 1.7 0 1 0 3.4 0a1.7 1.7 0 1 0-3.4 0M1345 2135a1.2 1.2 0 1 0 2.4 0a1.2 1.2 0 1 0-2.4 0M1364 2136a1.1 1.1 0 1 0 2.1 0a1.1 1.1 0 1 0-2.1 0M1341 2138a1.0 1.0 0 1 0 1.9 0a1.0 1.0 0 1 0-1.9 0M1352 2142a1.2 1.2 0 1 0 2.3 0a1.2 1.2 0 1 0-2.3 0M1328 2117a1.7 1.7 0 1 0 3.5 0a1.7 1.7 0 1 0-3.5 0M1346 2130a1.1 1.1 0 1 0 2.2 0a1.1 1.1 0 1 0-2.2 0M1344 2125a1.3 1.3 0 1 0 2.7 0a1.3 1.3 0 1 0-2.7 0M1348 2147a1.0 1.0 0 1 0 1.9 0a1.0 1.0 0 1 0-1.9 0M1323 2123a1.4 1.4 0 1 0 2.9 0a1.4 1.4 0 1 0-2.9 0M1357 2143a1.8 1.8 0 1 0 3.5 0a1.8 1.8 0 1 0-3.5 0M1350 2142a1.1 1.1 0 1 0 2.2 0a1.1 1.1 0 1 0-2.2 0M1335 2126a1.8 1.8 0 1 0 3.6 0a1.8 1.8 0 1 0-3.6 0M1331 2127a1.2 1.2 0 1 0 2.3 0a1.2 1.2 0 1 0-2.3 0M1341 2118a1.1 1.1 0 1 0 2.3 0a1.1 1.1 0 1 0-2.3 0M1355 2124a1.1 1.1 0 1 0 2.1 0a1.1 1.1 0 1 0-2.1 0M1347 2142a1.1 1.1 0 1 0 2.3 0a1.1 1.1 0 1 0-2.3 0M1332 2122a1.5 1.5 0 1 0 2.9 0a1.5 1.5 0 1 0-2.9 0M1369 2148a1.3 1.3 0 1 0 2.5 0a1.3 1.3 0 1 0-2.5 0M1318 2112a1.2 1.2 0 1 0 2.4 0a1.2 1.2 0 1 0-2.4 0" fill="#ff3030" opacity=".8"/><path d="M1340 2125a1.1 1.1 0 1 0 2.2 0a1.1 1.1 0 1 0-2.2 0M1347 2118a1.3 1.3 0 1 0 2.7 0a1.3 1.3 0 1 0-2.7 0M1343 2139a1.6 1.6 0 1 0 3.1 0a1.6 1.6 0 1 0-3.1 0M1342 2129a1.3 1.3 0 1 0 2.6 0a1.3 1.3 0 1 0-2.6 0M1315 2119a1.6 1.6 0 1 0 3.2 0a1.6 1.6 0 1 0-3.2 0M1355 2145a1.1 1.1 0 1 0 2.2 0a1.1 1.1 0 1 0-2.2 0M1365 2144a1.5 1.5 0 1 0 2.9 0a1.5 1.5 0 1 0-2.9 0M1344 2145a1.6 1.6 0 1 0 3.3 0a1.6 1.6 0 1 0-3.3 0M1363 2143a1.7 1.7 0 1 0 3.4 0a1.7 1.7 0 1 0-3.4 0M1334 2123a1.0 1.0 0 1 0 1.9 0a1.0 1.0 0 1 0-1.9 0M1320 2127a1.4 1.4 0 1 0 2.8 0a1.4 1.4 0 1 0-2.8 0M1318 2122a1.6 1.6 0 1 0 3.3 0a1.6 1.6 0 1 0-3.3 0M1347 2138a1.4 1.4 0 1 0 2.8 0a1.4 1.4 0 1 0-2.8 0M1339 2134a1.6 1.6 0 1 0 3.3 0a1.6 1.6 0 1 0-3.3 0M1349 2133a1.3 1.3 0 1 0 2.5 0a1.3 1.3 0 1 0-2.5 0M1355 2130a1.3 1.3 0 1 0 2.6 0a1.3 1.3 0 1 0-2.6 0M1329 2118a1.1 1.1 0 1 0 2.3 0a1.1 1.1 0 1 0-2.3 0M1341 2138a1.5 1.5 0 1 0 3.0 0a1.5 1.5 0 1 0-3.0 0M1325 2120a1.0 1.0 0 1 0 2.0 0a1.0 1.0 0 1 0-2.0 0M1351 2149a1.3 1.3 0 1 0 2.5 0a1.3 1.3 0 1 0-2.5 0M1329 2113a1.0 1.0 0 1 0 1.9 0a1.0 1.0 0 1 0-1.9 0" fill="#ff4a3a" opacity=".8"/><path d="M1334 2130a0.9 0.9 0 1 0 1.9 0a0.9 0.9 0 1 0-1.9 0M1328 2133a1.4 1.4 0 1 0 2.9 0a1.4 1.4 0 1 0-2.9 0M1341 2115a1.4 1.4 0 1 0 2.9 0a1.4 1.4 0 1 0-2.9 0M1345 2131a1.3 1.3 0 1 0 2.6 0a1.3 1.3 0 1 0-2.6 0M1340 2136a1.3 1.3 0 1 0 2.7 0a1.3 1.3 0 1 0-2.7 0M1358 2152a1.5 1.5 0 1 0 3.0 0a1.5 1.5 0 1 0-3.0 0M1333 2125a1.2 1.2 0 1 0 2.4 0a1.2 1.2 0 1 0-2.4 0M1361 2155a0.9 0.9 0 1 0 1.8 0a0.9 0.9 0 1 0-1.8 0M1336 2134a1.4 1.4 0 1 0 2.8 0a1.4 1.4 0 1 0-2.8 0M1333 2119a1.8 1.8 0 1 0 3.6 0a1.8 1.8 0 1 0-3.6 0M1353 2143a1.5 1.5 0 1 0 2.9 0a1.5 1.5 0 1 0-2.9 0M1361 2139a1.6 1.6 0 1 0 3.2 0a1.6 1.6 0 1 0-3.2 0M1361 2137a1.1 1.1 0 1 0 2.2 0a1.1 1.1 0 1 0-2.2 0M1354 2136a1.2 1.2 0 1 0 2.3 0a1.2 1.2 0 1 0-2.3 0M1346 2140a1.6 1.6 0 1 0 3.1 0a1.6 1.6 0 1 0-3.1 0M1332 2115a1.0 1.0 0 1 0 1.9 0a1.0 1.0 0 1 0-1.9 0M1352 2144a1.3 1.3 0 1 0 2.5 0a1.3 1.3 0 1 0-2.5 0M1347 2150a1.2 1.2 0 1 0 2.4 0a1.2 1.2 0 1 0-2.4 0M1344 2125a1.6 1.6 0 1 0 3.1 0a1.6 1.6 0 1 0-3.1 0M1324 2139a1.6 1.6 0 1 0 3.1 0a1.6 1.6 0 1 0-3.1 0M1347 2118a1.0 1.0 0 1 0 2.1 0a1.0 1.0 0 1 0-2.1 0M1347 2119a1.0 1.0 0 1 0 1.9 0a1.0 1.0 0 1 0-1.9 0M1332 2113a1.8 1.8 0 1 0 3.6 0a1.8 1.8 0 1 0-3.6 0M1361 2134a1.0 1.0 0 1 0 2.1 0a1.0 1.0 0 1 0-2.1 0M1339 2140a1.3 1.3 0 1 0 2.7 0a1.3 1.3 0 1 0-2.7 0M1347 2126a1.4 1.4 0 1 0 2.8 0a1.4 1.4 0 1 0-2.8 0M1352 2126a1.1 1.1 0 1 0 2.2 0a1.1 1.1 0 1 0-2.2 0M1346 2130a0.9 0.9 0 1 0 1.9 0a0.9 0.9 0 1 0-1.9 0M1341 2150a1.8 1.8 0 1 0 3.5 0a1.8 1.8 0 1 0-3.5 0M1354 2128a1.3 1.3 0 1 0 2.6 0a1.3 1.3 0 1 0-2.6 0M1347 2146a1.6 1.6 0 1 0 3.2 0a1.6 1.6 0 1 0-3.2 0M1350 2121a1.7 1.7 0 1 0 3.3 0a1.7 1.7 0 1 0-3.3 0M1327 2122a1.0 1.0 0 1 0 2.0 0a1.0 1.0 0 1 0-2.0 0M1360 2136a1.5 1.5 0 1 0 3.1 0a1.5 1.5 0 1 0-3.1 0M1327 2129a0.9 0.9 0 1 0 1.9 0a0.9 0.9 0 1 0-1.9 0" fill="#e82828" opacity=".8"/><path d="M1344 2127a1.7 1.7 0 1 0 3.5 0a1.7 1.7 0 1 0-3.5 0M1354 2136a1.4 1.4 0 1 0 2.7 0a1.4 1.4 0 1 0-2.7 0M1367 2149a1.2 1.2 0 1 0 2.5 0a1.2 1.2 0 1 0-2.5 0M1367 2153a1.4 1.4 0 1 0 2.8 0a1.4 1.4 0 1 0-2.8 0M1350 2154a1.6 1.6 0 1 0 3.1 0a1.6 1.6 0 1 0-3.1 0M1328 2147a1.6 1.6 0 1 0 3.3 0a1.6 1.6 0 1 0-3.3 0M1328 2129a1.6 1.6 0 1 0 3.2 0a1.6 1.6 0 1 0-3.2 0" fill="#ff4a3a" opacity=".5"/><path d="M1323 2130a1.2 1.2 0 1 0 2.3 0a1.2 1.2 0 1 0-2.3 0M1321 2126a0.9 0.9 0 1 0 1.8 0a0.9 0.9 0 1 0-1.8 0M1340 2140a1.6 1.6 0 1 0 3.3 0a1.6 1.6 0 1 0-3.3 0M1338 2122a1.1 1.1 0 1 0 2.3 0a1.1 1.1 0 1 0-2.3 0" fill="#ff3030" opacity="1"/><path d="M1337 2133a1.3 1.3 0 1 0 2.6 0a1.3 1.3 0 1 0-2.6 0M1345 2151a1.7 1.7 0 1 0 3.5 0a1.7 1.7 0 1 0-3.5 0M1348 2141a1.6 1.6 0 1 0 3.3 0a1.6 1.6 0 1 0-3.3 0M1340 2151a1.3 1.3 0 1 0 2.6 0a1.3 1.3 0 1 0-2.6 0M1360 2129a1.7 1.7 0 1 0 3.4 0a1.7 1.7 0 1 0-3.4 0M1327 2115a1.3 1.3 0 1 0 2.6 0a1.3 1.3 0 1 0-2.6 0M1329 2149a1.2 1.2 0 1 0 2.4 0a1.2 1.2 0 1 0-2.4 0M1317 2115a1.0 1.0 0 1 0 2.1 0a1.0 1.0 0 1 0-2.1 0M1354 2149a1.7 1.7 0 1 0 3.5 0a1.7 1.7 0 1 0-3.5 0M1335 2113a1.3 1.3 0 1 0 2.6 0a1.3 1.3 0 1 0-2.6 0M1318 2130a1.2 1.2 0 1 0 2.3 0a1.2 1.2 0 1 0-2.3 0M1344 2123a1.1 1.1 0 1 0 2.3 0a1.1 1.1 0 1 0-2.3 0M1364 2144a1.4 1.4 0 1 0 2.7 0a1.4 1.4 0 1 0-2.7 0" fill="#ff3030" opacity=".5"/><path d="M1324 2116a1.8 1.8 0 1 0 3.6 0a1.8 1.8 0 1 0-3.6 0M1353 2124a1.4 1.4 0 1 0 2.8 0a1.4 1.4 0 1 0-2.8 0M1326 2141a1.1 1.1 0 1 0 2.2 0a1.1 1.1 0 1 0-2.2 0M1341 2118a1.1 1.1 0 1 0 2.3 0a1.1 1.1 0 1 0-2.3 0M1333 2133a1.7 1.7 0 1 0 3.3 0a1.7 1.7 0 1 0-3.3 0M1363 2141a1.1 1.1 0 1 0 2.2 0a1.1 1.1 0 1 0-2.2 0M1367 2148a1.0 1.0 0 1 0 2.0 0a1.0 1.0 0 1 0-2.0 0M1350 2133a1.0 1.0 0 1 0 1.9 0a1.0 1.0 0 1 0-1.9 0" fill="#ff4a3a" opacity="1"/><path d="M1326 2143a1.4 1.4 0 1 0 2.7 0a1.4 1.4 0 1 0-2.7 0M1337 2118a1.7 1.7 0 1 0 3.4 0a1.7 1.7 0 1 0-3.4 0M1322 2125a1.6 1.6 0 1 0 3.3 0a1.6 1.6 0 1 0-3.3 0M1365 2138a1.4 1.4 0 1 0 2.9 0a1.4 1.4 0 1 0-2.9 0M1345 2125a1.2 1.2 0 1 0 2.4 0a1.2 1.2 0 1 0-2.4 0M1345 2146a1.5 1.5 0 1 0 3.0 0a1.5 1.5 0 1 0-3.0 0M1347 2140a1.4 1.4 0 1 0 2.8 0a1.4 1.4 0 1 0-2.8 0M1349 2119a1.4 1.4 0 1 0 2.8 0a1.4 1.4 0 1 0-2.8 0M1351 2126a1.5 1.5 0 1 0 3.0 0a1.5 1.5 0 1 0-3.0 0M1338 2136a1.1 1.1 0 1 0 2.3 0a1.1 1.1 0 1 0-2.3 0" fill="#e82828" opacity=".5"/><path d="M1331 2126a1.4 1.4 0 1 0 2.7 0a1.4 1.4 0 1 0-2.7 0M1360 2155a1.3 1.3 0 1 0 2.6 0a1.3 1.3 0 1 0-2.6 0M1349 2130a1.5 1.5 0 1 0 3.0 0a1.5 1.5 0 1 0-3.0 0M1363 2136a1.5 1.5 0 1 0 2.9 0a1.5 1.5 0 1 0-2.9 0M1334 2136a1.4 1.4 0 1 0 2.7 0a1.4 1.4 0 1 0-2.7 0" fill="#e82828" opacity="1"/>
<path d="M1299 2075a1.1 1.1 0 1 0 2.1 0a1.1 1.1 0 1 0-2.1 0M1288 2089a0.9 0.9 0 1 0 1.8 0a0.9 0.9 0 1 0-1.8 0M1298 2083a1.6 1.6 0 1 0 3.3 0a1.6 1.6 0 1 0-3.3 0M1275 2063a1.6 1.6 0 1 0 3.2 0a1.6 1.6 0 1 0-3.2 0M1293 2073a1.1 1.1 0 1 0 2.1 0a1.1 1.1 0 1 0-2.1 0M1302 2080a1.5 1.5 0 1 0 3.0 0a1.5 1.5 0 1 0-3.0 0M1285 2075a0.9 0.9 0 1 0 1.8 0a0.9 0.9 0 1 0-1.8 0M1270 2062a1.1 1.1 0 1 0 2.2 0a1.1 1.1 0 1 0-2.2 0M1288 2086a1.6 1.6 0 1 0 3.2 0a1.6 1.6 0 1 0-3.2 0M1301 2094a1.2 1.2 0 1 0 2.4 0a1.2 1.2 0 1 0-2.4 0M1284 2084a1.5 1.5 0 1 0 2.9 0a1.5 1.5 0 1 0-2.9 0M1291 2068a1.5 1.5 0 1 0 3.0 0a1.5 1.5 0 1 0-3.0 0M1289 2089a1.4 1.4 0 1 0 2.7 0a1.4 1.4 0 1 0-2.7 0" fill="#ff3030" opacity=".8"/><path d="M1297 2080a1.4 1.4 0 1 0 2.8 0a1.4 1.4 0 1 0-2.8 0M1280 2079a1.0 1.0 0 1 0 2.0 0a1.0 1.0 0 1 0-2.0 0M1275 2064a1.5 1.5 0 1 0 3.0 0a1.5 1.5 0 1 0-3.0 0M1300 2087a1.5 1.5 0 1 0 2.9 0a1.5 1.5 0 1 0-2.9 0M1291 2079a1.3 1.3 0 1 0 2.5 0a1.3 1.3 0 1 0-2.5 0M1290 2090a1.7 1.7 0 1 0 3.3 0a1.7 1.7 0 1 0-3.3 0M1290 2093a1.1 1.1 0 1 0 2.1 0a1.1 1.1 0 1 0-2.1 0M1305 2091a1.3 1.3 0 1 0 2.6 0a1.3 1.3 0 1 0-2.6 0M1299 2092a1.0 1.0 0 1 0 2.1 0a1.0 1.0 0 1 0-2.1 0" fill="#e82828" opacity=".5"/><path d="M1283 2082a1.3 1.3 0 1 0 2.5 0a1.3 1.3 0 1 0-2.5 0M1302 2098a1.7 1.7 0 1 0 3.3 0a1.7 1.7 0 1 0-3.3 0M1306 2093a1.5 1.5 0 1 0 3.0 0a1.5 1.5 0 1 0-3.0 0M1293 2070a1.7 1.7 0 1 0 3.3 0a1.7 1.7 0 1 0-3.3 0M1301 2076a1.2 1.2 0 1 0 2.3 0a1.2 1.2 0 1 0-2.3 0M1303 2094a1.0 1.0 0 1 0 2.0 0a1.0 1.0 0 1 0-2.0 0M1302 2084a1.6 1.6 0 1 0 3.2 0a1.6 1.6 0 1 0-3.2 0M1309 2097a1.4 1.4 0 1 0 2.8 0a1.4 1.4 0 1 0-2.8 0M1287 2084a1.5 1.5 0 1 0 3.0 0a1.5 1.5 0 1 0-3.0 0M1295 2079a1.0 1.0 0 1 0 1.9 0a1.0 1.0 0 1 0-1.9 0M1285 2067a1.5 1.5 0 1 0 3.1 0a1.5 1.5 0 1 0-3.1 0M1300 2081a1.3 1.3 0 1 0 2.6 0a1.3 1.3 0 1 0-2.6 0" fill="#ff3030" opacity=".5"/><path d="M1279 2068a1.4 1.4 0 1 0 2.7 0a1.4 1.4 0 1 0-2.7 0M1300 2096a1.1 1.1 0 1 0 2.3 0a1.1 1.1 0 1 0-2.3 0M1293 2070a1.7 1.7 0 1 0 3.3 0a1.7 1.7 0 1 0-3.3 0M1297 2073a1.6 1.6 0 1 0 3.2 0a1.6 1.6 0 1 0-3.2 0M1310 2096a1.6 1.6 0 1 0 3.2 0a1.6 1.6 0 1 0-3.2 0M1286 2066a1.4 1.4 0 1 0 2.9 0a1.4 1.4 0 1 0-2.9 0M1295 2084a1.3 1.3 0 1 0 2.7 0a1.3 1.3 0 1 0-2.7 0M1307 2087a1.2 1.2 0 1 0 2.4 0a1.2 1.2 0 1 0-2.4 0M1305 2098a1.2 1.2 0 1 0 2.4 0a1.2 1.2 0 1 0-2.4 0M1284 2072a1.2 1.2 0 1 0 2.3 0a1.2 1.2 0 1 0-2.3 0M1309 2099a0.9 0.9 0 1 0 1.9 0a0.9 0.9 0 1 0-1.9 0M1303 2083a1.3 1.3 0 1 0 2.6 0a1.3 1.3 0 1 0-2.6 0" fill="#e82828" opacity=".8"/><path d="M1304 2083a0.9 0.9 0 1 0 1.9 0a0.9 0.9 0 1 0-1.9 0M1304 2093a1.7 1.7 0 1 0 3.3 0a1.7 1.7 0 1 0-3.3 0M1294 2095a1.5 1.5 0 1 0 3.0 0a1.5 1.5 0 1 0-3.0 0" fill="#ff3030" opacity="1"/><path d="M1290 2078a1.3 1.3 0 1 0 2.6 0a1.3 1.3 0 1 0-2.6 0" fill="#e82828" opacity="1"/>
</g>
<text x="1182" y="2201" font-size="26" fill="#e41f2d" textLength="120" lengthAdjust="spacingAndGlyphs">tdTomato</text>
<rect x="1383.9" y="2195" width="48.1" height="9" fill="#fff"/>
<circle cx="1824.7" cy="217.1" r="18.9" fill="#e62335" stroke="#fdd20f" stroke-width="3"/>
<circle cx="1785.3" cy="236.7" r="18.9" fill="#e62335" stroke="#fdd20f" stroke-width="3"/>
<circle cx="1856.2" cy="240" r="18.9" fill="#e62335" stroke="#fdd20f" stroke-width="3"/>
<circle cx="1815.9" cy="265.9" r="18.9" fill="#e62335" stroke="#fdd20f" stroke-width="3"/>
<circle cx="1765.4" cy="273.9" r="18.9" fill="#e62335" stroke="#fdd20f" stroke-width="3"/>
<circle cx="1863.6" cy="283.2" r="18.9" fill="#e62335" stroke="#fdd20f" stroke-width="3"/>
<circle cx="1791.7" cy="303.6" r="18.9" fill="#e62335" stroke="#fdd20f" stroke-width="3"/>
<circle cx="1834.6" cy="310.5" r="18.9" fill="#e62335" stroke="#fdd20f" stroke-width="3"/>
<polyline points="1752.9,136 1830.3,213.8 1846.3,220.4" fill="none" stroke="#c4c5c7" stroke-width="3"/>
<polyline points="1830.3,213.8 1836.3,231.7" fill="none" stroke="#c4c5c7" stroke-width="3"/>
<polyline points="1735.9,154.8 1837,257.7 1852.9,263.7" fill="none" stroke="#c4c5c7" stroke-width="3"/>
<polyline points="1837,257.7 1842.9,275.6" fill="none" stroke="#c4c5c7" stroke-width="3"/>
<polyline points="1720.6,169.9 1791.7,243 1805.7,246.4" fill="none" stroke="#c4c5c7" stroke-width="3"/>
<polyline points="1791.7,243 1795.7,257.7" fill="none" stroke="#c4c5c7" stroke-width="3"/>
<polyline points="1707.9,182.5 1811,288.3 1825,292.4" fill="none" stroke="#c4c5c7" stroke-width="3"/>
<polyline points="1811,288.3 1815,303.6" fill="none" stroke="#c4c5c7" stroke-width="3"/>
<polyline points="1690,200.5 1766.5,280.3 1781.8,284.9" fill="none" stroke="#c4c5c7" stroke-width="3"/>
<polyline points="1766.5,280.3 1771.8,295.6" fill="none" stroke="#c4c5c7" stroke-width="3"/>
<polygon points="1828.4,16.6 1838.4,16.6 1835,213.1 1825.6,213.1" fill="#00a0df"/>
<polygon points="1818.5,16.6 1827.4,16.6 1823.8,241.7 1815,241.7" fill="#231f20"/>
<text x="1662.5" y="43.1" font-size="26" textLength="144.4" lengthAdjust="spacingAndGlyphs">Stimulating</text>
<text x="1677.5" y="75.7" font-size="26" textLength="121.1" lengthAdjust="spacingAndGlyphs">electrode</text>
<text x="1866.7" y="59.1" font-size="26" textLength="129.4" lengthAdjust="spacingAndGlyphs">Recording</text>
<text x="1858.4" y="90.3" font-size="26" textLength="152" lengthAdjust="spacingAndGlyphs">optical fiber</text>
<text x="1549.7" y="179.2" font-size="26" textLength="146.7" lengthAdjust="spacingAndGlyphs">Presynaptic</text>
<text x="1564.6" y="211.7" font-size="26" textLength="116.9" lengthAdjust="spacingAndGlyphs">terminals</text>
<text x="1858.4" y="215.7" font-size="26" textLength="159.3" lengthAdjust="spacingAndGlyphs">Postsynaptic</text>
<text x="1886.6" y="247.3" font-size="26" textLength="101.2" lengthAdjust="spacingAndGlyphs">neurons</text>
<text x="1636" y="362.8" font-size="26" textLength="163.4" lengthAdjust="spacingAndGlyphs">Postsynaptic </text><text x="1799.4" y="362.8" font-size="26" fill="#f6a73b" textLength="204.6" lengthAdjust="spacingAndGlyphs">Venus-iGluSnFR</text><text x="2003.9" y="362.8" font-size="26" textLength="23.7" lengthAdjust="spacingAndGlyphs"> +</text>
<text x="1683.1" y="396" font-size="26" textLength="171.7" lengthAdjust="spacingAndGlyphs">Postsynaptic </text><text x="1854.8" y="396" font-size="26" fill="#e41f2d" textLength="118.7" lengthAdjust="spacingAndGlyphs">tdTomato</text>
<circle cx="1803.2" cy="1107.6" r="18.9" fill="#e62335" stroke="#0f9d4a" stroke-width="3"/>
<circle cx="1763.8" cy="1127.2" r="18.9" fill="#e62335" stroke="#0f9d4a" stroke-width="3"/>
<circle cx="1834.7" cy="1130.5" r="18.9" fill="#e62335" stroke="#0f9d4a" stroke-width="3"/>
<circle cx="1794.4" cy="1156.4" r="18.9" fill="#e62335" stroke="#0f9d4a" stroke-width="3"/>
<circle cx="1743.9" cy="1164.4" r="18.9" fill="#e62335" stroke="#0f9d4a" stroke-width="3"/>
<circle cx="1842.1" cy="1173.7" r="18.9" fill="#e62335" stroke="#0f9d4a" stroke-width="3"/>
<circle cx="1770.2" cy="1194.1" r="18.9" fill="#e62335" stroke="#0f9d4a" stroke-width="3"/>
<circle cx="1813.1" cy="1201" r="18.9" fill="#e62335" stroke="#0f9d4a" stroke-width="3"/>
<polyline points="1731.4,1026.5 1808.8,1104.3 1824.8,1110.9" fill="none" stroke="#c4c5c7" stroke-width="3"/>
<polyline points="1808.8,1104.3 1814.8,1122.2" fill="none" stroke="#c4c5c7" stroke-width="3"/>
<polyline points="1714.4,1045.3 1815.5,1148.2 1831.4,1154.2" fill="none" stroke="#c4c5c7" stroke-width="3"/>
<polyline points="1815.5,1148.2 1821.4,1166.1" fill="none" stroke="#c4c5c7" stroke-width="3"/>
<polyline points="1699.1,1060.4 1770.2,1133.5 1784.2,1136.9" fill="none" stroke="#c4c5c7" stroke-width="3"/>
<polyline points="1770.2,1133.5 1774.2,1148.2" fill="none" stroke="#c4c5c7" stroke-width="3"/>
<polyline points="1686.4,1073 1789.5,1178.8 1803.5,1182.9" fill="none" stroke="#c4c5c7" stroke-width="3"/>
<polyline points="1789.5,1178.8 1793.5,1194.1" fill="none" stroke="#c4c5c7" stroke-width="3"/>
<polyline points="1668.5,1091 1745,1170.8 1760.3,1175.4" fill="none" stroke="#c4c5c7" stroke-width="3"/>
<polyline points="1745,1170.8 1750.3,1186.1" fill="none" stroke="#c4c5c7" stroke-width="3"/>
<polygon points="1806.9,907.1 1816.9,907.1 1813.5,1103.6 1804.1,1103.6" fill="#00a0df"/>
<polygon points="1797,907.1 1805.9,907.1 1802.3,1132.2 1793.5,1132.2" fill="#231f20"/>
<text x="1636.7" y="945.7" font-size="26" textLength="145.3" lengthAdjust="spacingAndGlyphs">Stimulating</text>
<text x="1651.9" y="976.9" font-size="26" textLength="121.8" lengthAdjust="spacingAndGlyphs">electrode</text>
<text x="1830.1" y="953.7" font-size="26" textLength="129.5" lengthAdjust="spacingAndGlyphs">Recording</text>
<text x="1821.9" y="986.2" font-size="26" textLength="151" lengthAdjust="spacingAndGlyphs">optical fiber</text>
<text x="1540.4" y="1069.2" font-size="26" textLength="146" lengthAdjust="spacingAndGlyphs">Presynaptic</text>
<text x="1554.7" y="1100.7" font-size="26" textLength="116.8" lengthAdjust="spacingAndGlyphs">terminals</text>
<text x="1843.4" y="1106.4" font-size="26" textLength="159.3" lengthAdjust="spacingAndGlyphs">Postsynaptic</text>
<text x="1872.6" y="1138.2" font-size="26" textLength="100.3" lengthAdjust="spacingAndGlyphs">neurons</text>
<text x="1633.3" y="1253.4" font-size="26" textLength="160.9" lengthAdjust="spacingAndGlyphs">Postsynaptic </text><text x="1794.2" y="1253.4" font-size="26" fill="#12a14b" textLength="150.4" lengthAdjust="spacingAndGlyphs">iGABASnFR</text><text x="1944.6" y="1253.4" font-size="26" textLength="23.3" lengthAdjust="spacingAndGlyphs"> +</text>
<text x="1649.9" y="1284.9" font-size="26" textLength="171.9" lengthAdjust="spacingAndGlyphs">Postsynaptic </text><text x="1821.8" y="1284.9" font-size="26" fill="#e41f2d" textLength="118.9" lengthAdjust="spacingAndGlyphs">tdTomato</text>
<circle cx="1787.2" cy="2007.1" r="18.9" fill="#e62335" stroke="#0f9d4a" stroke-width="3"/>
<circle cx="1787.2" cy="2007.1" r="17.3" fill="none" stroke="#fdd20f" stroke-width="0.9" stroke-dasharray="1.6 1.6"/>
<circle cx="1747.8" cy="2026.7" r="18.9" fill="#e62335" stroke="#0f9d4a" stroke-width="3"/>
<circle cx="1747.8" cy="2026.7" r="17.3" fill="none" stroke="#fdd20f" stroke-width="0.9" stroke-dasharray="1.6 1.6"/>
<circle cx="1818.7" cy="2030" r="18.9" fill="#e62335" stroke="#0f9d4a" stroke-width="3"/>
<circle cx="1818.7" cy="2030" r="17.3" fill="none" stroke="#fdd20f" stroke-width="0.9" stroke-dasharray="1.6 1.6"/>
<circle cx="1778.4" cy="2055.9" r="18.9" fill="#e62335" stroke="#0f9d4a" stroke-width="3"/>
<circle cx="1778.4" cy="2055.9" r="17.3" fill="none" stroke="#fdd20f" stroke-width="0.9" stroke-dasharray="1.6 1.6"/>
<circle cx="1727.9" cy="2063.9" r="18.9" fill="#e62335" stroke="#0f9d4a" stroke-width="3"/>
<circle cx="1727.9" cy="2063.9" r="17.3" fill="none" stroke="#fdd20f" stroke-width="0.9" stroke-dasharray="1.6 1.6"/>
<circle cx="1826.1" cy="2073.2" r="18.9" fill="#e62335" stroke="#0f9d4a" stroke-width="3"/>
<circle cx="1826.1" cy="2073.2" r="17.3" fill="none" stroke="#fdd20f" stroke-width="0.9" stroke-dasharray="1.6 1.6"/>
<circle cx="1754.2" cy="2093.6" r="18.9" fill="#e62335" stroke="#0f9d4a" stroke-width="3"/>
<circle cx="1754.2" cy="2093.6" r="17.3" fill="none" stroke="#fdd20f" stroke-width="0.9" stroke-dasharray="1.6 1.6"/>
<circle cx="1797.1" cy="2100.5" r="18.9" fill="#e62335" stroke="#0f9d4a" stroke-width="3"/>
<circle cx="1797.1" cy="2100.5" r="17.3" fill="none" stroke="#fdd20f" stroke-width="0.9" stroke-dasharray="1.6 1.6"/>
<polyline points="1715.4,1926 1792.8,2003.8 1808.8,2010.4" fill="none" stroke="#c4c5c7" stroke-width="3"/>
<polyline points="1792.8,2003.8 1798.8,2021.7" fill="none" stroke="#c4c5c7" stroke-width="3"/>
<polyline points="1698.4,1944.8 1799.5,2047.7 1815.4,2053.7" fill="none" stroke="#c4c5c7" stroke-width="3"/>
<polyline points="1799.5,2047.7 1805.4,2065.6" fill="none" stroke="#c4c5c7" stroke-width="3"/>
<polyline points="1683.1,1959.9 1754.2,2033 1768.2,2036.4" fill="none" stroke="#c4c5c7" stroke-width="3"/>
<polyline points="1754.2,2033 1758.2,2047.7" fill="none" stroke="#c4c5c7" stroke-width="3"/>
<polyline points="1670.4,1972.5 1773.5,2078.3 1787.5,2082.4" fill="none" stroke="#c4c5c7" stroke-width="3"/>
<polyline points="1773.5,2078.3 1777.5,2093.6" fill="none" stroke="#c4c5c7" stroke-width="3"/>
<polyline points="1652.5,1990.5 1729,2070.3 1744.3,2074.9" fill="none" stroke="#c4c5c7" stroke-width="3"/>
<polyline points="1729,2070.3 1734.3,2085.6" fill="none" stroke="#c4c5c7" stroke-width="3"/>
<polygon points="1790.9,1809.1 1800.9,1809.1 1797.5,2003.1 1788.1,2003.1" fill="#00a0df"/>
<polygon points="1781,1809.1 1789.9,1809.1 1786.3,2031.7 1777.5,2031.7" fill="#231f20"/>
<text x="1610.4" y="1859.6" font-size="26" textLength="144.4" lengthAdjust="spacingAndGlyphs">Stimulating</text>
<text x="1626" y="1892.1" font-size="26" textLength="120.5" lengthAdjust="spacingAndGlyphs">electrode</text>
<text x="1816.9" y="1859.6" font-size="26" textLength="129.4" lengthAdjust="spacingAndGlyphs">Recording</text>
<text x="1808.6" y="1892.1" font-size="26" textLength="152" lengthAdjust="spacingAndGlyphs">optical fiber</text>
<text x="1515.8" y="1975.1" font-size="26" textLength="146.7" lengthAdjust="spacingAndGlyphs">Presynaptic</text>
<text x="1531.4" y="2007.3" font-size="26" textLength="116.2" lengthAdjust="spacingAndGlyphs">terminals</text>
<text x="1823.5" y="2000.6" font-size="26" textLength="159.3" lengthAdjust="spacingAndGlyphs">Postsynaptic</text>
<text x="1851.7" y="2033.8" font-size="26" textLength="101.3" lengthAdjust="spacingAndGlyphs">neurons</text>
<text x="1589.5" y="2154.3" font-size="26" textLength="163.6" lengthAdjust="spacingAndGlyphs">Postsynaptic </text><text x="1753.1" y="2154.3" font-size="26" fill="#f6a73b" textLength="204.9" lengthAdjust="spacingAndGlyphs">Venus-iGluSnFR</text><text x="1958.1" y="2154.3" font-size="26" textLength="23.7" lengthAdjust="spacingAndGlyphs"> +</text>
<text x="1618.7" y="2185.8" font-size="26" textLength="160.3" lengthAdjust="spacingAndGlyphs">Postsynaptic </text><text x="1779" y="2185.8" font-size="26" fill="#12a14b" textLength="149.8" lengthAdjust="spacingAndGlyphs">iGABASnFR</text><text x="1928.8" y="2185.8" font-size="26" textLength="23.2" lengthAdjust="spacingAndGlyphs"> +</text>
<text x="1635.3" y="2219" font-size="26" textLength="171.5" lengthAdjust="spacingAndGlyphs">Postsynaptic </text><text x="1806.8" y="2219" font-size="26" fill="#e41f2d" textLength="118.6" lengthAdjust="spacingAndGlyphs">tdTomato</text>
<line x1="175" y1="458.9" x2="175" y2="770" stroke="#231f20" stroke-width="1.5"/>
<line x1="164" y1="770" x2="175" y2="770" stroke="#231f20" stroke-width="1.5"/>
<line x1="164" y1="707.8" x2="175" y2="707.8" stroke="#231f20" stroke-width="1.5"/>
<line x1="164" y1="645.6" x2="175" y2="645.6" stroke="#231f20" stroke-width="1.5"/>
<line x1="164" y1="583.4" x2="175" y2="583.4" stroke="#231f20" stroke-width="1.5"/>
<line x1="164" y1="521.2" x2="175" y2="521.2" stroke="#231f20" stroke-width="1.5"/>
<line x1="164" y1="459" x2="175" y2="459" stroke="#231f20" stroke-width="1.5"/>
<text x="149.5" y="777.5" font-size="21.5" text-anchor="end">0</text>
<text x="149.5" y="715.3" font-size="21.5" text-anchor="end">0.5</text>
<text x="149.5" y="653.1" font-size="21.5" text-anchor="end">1.0</text>
<text x="149.5" y="590.9" font-size="21.5" text-anchor="end">1.5</text>
<text x="149.5" y="528.7" font-size="21.5" text-anchor="end">2.0</text>
<text x="149.5" y="466.5" font-size="21.5" text-anchor="end">2.5</text>
<line x1="164" y1="770" x2="488" y2="770" stroke="#231f20" stroke-width="1.5"/>
<line x1="226.8" y1="770" x2="226.8" y2="781" stroke="#231f20" stroke-width="1.5"/>
<line x1="330.6" y1="770" x2="330.6" y2="781" stroke="#231f20" stroke-width="1.5"/>
<line x1="434.4" y1="770" x2="434.4" y2="781" stroke="#231f20" stroke-width="1.5"/>
<text x="226.8" y="810.4" font-size="21.5" text-anchor="middle">500</text>
<text x="330.6" y="810.4" font-size="21.5" text-anchor="middle">600</text>
<text x="434.4" y="810.4" font-size="21.5" text-anchor="middle">700</text>
<text x="331.6" y="853.5" font-size="26" text-anchor="middle" textLength="215.8" lengthAdjust="spacingAndGlyphs">Wavelength (nm)</text>
<text x="53" y="614" font-size="26" text-anchor="middle" textLength="118" lengthAdjust="spacingAndGlyphs" transform="rotate(-90 53 614)">Intensity</text>
<text x="92" y="614" font-size="26" text-anchor="middle" textLength="318" lengthAdjust="spacingAndGlyphs" transform="rotate(-90 92 614)">(normalized to tdTomato)</text>
<path d="M174.9 770.2l.6-.2 .6 1.1 .7-1.9 .6 1.7 .6-.5 .6-.7 .7 .9 .6-.1 .6 0 .6-.8 .7-.8 .6 1.1 .6 .6 .6-.9 .6 .6 .7-.3 .6-.6 .6 1 .6-.4 .7 .4 .6-.3 .6-.2 .6 .6 .6-.3 .7-.1 .6 .2 .6 .3 .6 .1 .7-.6 .6 0 .6-1.2 .6 2.3 .7-1.3 .6-.1 .6-.5 .6 .5 .6 .6 .7-.4 .6-.3 .6 .5 .6-.6 .7 1.3 .6-1.8 .6 .2 .6 .9 .6-.5 .7 .3 .6 .4 .6-.4 .6-.5 .7 .7 .6 0 .6-.2 .6-.2 .7-.4 .6 .9 .6-.6 .6 .2 .6 1 .7-.7 .6-.1 .6-.1 .6-.2 .7 1.2 .6-1 .6 .3 .6 .4 .7-1 .6-.1 .6 .7 .6-.7 .6 .3 .7-.9 .6-.4 .6-2.8 .6 .2 .7-3.4 .6-2.7 .6-1.2 .6-3.6 .6-3 .7-3.6 .6-3.7 .6-3 .6-3.6 .7-5.7 .6-4.4 .6-3.6 .6-4.9 .7-4.6 .6-4.7 .6-4.7 .6-5.6 .6-3.5 .7-6.6 .6-4.9 .6-5 .6-5.9 .7-3.6 .6-7.3 .6-5.3 .6-5 .6-6.8 .7-5.6 .6-7.4 .6-5.6 .6-5.3 .7-5.4 .6-6 .6-6.1 .6-5.8 .7-5.8 .6-6.2 .6-6.1 .6-5.8 .6-5.4 .7-5.2 .6-6.7 .6-2.7 .6-4.7 .7-5.2 .6-4.1 .6-4.8 .6-4.2 .7-3.6 .6-2.7 .6-1.5 .6-2.9 .6-.5 .7-2.4 .6-.9 .6-.1 .6-.6 .7 1.2 .6 .8 .6 3.1 .6 1.3 .6 3.1 .7 3.5 .6 4.5 .6 3.2 .6 4.4 .7 4.1 .6 1.3 .6 5.2 .6 3.6 .7 5.2 .6 3.6 .6 4.1 .6 4.1 .6 4.3 .7 4.1 .6 4.9 .6 3.5 .6 5.8 .7 6.2 .6 9.9 .6 11.9 .6 16.9 .6 18.8 .7 19.3 .6 21.4 .6 20.3 .6 15.5 .7 12.3 .6 10 .6 6.1 .6 .7 .7 3.3 .6 .7 .6 2 .6-1.2 .6-.2 .7 .6 .6 .2 .6-.6 .6 .4 .7 .1 .6-.9 .6-.1 .6 .5 .6 .4 .7-.5 .6-.1 .6 .1 .6 1 .7-.5 .6-.4 .6-.1 .6-.2 .7 .1 .6 1 .6-.2 .6-1.3 .6-4.5 .7-3.6 .6-6.2 .6-7.7 .6-6.8 .7-7 .6-7.9 .6-7.6 .6-8.3 .7-7.1 .6-6.3 .6-7.4 .6-5.9 .6-4.4 .7-5 .6-3.2 .6-5.2 .6-3.5 .7-2.7 .6-3 .6-2.7 .6-1.3 .6-1.9 .7-1.6 .6-.3 .6-.9 .6-1.4 .7 1.3 .6 1.3 .6 .3 .6 1.4 .7-.3 .6 1.3 .6 .8 .6 1.2 .6 1.5 .7 1 .6 1.6 .6 1.7 .6 1.4 .7 1 .6 2.3 .6-.8 .6 3.2 .6 .6 .7 2.1 .6 1.9 .6 .5 .6 1.6 .7 1.4 .6 1.2 .6 2.1 .6 1 .7 1.4 .6 1.9 .6 1.4 .6 1 .6 1.6 .7 1.3 .6 2.6 .6 .1 .6 1.2 .7 1.6 .6 1.1 .6 .6 .6 2.2 .7 1.1 .6 2.1 .6 1.3 .6 1.2 .6 1.6 .7 .7 .6 1.6 .6 .7 .6 1.7 .7 1.1 .6 .5 .6 1.1 .6 .8 .6 .9 .7 .9 .6 .2 .6 .9 .6 1.2 .7 1.6 .6 0 .6 2.5 .6 1.2 .7-.3 .6 1 .6 .9 .6 .7 .6 1.5 .7 .5 .6-.4 .6 .8 .6 1.7 .7-.6 .6 2.2 .6 .5 .6 .3 .6 1.5 .7 .4 .6 .6 .6 .8 .6 .1 .7 .7 .6 1.4 .6 .3 .6 .1 .7 .7 .6 .9 .6-.1 .6 .3 .6 1.2 .7-.1 .6 1.7 .6 .5 .6-.5 .7 1.2 .6 .5 .6 .2 .6 .6 .7-.1 .6 1.3 .6-.1 .6-1.4 .6 1.9 .7 1.3 .6-.8 .6 .4 .6-.1 .7 1 .6 .8 .6-.7 .6 .8 .6 1.6 .7-.9 .6 .8 .6-.3 .6 1 .7-.2 .6 .6 .6 .1 .6 .6 .7 .4 .6 .1 .6 0 .6 .4 .6-.3 .7 .9 .6 .2 .6-.4 .6 1.3 .7 0 .6 .8 .6-.1 .6-.6 .6 .8 .7-.4 .6 1.4 .6 .3 .6-.7 .7 1 .6-1.9 .6 .9 .6 1.4 .7-.4 .6 .4 .6-.4 .6 .4 .6-.3 .7-.2 .6 1 .6 .6 .6-.7 .7 .5 .6-.5 .6 .8 .6-.3 .7 .4 .6 .4 .6 .3 .6-.4 .6-.8 .7 1 .6 .6 .6-.3 .6 .5 .7 .8 .6-.7 .6-.6 .6 1 .6 .5 .7-.7 .6-.6 .6 .5 .6 0 .7-.5 .6 .4 .6 .5 .6 .6 .7-.1 .6 .2 .6-.4 .6 .9 .6-1.1 .7 .7 .6 .4 .6-.6 .6 1.6 .7-.6 .6 0 .6-.7 .6 .8 .6-.9 .7 1 .6-.4 .6 .7 .6-.9 .7 .8 .6-.3 .6 .6 .6 .4 .7-.2 .6-.6 .6 1.2 .6 .4 .6-.4 .7-.3 .6 1.1 .6 .1 .6 0 .7 .7 .6 .2 .6 0 .6 1 .6 .5 .7 .1 .6 .9 .6 1 .6 .6 .7 .6 .6-1 .6 1.5 .6 0 .7 .1 .6 1 .6-.8 .6 .6 .6 .7 .7-.9 .6 .4 .6-.3 .6-.4 .7-.9 .6 1.3 .6-.1 .6-.3 .7 .1 .6 .2 .6 .4 .6 0 .6-.4 .7 .5 .6-.3 .6 .3 .6-1.2 .7 1.3 .6-1.6 .6 1.2 .6 .2 .6 .1 .7-1 .6-.1 .6 .9 .6-.6 .7 .3 .6 0 .6-.2 .6-.3 .7 1.4 .6 .1 .6-1.2 .6 .1 .6-.3 .7 1.1 .6-.3 .6-1.3 .6 1.5 .7-.9 .6 .6 .6-.2 .6 .5 .6-1.3 .7 1.5 .6-.3" fill="none" stroke="#231f20" stroke-width="3.2"/>
<path d="M174.9 768.7l.6 1 .6 .2 .7 1.5 .6-1.2 .6 .1 .6-.2 .7 .4 .6-.5 .6 .4 .6 .6 .7-1.7 .6 0 .6-.6 .6 1.3 .6 .3 .7 .1 .6 .8 .6-1.9 .6 1.5 .7 .1 .6-.7 .6-1.3 .6 .9 .6 1 .7-.3 .6-1 .6 .6 .6 .5 .7-.4 .6-.8 .6-.9 .6 2.4 .7-.4 .6 .1 .6 1.2 .6-1.1 .6 .1 .7-1.6 .6 .9 .6 1.1 .6-1.7 .7 .8 .6 1 .6-.9 .6 0 .6 .3 .7-.7 .6 1.7 .6-1.5 .6-1 .7 .2 .6-.2 .6 0 .6-.3 .7 1.9 .6-1.4 .6 2 .6-1 .6 1 .7-2.2 .6-.2 .6 1.1 .6-1.4 .7 1.8 .6-.6 .6 0 .6 .9 .7-1.1 .6-1.1 .6 2.2 .6-1.5 .6 .5 .7-2 .6-.2 .6-1.6 .6-1.8 .7-1.8 .6-1.1 .6-4.6 .6-.7 .6-4.1 .7-3.5 .6-2.4 .6-4.5 .6-4.8 .7-3.5 .6-3.8 .6-3 .6-5.9 .7-4.8 .6-4.6 .6-4.3 .6-5.6 .6-4 .7-5 .6-5.3 .6-3.6 .6-5.2 .7-6.5 .6-3.8 .6-3.2 .6-5.6 .6-5.3 .7-5.3 .6-4 .6-4.3 .6-4.6 .7-5.6 .6-4.2 .6-3.8 .6-4.5 .7-4 .6-5.1 .6-3.1 .6-5.1 .6-4.3 .7-3.8 .6-3 .6-5.5 .6-2.4 .7-4.6 .6-3 .6-3.1 .6-4.9 .7-3 .6-2.2 .6-2.3 .6-.9 .6-1.6 .7-1.8 .6-2.5 .6 .5 .6 1.2 .7-.1 .6 1.9 .6 1.7 .6 1.1 .6 3.5 .7 3.8 .6 2.6 .6 2.5 .6 3.2 .7 2.5 .6 4.8 .6 2.4 .6 3.7 .7 4 .6 2.8 .6 3.7 .6 4.5 .6 2.1 .7 5.1 .6 2.5 .6 4.2 .6 4.5 .7 6.5 .6 7.5 .6 11.2 .6 12.7 .6 17.1 .7 16.9 .6 18.1 .6 17.8 .6 11 .7 13 .6 9.4 .6 3.1 .6 4 .7 .5 .6 .4 .6 1.4 .6-.2 .6 .1 .7-.3 .6 1.1 .6-.3 .6-.8 .7-.9 .6 .3 .6-.8 .6 .8 .6 .9 .7-.3 .6 1.4 .6-.8 .6 .1 .7-1 .6-.3 .6 .9 .6 0 .7 .8 .6-1.1 .6-.3 .6-1.6 .6-2.1 .7-6.5 .6-5.4 .6-6.5 .6-7.2 .7-7.6 .6-7.8 .6-7.3 .6-7.9 .7-7.6 .6-7.7 .6-6.4 .6-5 .6-5.6 .7-4 .6-3.9 .6-6 .6-2 .7-5 .6-1 .6-2.7 .6-2.2 .6-.7 .7-1.8 .6-.6 .6-.4 .6-.4 .7 .7 .6-1 .6 2.1 .6-.6 .7 4.1 .6-1 .6 .7 .6 1.8 .6 .2 .7 1.6 .6 1.9 .6 .7 .6-.5 .7 3.2 .6 1.2 .6 2 .6 .9 .6 2.6 .7 .6 .6-.4 .6 2.5 .6 1.8 .7 1.1 .6 1 .6 2.4 .6 .4 .7 2.2 .6 2.2 .6 .2 .6 4.5 .6 0 .7 .8 .6 2.2 .6 .8 .6 1.7 .7 1.3 .6-1.2 .6 2.9 .6 1.9 .7 .3 .6 2.5 .6 .5 .6 1.8 .6 .3 .7 3.6 .6-.5 .6 1.6 .6 1.9 .7-.6 .6 2.4 .6-.9 .6 1.8 .6 .8 .7 1.4 .6 .4 .6 3 .6-.4 .7 1.4 .6 .3 .6 1.3 .6 .4 .7 2 .6-1.2 .6 .5 .6 2.6 .6 .6 .7 .6 .6 0 .6 .2 .6 3.1 .7 .3 .6 1.1 .6 .8 .6 1.1 .6-.7 .7 1.8 .6-1.2 .6 1.2 .6 2.1 .7 .6 .6 .2 .6-1 .6 2.2 .7 1.1 .6-.6 .6 .2 .6 1.3 .6-1.2 .7 1.6 .6 .3 .6 1.5 .6-.1 .7 .7 .6 2 .6-1.4 .6 3.4 .7-2.2 .6 2.5 .6-4.8 .6 2.9 .6-.5 .7 .3 .6 3.7 .6 1.8 .6-2.5 .7-1.5 .6 1.6 .6-.6 .6 .1 .6 4 .7-2.3 .6-2.1 .6 4.1 .6 2.5 .7-2.4 .6 .6 .6-1 .6 2.3 .7-1.2 .6 3.8 .6-4.3 .6-.8 .6 .7 .7 4.5 .6-2.4 .6 5.2 .6-4.6 .7 .8 .6 1.6 .6-1.8 .6 .5 .6-1 .7 1.3 .6 0 .6 3.4 .6-1 .7-.9 .6-1 .6 .6 .6-2.1 .7 3.7 .6-.8 .6-.6 .6 .9 .6-.9 .7 1.7 .6-2.8 .6 2.7 .6-2 .7 1.9 .6-2.1 .6 4.4 .6-2.7 .7 1.6 .6-.8 .6-1.3 .6 3.6 .6 .4 .7-.3 .6-1.7 .6 3.3 .6-2.8 .7 2.1 .6-.1 .6-1 .6-1.1 .6 1.6 .7-.1 .6-.6 .6 .4 .6 3.6 .7-3.2 .6-.7 .6-1.5 .6-1.3 .7 2.1 .6 1 .6 1.6 .6-1.5 .6-.9 .7-.7 .6 3.3 .6-1.6 .6-.8 .7-1.5 .6 2.5 .6 1.3 .6 .2 .6-.4 .7 .5 .6-2.1 .6-.3 .6 .6 .7-.6 .6 2.5 .6-1.1 .6 1.3 .7-.5 .6-1.6 .6 2 .6 2.9 .6-2.3 .7 .9 .6 1.5 .6-.8 .6-2.2 .7-.6 .6 3.7 .6-1.8 .6 .2 .6 3.9 .7-1.2 .6 .5 .6 .3 .6 3.1 .7-1.3 .6-1.5 .6 .1 .6-.5 .7 3.5 .6-3.2 .6 1.8 .6 3 .6-3.1 .7 1.6 .6-1.3 .6 1 .6-2 .7 1.4 .6 .8 .6-1.8 .6 1 .7 1 .6-2.5 .6 2.5 .6 .4 .6-.2 .7 1.4 .6-1.4 .6-3.6 .6 4.2 .7-1.4 .6 1.7 .6-.8 .6-3.2 .6 1 .7 2.2 .6-.9 .6 1.2 .6 0 .7 .2 .6-.1 .6-1.8 .6-.4 .7 .2 .6 1 .6 1.7 .6-1.9 .6 1.3 .7-2.7 .6 .5 .6-.3 .6 1.6 .7 2.2 .6-4.1 .6-.4 .6 4 .6-2.4 .7-1.6 .6 3.4" fill="none" stroke="#1aa3dd" stroke-width="2.6" stroke-dasharray="4 2.5"/>
<line x1="374" y1="517.3" x2="397.8" y2="517.3" stroke="#231f20" stroke-width="3"/>
<text x="419.8" y="524.8" font-size="22.5" textLength="87" lengthAdjust="spacingAndGlyphs">Baseline</text>
<line x1="374" y1="558" x2="397.8" y2="558" stroke="#1aa3dd" stroke-width="2.6" stroke-dasharray="3 2"/>
<text x="419.8" y="565.4" font-size="22.5" textLength="43" lengthAdjust="spacingAndGlyphs">DBS</text>
<text x="199.7" y="484.8" font-size="26" fill="#f6a73b" textLength="202.5" lengthAdjust="spacingAndGlyphs">Venus-iGluSnFR</text>
<text x="287" y="620.6" font-size="26" fill="#e41f2d" textLength="121.6" lengthAdjust="spacingAndGlyphs">tdTomato</text>
<line x1="163.2" y1="1371.5" x2="163.2" y2="1676.8" stroke="#231f20" stroke-width="1.5"/>
<line x1="152.2" y1="1676.8" x2="163.2" y2="1676.8" stroke="#231f20" stroke-width="1.5"/>
<line x1="152.2" y1="1575" x2="163.2" y2="1575" stroke="#231f20" stroke-width="1.5"/>
<line x1="152.2" y1="1473.2" x2="163.2" y2="1473.2" stroke="#231f20" stroke-width="1.5"/>
<line x1="152.2" y1="1371.4" x2="163.2" y2="1371.4" stroke="#231f20" stroke-width="1.5"/>
<text x="138.8" y="1684.3" font-size="21.5" text-anchor="end">0</text>
<text x="138.8" y="1582.5" font-size="21.5" text-anchor="end">0.5</text>
<text x="138.8" y="1480.7" font-size="21.5" text-anchor="end">1.0</text>
<text x="138.8" y="1378.9" font-size="21.5" text-anchor="end">1.5</text>
<line x1="150.6" y1="1676.8" x2="470.5" y2="1676.8" stroke="#231f20" stroke-width="1.5"/>
<line x1="215" y1="1676.8" x2="215" y2="1687.8" stroke="#231f20" stroke-width="1.5"/>
<line x1="316.9" y1="1676.8" x2="316.9" y2="1687.8" stroke="#231f20" stroke-width="1.5"/>
<line x1="418.8" y1="1676.8" x2="418.8" y2="1687.8" stroke="#231f20" stroke-width="1.5"/>
<text x="215" y="1718.8" font-size="21.5" text-anchor="middle">500</text>
<text x="316.9" y="1718.8" font-size="21.5" text-anchor="middle">600</text>
<text x="418.8" y="1718.8" font-size="21.5" text-anchor="middle">700</text>
<text x="317.4" y="1759.4" font-size="26" text-anchor="middle" textLength="215.8" lengthAdjust="spacingAndGlyphs">Wavelength (nm)</text>
<text x="40" y="1524" font-size="26" text-anchor="middle" textLength="118" lengthAdjust="spacingAndGlyphs" transform="rotate(-90 40 1524)">Intensity</text>
<text x="79" y="1524" font-size="26" text-anchor="middle" textLength="318" lengthAdjust="spacingAndGlyphs" transform="rotate(-90 79 1524)">(normalized to tdTomato)</text>
<path d="M164 1676.8l.7-.4 .6 1.2 .6-1.4 .6 .9 .6 1 .6-.8 .6-1 .6 .2 .7 1.2 .6-1.4 .6 .6 .6-.4 .6 0 .6 1.2 .6-1.2 .6 .8 .6-1.8 .7 .7 .6 .6 .6 .8 .6-.8 .6-.1 .6 1.1 .6-2.8 .6 1.5 .6-1.1 .7 2.3 .6-2.2 .6 2.4 .6-.6 .6-.9 .6 .4 .6 1.9 .6-1 .6-1.6 .7-1 .6 1 .6 .9 .6-.8 .6 1.5 .6-1.3 .6 1.5 .6-1.1 .7 .1 .6-.8 .6 .9 .6-1.2 .6 1.2 .6-.9 .6 .1 .6 2.1 .6-1.5 .7 0 .6 .6 .6-.7 .6 1.3 .6-1.7 .6 .1 .6 .2 .6-1.8 .6 1.7 .7 .2 .6 .7 .6-.8 .6 1 .6-1.8 .6 1.5 .6-.6 .6-2.1 .6-.6 .7-1.1 .6-3.7 .6-2.9 .6-5.4 .6-4.7 .6-5.1 .6-7.8 .6-7.8 .7-7.3 .6-8.5 .6-10.3 .6-8.7 .6-11.6 .6-9.8 .6-12.7 .6-8.1 .6-9 .7-11.2 .6-7.8 .6-8.3 .6-7.6 .6-7 .6-6.1 .6-7.1 .6-5.2 .6-4.2 .7-4.9 .6-3.6 .6-4.8 .6-3.7 .6-2.9 .6-2.6 .6-1.5 .6-3 .6 .5 .7 .2 .6 1.7 .6 1.9 .6 3.8 .6 2.8 .6 6.5 .6 7.2 .6 4.6 .6 6.3 .7 3.3 .6 4.6 .6 6.2 .6 3.8 .6 5 .6 3.7 .6 3 .6 5.7 .7 4.7 .6 2 .6 3.6 .6 2.9 .6 2.4 .6 3.9 .6 3.5 .6 0 .6 3.6 .7 3 .6 2.1 .6 .2 .6 2.7 .6 1.7 .6 1.2 .6 3 .6 2.1 .6 1.4 .7 1.6 .6 .6 .6 1.6 .6 .1 .6 1.1 .6 .4 .6 .2 .6 .1 .6 .7 .7 2.1 .6 1 .6 1.7 .6 0 .6 1.6 .6 4.7 .6 2.6 .6 6.5 .7 7.6 .6 8.8 .6 10.5 .6 9.5 .6 11.8 .6 8.3 .6 6.5 .6 5.8 .6 2.9 .7 4.2 .6 0 .6 2.1 .6-.6 .6-.4 .6-1.4 .6 .9 .6-.4 .6 1.2 .7-1.6 .6 1.9 .6 0 .6 .8 .6-1.2 .6-.7 .6 1.4 .6-.2 .6 .1 .7-.1 .6 .2 .6 .6 .6-2.2 .6 2.7 .6-.8 .6-1.1 .6-.5 .7 1 .6-1.2 .6-2.7 .6-3.4 .6-5.8 .6-5 .6-7 .6-8.9 .6-10.3 .7-11.9 .6-12.5 .6-10.6 .6-11.1 .6-11.2 .6-13.2 .6-7.5 .6-9.5 .6-9.4 .7-6.2 .6-8 .6-6.5 .6-5.6 .6-6.6 .6-4.5 .6-1.6 .6-6.3 .6-2.4 .7-3.2 .6-2.4 .6-.5 .6-2 .6-.7 .6-3.5 .6-.9 .6 1.3 .6 1.1 .7-1.6 .6 1.7 .6-.9 .6 .5 .6 1.1 .6 2.8 .6 1.7 .6 1 .7 1 .6 2.1 .6-.3 .6 1.9 .6 2 .6 1.7 .6 .7 .6 .9 .6 4.3 .7-.2 .6 2.1 .6 2 .6 1.3 .6 1.2 .6 .2 .6 3.2 .6 2.1 .6 2.3 .7 .2 .6 3 .6 1.4 .6 1.1 .6 2.4 .6 2.2 .6 1.6 .6 1 .6 2.6 .7 1.6 .6 1.7 .6 2.4 .6 1.3 .6 2.3 .6 .7 .6 2.4 .6 3.6 .7 .6 .6 .8 .6 2.9 .6 2 .6 .7 .6 3.5 .6 .9 .6 1.4 .6 1.6 .7 3.4 .6 2 .6-.4 .6 3.7 .6 1.2 .6-.2 .6 4.2 .6 3.3 .6-2.3 .7 3.3 .6 2.4 .6-.2 .6 4.2 .6 .6 .6 3 .6 2.1 .6 1 .6 1.7 .7 1.4 .6 1.8 .6 3 .6 1.2 .6-.2 .6 2.5 .6 1.9 .6 .5 .6 1.4 .7 1.5 .6 3 .6 1.3 .6 .6 .6 1.1 .6 3.4 .6 .9 .6 1.2 .7 .4 .6 3.9 .6-5 .6 5.4 .6 .2 .6-1.5 .6 3.7 .6 .9 .6 2.6 .7 .1 .6 3.6 .6-.5 .6 .9 .6 2.8 .6-2.2 .6 2 .6 4.8 .6-3.4 .7 3.7 .6-1.8 .6 2.9 .6-.1 .6-.6 .6-1.9 .6 6.2 .6-1.3 .6 .7 .7-1.8 .6 2.8 .6-.5 .6-.8 .6 1.5 .6 2.5 .6 .6 .6 .3 .7-.1 .6 2.2 .6-.9 .6-.5 .6 2.2 .6 .5 .6-.8 .6-.3 .6 4 .7-.1 .6-3.2 .6 2.6 .6 2.2 .6-1.5 .6-1.9 .6 4 .6 .9 .6-.9 .7-2.7 .6 3.8 .6-1.7 .6-.6 .6 .8 .6 1.7 .6-1.4 .6 1 .6-.9 .7 .9 .6 .6 .6 3.2 .6-3.7 .6 1.4 .6 3.4 .6-3.1 .6-.4 .7 .9 .6 3.9 .6-2.6 .6 .6 .6-.9 .6 3.4 .6-4 .6-.2 .6 .1 .7 1.2 .6 .3 .6-1.6 .6 1 .6 1.6 .6-1 .6-.5 .6-.7 .6 1.3 .7 2.2 .6-.4 .6-1 .6 0 .6-1 .6 4.8 .6-1.8 .6 .8 .6-3.5 .7 .7 .6 .8 .6-.6 .6 2.3 .6-1.6 .6 .9 .6 .2 .6 .5 .6-1.5 .7 0 .6 4.3 .6-1.3 .6-.7 .6-.4 .6 4 .6-.4 .6-.2 .7-2.4 .6 5.2 .6 .1 .6 .3 .6 1 .6 .4 .6 1.1 .6 1 .6-.2 .7 .4 .6 0 .6 0 .6 2.6 .6-2.2 .6 0 .6-1 .6 .2 .6-1.4 .7 3.8 .6-1.1 .6-.6 .6 1.4 .6-.6 .6 .2 .6 .2 .6-4.5 .6 3.8 .7-2.5 .6 3.8 .6-1.9 .6 1.5 .6-1.6 .6-2.1 .6-.5 .6 1.9 .7 .5 .6 .8 .6-.7 .6-1.6 .6 4.9 .6-2.2 .6 1.1 .6-3.2 .6 3.6 .7-3.3 .6 3.2 .6-.1 .6-4.2 .6 .8 .6 3.1 .6 1.3 .6-1.2 .6-2.5 .7 1 .6 1.5 .6-2.4 .6-1.4 .6 4.1 .6-1.7 .6 1.1 .6-3 .6 1.6 .7 1.2 .6 1.6 .6-3.8 .6 1.6 .6-.7 .6 .6 .6-1 .6 3.5 .7-1.5 .6-1.9 .6-2.4 .6 2.4 .6 .7 .6 .9" fill="none" stroke="#231f20" stroke-width="3.2"/>
<path d="M164 1676.3l.7 .9 .6-3.4 .6 3.3 .6-.4 .6-1.8 .6 3 .6-.4 .6-.9 .7 .6 .6 1.1 .6-1.2 .6 .1 .6-1.1 .6 2.7 .6-1.1 .6-2.3 .6-.9 .7 4.1 .6-2.6 .6 2 .6-.2 .6 .1 .6-.6 .6-1.7 .6 .3 .6 .8 .7 .5 .6-.4 .6 .1 .6-1.1 .6 1.8 .6-.8 .6 .1 .6 0 .6-.4 .7 .1 .6-1.4 .6 1.7 .6-2 .6 2.3 .6 .2 .6-.7 .6-.3 .7 .1 .6-1.3 .6 .2 .6 .8 .6 1 .6-.3 .6-1.8 .6 1.4 .6 1.9 .7-.8 .6-.1 .6-2.1 .6 1.5 .6-2.9 .6 2 .6 .6 .6 .7 .6-1.7 .7 1.5 .6 .7 .6-1.7 .6 .7 .6-1.5 .6 1.6 .6 3.4 .6-5.1 .6 2.1 .7-6 .6-3.2 .6-1.4 .6-3.7 .6-5.1 .6-8.6 .6-5.4 .6-7 .7-8.7 .6-11.9 .6-7.8 .6-10.5 .6-10 .6-10 .6-9.6 .6-7.2 .6-9.2 .7-6.9 .6-6.5 .6-7.6 .6-2.2 .6-4 .6-2 .6-2.3 .6-3.2 .6 .7 .7-.6 .6-2 .6-.8 .6-1.2 .6-.2 .6 1.5 .6-3.7 .6-.5 .6-1 .7 2.6 .6-3 .6 6.2 .6 .4 .6 4.3 .6 4.6 .6 2.5 .6 5.7 .6 6.7 .7 2.5 .6 1.8 .6 1.4 .6 8.1 .6 1.5 .6 1.4 .6 4.1 .6 4.2 .7 4.3 .6 3.2 .6 1.1 .6 1.6 .6 4.1 .6 .7 .6-1 .6 2.3 .6 1.9 .7 .9 .6 1.8 .6-.9 .6 .2 .6 .5 .6 2.7 .6 .9 .6 .1 .6 .6 .7 1.1 .6 1 .6 2.7 .6 1.6 .6-2.8 .6 1.5 .6 .2 .6 1.2 .6 1 .7-2.8 .6 1.9 .6 2.7 .6-.7 .6 1.9 .6 2.2 .6 1.1 .6 7.5 .7 8.1 .6 6.1 .6 9.4 .6 7.5 .6 8.8 .6 7.5 .6 6.9 .6 3.2 .6 4.6 .7 1 .6 2 .6 1.7 .6-1.5 .6 1.6 .6-2.7 .6 1.3 .6-.1 .6 .5 .7 .2 .6 2.8 .6-4.4 .6 2.5 .6-2.2 .6 2 .6-.6 .6 .1 .6 1 .7-1.1 .6-.8 .6 1.1 .6 1 .6-.8 .6-1 .6-1.1 .6 .4 .7 .6 .6 .4 .6-4.8 .6-2.6 .6-4.5 .6-7.5 .6-7 .6-8.4 .6-7.8 .7-11.6 .6-10.9 .6-14.5 .6-11.8 .6-12.3 .6-9.4 .6-8.9 .6-11.8 .6-4.4 .7-7.9 .6-8.5 .6-8.2 .6-4.9 .6-5 .6-3.5 .6-7.1 .6-1.4 .6-2.9 .7-4 .6-1.5 .6-2.5 .6-3.1 .6 .9 .6-1.5 .6-.4 .6-.6 .6-1.2 .7 .7 .6 1.7 .6 1.3 .6-.2 .6-.3 .6 2.1 .6 1.3 .6 3.4 .7-2 .6 4.5 .6 1.2 .6 .3 .6 .9 .6 1.4 .6 2.5 .6 1 .6 1.9 .7 3.1 .6-.3 .6 2.2 .6 .3 .6 2.3 .6 .3 .6 2 .6 1.4 .6 1.4 .7 2.4 .6 2.8 .6 0 .6 4.6 .6 .8 .6 .7 .6 3.2 .6 .7 .6 3.6 .7 1.6 .6 .5 .6 1.6 .6 1.2 .6 3.4 .6 1.4 .6 1.4 .6 2 .7 4 .6 1 .6-.6 .6 5.1 .6-.5 .6 3.1 .6 .1 .6 4 .6 .9 .7 4.3 .6-.6 .6 .5 .6 5 .6-1.5 .6 4.2 .6 1 .6 5.2 .6-2.9 .7 4.2 .6 1.4 .6 2.8 .6 1.4 .6-.7 .6 3.8 .6 .1 .6 3.2 .6 1.2 .7 2.8 .6 .5 .6-1 .6 3.9 .6 1.6 .6 2.7 .6-.3 .6 1 .6 5.2 .7 1.1 .6-2.8 .6 3.5 .6 1.8 .6 1 .6 .8 .6 1.8 .6 2.7 .7-1.4 .6 3.8 .6 3.7 .6 .2 .6-.1 .6 1.8 .6 .6 .6-.3 .6 11.3 .7-6 .6-3.9 .6 2.2 .6 4.7 .6 .9 .6-3.9 .6 5.1 .6 1.8 .6-5.9 .7 7.2 .6-2.2 .6 2.7 .6 .3 .6 3.5 .6 .2 .6-5.3 .6 7.4 .6-3.4 .7 4.8 .6-2.1 .6 0 .6 5.2 .6-7.3 .6 4.4 .6-3.4 .6 6.7 .7-4.7 .6-3.6 .6 6.5 .6 3 .6-2.7 .6 1.4 .6 1.5 .6 .2 .6 1.8 .7-2.3 .6 2.8 .6 1.8 .6-4.3 .6 3.3 .6-7.5 .6 8.6 .6 1.7 .6-.2 .7-2.4 .6 3.2 .6 1.8 .6-8.1 .6 8.4 .6-7.6 .6 4.1 .6 3.6 .6-7.6 .7 5.5 .6 2.5 .6-2.9 .6-3.3 .6 1.9 .6-.2 .6-2.5 .6 4.6 .7-.3 .6 1.9 .6 3.7 .6-3.6 .6-4.8 .6 9.7 .6-8.5 .6 3.2 .6 3.5 .7-2.6 .6-4.6 .6 6.8 .6-3.7 .6-.8 .6 6 .6-4.2 .6 .4 .6 3 .7-3.2 .6 3.1 .6 .7 .6 2 .6-4.5 .6 2.5 .6 .5 .6 1.8 .6 .7 .7-1.5 .6-4.2 .6 4.5 .6-6.3 .6 3.1 .6 .9 .6 4.1 .6-8.8 .6 9.9 .7-5.5 .6-3.1 .6 5.6 .6 1.7 .6-1.5 .6-2.2 .6-.5 .6 2.9 .7 5.7 .6-.2 .6-1.6 .6 5.1 .6-2.1 .6-6.2 .6 10.2 .6-5.6 .6 6.5 .7-1.3 .6-.6 .6 4.2 .6-4 .6-4 .6 1.7 .6 0 .6 4.3 .6-1.9 .7-1 .6-1.3 .6-1.9 .6 6.6 .6-7.6 .6 5.6 .6-.1 .6 2.7 .6-3.2 .7 .5 .6 2.8 .6-2.7 .6-1.1 .6 1.5 .6-3.4 .6 5.1 .6-5.4 .7 3 .6-1.6 .6 6.4 .6-5.7 .6 .6 .6-2.9 .6 6.1 .6-7.3 .6 7 .7-6.9 .6 2.2 .6 3.8 .6-8.4 .6 9.6 .6-2.9 .6-1.1 .6-.9 .6 .9 .7-1.7" fill="none" stroke="#1aa3dd" stroke-width="2.6" stroke-dasharray="4 2.5"/>
<line x1="367.3" y1="1383.6" x2="390" y2="1383.6" stroke="#231f20" stroke-width="3"/>
<text x="412.3" y="1392.8" font-size="22.5" textLength="87" lengthAdjust="spacingAndGlyphs">Baseline</text>
<line x1="367.3" y1="1425" x2="390" y2="1425" stroke="#1aa3dd" stroke-width="2.6" stroke-dasharray="3 2"/>
<text x="412.3" y="1431.7" font-size="22.5" textLength="43" lengthAdjust="spacingAndGlyphs">DBS</text>
<text x="184.5" y="1430" font-size="26" fill="#12a14b" textLength="143.9" lengthAdjust="spacingAndGlyphs">iGABASnFR</text>
<text x="244.4" y="1467.3" font-size="26" fill="#e41f2d" textLength="121.9" lengthAdjust="spacingAndGlyphs">tdTomato</text>
<line x1="153.2" y1="2315.4" x2="153.2" y2="2617.6" stroke="#231f20" stroke-width="1.5"/>
<line x1="142.2" y1="2617.6" x2="153.2" y2="2617.6" stroke="#231f20" stroke-width="1.5"/>
<line x1="142.2" y1="2516.9" x2="153.2" y2="2516.9" stroke="#231f20" stroke-width="1.5"/>
<line x1="142.2" y1="2416.2" x2="153.2" y2="2416.2" stroke="#231f20" stroke-width="1.5"/>
<line x1="142.2" y1="2315.5" x2="153.2" y2="2315.5" stroke="#231f20" stroke-width="1.5"/>
<text x="128" y="2625.1" font-size="21.5" text-anchor="end">0</text>
<text x="128" y="2524.4" font-size="21.5" text-anchor="end">0.5</text>
<text x="128" y="2423.7" font-size="21.5" text-anchor="end">1.0</text>
<text x="128" y="2323" font-size="21.5" text-anchor="end">1.5</text>
<line x1="142" y1="2617.6" x2="457.6" y2="2617.6" stroke="#231f20" stroke-width="1.5"/>
<line x1="204.1" y1="2617.6" x2="204.1" y2="2628.6" stroke="#231f20" stroke-width="1.5"/>
<line x1="304.9" y1="2617.6" x2="304.9" y2="2628.6" stroke="#231f20" stroke-width="1.5"/>
<line x1="405.7" y1="2617.6" x2="405.7" y2="2628.6" stroke="#231f20" stroke-width="1.5"/>
<text x="204.1" y="2659.7" font-size="21.5" text-anchor="middle">500</text>
<text x="304.9" y="2659.7" font-size="21.5" text-anchor="middle">600</text>
<text x="405.7" y="2659.7" font-size="21.5" text-anchor="middle">700</text>
<text x="305.9" y="2701.1" font-size="26" text-anchor="middle" textLength="215.8" lengthAdjust="spacingAndGlyphs">Wavelength (nm)</text>
<text x="34" y="2465" font-size="26" text-anchor="middle" textLength="118" lengthAdjust="spacingAndGlyphs" transform="rotate(-90 34 2465)">Intensity</text>
<text x="72" y="2465" font-size="26" text-anchor="middle" textLength="318" lengthAdjust="spacingAndGlyphs" transform="rotate(-90 72 2465)">(normalized to tdTomato)</text>
<path d="M153.7 2617.6l.6 0 .6 0 .6 0 .6 0 .6 0 .6 0 .6 0 .6 0 .6 0 .6 0 .7 0 .6 0 .6 0 .6 0 .6 0 .6 0 .6 0 .6 0 .6 0 .6 0 .6 0 .6 0 .6 0 .6 0 .6 0 .6 0 .6 0 .6 0 .6 0 .6 0 .6 0 .7 0 .6 0 .6 0 .6 0 .6 0 .6 0 .6 0 .6 0 .6 0 .6 0 .6 0 .6 0 .6 0 .6 0 .6 0 .6 0 .6 0 .6 0 .6 0 .6 0 .6 0 .7 0 .6 0 .6 0 .6 0 .6 0 .6 0 .6 0 .6 0 .6 0 .6 0 .6 0 .6 0 .6 0 .6 0 .6 0 .6 0 .6 0 .6 0 .6 0 .6 0 .7 0 .6 0 .6 0 .6 0 .6 0 .6 0 .6-.2 .6-.3 .6-.6 .6-.7 .6-.9 .6-.9 .6-.9 .6-.6 .6-.5 .6-.3 .6-.1 .6 0 .6 0 .6 0 .6 .1 .7 .2 .6 .2 .6 .3 .6 .3 .6 .3 .6 .2 .6 .2 .6 .1 .6 .1 .6 0 .6 0 .6 0 .6 0 .6 0 .6 0 .6 0 .6 0 .6 0 .6 0 .6 0 .6 0 .7 0 .6 0 .6 0 .6 0 .6 0 .6 0 .6 0 .6 0 .6 0 .6 0 .6 0 .6 0 .6 0 .6 0 .6 0 .6 0 .6 0 .6 0 .6-.1 .6-.1 .6-.1 .7-.1 .6-.2 .6-.1 .6-.2 .6-.1 .6-.2 .6-.1 .6-.2 .6-.1 .6-.2 .6-.1 .6-.1 .6 0 .6 0 .6 0 .6 0 .6 0 .6 .2 .6 .4 .6 .4 .6 .6 .7 .6 .6 .6 .6 .5 .6 .6 .6 .4 .6 .5 .6 .4 .6 .3 .6 .3 .6 .1 .6 .1 .6 0 .6 0 .6 0 .6 0 .6 0 .6 0 .6 0 .6 0 .6 0 .6 0 .7 0 .6 0 .6 0 .6 0 .6 0 .6 0 .6 0 .6 0 .6 0 .6 0 .6 0 .6 0 .6 0 .6 0 .6 0 .6 0 .6 0 .6 0 .6 0 .6 0 .7 0 .6-1.8 .6-3.6 .6-5.5 .6-7.2 .6-9.1 .6-9.1 .6-9.1 .6-9.5 .6-9.7 .6-10.1 .6-10.4 .6-10.6 .6-10.5 .6-10.1 .6-9.4 .6-8.6 .6-7.9 .6-7.2 .6-7 .6-6.9 .7-6.2 .6-5.4 .6-4.6 .6-3.8 .6-3 .6-3 .6-2.9 .6-2.4 .6-2 .6-1.6 .6-1.1 .6-.6 .6-.4 .6-.1 .6 .3 .6 .6 .6 .8 .6 .8 .6 .8 .6 .8 .6 .8 .7 .8 .6 1 .6 .9 .6 1.1 .6 1.2 .6 1.2 .6 1.2 .6 1.2 .6 1.2 .6 1.2 .6 1.2 .6 1.2 .6 1.3 .6 1.4 .6 1.4 .6 1.6 .6 1.6 .6 1.6 .6 1.7 .6 1.7 .6 1.6 .7 1.7 .6 1.7 .6 1.6 .6 1.7 .6 1.6 .6 1.8 .6 1.7 .6 1.7 .6 1.8 .6 1.9 .6 1.8 .6 1.8 .6 1.8 .6 1.8 .6 1.8 .6 1.8 .6 1.8 .6 1.9 .6 1.8 .6 1.8 .6 1.8 .7 1.8 .6 1.8 .6 1.8 .6 1.8 .6 1.9 .6 1.8 .6 1.8 .6 1.8 .6 1.8 .6 1.8 .6 1.8 .6 1.8 .6 1.9 .6 1.8 .6 1.8 .6 1.8 .6 1.8 .6 1.8 .6 1.6 .6 1.7 .6 1.5 .7 1.6 .6 1.5 .6 1.5 .6 1.5 .6 1.5 .6 1.5 .6 1.5 .6 1.5 .6 1.5 .6 1.6 .6 1.5 .6 1.5 .6 1.5 .6 1.4 .6 1.4 .6 1.3 .6 1.2 .6 1.2 .6 1.2 .6 1.2 .7 1.3 .6 1.2 .6 1.2 .6 1.2 .6 1.2 .6 1.2 .6 1.2 .6 1.2 .6 1.2 .6 1.2 .6 1.1 .6 1 .6 .9 .6 .9 .6 .8 .6 .9 .6 .8 .6 .9 .6 .8 .6 .9 .6 .8 .7 .9 .6 .8 .6 .9 .6 .8 .6 .8 .6 .8 .6 .8 .6 .7 .6 .6 .6 .7 .6 .6 .6 .6 .6 .6 .6 .6 .6 .6 .6 .6 .6 .6 .6 .6 .6 .6 .6 .6 .6 .6 .7 .6 .6 .5 .6 .6 .6 .5 .6 .4 .6 .4 .6 .4 .6 .5 .6 .4 .6 .4 .6 .4 .6 .5 .6 .4 .6 .4 .6 .4 .6 .5 .6 .4 .6 .4 .6 .3 .6 .4 .6 .3 .7 .2 .6 .2 .6 .3 .6 .2 .6 .3 .6 .2 .6 .3 .6 .2 .6 .2 .6 .3 .6 .2 .6 .3 .6 .2 .6 .2 .6 .3 .6 .2 .6 .3 .6 .2 .6 .3 .6 .2 .6 .2 .7 .3 .6 .2 .6 .3 .6 .2 .6 .2 .6 .3 .6 .2 .6 .3 .6 .2 .6 .2 .6 .3 .6 .2 .6 .2 .6 .2 .6 .2 .6 .2 .6 .2 .6 .2 .6 .2 .6 .4 .6 .6 .7 .6 .6 .8 .6 1 .6 .9 .6 .8 .6 .8 .6 .8 .6 .7 .6 .6 .6 .6 .6 .6 .6 .5 .6 .3 .6 .3 .6 .1 .6 0 .6 0 .6 0 .6 0 .6 0 .7 0 .6 0 .6 0 .6 0 .6 0 .6 0 .6 0 .6 0 .6 0 .6 0 .6 0 .6 0 .6 0 .6 0 .6 0 .6 0 .6 0 .6 0 .6 0 .6 0 .6 0 .7 0 .6 0 .6 0 .6 0 .6 0 .6 0 .6 0 .6 0 .6 0 .6 0 .6 0 .6 0 .6 0 .6 0 .6 0 .6 0 .6 0 .6 0 .6 0 .6 0 .6 0 .7 0 .6 0 .6 0 .6 0 .6 0 .6 0 .6 0 .6 0 .6 0 .6 0 .6 0 .6 0 .6 0 .6 0" fill="none" stroke="#e41f2d" stroke-width="2.6"/>
<path d="M153.7 2616.6l.6 1.3 .6-.3 .6-.2 .6 .7 .6-.5 .6 0 .6 1.1 .6-1.7 .6 .2 .6 .8 .7-.3 .6-.4 .6 .5 .6-.1 .6 .8 .6-1.2 .6 .2 .6-.1 .6 1.1 .6-1.9 .6 .9 .6 .3 .6-1.4 .6 1.2 .6 .9 .6-.7 .6 1.2 .6-2 .6 .9 .6 .1 .6-1 .7 1.6 .6-1.3 .6 1.5 .6-.8 .6 .3 .6-1.6 .6-.2 .6 1.3 .6-.7 .6 .6 .6-.4 .6 .8 .6 .5 .6 .1 .6-1.3 .6-1.2 .6 1.2 .6 .5 .6-1.5 .6 1.1 .6 0 .7-.1 .6 .3 .6 .1 .6 .7 .6-1.2 .6 .4 .6-.8 .6 .9 .6 1 .6-1.1 .6-1.1 .6 1.2 .6 .3 .6 .2 .6-.1 .6-.4 .6 .5 .6-1.6 .6 1.1 .6-.8 .7-2.1 .6-2.2 .6-2 .6-4 .6-4.9 .6-4.8 .6-5.2 .6-8.4 .6-8 .6-7.7 .6-7 .6-8.3 .6-7.4 .6-7.8 .6-8.5 .6-7.7 .6-6.4 .6-6.3 .6-5.8 .6-4.7 .6-4.5 .7-4.2 .6-4.8 .6-5.5 .6-3 .6-2.8 .6-3.1 .6-2.8 .6-3.8 .6-3 .6-1.9 .6-4.2 .6-2.4 .6-4.2 .6-2.3 .6-4 .6-1.5 .6-2.9 .6-3 .6-3 .6-2.2 .6-1.3 .7-3.2 .6-2.3 .6-2 .6-2.1 .6-3.6 .6-.8 .6-1.8 .6-2.6 .6-.9 .6-.4 .6-.5 .6 .8 .6 1.1 .6 1 .6 2 .6 2.6 .6 2.1 .6 2.5 .6 2 .6 3.3 .6 3.1 .7 1.5 .6 3.7 .6 3.2 .6 1.5 .6 3.6 .6 2.2 .6 3.5 .6 3.4 .6 3.2 .6 2.8 .6 3.2 .6 3.6 .6 3 .6 4 .6 2.2 .6 4.1 .6 1.9 .6 2.3 .6 4.5 .6 6.1 .6 10.4 .7 9.6 .6 13.8 .6 15.5 .6 17 .6 14.1 .6 12.5 .6 13.3 .6 6.7 .6 4.8 .6 5 .6 1.6 .6 1.8 .6 .4 .6 .3 .6-.5 .6 .2 .6-.7 .6 1.2 .6-.5 .6-.7 .6 .3 .7 1.1 .6-1.2 .6 .7 .6-.5 .6 0 .6-.5 .6 .6 .6 1.2 .6-.3 .6-1.2 .6 .6 .6-.9 .6 .5 .6 .7 .6-1.2 .6 1.2 .6 .7 .6-3 .6 .3 .6-5.3 .7-5.6 .6-6.5 .6-7.2 .6-10.8 .6-8.4 .6-10.8 .6-12.2 .6-12.7 .6-11.8 .6-11.7 .6-9.6 .6-9.4 .6-7.6 .6-7.6 .6-7.3 .6-6.2 .6-7.3 .6-5.8 .6-5.6 .6-5.1 .6-3.8 .7-3.4 .6-2.2 .6-3.4 .6-1.2 .6-2.4 .6-1.5 .6-2.3 .6-1.6 .6 .1 .6-.9 .6-.5 .6 .8 .6 .8 .6-.1 .6 1.8 .6 1 .6 .8 .6 1.2 .6 2.2 .6 1.4 .6 .9 .7 1.6 .6 2.4 .6-.6 .6 2.2 .6 .9 .6 2.5 .6-.1 .6 2.5 .6 1 .6 2.2 .6 .7 .6 1.4 .6 1.4 .6 1.1 .6 1.7 .6 .9 .6 2.3 .6 1.7 .6 .9 .6 1.1 .6 1 .7 1.8 .6 3 .6 .1 .6 .8 .6 2.3 .6 1.9 .6 1.1 .6 2.1 .6 .9 .6 2.1 .6 .9 .6 2.2 .6 2.4 .6 .9 .6 1.5 .6 2.6 .6 1.6 .6 2.8 .6-.2 .6 2.6 .6 2.6 .7 1.5 .6 .8 .6 1.1 .6 2.3 .6 1.5 .6 2.8 .6 1.9 .6 .5 .6 2 .6 2.2 .6 1 .6 3.2 .6 1.4 .6 1 .6 1.3 .6 2.9 .6 .8 .6 3.1 .6 1.2 .6 1.9 .6 2.3 .7 .4 .6 1 .6 2.1 .6 1.4 .6 .6 .6 3 .6 1.6 .6 1 .6 1.7 .6 0 .6 2 .6 2.2 .6 1.3 .6-.8 .6 4.1 .6 1.5 .6-.8 .6 .5 .6 1.8 .6 3.2 .7 1.5 .6-2.1 .6 2.3 .6 4 .6-4 .6 1.8 .6 2.9 .6 1.1 .6 .2 .6 2.7 .6 2.2 .6-2.2 .6 4.1 .6-2.6 .6 4 .6-1.7 .6 .8 .6-2.7 .6 5.9 .6 1.3 .6-.7 .7 1.6 .6-.2 .6-1.1 .6 .1 .6-.9 .6 5 .6-5.4 .6 1.8 .6 4.6 .6 4.4 .6-3.4 .6 .3 .6 4.9 .6-3.7 .6 1.1 .6 1.7 .6-1.9 .6-.1 .6 3.3 .6-.7 .6 2.2 .7 .8 .6-1 .6-.3 .6 2.4 .6 3.4 .6-4.7 .6 4.3 .6-2.8 .6-2.6 .6 3.6 .6 2.5 .6 .9 .6-4.5 .6 2.6 .6-.7 .6-.3 .6 2.1 .6 .8 .6 1.5 .6 4.2 .6-2.6 .7-2.4 .6 .5 .6-.8 .6 1.2 .6-.3 .6-.9 .6 3.3 .6-.9 .6 2.7 .6-4.5 .6 2 .6-.6 .6-1.7 .6 1.1 .6 2.3 .6-1.3 .6 4.3 .6-3.2 .6 .8 .6 3.4 .6-5.1 .7 4 .6-2.3 .6 2.2 .6-2.3 .6-.3 .6 4.1 .6 1.5 .6-2.3 .6-1.5 .6 2.4 .6 .7 .6-1.8 .6 6.1 .6-3.6 .6 1.5 .6-2.8 .6 2 .6 .9 .6-1.1 .6 2.4 .6-2.1 .7 1.9 .6 .2 .6 1.6 .6-2.1 .6 2.7 .6-.3 .6 .8 .6 3 .6-1.8 .6 1 .6 .6 .6 1.8 .6 .4 .6-1.9 .6-2.5 .6 5.5 .6-2.5 .6 1.7 .6-2.1 .6 .6 .7-1.1 .6 7 .6-4 .6 .7 .6-1.6 .6 1.1 .6-.1 .6-2.4 .6-2.2 .6 8.5 .6-4.5 .6-1.2 .6 .6 .6 .6 .6 1.9 .6-.8 .6-3 .6-.6 .6 1.7 .6 1.7 .6-1.7 .7 .6 .6-1.4 .6 .8 .6 1.3 .6-1.4 .6 2.4 .6-3.6 .6-.6 .6 4.2 .6-2.9 .6 2.6 .6-3.7 .6 .3 .6 2 .6-2.2 .6 2.6 .6 .4 .6-.2 .6-.7 .6 .3 .6-.9 .7 1.4 .6-2.5 .6-.5 .6 2.8 .6 1.7 .6-3.9 .6-.8 .6 2.4 .6 2 .6-2.8 .6-2.3 .6 6.2 .6-4.3 .6 1.5" fill="none" stroke="#231f20" stroke-width="3.2"/>
<path d="M153.7 2617.6l.6 0 .6 0 .6 0 .6 0 .6 0 .6 0 .6 0 .6 0 .6 0 .6 0 .7 0 .6 0 .6 0 .6 0 .6 0 .6 0 .6 0 .6 0 .6 0 .6 0 .6 0 .6 0 .6 0 .6 0 .6 0 .6 0 .6 0 .6 0 .6 0 .6 0 .6 0 .7 0 .6 0 .6 0 .6 0 .6 0 .6 0 .6 0 .6 0 .6 0 .6 0 .6 0 .6 0 .6 0 .6 0 .6 0 .6 0 .6 0 .6 0 .6 0 .6 0 .6 0 .7 0 .6 0 .6 0 .6 0 .6 0 .6 0 .6 0 .6 0 .6 0 .6 0 .6 0 .6 0 .6 0 .6 0 .6 0 .6 0 .6 0 .6 0 .6 0 .6 0 .7 0 .6-.7 .6-1.5 .6-2.2 .6-2.9 .6-3.6 .6-3.6 .6-3.6 .6-3.7 .6-4.3 .6-5.4 .6-6.6 .6-7.6 .6-8.7 .6-9 .6-9.1 .6-9.4 .6-9.6 .6-10 .6-10.3 .6-10.6 .7-10.5 .6-10.3 .6-9.6 .6-8.9 .6-8.1 .6-7.3 .6-6.5 .6-5.5 .6-4.5 .6-3.5 .6-1.8 .6-.3 .6 .3 .6 1.5 .6 2.8 .6 3.5 .6 4 .6 4.6 .6 4.9 .6 4.9 .6 5 .7 5.1 .6 5.1 .6 5.1 .6 5.2 .6 4.9 .6 4.6 .6 4.4 .6 4.2 .6 3.9 .6 4 .6 3.8 .6 3.6 .6 3.4 .6 3.1 .6 2.9 .6 2.7 .6 2.7 .6 2.6 .6 2.3 .6 2 .6 1.8 .7 1.5 .6 1.5 .6 1.4 .6 1.5 .6 1.4 .6 1.4 .6 1.3 .6 1.3 .6 1.3 .6 1.2 .6 1.2 .6 1.2 .6 1.2 .6 1.4 .6 1.5 .6 1.7 .6 1.8 .6 2.1 .6 2.8 .6 3.6 .6 4.4 .7 5.6 .6 6.8 .6 7.4 .6 7.5 .6 7 .6 6.2 .6 5.2 .6 3.5 .6 2.2 .6 1.5 .6 .7 .6 0 .6 0 .6 0 .6 0 .6 0 .6 0 .6 0 .6 0 .6 0 .6 0 .7 0 .6 0 .6 0 .6 0 .6 0 .6 0 .6 0 .6 0 .6 0 .6 0 .6 0 .6 0 .6 0 .6 0 .6 0 .6 0 .6 0 .6 0 .6 0 .6 0 .7 0 .6-.3 .6-.7 .6-.9 .6-1.3 .6-1.6 .6-1.6 .6-1.6 .6-1.5 .6-1.6 .6-1.5 .6-1.5 .6-1.4 .6-1.2 .6-1 .6-.8 .6-.6 .6-.3 .6-.3 .6-.1 .6 .1 .7 .1 .6 .3 .6 .2 .6 .2 .6 .3 .6 .2 .6 .3 .6 .3 .6 .3 .6 .3 .6 .3 .6 .3 .6 .3 .6 .3 .6 .3 .6 .3 .6 .3 .6 .3 .6 .3 .6 .3 .6 .3 .7 .3 .6 .3 .6 .2 .6 .3 .6 .2 .6 .2 .6 .2 .6 .2 .6 .2 .6 .2 .6 .2 .6 .2 .6 .2 .6 .2 .6 .2 .6 .2 .6 .2 .6 .2 .6 .2 .6 .2 .6 .2 .7 .2 .6 .2 .6 .2 .6 .2 .6 .2 .6 .2 .6 .2 .6 .1 .6 .2 .6 .1 .6 .2 .6 .1 .6 .2 .6 .2 .6 .1 .6 .2 .6 .1 .6 .2 .6 .1 .6 .2 .6 .1 .7 .2 .6 .1 .6 .2 .6 .1 .6 .2 .6 .1 .6 .2 .6 .1 .6 .2 .6 .1 .6 .2 .6 .1 .6 .2 .6 .1 .6 .2 .6 .1 .6 .2 .6 .1 .6 .1 .6 .1 .6 .1 .7 .1 .6 0 .6 .1 .6 0 .6 .1 .6 .1 .6 0 .6 .1 .6 0 .6 .1 .6 .1 .6 0 .6 .1 .6 0 .6 .1 .6 .1 .6 0 .6 .1 .6 0 .6 .1 .7 .1 .6 0 .6 .1 .6 0 .6 .1 .6 .1 .6 0 .6 .1 .6 .1 .6 0 .6 .1 .6 0 .6 0 .6 0 .6 0 .6 0 .6 .1 .6 0 .6 0 .6 0 .6 0 .7 0 .6 0 .6 0 .6 .1 .6 0 .6 0 .6 0 .6 0 .6 0 .6 0 .6 0 .6 .1 .6 0 .6 0 .6 0 .6 0 .6 0 .6 0 .6 0 .6 .1 .6 0 .7 0 .6 0 .6 0 .6 0 .6 0 .6 0 .6 0 .6 .1 .6 0 .6 0 .6 0 .6 0 .6 0 .6 0 .6 0 .6 .1 .6 0 .6 0 .6 0 .6 0 .6 0 .7 0 .6 0 .6 .1 .6 0 .6 0 .6 0 .6 0 .6 0 .6 0 .6 0 .6 .1 .6 0 .6 0 .6 0 .6 0 .6 0 .6 0 .6 0 .6 0 .6 .1 .6 0 .7 0 .6 0 .6 0 .6 0 .6 0 .6 0 .6 .1 .6 0 .6 0 .6 0 .6 0 .6 0 .6 0 .6 0 .6 0 .6 0 .6 0 .6 0 .6 0 .6 0 .6 0 .7 0 .6 0 .6 0 .6 0 .6 0 .6 0 .6 0 .6 0 .6 0 .6 0 .6 0 .6 0 .6 0 .6 0 .6 0 .6 0 .6 0 .6 0 .6 0 .6 0 .7 0 .6 0 .6 0 .6 0 .6 0 .6 0 .6 0 .6 0 .6 0 .6 0 .6 0 .6 0 .6 0 .6 0 .6 0 .6 0 .6 0 .6 0 .6 0 .6 0 .6 0 .7 0 .6 0 .6 0 .6 0 .6 0 .6 0 .6 0 .6 0 .6 0 .6 0 .6 0 .6 0 .6 0 .6 0 .6 0 .6 0 .6 0 .6 0 .6 0 .6 0 .6 0 .7 0 .6 0 .6 0 .6 0 .6 0 .6 0 .6 0 .6 0 .6 0 .6 0 .6 0 .6 0 .6 0 .6 0" fill="none" stroke="#12a14b" stroke-width="2.6"/>
<path d="M153.7 2617.6l.6 0 .6 0 .6 0 .6 0 .6 0 .6 0 .6 0 .6 0 .6 0 .6 0 .7 0 .6 0 .6 0 .6 0 .6 0 .6 0 .6 0 .6 0 .6 0 .6 0 .6 0 .6 0 .6 0 .6 0 .6 0 .6 0 .6 0 .6 0 .6 0 .6 0 .6 0 .7 0 .6 0 .6 0 .6 0 .6 0 .6 0 .6 0 .6 0 .6 0 .6 0 .6 0 .6 0 .6 0 .6 0 .6 0 .6 0 .6 0 .6 0 .6 0 .6 0 .6 0 .7 0 .6 0 .6 0 .6 0 .6 0 .6 0 .6 0 .6 0 .6 0 .6 0 .6 0 .6 0 .6 0 .6 0 .6 0 .6 0 .6 0 .6 0 .6 0 .6 0 .7 0 .6 0 .6 0 .6 0 .6-.3 .6-.6 .6-1 .6-1.5 .6-1.8 .6-1.9 .6-1.9 .6-2 .6-2 .6-2.3 .6-2.6 .6-3 .6-3.2 .6-3.4 .6-3.4 .6-3.5 .6-3.4 .7-3.4 .6-3.6 .6-3.8 .6-4.2 .6-4.5 .6-4.8 .6-5 .6-5.1 .6-5 .6-5 .6-5.1 .6-5.1 .6-5.3 .6-5.5 .6-5.7 .6-5.9 .6-6 .6-6.1 .6-6 .6-6.1 .6-5.8 .7-5.7 .6-5.5 .6-5.3 .6-5.2 .6-5.1 .6-4.9 .6-4.5 .6-3.8 .6-3.3 .6-2.8 .6-2.4 .6-2.5 .6-1.9 .6-1.4 .6-.7 .6 0 .6 .5 .6 1.1 .6 1.6 .6 2 .6 2.4 .7 2.9 .6 3 .6 3 .6 3.1 .6 3.1 .6 3.3 .6 3.2 .6 3.3 .6 3.4 .6 3.2 .6 3.2 .6 3.1 .6 3 .6 2.9 .6 3 .6 3.3 .6 3.8 .6 4.1 .6 6.3 .6 8.2 .6 9.9 .7 11.9 .6 13.9 .6 14.2 .6 14.2 .6 13 .6 11.7 .6 10.3 .6 7.5 .6 5.2 .6 3.9 .6 2.3 .6 .8 .6 .6 .6 .3 .6 .1 .6 0 .6 0 .6 0 .6 0 .6 0 .6 0 .7 0 .6 0 .6 0 .6 0 .6 0 .6 0 .6 0 .6 0 .6 0 .6 0 .6 0 .6 0 .6 0 .6 0 .6 0 .6 0 .6 0 .6 0 .6 0 .6 0 .7 0 .6-.6 .6-1.2 .6-1.8 .6-2.4 .6-3.1 .6-3 .6-3 .6-3.2 .6-3.3 .6-3.5 .6-3.5 .6-3.6 .6-3.6 .6-3.4 .6-2.9 .6-2.5 .6-1.9 .6-1.1 .6-.6 .6-.1 .7 .4 .6 .6 .6 .6 .6 .6 .6 .6 .6 .6 .6 .6 .6 .6 .6 .6 .6 .6 .6 .6 .6 .6 .6 .6 .6 .6 .6 .6 .6 .6 .6 .6 .6 .6 .6 .6 .6 .6 .6 .7 .7 .5 .6 .6 .6 .6 .6 .5 .6 .5 .6 .5 .6 .5 .6 .4 .6 .5 .6 .5 .6 .5 .6 .5 .6 .5 .6 .4 .6 .5 .6 .5 .6 .5 .6 .5 .6 .5 .6 .4 .6 .5 .7 .5 .6 .5 .6 .5 .6 .5 .6 .4 .6 .5 .6 .3 .6 .4 .6 .3 .6 .3 .6 .2 .6 .3 .6 .3 .6 .2 .6 .3 .6 .3 .6 .3 .6 .2 .6 .3 .6 .3 .6 .2 .7 .3 .6 .3 .6 .3 .6 .2 .6 .3 .6 .3 .6 .2 .6 .3 .6 .3 .6 .3 .6 .2 .6 .3 .6 .3 .6 .2 .6 .3 .6 .3 .6 .3 .6 .2 .6 .2 .6 .2 .6 .2 .7 .2 .6 .1 .6 .2 .6 .1 .6 .2 .6 .1 .6 .2 .6 .1 .6 .2 .6 .1 .6 .2 .6 .1 .6 .2 .6 .1 .6 .2 .6 .1 .6 .2 .6 .1 .6 .2 .6 .1 .7 .2 .6 .1 .6 .2 .6 .1 .6 .2 .6 .1 .6 .2 .6 .1 .6 .2 .6 .1 .6 .2 .6 .1 .6 .1 .6 .1 .6 .1 .6 .1 .6 .1 .6 0 .6 .1 .6 .1 .6 .1 .7 .1 .6 .1 .6 .1 .6 .1 .6 .1 .6 .1 .6 .1 .6 0 .6 .1 .6 .1 .6 .1 .6 .1 .6 .1 .6 .1 .6 .1 .6 .1 .6 .1 .6 .1 .6 0 .6 .1 .6 .1 .7 .1 .6 .1 .6 .1 .6 0 .6 .1 .6 0 .6 .1 .6 0 .6 .1 .6 0 .6 .1 .6 .1 .6 0 .6 .1 .6 0 .6 .1 .6 0 .6 .1 .6 0 .6 .1 .6 0 .7 .1 .6 0 .6 .1 .6 0 .6 .1 .6 0 .6 .1 .6 0 .6 .1 .6 0 .6 .1 .6 .1 .6 0 .6 .1 .6 0 .6 .1 .6 0 .6 .1 .6 0 .6 .1 .6 0 .7 .1 .6 0 .6 .1 .6 0 .6 .1 .6 0 .6 .1 .6 0 .6 .1 .6 0 .6 .1 .6 0 .6 .1 .6 0 .6 0 .6 0 .6 .1 .6 0 .6 0 .6 .1 .6 0 .7 0 .6 0 .6 .1 .6 0 .6 0 .6 .1 .6 0 .6 0 .6 0 .6 .1 .6 0 .6 0 .6 .1 .6 0 .6 0 .6 0 .6 .1 .6 0 .6 0 .6 .1 .7 0 .6 0 .6 0 .6 .1 .6 0 .6 0 .6 .1 .6 0 .6 0 .6 .1 .6 0 .6 0 .6 0 .6 .1 .6 0 .6 0 .6 .1 .6 0 .6 0 .6 0 .6 .1 .7 0 .6 0 .6 .1 .6 0 .6 0 .6 0 .6 .1 .6 0 .6 0 .6 .1 .6 0 .6 0 .6 0 .6 .1 .6 0 .6 0 .6 .1 .6 0 .6 0 .6 .1 .6 0 .7 0 .6 0 .6 .1 .6 0 .6 0 .6 .1 .6 0 .6 0 .6 0 .6 .1 .6 0 .6 0 .6 0 .6 0" fill="none" stroke="#f5a13a" stroke-width="2.6"/>
<line x1="174.3" y1="2292.6" x2="196.4" y2="2292.6" stroke="#231f20" stroke-width="3.2"/>
<text x="212.1" y="2284.9" font-size="25" textLength="196.8" lengthAdjust="spacingAndGlyphs">Recorded spectra (</text><text x="408.9" y="2284.9" font-size="25" fill="#12a14b" textLength="128.6" lengthAdjust="spacingAndGlyphs">iGABASnFR</text><text x="537.6" y="2284.9" font-size="25" textLength="19.9" lengthAdjust="spacingAndGlyphs"> +</text>
<text x="212.1" y="2311.9" font-size="25" fill="#f6a73b" textLength="174.9" lengthAdjust="spacingAndGlyphs">Venus-iGluSnFR</text><text x="387" y="2311.9" font-size="25" textLength="26.8" lengthAdjust="spacingAndGlyphs"> + </text><text x="413.8" y="2311.9" font-size="25" fill="#e41f2d" textLength="96.6" lengthAdjust="spacingAndGlyphs">tdTomato</text><text x="510.4" y="2311.9" font-size="25" textLength="7.8" lengthAdjust="spacingAndGlyphs">)</text>
<line x1="174.3" y1="2331.9" x2="196.4" y2="2331.9" stroke="#12a14b" stroke-width="3.2"/>
<text x="212.1" y="2337.5" font-size="25" fill="#12a14b" textLength="232" lengthAdjust="spacingAndGlyphs">iGABASnFR reference</text>
<line x1="174.3" y1="2361" x2="196.4" y2="2361" stroke="#f5a13a" stroke-width="3.2"/>
<text x="212.1" y="2366.9" font-size="25" fill="#f6a73b" textLength="281" lengthAdjust="spacingAndGlyphs">Venus-iGluSnFR reference</text>
<line x1="174.3" y1="2387.3" x2="196.4" y2="2387.3" stroke="#e41f2d" stroke-width="3.2"/>
<text x="212.1" y="2394.3" font-size="25" fill="#e41f2d" textLength="213" lengthAdjust="spacingAndGlyphs">tdTomato reference</text>
<path d="M655.5 569.2l2-4 2 .1 2-.6 2 2.6 2-5.3 2 4.4 2 .2 2-6.6 2 7.6 2-4.3 2 5.1 2-.5 2-.2 2 .8 2-1 2 2.8 2-6.1 2 3.7 2-1.8 2-.7 2-3.5 2 2 2 8.5 2 .4 2 4.2 2 6.6 2 .9 2 .8 2 5.8 2 3.4 2 2.9 2 2.4 2 1.5 2-3.6 2 7.5 2-1.1 2 3.5 2 2.3 2-.5 2 3.1 2 3 2 2.4 2-5.6 2-.6 2-3.5 2 2.3 2-4 2 2.7 2-3.6 2-8.1 2 5.4 2 .8 2-4.3 2 1.4 2-1.1 2-1.3 2 .1 2 .2 2 1.6 2-6.2 2 5.9 2-1.5 2 2 2-3.8 2 .4 2-6 2 4.2 2-2.8 2 0 2-2.4 2-5.4 2 3.7 2-4.8 2-4.1 2 7.1 2-2.1 2-2.6 2-3.6 2 4.1 2-.7 2 1.9 2-4 2 6.1 2-2.9 2 4.5 2-.1 2 0 2-3.5 2-.7 2 .6 2 3.1 2-3.8 2-.9 2-4.4 2 4.1 2 1.2 2 1.8 2 1.3 2 .8 2-5.7 2 1.2 2 .8 2-2.1 2 3 2 1.3 2-.8 2-1.8 2-3.4 2 1.2 2-2 2 3.1 2-4.3 2-1.2 2 2.8 2-2.1 2 4.4 2 .1 2-.5 2-4.5 2 1.8 2 2.2 2-3.8 2-3.8 2 2.3 2 .3 2 1.9 2-3.3 2 2 2 4.2 2-3.3 2 1.6 2-1.3 2 1.9 2-2 2-.7 2 1.1 2 .1 2-2.7 2 2.1 2-1.1 2 .5 2 .3 2-.8 2 3.6 2-6.7 2 1.3 2-2.5 2-2.1 2-.6 2-2.7 2 7.7 2 9.2 2 8.4 2 10.6 2 5.2 2 2.6 2 5.5 2 7.8 2 2.3 2 3 2 1.2 2 .9 2 4.3 2 3.5 2 .1 2 1.4 2 3.1 2 6.7 2 3.3 2-2 2 1.7 2-4.4 2-2.4 2 1.2 2-1.2 2-2.3 2-.4 2-2.2 2-6.7 2 .6 2-1.6 2 0 2-.6 2-1 2-.7 2-.6 2-.7 2-1.4 2 .5 2 0 2-3.3 2-4.7 2 4.7 2-1.5 2 0 2-2.1 2 4.8 2-2 2-.7 2-6.3 2 1.9 2-.9 2 0 2-2.4 2-4.5 2-3.5 2 1.9 2 0 2-2.5 2 2.9 2 1.3 2-3.7 2 .5 2-2.3 2-.3 2 0 2 1.6 2-2 2 .2 2-3.8 2 6 2-3.4 2 2.6 2-1.8 2 2.1 2-3.4 2-1.4 2 3.2 2-4.4 2 5.1 2-2 2-.8 2 2.6 2-3.3 2 2.8 2-.8 2 1.7 2-.3 2-3.4 2 1.1 2 3.8 2-4.8 2 4.9 2 1.3 2-.9 2-3.8 2-2.4 2 3.4 2-4.9 2 5.1 2-3.8 2 .6 2-3.6 2 1.3 2 2 2 .3 2-4 2-1.3 2 1.4 2 0 2-1 2-.3 2 1.8 2-2 2 1 2 1.9 2-1.2 2 .8 2-1.3 2 3.7 2-2.1 2 2.5 2 .6 2-.6 2-2.4 2-.9 2 3.3 2 3 2 9.4 2 8 2 15.4 2 4 2 3.8 2-.1 2 7.1 2 6.3 2 .3 2 7.7 2 3.8 2 4.4 2 7 2 1.4 2-1.6 2 5.3 2 1.3 2 4.6 2-.4 2 3.1 2-3.1 2-2.3 2-7.2 2 5.8 2-4.7 2 0 2-3.8 2-2.9 2-1.3 2-2.6 2-.1 2-1.2 2-4.5 2 2 2-2 2 .2 2-3.3 2-2.4 2 .3 2-5.7 2 1.8 2 3.3 2-2.3 2-.7 2-3.5 2-1.5 2 3 2-4.6 2 .2 2 1.6 2-3.6 2-.8 2 3.5 2-4.8 2 2.2 2-1 2-3.9 2 2 2-.7 2 .6 2-2.1 2-2.6 2-5.1 2 2.8 2 .9 2-5.7 2 5.1 2-.7 2 1.5 2-4.8 2 4 2-2.7 2-3.2 2 1.1 2 .6 2 .5 2-3 2 2.4 2-4.6 2 3.2 2-5.2 2-.5 2 .8 2 2.1 2-1.3 2 1.1 2-2.5 2-.1 2-1.6 2-3.5 2 6 2-.9 2-3.4 2 1.4 2-5.5 2 5.9 2 .2 2-.5 2-.9 2-5.3 2 .5 2 5.4 2-7.9 2-1.4 2 4.5 2-2.3 2 2.2 2 5.7 2-8.9 2 8 2 2 2-4.3 2 .2 2 1.9 2-1 2-.7 2 3.1 2-1.4 2-.8 2-3.3 2 3.3 2-.6 2-2.7 2-2.1 2 1.2 2 .8 2-.3 2 2.9 0 30.6-2 .3-2 3.9-2-6.8-2 1.4-2 4.6-2-6.9-2 .1-2 5.5-2 1.1-2-.4-2 .3-2-1.4-2-.3-2 4.7-2-3.2-2-.7-2 .4-2-.2-2-.9-2 1.9-2-5.9-2 2-2 2.6-2-5.4-2 1.3-2 .9-2 2.3-2 1.7-2-1.8-2 3.6-2 1.4-2-2.1-2-6.6-2 8.2-2-2.2-2-.9-2 1.3-2 1.7-2 2.7-2-3.3-2 3.3-2-1.2-2 2.7-2-3.6-2 5.5-2-3.1-2-1.7-2 2.6-2-.4-2-2.3-2 8.5-2-4.9-2 5.2-2 .4-2-3.5-2 2.5-2 2.9-2 .8-2-6.2-2-.6-2 3.4-2 .2-2-1.8-2 5.1-2 1.3-2 2.5-2-.9-2-.2-2 1.6-2 2-2-2.8-2 5.2-2-5.6-2 4.5-2-3.7-2 5-2-1-2 1.1-2-3.1-2 .5-2 2.9-2 1.5-2 3.8-2 2-2-.2-2 .4-2 .3-2 6.8-2-3.8-2 5.4-2-1.7-2-2.3-2 4.2-2 2.7-2-1.2-2 7.7-2-3.7-2-1.5-2 1-2 3.5-2 3.3-2-1.4-2 1.2-2 2.8-2 2.1-2 4.1-2 3.4-2 4.6-2-3.8-2-1.8-2-5.9-2-3.2-2 .3-2 .3-2-.7-2-9-2-5.8-2-3.3-2-4.7-2-2.4-2-7.3-2 1.6-2-6.7-2-5.8-2-3.4-2-14.1-2-10.8-2-9.2-2-1.3-2-.5-2-1.1-2-.5-2 .6-2 2.7-2 .9-2-7.2-2 2.8-2-5.4-2 8.2-2-3.3-2 0-2-3-2 1.5-2-2.5-2 2-2 2.3-2-.8-2 .8-2-2-2-1.7-2 3.3-2 2.2-2-1.6-2 .9-2 4.8-2-.1-2-2.4-2 .8-2-.5-2 1.5-2 1.4-2-.1-2-2.1-2 3.7-2-6-2 2.3-2 1.6-2-.8-2-.1-2-2.6-2-1.7-2 4.2-2 .5-2-1.3-2-1.9-2-1.9-2 3.9-2-.4-2-1.2-2-1.1-2-.1-2 3.1-2 3.7-2-1.5-2-4.5-2-1.1-2 2.7-2 .2-2 1.6-2-.6-2-1.4-2 1.8-2 8-2-4.1-2 4-2-3.5-2-.2-2 2.9-2-1.9-2 1.8-2 5.6-2-3.5-2 6.7-2-2.3-2 2-2-4.2-2 3.1-2 4.7-2 1.4-2 .2-2-.4-2 .9-2-.1-2-2.9-2 3.6-2-.4-2 4.2-2-1.3-2-1.6-2 2.2-2-3.7-2 7.3-2-.8-2-.1-2 .4-2 2-2 1.8-2 1.5-2 1.8-2-.1-2 2.8-2 1.2-2 2.5-2-.7-2 2.7-2 6.7-2-5.9-2-7.1-2-1.1-2-1.2-2-4.3-2-1.7-2-2.7-2-1.3-2-2.4-2-3.6-2-1.7-2-3.9-2-3-2-1.7-2-7.4-2-8.1-2-11.6-2-2.8-2-12.2-2-.7-2-1.2-2-.7-2 4.2-2-.5-2 .7-2 1.8-2-1.9-2 1.3-2-.9-2-3-2 3.6-2-2.5-2 .3-2 .6-2 1-2-1.1-2 2.5-2-.8-2 3.2-2-1.6-2-3.8-2 4.8-2 .6-2-2.8-2-.4-2 3.5-2-4.7-2 2.7-2-2.7-2 1.8-2-.6-2 1.5-2-.2-2-1-2 1.4-2 2.7-2-4-2 2.7-2-2.9-2 2.8-2 .7-2 4.4-2-2.8-2 1.7-2-1.1-2 1.1-2-4.1-2 2.5-2 3.6-2-2.3-2 3.4-2-1.8-2-1.5-2-1.1-2-2.5-2 3.3-2-.7-2 3-2-5.2-2 1-2 3.7-2-2.1-2-2.3-2 2.1-2 3.6-2-4.9-2 3.6-2-.8-2-4-2-1-2-.4-2 1.1-2 1-2 5.6-2-7.1-2 4.2-2 1.7-2 2.8-2 .7-2 0-2 .6-2 4.3-2 1-2 2.2-2-1.5-2 .5-2 .4-2-.9-2 .2-2 .4-2-.6-2 4.5-2-.5-2-1.4-2 2.7-2-5-2 4.2-2 .6-2 2.6-2-.7-2 .5-2 2.6-2 1.7-2 3.4-2-1.1-2 2.3-2 .2-2 6.1-2-5.9-2 .3-2 1.8-2-3.1-2-7.2-2 2.3-2-4.6-2-.3-2-3.6-2 1-2-6.5-2 .7-2-5.7-2-3.6-2-1.7-2-2.8-2-4.8-2-3.8-2-2.5-2-4.9-2 5.6-2-4.9-2 2.9-2 .7-2 0-2-4.3-2 3.9-2 1.3-2-.6-2 1.1-2-5.3-2 3.8-2-2.3-2-2.1-2 .6-2-.3-2-1.1-2 3-2-.1-2-1-2 2.6-2-.2z" fill="#d1d3d4"/>
<path d="M655.5 576.9l1 5 1-7.6 1 10.3 1-10.6 1 8 1-8.8 1 7.9 1-6.4 1 8.4 1-7.8 1 7.2 1-5.5 1 5.3 1-9 1 9.3 1-5.5 1 6.3 1-6 1 9.8 1-10.1 1 8.2 1-9.1 1 9.8 1-9.5 1 10.7 1-12 1 10.5 1-7.9 1 6.4 1-5.7 1 4.8 1-5.1 1 7.8 1-11.9 1 13 1-11.6 1 10.4 1-10.9 1 7.9 1-5.4 1 5.7 1-8.6 1 9.7 1-8.1 1 11.5 1-10.5 1 14.5 1-10.6 1 16 1-12.2 1 12 1-7.2 1 9.9 1-6 1 11.8 1-7.5 1 10.4 1-5.9 1 9.2 1-9.6 1 9.4 1-10.6 1 13.4 1-7.7 1 8.4 1-7.8 1 10 1-7.1 1 11.5 1-7.8 1 7 1-6.1 1 10.1 1-7.5 1 9.6 1-10.3 1 10.9 1-7.3 1 12.7 1-7.8 1 9.2 1-15.2 1 13.9 1-7.5 1 5.6 1-7.6 1 5.7 1-7.4 1 6.7 1-7 1 6.2 1-10.5 1 9 1-8.2 1 8.4 1-9.9 1 8.4 1-14.8 1 11.8 1-9.5 1 6.8 1-10.3 1 10.7 1-7.4 1 6.6 1-10 1 9.8 1-6.6 1 6.8 1-7 1 5.5 1-6.4 1 6 1-7.5 1 6.4 1-8.9 1 12.5 1-10.2 1 5.7 1-7.2 1 7.8 1-7.2 1 5.7 1-6.7 1 7.1 1-7.4 1 5.1 1-7.8 1 9.9 1-10 1 9 1-9 1 8.1 1-8 1 6.9 1-6.2 1 5.6 1-10 1 11.7 1-13.1 1 7.7 1-9.8 1 5.2 1-6.3 1 10.9 1-9.5 1 5.5 1-9.5 1 6.9 1-6.3 1 8.8 1-11.1 1 12.6 1-12.5 1 8.5 1-10.2 1 10.3 1-6.6 1 9.1 1-9.7 1 8.9 1-9.3 1 9.3 1-6.4 1 8.9 1-6.2 1 5.8 1-8.5 1 6.7 1-8.7 1 9 1-7.1 1 7 1-9.2 1 8.5 1-8.3 1 9 1-8.3 1 8.6 1-7.7 1 6 1-7.9 1 9.8 1-10.4 1 8.4 1-7.6 1 8.3 1-8 1 5.5 1-6.9 1 10.9 1-10.7 1 7.8 1-8.8 1 9.3 1-5.8 1 7.5 1-7.6 1 6.5 1-5.2 1 5.8 1-7.7 1 9.2 1-9.7 1 4.9 1-9.1 1 12.9 1-11.4 1 6.9 1-6.6 1 8.2 1-10.6 1 12 1-10.3 1 10.9 1-10.2 1 5.8 1-5.4 1 7.4 1-12.3 1 12.3 1-12.9 1 15 1-10.5 1 7.9 1-8.4 1 8.4 1-8.4 1 8.1 1-9.2 1 8.3 1-7.7 1 6.5 1-6.9 1 8.9 1-8.9 1 6.4 1-4.8 1 7.2 1-10.4 1 6.6 1-4.6 1 5.6 1-7.9 1 7 1-6.2 1 6.3 1-7.9 1 7.7 1-8.8 1 7.7 1-5.4 1 8.1 1-10.1 1 12 1-8.8 1 5.6 1-6.3 1 7.3 1-10.1 1 10.9 1-7.1 1 7.5 1-13.3 1 12 1-5.2 1 3.9 1-7.1 1 8.2 1-7 1 8.7 1-11.1 1 9.8 1-10.1 1 7 1-6 1 7.1 1-8.6 1 7.6 1-9.6 1 6.5 1-4.5 1 6.5 1-7.3 1 8 1-4.1 1 5.1 1-7 1 9.3 1-9.4 1 6.4 1-12.1 1 10.4 1-15 1 12.8 1-9.7 1 8.6 1-9.2 1 8.1 1-9 1 14 1-6.5 1 11.2 1-2.9 1 12.4 1-3.9 1 11.9 1-6.1 1 14.7 1-3.7 1 12 1-8 1 9.8 1-4.5 1 9.6 1-7.6 1 9.8 1-5.7 1 7.4 1-10.2 1 15.7 1-7.2 1 10.3 1-6.5 1 7.4 1-9.2 1 13.3 1-8.8 1 6.8 1-6.8 1 11 1-4.9 1 5.9 1-4.8 1 10.5 1-3.9 1 7.4 1-7 1 9.4 1-7.6 1 8.3 1-9.1 1 7.7 1-7.8 1 5.1 1-9.6 1 10.6 1-12.4 1 8.1 1-10.6 1 10.8 1-7.8 1 5 1-8.6 1 7.5 1-9.1 1 8 1-9 1 10.1 1-8.3 1 3.3 1-5.7 1 6.5 1-10.8 1 4 1-5.7 1 9 1-12.6 1 11.6 1-12.3 1 9.5 1-10.4 1 10.6 1-9.9 1 6.9 1-5.2 1 8 1-8 1 7 1-7.5 1 7.7 1-11.9 1 8 1-7.6 1 9 1-9 1 9.2 1-8.2 1 7.8 1-8.5 1 8.1 1-12.8 1 12.4 1-5.6 1 3.3 1-5.9 1 7.6 1-9.6 1 6.4 1-12.9 1 12.6 1-8.7 1 7.4 1-8.6 1 9.5 1-10.9 1 9.1 1-9.9 1 9.7 1-12.5 1 9.4 1-8.6 1 8.3 1-12.9 1 8.7 1-9 1 7 1-7.3 1 9.7 1-10.4 1 9.6 1-8 1 7.3 1-6 1 6.2 1-7.8 1 9.6 1-12.3 1 7.6 1-6.6 1 7.9 1-11.2 1 7 1-10.1 1 12.2 1-8.1 1 7.7 1-7.6 1 9 1-8.6 1 8.3 1-7.4 1 4.9 1-6.1 1 6.8 1-7.2 1 8.3 1-9.2 1 9.9 1-9.9 1 13.9 1-11.9 1 5.6 1-5.7 1 5.4 1-8.5 1 10.3 1-10.9 1 9.5 1-9.1 1 7.5 1-6.5 1 4.4 1-3.4 1 8 1-8.7 1 7.6 1-8.3 1 8.2 1-6.5 1 8.6 1-9.1 1 6.1 1-7.8 1 8.9 1-9.6 1 9.3 1-6.9 1 7.1 1-8.9 1 8.3 1-6 1 6.8 1-7.9 1 8.1 1-7.4 1 8.9 1-10 1 11.4 1-11.4 1 12.6 1-11.4 1 7 1-10.6 1 12.5 1-9.4 1 6.4 1-5.8 1 4.3 1-6.7 1 8.6 1-10.5 1 9.9 1-9.2 1 7.8 1-7.3 1 7.5 1-7.5 1 6.9 1-10.2 1 8.8 1-9.3 1 9.9 1-8.8 1 4.3 1-6.6 1 8.9 1-7.6 1 6.1 1-3.9 1 7.6 1-11.8 1 10.7 1-12.7 1 9.9 1-5.4 1 9.6 1-11 1 10.7 1-9.1 1 7.7 1-9.2 1 6.2 1-7.8 1 10.5 1-7.5 1 6.1 1-6 1 7.5 1-5.3 1 5.7 1-6.7 1 8.2 1-5.6 1 7.6 1-12.4 1 10.3 1-6.5 1 6.7 1-7.8 1 7.4 1-5.4 1 6.6 1-4.4 1 6.4 1-5.1 1 9.3 1-2.4 1 14 1 .1 1 13.4 1-5.3 1 11.2 1-7.2 1 14 1-8.5 1 11.3 1-6.6 1 8.3 1-6.5 1 15.6 1-11.5 1 10.8 1-6.4 1 11.5 1-4.3 1 11.4 1-6.2 1 10.1 1-7.8 1 13.7 1-8.5 1 12.7 1-11.5 1 12.1 1-8.4 1 9.2 1-9 1 11.7 1-5.4 1 8.1 1-8.1 1 11.5 1-11.1 1 12.9 1-10.1 1 10.8 1-9.9 1 5.6 1-10 1 6.6 1-7.1 1 5.9 1-6 1 4.9 1-9.8 1 6.1 1-9.2 1 7.5 1-9.2 1 9.1 1-12.5 1 8.6 1-10.6 1 9.5 1-9 1 8.6 1-9.8 1 7.7 1-8.7 1 9.5 1-11.7 1 9.9 1-9.9 1 5.6 1-6.9 1 6 1-7.9 1 8.4 1-9.1 1 5.5 1-7.8 1 8.2 1-11.6 1 7.6 1-7.9 1 9.5 1-8.8 1 4.7 1-7.4 1 8.9 1-8.6 1 9.3 1-10.9 1 8 1-6.3 1 5.9 1-9.2 1 7.1 1-9.5 1 8.9 1-8.5 1 8.3 1-10.8 1 9.1 1-14 1 13.8 1-7.3 1 5 1-8.7 1 7.4 1-8.8 1 10.3 1-10.2 1 8.6 1-9 1 11.4 1-10.4 1 9.6 1-10.9 1 10.9 1-15 1 11.8 1-9.2 1 10.7 1-10.3 1 13.9 1-16 1 11.4 1-9.7 1 7.6 1-11 1 11 1-13.1 1 10.5 1-9.6 1 7.7 1-9 1 8 1-7.8 1 8.3 1-8.6 1 9.9 1-7.6 1 8.5 1-10.9 1 8.9 1-9 1 10.4 1-10.7 1 9.8 1-12.1 1 9.4 1-9.1 1 10.1 1-11.4 1 9.5 1-7 1 6.6 1-7.8 1 6.8 1-11 1 8.3 1-6.7 1 6.9 1-9.7 1 7.5 1-6.7 1 10 1-11.5 1 9.7 1-9.4 1 9 1-8.5 1 5.7 1-9 1 8.9 1-6.1 1 6.1 1-7 1 8.4 1-7 1 4.9 1-7.4 1 8.1 1-8.2 1 9.8 1-13.2 1 12 1-14.9 1 15.5 1-14.7 1 13 1-9.8 1 7.7 1-8.3 1 8 1-10.7 1 9.5 1-7.9 1 8 1-5.1 1 6.4 1-9.6 1 7.8 1-6.2 1 6.5 1-5.5 1 6.4 1-11.3 1 8.7 1-8.6 1 9.1 1-10.6 1 11.5 1-10.8 1 6.6 1-6.2 1 8.2 1-8 1 10.3 1-7.3 1 11 1-11.3 1 8 1-7.2 1 8.8 1-8.4 1 8.9 1-11 1 8.9 1-6.9 1 8.9 1-8.2 1 9.4 1-8 1 6.2 1-7.3 1 8.6 1-10.3 1 10.5 1-9 1 12.5 1-12.3 1 7.9 1-10.5 1 11.2 1-13.4 1 11.8 1-9.9 1 7.4 1-10.2 1 8.4 1-7.7 1 9.7 1-8.8 1 7.1 1-8.3 1 14.3 1-13.1 1 8.2 1-7.5 1 6" fill="none" stroke="#231f20" stroke-width="3.2" stroke-linejoin="bevel"/>
<text x="828.5" y="520.2" font-size="27" textLength="162.5" lengthAdjust="spacingAndGlyphs">Glutamate (F</text>
<text x="991" y="528.8" font-size="18.5" fill="#f6a73b" textLength="227" lengthAdjust="spacingAndGlyphs">SF-Venus-iGluSnFR.S72A</text><text x="1218" y="528.8" font-size="18.5" textLength="5.4" lengthAdjust="spacingAndGlyphs">/</text><text x="1223.4" y="528.8" font-size="18.5" fill="#e41f2d" textLength="79.2" lengthAdjust="spacingAndGlyphs">tdTomato</text>
<text x="1303.4" y="520.2" font-size="27">)</text>
<text x="717.4" y="695" font-size="25" text-anchor="middle" textLength="50" lengthAdjust="spacingAndGlyphs">DBS</text>
<line x1="693.4" y1="711.3" x2="741.4" y2="711.3" stroke="#231f20" stroke-width="1.6"/>
<text x="717.4" y="750" font-size="25" text-anchor="middle" textLength="87" lengthAdjust="spacingAndGlyphs">100 µA</text>
<text x="972.8" y="733" font-size="25" text-anchor="middle" textLength="50" lengthAdjust="spacingAndGlyphs">DBS</text>
<line x1="948.8" y1="749.4" x2="996.8" y2="749.4" stroke="#231f20" stroke-width="1.6"/>
<text x="972.8" y="786.4" font-size="25" text-anchor="middle" textLength="87" lengthAdjust="spacingAndGlyphs">150 µA</text>
<text x="1230.2" y="770" font-size="25" text-anchor="middle" textLength="50" lengthAdjust="spacingAndGlyphs">DBS</text>
<line x1="1206.2" y1="786.4" x2="1254.2" y2="786.4" stroke="#231f20" stroke-width="1.6"/>
<text x="1230.2" y="822.8" font-size="25" text-anchor="middle" textLength="87" lengthAdjust="spacingAndGlyphs">200 µA</text>
<line x1="1394.7" y1="498" x2="1394.7" y2="583.9" stroke="#231f20" stroke-width="1.6"/>
<line x1="1394.7" y1="583.9" x2="1436.2" y2="583.9" stroke="#231f20" stroke-width="1.6"/>
<text x="1397.2" y="551" font-size="24.5" textLength="62.5" lengthAdjust="spacingAndGlyphs">1 min</text>
<g transform="translate(1379.5 601.6) rotate(-90)">
<text x="0" y="0" font-size="24.5" textLength="59.4" lengthAdjust="spacingAndGlyphs">10% </text>
<text x="59.4" y="0" font-size="24.5" textLength="17.4" lengthAdjust="spacingAndGlyphs">Δ</text>
<text x="76.8" y="0" font-size="24.5" font-style="italic" textLength="15.9" lengthAdjust="spacingAndGlyphs">F</text>
<text x="92.8" y="0" font-size="24.5" textLength="7.2" lengthAdjust="spacingAndGlyphs">/</text>
<text x="100" y="0" font-size="24.5" font-style="italic" textLength="15.9" lengthAdjust="spacingAndGlyphs">F</text>
<text x="115.9" y="5" font-size="16" textLength="9.5" lengthAdjust="spacingAndGlyphs">0</text>
</g>
<path d="M640 1485.1l2-3.9 2-6.6 2 5.7 2 3 2-4.3 2 5.6 2-10 2 10.5 2-9.6 2 .2 2 1 2-1.2 2-7.4 2 2.2 2 5.5 2-4.5 2 4.2 2-1.1 2 .1 2-5.2 2 2.8 2 3.6 2 3 2 .5 2 7.2 2 9.2 2 3.6 2 1.3 2 1.5 2 2.3 2 1.7 2 4.7 2 10.4 2 .6 2 2.6 2-2.7 2 3.6 2 8.2 2-2.3 2 4.6 2-10.4 2 6.1 2 3.8 2-3.2 2-3.7 2 2.3 2-.9 2 1.8 2-4.3 2 3.7 2-3.2 2-1.7 2 .5 2 2.6 2-3.4 2-1 2 3.1 2-4.9 2-2.6 2 3.2 2 .1 2-1.8 2-2.6 2 .3 2-.3 2-2.2 2 .7 2 5.1 2-3.6 2-8 2 8.3 2 .2 2-2.9 2-1.9 2-5.8 2 6.9 2-2.3 2-2.1 2-2.5 2 5.1 2-3.5 2 2.9 2-5.1 2-.5 2 1.4 2 3.2 2-4.5 2-3.5 2 6 2-2 2-3.9 2 3.1 2-2.8 2-3.5 2-2.1 2 5 2-12.7 2 13.6 2-8 2 3.2 2-1.2 2 .9 2-7.7 2 3.7 2-.4 2 5.8 2-5.8 2-4.9 2 5.2 2-2.4 2-2.2 2 4.3 2-3.1 2 .5 2 .1 2 2.2 2 4.1 2-6.3 2-5 2 3.4 2-1.6 2-.3 2 1.4 2-2.1 2 1.3 2-7.2 2 6.1 2 .5 2 0 2-11.4 2 11.2 2-3 2 1.5 2-.2 2 2.7 2-.3 2-3.7 2-1.8 2 3.1 2 1.2 2-4.1 2-4.7 2 5.2 2 1.1 2-3.2 2-.6 2-1.5 2-.2 2 4.9 2-1.9 2 1.6 2 8.2 2 .6 2 9.3 2-2 2 7.1 2 1.7 2 8.3 2 1.2 2 8.5 2-2 2 3.6 2 6.7 2-1.2 2 3.9 2 1.8 2 6.8 2 8.4 2-7.2 2 11.5 2-5.3 2 9.5 2 .4 2-.5 2 7.6 2 5.3 2-2.5 2 .2 2-3.8 2-1.6 2 2.6 2-3.8 2 3.6 2-2.4 2-5.1 2-6.1 2 3.2 2 4 2 1.2 2-4.6 2-2 2 .6 2-.3 2-3 2-1.1 2-.2 2-1 2-4.7 2 3.5 2-2.7 2 .9 2 4 2-6.7 2-4 2 6.4 2-6.2 2 3.4 2-9 2-2.3 2 4.1 2-8.6 2 5.2 2-1.7 2 2.7 2-1.6 2 2.8 2 1.1 2-4.9 2-6.8 2 1.1 2-1 2 2.3 2 .5 2 2.8 2-1 2-6.7 2-1.3 2 2.4 2-2.6 2-.3 2-3.7 2-1.1 2 2.6 2-4.2 2 0 2 4.3 2 3.3 2-6.4 2 3.7 2-11.1 2 4.7 2-2.6 2 1.5 2 .1 2 1.7 2 5.2 2-5.6 2-3.5 2 2.4 2-6.6 2-5.5 2 7.4 2-4.4 2 1.3 2 .2 2-5.1 2-2 2 9.4 2-1.7 2-6.6 2-.9 2 1 2 1.2 2-1.1 2-3.9 2 3.2 2-7.3 2 4.8 2 2.2 2-7.8 2 0 2 2 2-5.5 2-.7 2-2.1 2-.1 2-3.8 2 4.4 2 .7 2-4.9 2 13 2 1.2 2 5.7 2 5 2 .6 2 14.1 2 .5 2 2.1 2 5.9 2 4.1 2 5.8 2 3.8 2 1.1 2 .1 2 4.4 2 9 2 1 2 8.1 2 4.2 2-3.6 2-.3 2 1.6 2 2.8 2-.8 2 0 2-4.9 2-1.5 2 .5 2 2.4 2-2.2 2 1.3 2-5.9 2 2.5 2 1.8 2 1.6 2-5.7 2 1.6 2-7.2 2 7.1 2-7.1 2 1 2-1.7 2-2.8 2 .7 2 6.4 2-4.3 2-2.3 2-.9 2-9 2 6 2-7.4 2 3 2-6.6 2 .8 2-2.5 2-3.2 2 1 2-4.9 2 6.3 2-7.4 2 2.5 2-5.6 2 3.6 2-5.9 2 .3 2-2.6 2-2.3 2-4.9 2 5.2 2 4.6 2-11.8 2 2.6 2-2.9 2 .6 2 1.6 2 3.4 2-.7 2-1.2 2 6.4 2-4 2-3.1 2-1.9 2 .3 2-2.3 2 5.2 2-4.1 2 2.7 2-4.9 2-.9 2 1.6 2-4.1 2-3.4 2 3.2 2 2.3 2-5 2 5.9 2-2.7 2-1.2 2 2 2-6.2 2 7.5 2-6.6 2 3.6 2-.9 2 1.4 2-1.2 2-8.3 2 5.5 2 1 2-1.2 2 5.4 2-4.3 2-6.6 2 5.2 2 2 2 3.2 2-2.6 2-7.3 2 1.7 2 2.8 2 .8 2-3.6 2-4.6 2 8.1 2 .6 2 .6 0 57.1-2-1.7-2-3.9-2 4.8-2-4-2 1.1-2 4.4-2 4.5-2-7.3-2 .2-2 3.3-2-.5-2-1-2-1.4-2-.7-2 6.8-2-.4-2-8.8-2 10.3-2-2.1-2 .1-2-4.9-2 5.2-2-4.9-2 6.6-2-.7-2-2.8-2 .8-2-.6-2 1.1-2-3.8-2-.9-2 8.4-2-5.2-2 5.3-2-2.8-2 1.4-2-.1-2 3.5-2-2.4-2 1.1-2 2.1-2-1.9-2 4.4-2-2.9-2 1.3-2-.6-2 4.1-2-1.5-2-4.2-2-1.7-2 1.3-2 9.5-2-5-2-.2-2-1.9-2 7.8-2-2.8-2 1.3-2-2.4-2 1.1-2 2.2-2 9.9-2-5.3-2-4.3-2 3.3-2 3.4-2 2.3-2 4.8-2-1.1-2-1.6-2 2.5-2 7.1-2-5.8-2 2.9-2 .9-2 3.6-2 4.6-2 .3-2 .1-2 6.5-2-6.8-2 .6-2 6.7-2-3.5-2 5.2-2 .1-2 4.2-2-5.2-2 3.4-2 .4-2 9.7-2-4.3-2 .2-2-6.2-2-.3-2 2.9-2 6.8-2-5.7-2 6-2-1.8-2-3.8-2 .8-2 5.4-2-1.9-2-6.2-2 6.7-2-3.8-2-1.5-2-4.9-2-1.1-2-5.3-2-3.1-2-3.4-2-4-2-5.4-2-4.4-2-6.1-2-3.7-2-7.5-2 5.1-2-12.6-2 2.6-2-9.8-2-6.6-2 .9-2-7.5-2-6.1-2 3.4-2 1.7-2-5.2-2 7.1-2-7.3-2 3.1-2 1.3-2 1.2-2 10.9-2-1.9-2 3.5-2-3.5-2-5.9-2 5.1-2 2.6-2 1.9-2 4.1-2-5.1-2 4.3-2 1-2-7-2 10-2-2-2-1-2-.7-2 2.4-2 2.6-2-2.4-2 1-2 4.6-2-.8-2 9.8-2-9.1-2 4.9-2-3-2 1.8-2-8-2 4.4-2 8.2-2-5.7-2 1.3-2-.4-2 2.9-2 2.1-2-.1-2 1.7-2-9.3-2 3.9-2-1.4-2-.3-2 1.1-2 7-2 5.1-2-1.5-2-3.8-2 4.5-2-.1-2-2.9-2 5.7-2-4.3-2 1.5-2 5.8-2-1.8-2-1.8-2 .7-2-1.2-2 4-2-.8-2-.1-2 2.5-2 .9-2-1.3-2 7-2-3.3-2 5.8-2-.2-2 1.3-2-2.4-2 5.1-2-4-2 3.4-2-3.6-2 4.3-2-3.1-2 3.5-2 7-2 1.9-2-3.7-2-1.1-2 2.7-2 5.6-2-5.8-2 3.2-2 5.4-2-1.4-2 .9-2-1.7-2 2.4-2-3.2-2 5.4-2 1.3-2 .4-2-.5-2-4.5-2-2.1-2-5.3-2-.5-2 .9-2-6-2-3.1-2-5.8-2 1-2-8.7-2-1.2-2 2.3-2-1.5-2-11.5-2-3.3-2-.2-2-13.4-2 1.6-2-7.3-2-1.8-2-2.5-2-.1-2-3.5-2-6.6-2-1.7-2-4.4-2-5.5-2 3.5-2-3.9-2-2.1-2 3.2-2-1.7-2-.4-2 2.6-2-1-2 8.3-2-4.7-2-3.2-2 13.6-2-4.8-2-4-2-6.3-2 6.4-2 1-2-.1-2-2-2 .3-2 2.8-2-6-2 4.5-2 1.6-2 .6-2-6.3-2-1-2 2.2-2 4.4-2-3.2-2 1.7-2 1.3-2 2.8-2-.9-2 1.2-2 1.7-2-4.7-2 1.9-2-2.7-2 .6-2 1.7-2 .4-2 3.7-2 3.5-2 1.5-2-5-2 1.4-2 0-2 3.2-2-5.3-2 1.3-2 1.4-2 .2-2 3.3-2 6.2-2-2.5-2-.8-2 4.4-2-1.3-2-4.7-2 3.6-2-.1-2-4-2 2.8-2-1.6-2 0-2 .5-2 2.9-2 5.1-2 1.7-2-4.1-2 1.5-2-3-2 .7-2 3.1-2-3.2-2 5.9-2-.5-2 .9-2-2.9-2 5.8-2-5.8-2 6.6-2-6.7-2 9.4-2-.9-2-6.4-2 7.5-2-1.5-2-3.3-2 5.7-2 1.3-2 2.6-2-2.3-2-.6-2-.1-2 1.5-2-.6-2 2.7-2-5.9-2 9.4-2-.8-2 2.7-2-3.3-2-1.6-2-2.5-2-.4-2 8-2-.4-2-10.1-2-.2-2 3.3-2-5.1-2-1.4-2 .8-2-6.3-2-2.4-2-8.6-2-4.3-2-2-2-1.5-2-1.4-2-8.6-2 1.6-2-8.4-2 1.4-2-10.5-2-7-2 1.4-2-1.3-2 3.2-2 7.9-2-3.1-2 4.3-2-4.5-2-1.7-2 .3-2 .5-2 2.5-2 0-2 4.3-2-2.2-2 2.8-2 3.5-2-5.5-2-.5-2 3.7-2-.4-2 .7z" fill="#d1d3d4"/>
<path d="M640 1498.6l1 10.8 1-14.6 1 12.6 1-11.4 1 10.3 1-10.3 1 14.5 1-13.1 1 10.8 1-9.1 1 10 1-9.4 1 8.5 1-12 1 14.8 1-13.8 1 9.8 1-12.5 1 16.5 1-17.8 1 6.7 1-6.7 1 13.2 1-17.3 1 12.7 1-15.2 1 11.8 1-11.4 1 14.6 1-12.9 1 13.8 1-11.5 1 15.7 1-17.1 1 11.8 1-14.6 1 10.6 1-13.5 1 11 1-10.4 1 10.3 1-12.6 1 14.2 1-7.4 1 14.7 1-10.5 1 14.3 1-16.5 1 26.6 1-17.3 1 16.4 1-15.2 1 20.4 1-10.8 1 15.5 1-14.4 1 15.4 1-5.8 1 8.5 1-9.8 1 16.2 1-10 1 10.2 1-8.3 1 12.4 1-10.8 1 20 1-10 1 9.5 1-9.8 1 16.2 1-15.6 1 13.1 1-10.4 1 12.9 1-10.4 1 8.9 1-10.1 1 13.4 1-14.4 1 14.5 1-10.6 1 9 1-10 1 17.4 1-14 1 12.4 1-17.8 1 15.1 1-8.3 1 10.1 1-16.4 1 12.6 1-12.1 1 8.6 1-10.7 1 15.7 1-12.5 1 11.1 1-8.7 1 7.8 1-14.1 1 10.6 1-9.8 1 17.2 1-14.9 1 13.1 1-15.2 1 12.9 1-10.5 1 11.2 1-12.4 1 10.9 1-11.8 1 7.4 1-12.2 1 16.9 1-13.9 1 9.9 1-10.4 1 13.2 1-15.7 1 14.2 1-16.7 1 11.5 1-12.9 1 11.5 1-13.8 1 15.7 1-12.6 1 12.1 1-10 1 8.6 1-11.3 1 12.4 1-10.7 1 10.8 1-13.4 1 11.9 1-14.7 1 15.6 1-12.5 1 13.3 1-14.4 1 13.3 1-15.7 1 11.3 1-12.2 1 13 1-9 1 1.4 1-11.3 1 14.8 1-8.9 1 15.6 1-18.8 1 14.4 1-15 1 12.8 1-17.7 1 18.9 1-14.5 1 10.3 1-11.5 1 12.6 1-10.6 1 9.4 1-13.3 1 17.3 1-13.9 1 11.8 1-13 1 10.4 1-10.7 1 16.3 1-18.7 1 10.8 1-11.4 1 16.9 1-14.2 1 10.9 1-15.4 1 20 1-15.6 1 14 1-17.6 1 13.9 1-10.3 1 5.8 1-10.5 1 11.7 1-11.5 1 9.8 1-9.1 1 6.5 1-9.2 1 11.8 1-16.3 1 16.3 1-13.5 1 13.3 1-11.6 1 8.7 1-11.4 1 11.7 1-11.9 1 12.5 1-10.2 1 9.6 1-11.6 1 9 1-12.4 1 13.5 1-12.4 1 13.8 1-14.4 1 4.7 1-8.8 1 14.6 1-9.2 1 12.7 1-17.1 1 11.1 1-10.5 1 9.5 1-7.7 1 8 1-6.6 1 7.7 1-10.3 1 15.9 1-15.5 1 12.8 1-13.8 1 15.4 1-16.3 1 15.1 1-18.2 1 14.4 1-11.7 1 12.6 1-12.9 1 10.7 1-11.5 1 10.6 1-12.8 1 15.9 1-11 1 7.6 1-11.2 1 10 1-10.1 1 12.4 1-13.8 1 9.9 1-11.7 1 13 1-11 1 13.1 1-12.6 1 10.6 1-11.9 1 11.4 1-11.1 1 13.2 1-14.6 1 13.4 1-11.3 1 10.8 1-10.1 1 12.6 1-16.7 1 15.3 1-11 1 6.5 1-7.9 1 13 1-9.3 1 6.6 1-13.2 1 16.7 1-15.8 1 9.6 1-10 1 10.9 1-13.8 1 17.1 1-14.8 1 9.6 1-8.8 1 10 1-8.7 1 12.7 1-13.5 1 9.8 1-14.3 1 17 1-15.3 1 13.7 1-9.8 1 17.7 1-13.9 1 13.8 1-10.4 1 17.7 1-12.2 1 15.2 1-15.7 1 11.9 1-5.7 1 8.6 1-4.5 1 13.1 1-14.1 1 18.7 1-11 1 16 1-12.1 1 12.7 1-7.2 1 12.6 1-9.4 1 15 1-12.3 1 12.8 1-9.3 1 15.5 1-9.8 1 11.3 1-8.1 1 15.5 1-11.6 1 16.6 1-14.5 1 14.5 1-9 1 10.4 1-10.4 1 15.1 1-12.3 1 18.7 1-14.4 1 12.8 1-8.1 1 10.6 1-9.8 1 15.7 1-11.6 1 13.3 1-10.2 1 11.9 1-14.3 1 20.1 1-15.3 1 9.9 1-10.5 1 14.4 1-15.5 1 12 1-16.6 1 14 1-10.8 1 8.1 1-10.5 1 10.9 1-10.4 1 11.9 1-14.2 1 12.8 1-11.6 1 8.8 1-11.1 1 11.2 1-10.6 1 10.3 1-16.9 1 13.6 1-11.2 1 12 1-16.8 1 15.4 1-15.3 1 21 1-17.7 1 8.4 1-9.7 1 9.9 1-12.2 1 13.4 1-16.4 1 14.9 1-12.8 1 9.6 1-10.8 1 13 1-15.4 1 12.8 1-11.9 1 10.6 1-14.4 1 11.8 1-12.6 1 14.2 1-11.3 1 11.1 1-12.8 1 10.5 1-12.5 1 12 1-13.8 1 11.9 1-13.5 1 18.3 1-19.5 1 10.6 1-14.7 1 16.7 1-15.8 1 12.6 1-12.9 1 12.9 1-16 1 13.3 1-12.4 1 12.1 1-12.6 1 9.1 1-9.5 1 11.5 1-11.1 1 11.9 1-11.9 1 12.3 1-15.1 1 12.6 1-14.5 1 13.1 1-14.1 1 13.4 1-11.8 1 10.4 1-12.3 1 12.5 1-13.7 1 12.4 1-9.5 1 9.9 1-11.7 1 9.8 1-11.5 1 11.6 1-13.5 1 13.7 1-10.9 1 7.4 1-7.9 1 11.9 1-18.8 1 16.6 1-15.8 1 11.2 1-10.3 1 19.4 1-20.4 1 11.3 1-10.8 1 15.9 1-17.8 1 15.7 1-18.8 1 20.9 1-14.3 1 6.2 1-9.8 1 14 1-15.5 1 14 1-17.3 1 10.8 1-8.8 1 10.3 1-10 1 10.6 1-13.4 1 14.5 1-14.1 1 7.7 1-8.5 1 9.4 1-8.9 1 13 1-12.2 1 10.4 1-15.9 1 15.6 1-8.4 1 10.3 1-15.5 1 15.5 1-20.5 1 12.3 1-7.2 1 9.9 1-8.7 1 6.5 1-13 1 16 1-14.4 1 10.2 1-11.3 1 10.4 1-12.9 1 13 1-11.7 1 16 1-15.9 1 11.5 1-17.2 1 17 1-15.5 1 13.8 1-13.8 1 13.5 1-9.7 1 9.1 1-15.4 1 14.9 1-13.1 1 12.6 1-14.3 1 13.7 1-12.7 1 10.2 1-13.9 1 10.8 1-10.7 1 13.6 1-16.2 1 12.6 1-9 1 11.3 1-13 1 12.3 1-15.2 1 11.3 1-12.4 1 9.5 1-11.1 1 8.3 1-11.1 1 9.1 1-9.9 1 15.2 1-16 1 14.3 1-14.4 1 16.4 1-16 1 13.7 1-8.8 1 14.1 1-8.4 1 5.9 1-7.3 1 14.1 1-6 1 20.2 1-16.3 1 20.2 1-16.2 1 16.3 1-10.2 1 15.2 1-13.1 1 19.3 1-7 1 8.5 1-7.5 1 13.1 1-7.3 1 14.1 1-12.3 1 16.1 1-13.2 1 14 1-8.2 1 14 1-9.6 1 12.7 1-11.9 1 14.7 1-8.9 1 11.5 1-9 1 13.3 1-8 1 13.8 1-13.3 1 13.3 1-12.8 1 14.2 1-14 1 9.8 1-14 1 12.7 1-7.6 1 12.6 1-14.7 1 13.6 1-11.7 1 8.2 1-8.6 1 15.1 1-14.6 1 11.4 1-10.9 1 6.2 1-13.9 1 13 1-12.4 1 12 1-10.1 1 13.5 1-13.1 1 10.8 1-8.5 1 7.7 1-9.4 1 12.2 1-13 1 15.3 1-15.3 1 10.4 1-12.6 1 15.4 1-16.2 1 12.5 1-13 1 11.4 1-12.7 1 10 1-10.3 1 9.2 1-12.4 1 10.9 1-10.5 1 12.6 1-13.6 1 12.7 1-14.4 1 13.4 1-13.3 1 13 1-15.2 1 13.5 1-12.2 1 8.3 1-15.1 1 12.6 1-16.1 1 13.3 1-12.2 1 10.5 1-12.1 1 9.6 1-10.5 1 7.1 1-10.8 1 9.2 1-12.3 1 14.4 1-13.3 1 13.4 1-14.9 1 10.2 1-9.7 1 10.8 1-13.1 1 14.2 1-13.7 1 8.5 1-15.6 1 13.3 1-15.5 1 14.9 1-11.2 1 12.8 1-13.4 1 13 1-14.2 1 11.1 1-12.8 1 10.8 1-11.5 1 9.3 1-11.6 1 8.8 1-9.6 1 7.8 1-10.2 1 14.5 1-14.4 1 14.2 1-13.9 1 12.4 1-14.6 1 14.5 1-12 1 10.6 1-10.4 1 11.7 1-13.2 1 11.5 1-13.1 1 15.7 1-16.9 1 14.9 1-12.4 1 13.3 1-17 1 18.1 1-11.4 1 9 1-12.5 1 13.1 1-15 1 12.4 1-14.3 1 17.9 1-18.3 1 14.6 1-16.6 1 13.1 1-11.6 1 11.3 1-13.3 1 13.3 1-16.7 1 14.7 1-13.9 1 14.3 1-14.8 1 14.8 1-17.5 1 14.5 1-13.6 1 14.2 1-12.4 1 13.7 1-17.4 1 13.7 1-7.8 1 11.4 1-13.7 1 12 1-9.1 1 8.7 1-14.2 1 15.1 1-11 1 9.9 1-8.5 1 8.4 1-20.4 1 21.4 1-14.4 1 15.5 1-14.2 1 12.7 1-14.8 1 14.2 1-10 1 8.2 1-7.2 1 12.2 1-21.1 1 19 1-14.5 1 12.6 1-11.3 1 8.4 1-7.1 1 8.8 1-10.7 1 10.7 1-14.2 1 13.2 1-14.6 1 16.4 1-13.8 1 11 1-10.9 1 13.8 1-10.9 1 11 1-11.2 1 13.9 1-14.9 1 11.3 1-13 1 16.2 1-18.9 1 13.4 1-9.7 1 11.8 1-12.6 1 11.3 1-12.7 1 11.3 1-6.4 1 12.2 1-10.8 1 9.2" fill="none" stroke="#231f20" stroke-width="3.4" stroke-linejoin="bevel"/>
<text x="883.6" y="1396.2" font-size="27" textLength="104.4" lengthAdjust="spacingAndGlyphs">GABA (F</text>
<text x="988" y="1404.5" font-size="18.5" fill="#12a14b" textLength="170.5" lengthAdjust="spacingAndGlyphs">iGABASnFR.F102G</text><text x="1158.5" y="1404.5" font-size="18.5" textLength="5.3" lengthAdjust="spacingAndGlyphs">/</text><text x="1163.8" y="1404.5" font-size="18.5" fill="#e41f2d" textLength="78.9" lengthAdjust="spacingAndGlyphs">tdTomato</text>
<text x="1243.5" y="1396.2" font-size="27">)</text>
<text x="702.4" y="1632.8" font-size="25" text-anchor="middle" textLength="50" lengthAdjust="spacingAndGlyphs">DBS</text>
<line x1="678.4" y1="1650.8" x2="726.4" y2="1650.8" stroke="#231f20" stroke-width="1.6"/>
<text x="702.4" y="1687.2" font-size="25" text-anchor="middle" textLength="87" lengthAdjust="spacingAndGlyphs">100 µA</text>
<text x="955.4" y="1679.1" font-size="25" text-anchor="middle" textLength="50" lengthAdjust="spacingAndGlyphs">DBS</text>
<line x1="931.4" y1="1695.4" x2="979.4" y2="1695.4" stroke="#231f20" stroke-width="1.6"/>
<text x="955.4" y="1732.4" font-size="25" text-anchor="middle" textLength="87" lengthAdjust="spacingAndGlyphs">150 µA</text>
<text x="1213.8" y="1698.1" font-size="25" text-anchor="middle" textLength="50" lengthAdjust="spacingAndGlyphs">DBS</text>
<line x1="1189.8" y1="1715" x2="1237.8" y2="1715" stroke="#231f20" stroke-width="1.6"/>
<text x="1213.8" y="1751.4" font-size="25" text-anchor="middle" textLength="87" lengthAdjust="spacingAndGlyphs">200 µA</text>
<line x1="1375.4" y1="1374.4" x2="1375.4" y2="1458.7" stroke="#231f20" stroke-width="1.6"/>
<line x1="1375.4" y1="1458.7" x2="1416.8" y2="1458.7" stroke="#231f20" stroke-width="1.6"/>
<text x="1377.5" y="1428.8" font-size="24.5" textLength="62.5" lengthAdjust="spacingAndGlyphs">1 min</text>
<g transform="translate(1357 1477.8) rotate(-90)">
<text x="0" y="0" font-size="24.5" textLength="60.6" lengthAdjust="spacingAndGlyphs">10% </text>
<text x="60.6" y="0" font-size="24.5" textLength="17.7" lengthAdjust="spacingAndGlyphs">Δ</text>
<text x="78.3" y="0" font-size="24.5" font-style="italic" textLength="16.2" lengthAdjust="spacingAndGlyphs">F</text>
<text x="94.5" y="0" font-size="24.5" textLength="7.4" lengthAdjust="spacingAndGlyphs">/</text>
<text x="101.9" y="0" font-size="24.5" font-style="italic" textLength="16.2" lengthAdjust="spacingAndGlyphs">F</text>
<text x="118.1" y="5" font-size="16" textLength="9.7" lengthAdjust="spacingAndGlyphs">0</text>
</g>
<path d="M623.5 2381.9l2-.5 2 3.5 2-1.9 2 .6 2-1.2 2 2.3 2 2.9 2-.6 2 .7 2 1.7 2-1.9 2-2.7 2-3.8 2 3 2-.2 2 1.9 2 3.3 2-7.3 2 2.6 2 3.1 2-1.7 2 6.6 2 3.1 2-3.6 2 2.6 2 1.8 2 7.2 2 3.6 2-3.2 2-1.1 2 2.8 2 .7 2 2.9 2 8.3 2 .7 2 4.1 2-3.5 2 2.3 2-.1 2 2.4 2 0 2 5.4 2-2.8 2 4.4 2-1.5 2 4.9 2-3 2 1 2 .3 2-1.9 2-2.5 2 2.3 2-1 2-.9 2-1.6 2 5.3 2-2.6 2 6.4 2-8.1 2 .5 2 0 2 .3 2-3.4 2 2.1 2-2 2 4 2-.2 2-7.6 2 5.8 2-1.2 2-5.1 2 3.4 2 1.3 2-2.7 2 0 2 2.9 2-5.8 2 3.4 2-5.3 2 3.5 2 4.4 2-4.5 2-1.3 2 1.6 2-2.1 2 .1 2-.2 2-.9 2 .9 2-4.6 2 4.8 2 1.9 2-.9 2 2.4 2-5.5 2-2.5 2 7.7 2-3.5 2-3.6 2 4.1 2-1 2-3.1 2 3.3 2-2.1 2-2.1 2-.1 2-1.2 2 5.8 2-6.7 2 1.9 2 2.2 2-2 2 1 2-2.4 2 0 2 3.7 2-1 2-.4 2-.5 2 4.5 2-1.2 2-6.7 2-3 2 4.6 2-3.9 2 5.6 2 2.3 2-2 2 .4 2 5 2-.8 2-7.5 2 6 2-2.9 2-4.8 2 3.8 2 2.8 2-2.8 2 3.3 2 2.6 2-4.8 2 0 2 3.4 2 .3 2-7.1 2 1.2 2 6.1 2 4.4 2 2.1 2 3.8 2 9.5 2 3.4 2 4.8 2-.8 2 4.2 2 4 2 .1 2-.8 2 2.2 2 5.9 2-3.2 2 4 2-.8 2-3.4 2 9 2-2.7 2 8.2 2 1.9 2 2.1 2 .2 2-1.3 2-1.4 2-1.3 2 2.3 2-.6 2-.6 2-1.2 2 .9 2-.4 2 8.3 2-5.4 2 3.9 2-1.5 2 .9 2-4.9 2 1.7 2-3.3 2-2.2 2 1.1 2-.2 2-2.1 2-3.8 2 7.9 2-.2 2-1.4 2-7.6 2 6.3 2-2.5 2 2.1 2-4.9 2-1.6 2 5.3 2-4.5 2 1 2-1.7 2 1.5 2-1 2 .8 2-3.2 2 1.3 2-5.9 2 5.2 2-4.9 2-4.1 2 2.3 2 2.2 2 .4 2-6 2 1.8 2 4.7 2-4.8 2 4.1 2-7.6 2-2.8 2 5.5 2 .3 2-1.4 2 1.9 2 .1 2 1.5 2-.2 2-2.3 2-1.4 2 .1 2 .3 2 .8 2-3.1 2 3.8 2-3.4 2 .2 2-.6 2-2.8 2 1.2 2 4.3 2-2.2 2-2.2 2 2.3 2-11 2 8.2 2-1.4 2-2.1 2 5.7 2-1.9 2-.8 2-3.2 2 2.1 2-1.7 2-2.5 2-2 2 4.1 2-1.6 2 1 2 .9 2 1 2-4.2 2 4.2 2-5.7 2 7.2 2-2.4 2 2.7 2-.2 2-.6 2 2 2-1.5 2-1.6 2 6.1 2 2.5 2 5.2 2 2.7 2 5 2 4.9 2 3.3 2 1.8 2 8.1 2 2.1 2 5.2 2 5.7 2 2.4 2 3.2 2 3.9 2-2.9 2 .1 2 10.6 2 5.3 2 3.3 2 1.6 2-3.1 2 3.5 2-2.1 2 5.4 2 3.7 2 4.5 2-3.4 2-5.8 2-1 2 3.3 2-3.7 2 .3 2-.2 2 2.9 2-5.2 2 1.5 2-5.3 2-.8 2-6 2 1.9 2-1 2 2.4 2-3.5 2-.5 2-.2 2-1.5 2 3 2-.7 2-4.9 2 3 2 .7 2-7.7 2 4.9 2-4.8 2-3.8 2 .2 2 1.3 2 .2 2 4.7 2-4.7 2-4.2 2 2.9 2-5.2 2 4.5 2-5.5 2 4.9 2-3.5 2 .2 2 1.2 2-7.2 2 1.1 2-.8 2-.4 2-4.7 2 .6 2 .7 2-3.4 2 .1 2 .9 2 2.9 2-9.5 2-.7 2 3.2 2 2.7 2-4.7 2-1.1 2 2 2-2.6 2-3.1 2 .1 2 3.7 2-2.1 2 3.4 2-7.5 2 5.5 2 .3 2-.4 2-4.7 2-1.4 2-2.6 2 .7 2-2.1 2 4.7 2 4 2-2.6 2-5.4 2 .8 2 3.4 2-4.5 2 1.2 2-.7 2-6.6 2 8.7 2-4.5 2 5.8 2-2.9 2 1.4 2-5 2-2.8 2-2.8 2 4.7 2-2.2 2-.4 2 2.2 2 6 2-3.7 2-3.6 2-2.8 0 74.3-2 2.7-2 3.6-2-3.3-2 .5-2 .6-2-.8-2 1.7-2-.4-2-1.3-2 5.1-2 .5-2 .8-2 0-2-4.3-2-.8-2 3-2-1.5-2 .4-2-.4-2 2.1-2 1.8-2-1.2-2-.2-2-2.4-2 4.8-2-1.5-2-1.5-2-1.5-2-.9-2 .6-2 6.4-2-4-2 7.9-2-.8-2-.7-2-.7-2 6.8-2-11-2 2.6-2-4.3-2 8.7-2-4.9-2 5.2-2-1.5-2 5.6-2-1.7-2 .1-2 1.3-2-1-2-.2-2 4.8-2 1.2-2-4.9-2 9-2-4.5-2-3.6-2 5.8-2 8-2-8-2 7.4-2-4.4-2 1.1-2 1.7-2-.7-2 .2-2 2-2 7.8-2-7-2 3.9-2-1.1-2-.4-2 1.5-2-4.5-2 4.1-2 3.7-2-.7-2 4.2-2-.2-2-.9-2 1.5-2-1.7-2 .2-2 2.1-2 2.1-2-2-2-.2-2 10-2-6.2-2-.9-2 4.6-2-1.4-2 1-2 9.5-2-4.4-2 3.1-2-3.9-2 3-2-1.4-2 1.3-2 2.1-2-1.2-2 2.4-2-6.9-2 2.5-2 .2-2-4.3-2-4-2 3.1-2-4.1-2-.4-2-3.3-2-9.9-2 5.9-2-14.4-2-.7-2 .9-2-1-2-5.4-2-1.9-2-4.7-2-3.3-2-9.2-2-3.8-2-3.8-2-7.6-2-1.1-2-2.7-2-2.5-2-1.3-2-8.4-2 3.9-2 1.5-2-6-2 5.1-2-1.7-2-4.9-2 6-2-5.5-2-2.7-2 3.6-2-1.4-2 3.2-2-3.7-2 .9-2 2.7-2-1.8-2 2.2-2 1.8-2-6.1-2 6.3-2-.3-2-.6-2-1-2 .6-2-3-2-1.1-2 6.2-2-.9-2 1-2-.7-2 .9-2-4.6-2 5.1-2-.6-2 1.7-2-3.3-2 0-2 5-2 1.1-2 .6-2-1.2-2 2.8-2-3.5-2-1.2-2 3.9-2-2.8-2-1-2-1.7-2 4.3-2-1.6-2 3.5-2-2.3-2-2.6-2-.8-2 3.8-2 .9-2-4.5-2 3.4-2 3-2 2.5-2-5.1-2 6.5-2-4.4-2 1.6-2 5-2-3.1-2-.5-2-.9-2 1.3-2-1.4-2 3.7-2-1.8-2 2.6-2 3.6-2-1.7-2 1.1-2-1.2-2 7.3-2-2.3-2-2.4-2-3.1-2 5-2-.5-2-3.9-2 4.5-2 .1-2 2.2-2 .3-2-2.7-2 2.8-2 .8-2 1.8-2-7.9-2 4.6-2 3.7-2-5-2-2.7-2 1.9-2-2.6-2 .1-2 2.2-2 3.8-2-5.3-2 3.8-2-7.1-2 2.4-2 .9-2-5.9-2-6.5-2 2.7-2-2.7-2 3.5-2-2.3-2-1.5-2-8.5-2 5.1-2-8.6-2 2.3-2 4.1-2-9-2 5.7-2-9.2-2-8.2-2 2.4-2-13.9-2-3.3-2-7.2-2 6.1-2-3.2-2-3.6-2 7.7-2-8.2-2 4.6-2-1-2 .3-2-.9-2 1.9-2 7.7-2-9.4-2-3.1-2 4.2-2-5.4-2 .9-2 6.9-2-4.8-2 2.1-2-5.3-2 2.5-2-1.7-2 1.4-2 .7-2 .4-2-2.8-2 5.1-2-2.4-2-2.6-2 4.3-2-2.5-2 2.3-2 3.1-2-1.1-2-7.4-2 .5-2-2-2 5.7-2-2.8-2-1-2 2.4-2 1-2-3.5-2-.7-2 4.7-2 2.7-2-4.3-2 .2-2 3.4-2-1.9-2 .5-2 1.8-2-2.7-2 1.6-2-2.7-2 4.7-2-1.4-2 1.5-2-.4-2-2-2 .6-2 5.6-2-6.8-2 .5-2-2.5-2 2-2 4.6-2-.2-2-1.5-2 .2-2-.8-2-.8-2-.7-2-1.2-2 2.7-2 5-2-.6-2-6.3-2 2-2 10.8-2-8.6-2-1-2 .3-2 5.3-2-1.8-2-.1-2 .9-2 .2-2 1-2 2.9-2-2.3-2-.4-2 1.7-2-2.5-2-2.5-2 .1-2 6.5-2-3.4-2 .2-2 1.7-2 2.4-2-4.1-2-4.1-2 2.2-2-3.9-2-.8-2 1.4-2-2.7-2 1.2-2-6.4-2-3.9-2-1.8-2-3.8-2 4.3-2-8.9-2 3.1-2-.7-2-5.8-2 3.7-2-5.3-2-5.8-2-1.8-2-3.8-2 .6-2 2.5-2-6.5-2 2.8-2-6.6-2-1.6-2 4.8-2 3-2-8.9-2 4-2 .3-2 1.8-2-2.7-2 1.3-2-3.2-2-.5-2 5.4-2-3.3-2-3.6-2-.1-2-.2-2 8.6-2-.6-2-8.1z" fill="#fbe1ca"/>
<path d="M623.5 2387.3l2-1.2 2-3.6 2 2.2 2-4.2 2 1.4 2-.3 2-4 2 4.6 2 2.1 2-.2 2-3.3 2-.5 2-1.3 2 2.7 2 1.8 2-7.3 2 2.8 2-1.3 2-2.4 2 7.8 2-3.2 2 7.5 2-.1 2 .3 2-1.7 2 2.5 2 5.3 2 .4 2 2.9 2-7 2 3.6 2 7.7 2-2.2 2 3.9 2-2.4 2 2.1 2 .9 2 1.1 2-5.1 2-2.4 2 5.6 2 2 2-2.6 2 6.1 2-3 2-.7 2-3.2 2 2.4 2-1.2 2-3.9 2-1.7 2 3.8 2 4.4 2-5.6 2 1.4 2-.4 2-1.7 2 2.8 2-5.1 2 2.6 2 1.1 2-3 2 2.6 2-2.5 2-3.6 2 5.3 2-.4 2 2.8 2 4 2-4.3 2-1.2 2-4.5 2 .5 2-2.3 2 4.2 2 1.3 2 3.8 2-4 2 .1 2-.4 2-2.6 2 1.3 2-1.7 2 1.6 2-2.1 2 2.4 2-3.6 2-1 2 3.3 2 3.2 2-3.7 2 .5 2-2.7 2 1.1 2-3.2 2-.6 2 .6 2 .8 2 3.9 2 1.2 2 .1 2-3.8 2-.6 2 1.5 2 2.4 2-1.1 2-1.3 2-3.7 2 .7 2-4.2 2 5.1 2 2.9 2-3.3 2 2.2 2-2.7 2-1.6 2-5.8 2 9.9 2-3.9 2-4.7 2 6.8 2 .1 2-.9 2-3.4 2 1.4 2 3.6 2-1 2-2.4 2 3.6 2-7.2 2-3.6 2 9.5 2-2.5 2 .8 2-.1 2 .7 2-11 2 7.5 2 0 2-6 2 .5 2 6 2-3.4 2 2.4 2 2.7 2-8.1 2 2.1 2 2.1 2-1.6 2 2.7 2-2.3 2 3.3 2 5.6 2-.6 2-.1 2 7 2-.8 2 3.7 2 .8 2-.7 2 4.4 2 .1 2 5.4 2 2.6 2-3.8 2-.5 2 5.1 2-1.2 2 1.3 2 1.9 2-4.8 2 7.8 2-3.7 2 1.5 2 0 2-.6 2-1.6 2-.4 2 1.4 2-.5 2-5.7 2 1.3 2-2.3 2 1.9 2 3.1 2 .6 2-2.5 2 1 2-2.3 2 4.2 2 1.3 2-7.1 2 6.2 2 1.3 2-.5 2-3.4 2 2.5 2-.7 2-1.9 2-4.1 2 4.7 2-5.3 2 7.6 2-1.7 2-.6 2-.4 2-4.1 2 1.9 2-.9 2 .9 2-.2 2 .2 2 .5 2-3.4 2-2.6 2 4.5 2-7.3 2-.7 2 4.4 2-1.8 2 2 2-2 2-.2 2 3.8 2-8.8 2 2.7 2-4.7 2 2.4 2 4.8 2-.6 2 1.3 2-7.9 2 6.1 2-10.3 2 8.2 2-2.3 2 .6 2-.6 2-.8 2 1.3 2-.3 2 .2 2-1.3 2 1.5 2-2.3 2 4.3 2-5.7 2 5.2 2-6.3 2-2.3 2 4.3 2-1.1 2-2.2 2 2.7 2-2.8 2-2.8 2 5.1 2-4.7 2 6.4 2-3.3 2-4.3 2 5.2 2 1.3 2-1.4 2 1.6 2-1.9 2-.9 2 2.3 2-2.4 2-3.5 2-1.1 2 3.9 2-1.6 2 3.7 2-3 2 .3 2 7.8 2-1 2 4 2-3.3 2-1.2 2 7.4 2 1.2 2 4 2-1.1 2 .8 2 1.7 2 2.4 2-.1 2 3.7 2 4.3 2-1.2 2 1.1 2 1.8 2 .2 2 3.3 2-.4 2 1.8 2 3.7 2 2 2-1.2 2-1.2 2 1.2 2 0 2 2.7 2-.8 2 1.1 2-1.9 2-7.2 2 4.4 2 3.8 2-1.6 2-7.6 2 5.2 2-4.4 2 1 2-4.2 2 4.1 2-2.7 2 3 2-2.5 2 2.3 2-2.3 2 1.1 2 1.2 2-7.3 2 2.2 2-.5 2 1.9 2-.4 2-.2 2-1 2-5.8 2 5.7 2-5.1 2 2.1 2 5.3 2-3.7 2-3.1 2-1.4 2-.1 2-.7 2-1.3 2 2.8 2 2.3 2-3.3 2-.3 2-6.7 2 1.7 2 6.7 2-2.3 2-4.7 2-1.2 2-.2 2 2.2 2 2.9 2-6.4 2 2.3 2-5.9 2 2.8 2-1.1 2 4 2-2.2 2-4.1 2 .8 2-.3 2 .1 2-.3 2-3 2 5.9 2-.6 2-3.7 2-.7 2-4.1 2-.4 2 3.3 2 2 2-7 2-.7 2-.9 2 3.4 2 5.3 2-.4 2-5.7 2-1.8 2 6.6 2-2.4 2-.7 2 2.3 2-5 2 2.6 2-.1 2-4.4 2 2.7 2-3.1 2-1.2 2-.7 2-1.3 2 2.2 2 1 2-2.1 2 1 2-1.9 2 2.2 0 48.3-2 5.8-2-.7-2 2.9-2-6.3-2 6.9-2-1.4-2-4.1-2-1.9-2 2.9-2 1.4-2-.1-2 .7-2-2-2-.2-2 2.6-2 1.1-2 2.2-2 .4-2 1.2-2-3.9-2 8.6-2-3.5-2-1.9-2-.7-2 .9-2-1.7-2 4.6-2 1.4-2-4.6-2 3.9-2-2-2 .8-2 5.3-2-3.6-2-.8-2-.6-2 .6-2 4.2-2-4.5-2 3.6-2-4.2-2 .7-2 0-2 5.1-2-.2-2-2.4-2 1.5-2 3.4-2 .5-2 2-2-5.6-2 6.3-2 0-2-.3-2 2-2-1.5-2-.9-2 3.6-2-.3-2 1.7-2 1.8-2-6.9-2 3.9-2-1.4-2 4.5-2-.3-2 .2-2-.2-2-.9-2 1.7-2 3.3-2-3.4-2-1.4-2 2.2-2 1.8-2 1.5-2 .6-2 2.9-2-.7-2-3.6-2 2.5-2-2.6-2 2.3-2 2.1-2-.6-2-.5-2-1.2-2 2.9-2-2.2-2 1-2 3-2 1-2 .2-2-3-2 3.4-2-1.9-2 .1-2 .2-2 4.6-2-6.3-2 4-2-2.3-2-1.3-2 1.7-2-2.5-2 .9-2 4.6-2-6.4-2-6.7-2-1.7-2 3.4-2-3.1-2 7.2-2-3.3-2-8.5-2 1.5-2-4.4-2-6.5-2 3.7-2-4-2-3.2-2 3.3-2-3.5-2 .7-2-7.4-2-.7-2-1.4-2 1.9-2-6-2 1.8-2 3.5-2-8.9-2 .8-2 3.9-2-1.5-2 1.2-2 .4-2 3.9-2-1.9-2-4.1-2 1.6-2 1.6-2-3.7-2 3.1-2 6-2-7-2 1.4-2 .5-2-2.7-2 1.3-2 .8-2-.4-2 2.5-2-2.6-2 6-2-3.2-2-2.2-2 5.9-2 .3-2 0-2-1.2-2 .2-2 1.8-2 .4-2-.4-2-4.3-2 4.1-2-.9-2-1.1-2-1.2-2 8.2-2-2.1-2 2.9-2-3.4-2 .3-2-4.6-2 2.6-2-.9-2-.6-2 1.6-2 7.5-2-7.3-2 1.4-2 1.2-2 .3-2-.2-2 2.4-2-2-2 8.8-2-3.1-2-4.5-2 3.6-2-3.3-2 3.2-2 .2-2-2.8-2-.4-2 4.3-2 3.3-2 .2-2 1.2-2-2.5-2 1.6-2-5.1-2 1.6-2-2.5-2 .2-2 7.3-2-3.8-2 3.5-2-4.1-2 .7-2 6.3-2-1.4-2-7.2-2 4.3-2-3.9-2 3.9-2-4.7-2 .6-2 3.7-2-1.5-2 1.1-2 .4-2-2.1-2 3.4-2-4.4-2 2.5-2-2.9-2 6.2-2-4.8-2 3.4-2-2.2-2 1.6-2-5.1-2-.1-2-1.3-2 3-2-1.5-2-3.9-2-3.2-2 5.6-2-9.9-2 1.2-2-.6-2 .7-2 3.1-2-8.1-2-2.1-2-1.9-2 .6-2-4.9-2-2.7-2 .9-2-2.8-2 3.1-2 1.1-2-2.5-2 2.2-2-.6-2-5-2 6.2-2-7.3-2 5.5-2-1.1-2 .2-2-1.8-2 3.8-2-4.5-2 5.1-2-1-2-3.6-2 4.6-2-2.6-2 1.3-2-1.3-2-.5-2 5.1-2 3.1-2 2.5-2-10-2 1-2-.2-2 5.4-2 1.6-2-5.7-2 5.2-2 3.2-2-8.5-2 1.8-2 3.6-2-3-2-2.5-2 4.4-2-4.4-2-1.4-2 2.8-2 4.5-2-5.2-2 4.4-2-3.5-2 4-2-3-2-1.2-2 7-2-3.4-2-5.5-2 3.6-2-2.4-2 4.4-2 1.4-2-1.1-2 2-2-5.9-2 5.5-2 2.6-2-5.6-2 2.5-2-.4-2-2.9-2 5.9-2-2-2 1.3-2 .9-2 .4-2 1-2-6-2 1.3-2 4.2-2-3.2-2 4.6-2-2.4-2 2.4-2 .2-2 1.6-2 4.3-2-3.7-2-5.8-2 5.2-2-2.3-2-.3-2-3.6-2 2.8-2-.7-2 1.5-2-3.4-2 1.8-2-1.7-2 7-2-1.5-2-.8-2-3.8-2 .4-2 5.2-2-2.4-2-3.8-2 6.8-2-3.8-2 2.6-2 .7-2 .1-2-3-2 1.6-2-.3-2 4.6-2 2.9-2-5.4-2-3.5-2-.9-2 2.7-2-6.1-2-3.5-2-1.3-2 6.4-2-4.1-2-2.9-2 .4-2-4.1-2 5.5-2-5.2-2-1.3-2-5.2-2-.7-2-7.5-2 .2-2 2-2-.7-2 .2-2 3.8-2 .7-2-4.2-2 6.6-2-2.8-2-1.7-2-.5-2 8.5-2-.3-2-6.1-2 2.8-2-.3-2-1.1-2 .3-2 4.3-2-2.4z" fill="#b7d9c6"/>
<path d="M623.5 2403.6l1 8.4 1-9.1 1 8.8 1-13.4 1 10.2 1-13.2 1 14.6 1-14.6 1 13.9 1-10.7 1 14.9 1-12.8 1 11.5 1-13.8 1 12.2 1-14.6 1 17.3 1-12.1 1 10.2 1-15.8 1 12.6 1-14.1 1 15.5 1-9.8 1 10.1 1-12.9 1 18.3 1-17.9 1 11.5 1-11.7 1 9.8 1-13.3 1 13.2 1-12 1 13.6 1-13.4 1 9.2 1-12 1 11 1-8.6 1 11.7 1-8.2 1 15.6 1-10.8 1 9.1 1-9 1 14.2 1-11.8 1 14.5 1-14.6 1 15 1-14 1 11.9 1-11.4 1 16.7 1-13 1 14.3 1-14.6 1 14.7 1-16.3 1 15.6 1-10.3 1 7.7 1-8.1 1 17.7 1-17.7 1 15.9 1-11.4 1 11.3 1-5.8 1 10.4 1-15.2 1 14.3 1-13 1 11.5 1-12.3 1 13.2 1-13.4 1 13.5 1-13.4 1 10.3 1-8 1 4.1 1-6.5 1 14.9 1-11.5 1 9.8 1-19.1 1 17.5 1-13.3 1 16.9 1-12.9 1 9.3 1-8.7 1 9.5 1-11.6 1 9.6 1-9.8 1 13.8 1-15.1 1 20.3 1-17.3 1 11.1 1-10.6 1 11.5 1-13.4 1 10.6 1-9.4 1 7.8 1-9.3 1 15.6 1-21.4 1 14.1 1-15.2 1 18.5 1-14 1 14.1 1-16.3 1 14 1-13 1 13.4 1-11.3 1 12.6 1-12.8 1 9.7 1-6.6 1 6.8 1-8.6 1 9.9 1-13.3 1 8.7 1-6.8 1 18.8 1-21 1 17.4 1-18.1 1 14.4 1-7.3 1 7.2 1-10.4 1 10.8 1-16.7 1 14.7 1-12.4 1 11.9 1-13.2 1 13.8 1-12.5 1 11.7 1-11.6 1 13.5 1-13.6 1 15.4 1-12.4 1 9.4 1-13.8 1 15.7 1-15.2 1 8 1-7.5 1 10.9 1-14.4 1 16 1-14.3 1 15.3 1-12.9 1 9.4 1-13.3 1 15.3 1-13.7 1 12.2 1-15.2 1 16.2 1-13.7 1 10.2 1-11.6 1 17.5 1-16.3 1 12 1-10.1 1 13.1 1-15.2 1 11.5 1-8.1 1 10.1 1-12.6 1 8 1-10.1 1 11.6 1-13 1 11.5 1-7.2 1 11.9 1-17 1 10.1 1-5.6 1 8.2 1-10.2 1 13.1 1-9.8 1 10.7 1-10 1 8.5 1-13.4 1 13.5 1-10.3 1 12.7 1-16 1 14.9 1-12.8 1 12.9 1-12.8 1 12.3 1-12.1 1 9.5 1-13.7 1 12.3 1-11.5 1 9.2 1-8.3 1 11.6 1-15.2 1 13 1-11.1 1 11.4 1-14.4 1 14 1-8.1 1 11.7 1-11.2 1 12.4 1-13.1 1 12.1 1-9.8 1 7.7 1-14.5 1 17.2 1-11.2 1 5.9 1-7.3 1 8.8 1-11.7 1 7.7 1-8 1 12.3 1-7.4 1 4 1-5.4 1 11.4 1-14.1 1 10.2 1-12.1 1 12.4 1-11.2 1 12 1-11.6 1 9.1 1-10 1 12.1 1-10.8 1 8.9 1-8.8 1 10.8 1-12.4 1 10.2 1-8.6 1 7 1-11.8 1 14.3 1-13.8 1 14.5 1-13.9 1 11.4 1-9.2 1 11.9 1-11 1 7 1-12.1 1 12.5 1-16.4 1 18.3 1-15.1 1 15.1 1-11.1 1 7.1 1-15.1 1 17 1-10 1 8.9 1-7 1 9.7 1-9.8 1 7.7 1-8.9 1 9.7 1-13.8 1 10.8 1-12.8 1 10.2 1-12.1 1 16.2 1-12.1 1 14.4 1-13.2 1 15.3 1-10.6 1 12.9 1-6.1 1 13 1-12.1 1 7.9 1-10.1 1 15.4 1-9.8 1 15.2 1-13.3 1 14.4 1-12.3 1 6.8 1-7.6 1 13.9 1-13.6 1 11.4 1-9.3 1 8.9 1-8.3 1 14.9 1-8.6 1 12.6 1-16.2 1 10.4 1-7.3 1 11 1-8.9 1 11.3 1-15.3 1 13.5 1-10.4 1 15.6 1-11.9 1 10.1 1-12.7 1 23.4 1-22.5 1 14 1-14.9 1 11.8 1-13.5 1 17.1 1-16.9 1 17.2 1-12.1 1 6.8 1-9.2 1 7 1-8.4 1 12.1 1-12.3 1 13.8 1-11.7 1 8 1-15 1 13.8 1-10.5 1 12.8 1-15.6 1 15.4 1-14.8 1 12 1-7.2 1 14.4 1-14.8 1 14.3 1-12.9 1 9.8 1-10.7 1 12.6 1-12.4 1 10.5 1-15.9 1 10.5 1-6.2 1 14.2 1-15.5 1 13.1 1-11.8 1 15.8 1-15.9 1 10.2 1-6.7 1 11.5 1-20.4 1 15.4 1-12.2 1 12.4 1-8 1 7.2 1-13.6 1 12.4 1-10.2 1 12.5 1-14.2 1 15.4 1-13.8 1 12.8 1-16.2 1 16.1 1-12.2 1 10.4 1-11.4 1 11.5 1-10.2 1 9.5 1-11.1 1 9.3 1-8.9 1 13.5 1-17.9 1 14.7 1-14.8 1 13.2 1-11.6 1 15.8 1-19.9 1 14.1 1-7.7 1 11.1 1-14.3 1 10.1 1-9.2 1 10.2 1-20.2 1 19.2 1-10.7 1 10.2 1-11.6 1 9.2 1-13.4 1 12.8 1-11.2 1 13.7 1-10 1 12.5 1-14.7 1 9.2 1-6.1 1 9.2 1-9.9 1 10.7 1-17.8 1 11.6 1-6.7 1 10.4 1-14.1 1 11.1 1-6.3 1 10.4 1-11.6 1 10.3 1-8.1 1 11.1 1-14.7 1 12.8 1-10.3 1 9.1 1-16.1 1 12.4 1-8.1 1 9 1-9.1 1 12.1 1-14.6 1 12.9 1-14.3 1 12 1-12.7 1 10.6 1-9.6 1 12.5 1-11.9 1 11.9 1-12.3 1 9.2 1-11.4 1 10.5 1-6.2 1 11 1-11.8 1 9.9 1-10.5 1 9.9 1-9 1 8.2 1-13.6 1 16.1 1-18.7 1 13.6 1-8.7 1 9.9 1-14 1 13.6 1-13.6 1 15.3 1-15.2 1 10.4 1-13.3 1 15.5 1-13.7 1 10.2 1-11.5 1 17.6 1-13.6 1 10.7 1-14.1 1 12.9 1-15 1 18.4 1-12.9 1 7.2 1-10.3 1 13.9 1-16.5 1 14.3 1-12.2 1 16.7 1-13.1 1 9.2 1-9.1 1 11.5 1-11 1 11.8 1-14.6 1 12.6 1-14.7 1 13.3 1-11.8 1 12.6 1-12.3 1 9.4 1-9.8 1 11.4 1-13 1 9.4 1-9.2 1 9.3 1-11.4 1 15.9 1-10.2 1 9.5 1-9.7 1 13.6 1-11.6 1 12.5 1-9.8 1 11.4 1-6.5 1 11.5 1-17.6 1 17.8 1-13.6 1 11.1 1-9.3 1 14 1-10.2 1 13.7 1-15.5 1 13.6 1-10.7 1 13.6 1-10.4 1 14.4 1-17.7 1 16.5 1-8.5 1 10.9 1-8 1 11.7 1-14.1 1 16.5 1-12.4 1 13.8 1-10.6 1 11.1 1-14.1 1 16.1 1-11.3 1 9.5 1-8.6 1 8.7 1-7.8 1 8.7 1-10.8 1 14.1 1-12.6 1 17.4 1-14.3 1 15.2 1-12.2 1 11.4 1-7.8 1 8.9 1-10.8 1 12.2 1-12.8 1 12.4 1-11.4 1 12.6 1-15.4 1 16.6 1-10.8 1 13 1-14.9 1 11.7 1-13.8 1 15.5 1-16.6 1 12 1-14.5 1 11.9 1-12.3 1 15.7 1-14.3 1 11.6 1-11.1 1 13.6 1-16.7 1 17.1 1-12.8 1 4 1-8.1 1 14.4 1-14.3 1 16 1-17.2 1 11.6 1-11.3 1 19.7 1-17.3 1 12.7 1-13.9 1 13.1 1-14.4 1 10.2 1-12.3 1 13 1-11.2 1 11.4 1-13.8 1 14.4 1-14.5 1 14.4 1-11.8 1 9.2 1-7.6 1 6.5 1-10 1 10.3 1-12 1 12 1-12.5 1 13.6 1-13.7 1 12.5 1-10.6 1 8.1 1-11 1 12.2 1-14.3 1 11.7 1-9.1 1 8.9 1-9.5 1 14.7 1-15.6 1 16.6 1-16.7 1 8.9 1-9.5 1 11.3 1-10.1 1 10.6 1-12.5 1 10 1-13.8 1 15.7 1-11.7 1 12.1 1-17.4 1 17 1-14.8 1 14.3 1-11.5 1 9.8 1-18.8 1 15.3 1-9.1 1 10.1 1-15.2 1 14.6 1-13.8 1 14.3 1-14 1 11.1 1-11.7 1 14.1 1-14.1 1 10.8 1-10.8 1 14.7 1-15.2 1 11.4 1-12.4 1 13.2 1-13.5 1 10.6 1-10.7 1 8.8 1-13 1 16.4 1-15.7 1 13.9 1-12.4 1 4.3 1-14.4 1 20.3 1-16.2 1 15.1 1-10.5 1 11.5 1-15.2 1 15 1-12.4 1 8.9 1-10.5 1 11.3 1-14.1 1 18.9 1-15.4 1 11.7 1-13.5 1 12.4 1-10.8 1 9.4 1-10 1 9.2 1-12.6 1 14.6 1-13.6 1 13.5 1-12.8 1 13.3 1-14.7 1 14.9 1-15.2 1 10 1-7 1 6.6 1-14.1 1 16.1 1-11.7 1 10.1 1-11.5 1 11.2 1-10 1 8.8 1-9.9 1 14.4 1-13.1 1 11.3 1-12.8 1 9.9 1-11.5 1 14.7 1-12 1 8.7 1-15 1 15.2 1-10 1 12 1-13.4 1 15.5 1-15.4 1 9.7 1-11.2 1 11 1-7.4 1 5.7 1-7.9 1 6.2 1-6.8 1 7.2 1-12.4 1 10.6 1-9.1 1 8.1 1-6.8 1 11.6 1-13.1 1 15.4 1-16.2 1 14 1-13.6 1 10.8 1-9 1 9 1-12.4 1 14.4 1-10.6 1 11.2" fill="none" stroke="#0f9f4c" stroke-width="3" stroke-linejoin="bevel"/>
<path d="M623.5 2401l1 9.3 1-13 1 16.6 1-9.2 1 12.6 1-15.9 1 13.8 1-13.4 1 11.8 1-14.5 1 13.3 1-13.8 1 13.8 1-11.5 1 11.6 1-11.5 1 10.7 1-9.8 1 15 1-12.9 1 10 1-11.2 1 9.9 1-14.5 1 14.4 1-13.4 1 9.6 1-8 1 10.1 1-10.1 1 10.8 1-5.5 1 7.6 1-11.5 1 10.4 1-8.1 1 10.8 1-10.5 1 11.4 1-11.6 1 11.2 1-13.6 1 18 1-9.9 1 8.5 1-12.9 1 13.6 1-7 1 8.3 1-11.7 1 17.9 1-10.3 1 8.6 1-8.9 1 11.2 1-8.6 1 12.5 1-8.3 1 7.9 1-11 1 13.3 1-9.8 1 16.3 1-15.5 1 13.5 1-8.3 1 13.6 1-11.7 1 14.3 1-13.7 1 14.7 1-7.8 1 9.9 1-12.2 1 14.6 1-10.4 1 11.6 1-9 1 11.9 1-13 1 11.1 1-11.4 1 12.7 1-11.6 1 11.6 1-7.4 1 10.8 1-14.8 1 14 1-9.7 1 11.1 1-10.1 1 10.7 1-9.6 1 14.8 1-13 1 10.7 1-12.8 1 10.7 1-11.4 1 12.2 1-12.2 1 11.9 1-13.6 1 14.9 1-10.1 1 9.9 1-15.7 1 15.6 1-13.6 1 11.8 1-12.8 1 11.2 1-12.1 1 14.9 1-10.8 1 13.4 1-14.8 1 12.2 1-15.3 1 13.6 1-10.6 1 9.9 1-14.2 1 14.5 1-14.8 1 12.7 1-10.4 1 14.4 1-16.1 1 9.4 1-6.9 1 12.1 1-15.2 1 11.7 1-9.2 1 9.1 1-10.5 1 13.4 1-15.3 1 11.9 1-8.1 1 3.9 1-9.6 1 10.3 1-8 1 11.8 1-10.9 1 9.9 1-10.8 1 12 1-16.1 1 15.5 1-12 1 9.9 1-9 1 13.2 1-13.4 1 10.2 1-13.2 1 12.3 1-13.1 1 14.6 1-11.3 1 6.8 1-6.6 1 10 1-15 1 12.1 1-9.4 1 11.7 1-10.3 1 7.7 1-9.9 1 11 1-11.8 1 12.6 1-11.5 1 12 1-13.3 1 13.7 1-17 1 17.5 1-12.9 1 9.1 1-9.7 1 8.6 1-10.2 1 15.5 1-16.7 1 10.2 1-5.6 1 11 1-14 1 14.6 1-15.2 1 13.6 1-14.2 1 14.5 1-11.9 1 18.7 1-20.3 1 11 1-10.4 1 11 1-10.4 1 8.1 1-13.8 1 14.5 1-14.8 1 12.1 1-9.6 1 10.4 1-11.9 1 15 1-13 1 8.1 1-9.4 1 11.6 1-9.1 1 9.3 1-12.8 1 14.7 1-11.8 1 10.1 1-10.3 1 9.9 1-11.2 1 9 1-9 1 10.3 1-11.2 1 11.3 1-11 1 12.7 1-9.4 1 6.4 1-12.2 1 12.3 1-9.5 1 10.1 1-12.5 1 11.6 1-6.1 1 7.7 1-11.8 1 11.1 1-10.7 1 9 1-10 1 12.9 1-14.7 1 19.9 1-15.1 1 10.2 1-11.1 1 11 1-9.5 1 10.3 1-12.5 1 13.9 1-13.4 1 10.7 1-10.4 1 12 1-11.2 1 9.6 1-10.9 1 10.6 1-14.1 1 16 1-9.5 1 9.2 1-10.7 1 16.6 1-14.7 1 11.5 1-15.6 1 16.9 1-15.6 1 16.1 1-15.9 1 10.7 1-11 1 17 1-17.4 1 15.4 1-10.9 1 11.6 1-12.6 1 9.9 1-12.7 1 13.3 1-6.1 1 8 1-9.4 1 16.4 1-11.6 1 15.5 1-10 1 16.8 1-8.2 1 8.3 1-8.7 1 11.9 1-5.3 1 8.7 1-10.1 1 15.2 1-8.9 1 10.9 1-10.1 1 15.9 1-11.4 1 7.5 1-10.7 1 15.8 1-11.4 1 16.3 1-11.7 1 10.4 1-12.7 1 16.5 1-12.8 1 8 1-7.1 1 13.9 1-12.6 1 10.8 1-12.1 1 14.9 1-9.8 1 11.6 1-11.6 1 13.7 1-8.5 1 9.9 1-11.6 1 12 1-10.1 1 10.7 1-13 1 15.3 1-12.8 1 11.4 1-10.9 1 10.6 1-10.9 1 8.8 1-6.8 1 8.3 1-7.1 1 8.2 1-8.3 1 7.8 1-10 1 12.1 1-10 1 11.6 1-9.3 1 8.1 1-11.3 1 12.9 1-13.6 1 11.5 1-10.7 1 10.6 1-11.8 1 15.2 1-16.1 1 10.9 1-13.8 1 10.4 1-5.4 1 7.7 1-12.2 1 14.8 1-16 1 13.7 1-13.5 1 16.5 1-15.4 1 7.8 1-7.4 1 13.2 1-19.6 1 16.7 1-9.1 1 11.7 1-15.2 1 9.5 1-8.3 1 11.3 1-13.4 1 12.5 1-12 1 12.1 1-14 1 16.3 1-14.3 1 10.2 1-15.1 1 14.3 1-14 1 15.3 1-14.2 1 12.5 1-12.3 1 9.3 1-15.3 1 16.4 1-10.7 1 13.6 1-15.1 1 9 1-6.7 1 10 1-11.6 1 10.8 1-11.4 1 11.7 1-13.4 1 11.7 1-14.6 1 12.2 1-9.3 1 6.9 1-11.6 1 16.3 1-13.6 1 9.7 1-12 1 11 1-14.5 1 13.3 1-8.8 1 11.3 1-18.9 1 18.9 1-17 1 15.7 1-13.5 1 9.5 1-14.8 1 17.8 1-12.1 1 13.5 1-16.2 1 13.6 1-13.4 1 11.6 1-10.9 1 11.1 1-13.7 1 15.4 1-12.7 1 10.7 1-6.6 1 9.4 1-9.5 1 12.1 1-15.9 1 12.5 1-13.9 1 12 1-12.1 1 9.8 1-8.8 1 8.5 1-7.5 1 11.9 1-12.5 1 10.3 1-14.9 1 17 1-10.3 1 2.9 1-7.2 1 11.8 1-8 1 5.1 1-7.2 1 14.4 1-13.7 1 7.2 1-8.5 1 8.6 1-11.2 1 11.3 1-11.2 1 10.9 1-14.4 1 21.5 1-20.9 1 13.3 1-14.8 1 13.2 1-8.9 1 9.3 1-11.9 1 14.5 1-14.9 1 12 1-8.2 1 9.3 1-10.9 1 8 1-8.8 1 11.3 1-12.7 1 15 1-17.2 1 15.3 1-11.6 1 12.1 1-17.5 1 11.5 1-7.2 1 12.3 1-12.9 1 10 1-12.9 1 15.6 1-15.1 1 8.6 1-6.5 1 12.6 1-11.7 1 11.1 1-12.5 1 10.8 1-9.9 1 12.7 1-14 1 13.4 1-16.8 1 19 1-11.3 1 11.7 1-14.1 1 14.3 1-11.8 1 8.2 1-10.3 1 15.4 1-15.4 1 10.9 1-14.4 1 20.6 1-16.1 1 15.9 1-11.3 1 15.7 1-16.3 1 19.3 1-8.3 1 11.2 1-5.4 1 9.8 1-13.5 1 14.7 1-5.9 1 10.7 1-9.4 1 16.1 1-10.5 1 16.5 1-7.4 1 11.9 1-11.6 1 16.7 1-14.8 1 19.6 1-13.1 1 14.3 1-13.9 1 14.4 1-13.7 1 18.2 1-12.6 1 11.4 1-11.1 1 15.8 1-10.6 1 18.3 1-10.6 1 17.4 1-17.1 1 14.8 1-12.3 1 17.6 1-15.5 1 13.6 1-12.2 1 14.4 1-12.2 1 11.5 1-8.5 1 17.8 1-12.3 1 8.8 1-8.8 1 9.2 1-10.4 1 11 1-11.1 1 12.6 1-10 1 8.3 1-10.5 1 9.4 1-13 1 11.5 1-13.6 1 14.2 1-11.8 1 10.2 1-15.4 1 18.1 1-15.2 1 16.1 1-17.9 1 11.6 1-12.3 1 10.4 1-9.6 1 5.7 1-11.1 1 14.8 1-17.9 1 15.1 1-12.8 1 12.5 1-12.8 1 10.9 1-12 1 12.7 1-12.3 1 9.1 1-12.7 1 11.7 1-13.9 1 14.3 1-9.6 1 8.7 1-11.4 1 15.1 1-13.1 1 15.2 1-16.5 1 13.3 1-15.2 1 12.2 1-14.3 1 11.4 1-12.9 1 13 1-12.3 1 9.1 1-10.8 1 5.5 1-6.9 1 9.7 1-9.9 1 12.7 1-15.9 1 12.6 1-13.4 1 15.7 1-16.2 1 13.4 1-12.6 1 7.2 1-10 1 13.5 1-11.6 1 9.1 1-12.1 1 11.5 1-11 1 11.9 1-12.1 1 11.7 1-14.5 1 12.1 1-13 1 14.6 1-8.9 1 11.2 1-15.3 1 13.8 1-16.7 1 13.6 1-14.3 1 8.2 1-12 1 14.3 1-13.1 1 14.1 1-15.1 1 10.7 1-12.9 1 12.1 1-12.8 1 11.9 1-11.3 1 14.4 1-12.4 1 6.9 1-10.4 1 13.9 1-13.9 1 13.2 1-10.3 1 9.3 1-12 1 9.5 1-11.9 1 13.7 1-15.3 1 11.2 1-17.6 1 16.5 1-14.2 1 11.4 1-9.1 1 13.4 1-17.1 1 17.1 1-15.9 1 15.1 1-13.4 1 11.9 1-11.3 1 11.4 1-11.1 1 8.8 1-7.5 1 9.8 1-13.8 1 14.8 1-14.9 1 11.8 1-9.7 1 8.2 1-11 1 11.4 1-13.8 1 9.1 1-12.6 1 14.2 1-14.2 1 11.2 1-9.9 1 11 1-8 1 11 1-10.7 1 10.7 1-12.3 1 12.5 1-7.6 1 4.4 1-9.4 1 10 1-11.3 1 13.3 1-12.4 1 10.5 1-12.5 1 13.4 1-12.9 1 9.6 1-9.8 1 10.2 1-8.4 1 9.3 1-13.4 1 13.9 1-8.1 1 7.1 1-11.8 1 11.6 1-9.7 1 13.2 1-17 1 17.2 1-19.3 1 13.1 1-10.8 1 10.2 1-11 1 10.3 1-11.3 1 10.9 1-5.1 1 5.3 1-11.5 1 13.5 1-11.1 1 11 1-12.7 1 13.6 1-14.3 1 12.6 1-12.7 1 12.3 1-9.8 1 7.4" fill="none" stroke="#f3a052" stroke-width="3" stroke-linejoin="bevel"/>
<line x1="702.2" y1="2278.2" x2="725.4" y2="2278.2" stroke="#14a04c" stroke-width="3.8"/>
<text x="741.7" y="2285.8" font-size="23" textLength="87" lengthAdjust="spacingAndGlyphs">GABA (F</text>
<text x="829.3" y="2294" font-size="15" fill="#12a14b">iGABASnFR.F102G</text><text x="961.8" y="2294" font-size="15">/</text><text x="966" y="2294" font-size="15" fill="#e41f2d">tdTomato</text>
<line x1="702.2" y1="2311.7" x2="725.4" y2="2311.7" stroke="#f5a04a" stroke-width="3.8"/>
<text x="741.7" y="2319.8" font-size="23" textLength="136" lengthAdjust="spacingAndGlyphs">Glutamate (F</text>
<text x="879" y="2329.4" font-size="15" fill="#f6a73b">SF-Venus-iGluSnFR.S72A</text><text x="1056" y="2329.4" font-size="15">/</text><text x="1060.2" y="2329.4" font-size="15" fill="#e41f2d">tdTomato</text>
<text x="1028.3" y="2285.8" font-size="23">)</text>
<text x="1123.5" y="2319.8" font-size="23">)</text>
<text x="683.4" y="2514.8" font-size="25" text-anchor="middle" textLength="50" lengthAdjust="spacingAndGlyphs">DBS</text>
<line x1="659.4" y1="2531" x2="707.4" y2="2531" stroke="#231f20" stroke-width="1.6"/>
<text x="683.4" y="2566.4" font-size="25" text-anchor="middle" textLength="87" lengthAdjust="spacingAndGlyphs">100 µA</text>
<text x="939.1" y="2570.8" font-size="25" text-anchor="middle" textLength="50" lengthAdjust="spacingAndGlyphs">DBS</text>
<line x1="915.1" y1="2586" x2="963.1" y2="2586" stroke="#231f20" stroke-width="1.6"/>
<text x="939.1" y="2623.6" font-size="25" text-anchor="middle" textLength="87" lengthAdjust="spacingAndGlyphs">150 µA</text>
<text x="1194.8" y="2639.9" font-size="25" text-anchor="middle" textLength="50" lengthAdjust="spacingAndGlyphs">DBS</text>
<line x1="1170.8" y1="2656.2" x2="1218.8" y2="2656.2" stroke="#231f20" stroke-width="1.6"/>
<text x="1194.8" y="2691.6" font-size="25" text-anchor="middle" textLength="87" lengthAdjust="spacingAndGlyphs">200 µA</text>
<line x1="1354.2" y1="2287.9" x2="1354.2" y2="2369" stroke="#231f20" stroke-width="1.6"/>
<line x1="1354.2" y1="2369" x2="1395" y2="2369" stroke="#231f20" stroke-width="1.6"/>
<text x="1356.5" y="2338" font-size="24.5" textLength="62.5" lengthAdjust="spacingAndGlyphs">1 min</text>
<g transform="translate(1337 2392) rotate(-90)">
<text x="0" y="0" font-size="24.5" textLength="63" lengthAdjust="spacingAndGlyphs">20% </text>
<text x="63" y="0" font-size="24.5" textLength="18.5" lengthAdjust="spacingAndGlyphs">Δ</text>
<text x="81.5" y="0" font-size="24.5" font-style="italic" textLength="16.9" lengthAdjust="spacingAndGlyphs">F</text>
<text x="98.4" y="0" font-size="24.5" textLength="7.7" lengthAdjust="spacingAndGlyphs">/</text>
<text x="106.1" y="0" font-size="24.5" font-style="italic" textLength="16.9" lengthAdjust="spacingAndGlyphs">F</text>
<text x="123" y="5" font-size="16" textLength="10" lengthAdjust="spacingAndGlyphs">0</text>
</g>
<line x1="1679.1" y1="464.5" x2="1679.1" y2="774.5" stroke="#231f20" stroke-width="1.5"/>
<line x1="1668.1" y1="464.5" x2="1679.1" y2="464.5" stroke="#231f20" stroke-width="1.5"/>
<line x1="1668.1" y1="542" x2="1679.1" y2="542" stroke="#231f20" stroke-width="1.5"/>
<line x1="1668.1" y1="619.5" x2="1679.1" y2="619.5" stroke="#231f20" stroke-width="1.5"/>
<line x1="1668.1" y1="697" x2="1679.1" y2="697" stroke="#231f20" stroke-width="1.5"/>
<line x1="1668.1" y1="774.5" x2="1679.1" y2="774.5" stroke="#231f20" stroke-width="1.5"/>
<text x="1653.3" y="472.6" font-size="23" text-anchor="end">0</text>
<text x="1653.3" y="550" font-size="23" text-anchor="end">–5</text>
<text x="1653.3" y="627.5" font-size="23" text-anchor="end">–10</text>
<text x="1653.3" y="705" font-size="23" text-anchor="end">–15</text>
<text x="1653.3" y="782.5" font-size="23" text-anchor="end">–20</text>
<line x1="1666.9" y1="774.5" x2="1989.5" y2="774.5" stroke="#231f20" stroke-width="1.5"/>
<line x1="1733.9" y1="774.5" x2="1733.9" y2="785.5" stroke="#231f20" stroke-width="1.5"/>
<line x1="1834.5" y1="774.5" x2="1834.5" y2="785.5" stroke="#231f20" stroke-width="1.5"/>
<line x1="1933" y1="774.5" x2="1933" y2="785.5" stroke="#231f20" stroke-width="1.5"/>
<text x="1733.9" y="816.7" font-size="23" text-anchor="middle">100</text>
<text x="1834.5" y="816.7" font-size="23" text-anchor="middle">150</text>
<text x="1933" y="816.7" font-size="23" text-anchor="middle">200</text>
<text x="1834.5" y="858.1" font-size="27" text-anchor="middle" textLength="157" lengthAdjust="spacingAndGlyphs">Current (µA)</text>
<line x1="1739.5" y1="489.1" x2="1836.8" y2="583.3" stroke="#231f20" stroke-width="2.2"/>
<line x1="1739.5" y1="498.7" x2="1836.8" y2="531.2" stroke="#231f20" stroke-width="2.2"/>
<line x1="1739.5" y1="530.6" x2="1836.8" y2="544.5" stroke="#231f20" stroke-width="2.2"/>
<line x1="1739.5" y1="542.2" x2="1836.8" y2="648" stroke="#231f20" stroke-width="2.2"/>
<line x1="1739.5" y1="561.1" x2="1836.8" y2="592.6" stroke="#231f20" stroke-width="2.2"/>
<line x1="1739.5" y1="575.4" x2="1836.8" y2="600.9" stroke="#231f20" stroke-width="2.2"/>
<line x1="1739.5" y1="583.3" x2="1836.8" y2="695.5" stroke="#231f20" stroke-width="2.2"/>
<line x1="1836.8" y1="531.2" x2="1935.4" y2="636.1" stroke="#231f20" stroke-width="2.2"/>
<line x1="1836.8" y1="544.5" x2="1935.4" y2="578.4" stroke="#231f20" stroke-width="2.2"/>
<line x1="1836.8" y1="583.3" x2="1935.4" y2="619.8" stroke="#231f20" stroke-width="2.2"/>
<line x1="1836.8" y1="592.6" x2="1935.4" y2="655" stroke="#231f20" stroke-width="2.2"/>
<line x1="1836.8" y1="600.9" x2="1935.4" y2="606.2" stroke="#231f20" stroke-width="2.2"/>
<line x1="1836.8" y1="648" x2="1935.4" y2="663.3" stroke="#231f20" stroke-width="2.2"/>
<line x1="1836.8" y1="695.5" x2="1935.4" y2="706.1" stroke="#231f20" stroke-width="2.2"/>
<circle cx="1739.5" cy="489.1" r="5.6" fill="#ffffff" stroke="#231f20" stroke-width="2.2"/>
<circle cx="1739.5" cy="498.7" r="5.6" fill="#ffffff" stroke="#231f20" stroke-width="2.2"/>
<circle cx="1739.5" cy="530.6" r="5.6" fill="#ffffff" stroke="#231f20" stroke-width="2.2"/>
<circle cx="1739.5" cy="542.2" r="5.6" fill="#ffffff" stroke="#231f20" stroke-width="2.2"/>
<circle cx="1739.5" cy="561.1" r="5.6" fill="#ffffff" stroke="#231f20" stroke-width="2.2"/>
<circle cx="1739.5" cy="575.4" r="5.6" fill="#ffffff" stroke="#231f20" stroke-width="2.2"/>
<circle cx="1739.5" cy="583.3" r="5.6" fill="#ffffff" stroke="#231f20" stroke-width="2.2"/>
<circle cx="1836.8" cy="531.2" r="5.6" fill="#dcddde" stroke="#231f20" stroke-width="2.2"/>
<circle cx="1836.8" cy="544.5" r="5.6" fill="#dcddde" stroke="#231f20" stroke-width="2.2"/>
<circle cx="1836.8" cy="583.3" r="5.6" fill="#dcddde" stroke="#231f20" stroke-width="2.2"/>
<circle cx="1836.8" cy="592.6" r="5.6" fill="#dcddde" stroke="#231f20" stroke-width="2.2"/>
<circle cx="1836.8" cy="600.9" r="5.6" fill="#dcddde" stroke="#231f20" stroke-width="2.2"/>
<circle cx="1836.8" cy="648" r="5.6" fill="#dcddde" stroke="#231f20" stroke-width="2.2"/>
<circle cx="1836.8" cy="695.5" r="5.6" fill="#dcddde" stroke="#231f20" stroke-width="2.2"/>
<circle cx="1935.4" cy="578.4" r="5.6" fill="#808285" stroke="#231f20" stroke-width="2.2"/>
<circle cx="1935.4" cy="606.2" r="5.6" fill="#808285" stroke="#231f20" stroke-width="2.2"/>
<circle cx="1935.4" cy="619.8" r="5.6" fill="#808285" stroke="#231f20" stroke-width="2.2"/>
<circle cx="1935.4" cy="636.1" r="5.6" fill="#808285" stroke="#231f20" stroke-width="2.2"/>
<circle cx="1935.4" cy="655" r="5.6" fill="#808285" stroke="#231f20" stroke-width="2.2"/>
<circle cx="1935.4" cy="663.3" r="5.6" fill="#808285" stroke="#231f20" stroke-width="2.2"/>
<circle cx="1935.4" cy="706.1" r="5.6" fill="#808285" stroke="#231f20" stroke-width="2.2"/>
<polyline points="1738.5,474.8 1738.5,458.2 1841.1,458.2 1841.1,474.8" fill="none" stroke="#231f20" stroke-width="1.5"/>
<text x="1789.7" y="457" font-size="32" text-anchor="middle">*</text>
<polyline points="1836.8,509.7 1836.8,493 1940.3,493 1940.3,509.7" fill="none" stroke="#231f20" stroke-width="1.5"/>
<text x="1888.9" y="493" font-size="32" text-anchor="middle">*</text>
<g transform="translate(1597 680) rotate(-90)">
<text x="0" y="0" font-size="27" textLength="18" lengthAdjust="spacingAndGlyphs">Δ</text>
<text x="18" y="0" font-size="27" font-style="italic" textLength="16.5" lengthAdjust="spacingAndGlyphs">F</text>
<text x="34.5" y="0" font-size="27" textLength="7.5" lengthAdjust="spacingAndGlyphs">/</text>
<text x="42" y="0" font-size="27" font-style="italic" textLength="16.5" lengthAdjust="spacingAndGlyphs">F</text>
<text x="58.5" y="6" font-size="18" textLength="10" lengthAdjust="spacingAndGlyphs">0</text>
<text x="68.5" y="0" font-size="27" textLength="49.5" lengthAdjust="spacingAndGlyphs"> (%)</text>
</g>
<line x1="1663.2" y1="1370.8" x2="1663.2" y2="1681.8" stroke="#231f20" stroke-width="1.5"/>
<line x1="1652.2" y1="1370.8" x2="1663.2" y2="1370.8" stroke="#231f20" stroke-width="1.5"/>
<line x1="1652.2" y1="1448.5" x2="1663.2" y2="1448.5" stroke="#231f20" stroke-width="1.5"/>
<line x1="1652.2" y1="1526.3" x2="1663.2" y2="1526.3" stroke="#231f20" stroke-width="1.5"/>
<line x1="1652.2" y1="1604" x2="1663.2" y2="1604" stroke="#231f20" stroke-width="1.5"/>
<line x1="1652.2" y1="1681.8" x2="1663.2" y2="1681.8" stroke="#231f20" stroke-width="1.5"/>
<text x="1637.5" y="1378.8" font-size="23" text-anchor="end">0</text>
<text x="1637.5" y="1456.6" font-size="23" text-anchor="end">–5</text>
<text x="1637.5" y="1534.3" font-size="23" text-anchor="end">–10</text>
<text x="1637.5" y="1612.1" font-size="23" text-anchor="end">–15</text>
<text x="1637.5" y="1689.8" font-size="23" text-anchor="end">–20</text>
<line x1="1650.3" y1="1681.8" x2="1976.2" y2="1681.8" stroke="#231f20" stroke-width="1.5"/>
<line x1="1718.3" y1="1681.8" x2="1718.3" y2="1692.8" stroke="#231f20" stroke-width="1.5"/>
<line x1="1818.5" y1="1681.8" x2="1818.5" y2="1692.8" stroke="#231f20" stroke-width="1.5"/>
<line x1="1918.8" y1="1681.8" x2="1918.8" y2="1692.8" stroke="#231f20" stroke-width="1.5"/>
<text x="1718.3" y="1723.3" font-size="23" text-anchor="middle">100</text>
<text x="1818.5" y="1723.3" font-size="23" text-anchor="middle">150</text>
<text x="1918.8" y="1723.3" font-size="23" text-anchor="middle">200</text>
<text x="1820.2" y="1764.7" font-size="27" text-anchor="middle" textLength="157" lengthAdjust="spacingAndGlyphs">Current (µA)</text>
<line x1="1722.3" y1="1371.4" x2="1821.9" y2="1400" stroke="#231f20" stroke-width="2.2"/>
<line x1="1722.3" y1="1448.8" x2="1821.9" y2="1451.8" stroke="#231f20" stroke-width="2.2"/>
<line x1="1722.3" y1="1450" x2="1821.9" y2="1525.8" stroke="#231f20" stroke-width="2.2"/>
<line x1="1722.3" y1="1461.1" x2="1821.9" y2="1480.3" stroke="#231f20" stroke-width="2.2"/>
<line x1="1722.3" y1="1488.3" x2="1821.9" y2="1537.7" stroke="#231f20" stroke-width="2.2"/>
<line x1="1722.3" y1="1546.7" x2="1821.9" y2="1606.1" stroke="#231f20" stroke-width="2.2"/>
<line x1="1821.9" y1="1400" x2="1921.4" y2="1402.6" stroke="#231f20" stroke-width="2.2"/>
<line x1="1821.9" y1="1451.8" x2="1921.4" y2="1462" stroke="#231f20" stroke-width="2.2"/>
<line x1="1821.9" y1="1480.3" x2="1921.4" y2="1447.4" stroke="#231f20" stroke-width="2.2"/>
<line x1="1821.9" y1="1525.8" x2="1921.4" y2="1547.7" stroke="#231f20" stroke-width="2.2"/>
<line x1="1821.9" y1="1537.7" x2="1921.4" y2="1576.6" stroke="#231f20" stroke-width="2.2"/>
<line x1="1821.9" y1="1606.1" x2="1921.4" y2="1639.6" stroke="#231f20" stroke-width="2.2"/>
<circle cx="1722.3" cy="1371.4" r="5.6" fill="#ffffff" stroke="#231f20" stroke-width="2.2"/>
<circle cx="1722.3" cy="1448.8" r="5.6" fill="#ffffff" stroke="#231f20" stroke-width="2.2"/>
<circle cx="1722.3" cy="1450" r="5.6" fill="#ffffff" stroke="#231f20" stroke-width="2.2"/>
<circle cx="1722.3" cy="1461.1" r="5.6" fill="#ffffff" stroke="#231f20" stroke-width="2.2"/>
<circle cx="1722.3" cy="1488.3" r="5.6" fill="#ffffff" stroke="#231f20" stroke-width="2.2"/>
<circle cx="1722.3" cy="1546.7" r="5.6" fill="#ffffff" stroke="#231f20" stroke-width="2.2"/>
<circle cx="1821.9" cy="1400" r="5.6" fill="#dcddde" stroke="#231f20" stroke-width="2.2"/>
<circle cx="1821.9" cy="1451.8" r="5.6" fill="#dcddde" stroke="#231f20" stroke-width="2.2"/>
<circle cx="1821.9" cy="1480.3" r="5.6" fill="#dcddde" stroke="#231f20" stroke-width="2.2"/>
<circle cx="1821.9" cy="1525.8" r="5.6" fill="#dcddde" stroke="#231f20" stroke-width="2.2"/>
<circle cx="1821.9" cy="1537.7" r="5.6" fill="#dcddde" stroke="#231f20" stroke-width="2.2"/>
<circle cx="1821.9" cy="1606.1" r="5.6" fill="#dcddde" stroke="#231f20" stroke-width="2.2"/>
<circle cx="1921.4" cy="1402.6" r="5.6" fill="#808285" stroke="#231f20" stroke-width="2.2"/>
<circle cx="1921.4" cy="1447.4" r="5.6" fill="#808285" stroke="#231f20" stroke-width="2.2"/>
<circle cx="1921.4" cy="1462" r="5.6" fill="#808285" stroke="#231f20" stroke-width="2.2"/>
<circle cx="1921.4" cy="1547.7" r="5.6" fill="#808285" stroke="#231f20" stroke-width="2.2"/>
<circle cx="1921.4" cy="1576.6" r="5.6" fill="#808285" stroke="#231f20" stroke-width="2.2"/>
<circle cx="1921.4" cy="1639.6" r="5.6" fill="#808285" stroke="#231f20" stroke-width="2.2"/>
<polyline points="1725,1359.2 1725,1343.9 1823.8,1343.9 1823.8,1359.2" fill="none" stroke="#231f20" stroke-width="1.5"/>
<text x="1773.7" y="1341.5" font-size="32" text-anchor="middle">*</text>
<g transform="translate(1572 1585) rotate(-90)">
<text x="0" y="0" font-size="27" textLength="18" lengthAdjust="spacingAndGlyphs">Δ</text>
<text x="18" y="0" font-size="27" font-style="italic" textLength="16.5" lengthAdjust="spacingAndGlyphs">F</text>
<text x="34.5" y="0" font-size="27" textLength="7.5" lengthAdjust="spacingAndGlyphs">/</text>
<text x="42" y="0" font-size="27" font-style="italic" textLength="16.5" lengthAdjust="spacingAndGlyphs">F</text>
<text x="58.5" y="6" font-size="18" textLength="10" lengthAdjust="spacingAndGlyphs">0</text>
<text x="68.5" y="0" font-size="27" textLength="49.5" lengthAdjust="spacingAndGlyphs"> (%)</text>
</g>
<line x1="1649.3" y1="2321.6" x2="1649.3" y2="2620.3" stroke="#231f20" stroke-width="1.5"/>
<line x1="1638.3" y1="2321.6" x2="1649.3" y2="2321.6" stroke="#231f20" stroke-width="1.5"/>
<line x1="1638.3" y1="2396.3" x2="1649.3" y2="2396.3" stroke="#231f20" stroke-width="1.5"/>
<line x1="1638.3" y1="2471" x2="1649.3" y2="2471" stroke="#231f20" stroke-width="1.5"/>
<line x1="1638.3" y1="2545.7" x2="1649.3" y2="2545.7" stroke="#231f20" stroke-width="1.5"/>
<line x1="1638.3" y1="2620.4" x2="1649.3" y2="2620.4" stroke="#231f20" stroke-width="1.5"/>
<text x="1624" y="2329.7" font-size="23" text-anchor="end">20</text>
<text x="1624" y="2404.4" font-size="23" text-anchor="end">0</text>
<text x="1624" y="2479.1" font-size="23" text-anchor="end">–20</text>
<text x="1624" y="2553.8" font-size="23" text-anchor="end">–40</text>
<text x="1624" y="2628.5" font-size="23" text-anchor="end">–60</text>
<line x1="1637" y1="2620.3" x2="1948.6" y2="2620.3" stroke="#231f20" stroke-width="1.5"/>
<line x1="1695.1" y1="2620.3" x2="1695.1" y2="2631.3" stroke="#231f20" stroke-width="1.5"/>
<line x1="1797.6" y1="2620.3" x2="1797.6" y2="2631.3" stroke="#231f20" stroke-width="1.5"/>
<line x1="1900.5" y1="2620.3" x2="1900.5" y2="2631.3" stroke="#231f20" stroke-width="1.5"/>
<text x="1695.1" y="2661.5" font-size="23" text-anchor="middle">100</text>
<text x="1797.6" y="2661.5" font-size="23" text-anchor="middle">150</text>
<text x="1900.5" y="2661.5" font-size="23" text-anchor="middle">200</text>
<text x="1798.6" y="2704.7" font-size="27" text-anchor="middle" textLength="157" lengthAdjust="spacingAndGlyphs">Current (µA)</text>
<line x1="1676.8" y1="2410.9" x2="1716.3" y2="2397.8" stroke="#231f20" stroke-width="2.2"/>
<line x1="1676.8" y1="2419.1" x2="1716.3" y2="2406" stroke="#231f20" stroke-width="2.2"/>
<line x1="1676.8" y1="2427.7" x2="1716.3" y2="2412.7" stroke="#231f20" stroke-width="2.2"/>
<line x1="1676.8" y1="2431" x2="1716.3" y2="2411.2" stroke="#231f20" stroke-width="2.2"/>
<line x1="1676.8" y1="2434" x2="1716.3" y2="2415.7" stroke="#231f20" stroke-width="2.2"/>
<line x1="1676.8" y1="2439.3" x2="1716.3" y2="2421" stroke="#231f20" stroke-width="2.2"/>
<line x1="1676.8" y1="2444.1" x2="1716.3" y2="2424.3" stroke="#231f20" stroke-width="2.2"/>
<line x1="1676.8" y1="2449" x2="1716.3" y2="2429.2" stroke="#231f20" stroke-width="2.2"/>
<line x1="1779.7" y1="2430.8" x2="1819.2" y2="2398.5" stroke="#231f20" stroke-width="2.2"/>
<line x1="1779.7" y1="2435.9" x2="1819.2" y2="2405.3" stroke="#231f20" stroke-width="2.2"/>
<line x1="1779.7" y1="2440.7" x2="1819.2" y2="2412.7" stroke="#231f20" stroke-width="2.2"/>
<line x1="1779.7" y1="2457.6" x2="1819.2" y2="2419.1" stroke="#231f20" stroke-width="2.2"/>
<line x1="1779.7" y1="2463.9" x2="1819.2" y2="2427.7" stroke="#231f20" stroke-width="2.2"/>
<line x1="1779.7" y1="2490.4" x2="1819.2" y2="2438.5" stroke="#231f20" stroke-width="2.2"/>
<line x1="1882.3" y1="2440.7" x2="1923.1" y2="2402.6" stroke="#231f20" stroke-width="2.2"/>
<line x1="1882.3" y1="2443.4" x2="1923.1" y2="2409.4" stroke="#231f20" stroke-width="2.2"/>
<line x1="1882.3" y1="2455.7" x2="1923.1" y2="2421" stroke="#231f20" stroke-width="2.2"/>
<line x1="1882.3" y1="2462.4" x2="1923.1" y2="2435.9" stroke="#231f20" stroke-width="2.2"/>
<line x1="1882.3" y1="2469.1" x2="1923.1" y2="2438.5" stroke="#231f20" stroke-width="2.2"/>
<line x1="1882.3" y1="2514" x2="1923.1" y2="2437.4" stroke="#231f20" stroke-width="2.2"/>
<line x1="1882.3" y1="2578.6" x2="1923.1" y2="2436.6" stroke="#231f20" stroke-width="2.2"/>
<circle cx="1676.8" cy="2410.9" r="5.6" fill="#fff" stroke="#f6a83f" stroke-width="3"/>
<circle cx="1676.8" cy="2419.1" r="5.6" fill="#fff" stroke="#f6a83f" stroke-width="3"/>
<circle cx="1676.8" cy="2427.7" r="5.6" fill="#fff" stroke="#f6a83f" stroke-width="3"/>
<circle cx="1676.8" cy="2431" r="5.6" fill="#fff" stroke="#f6a83f" stroke-width="3"/>
<circle cx="1676.8" cy="2434" r="5.6" fill="#fff" stroke="#f6a83f" stroke-width="3"/>
<circle cx="1676.8" cy="2439.3" r="5.6" fill="#fff" stroke="#f6a83f" stroke-width="3"/>
<circle cx="1676.8" cy="2444.1" r="5.6" fill="#fff" stroke="#f6a83f" stroke-width="3"/>
<circle cx="1676.8" cy="2449" r="5.6" fill="#fff" stroke="#f6a83f" stroke-width="3"/>
<rect x="1712.3" y="2393.8" width="8" height="8" fill="#fff" stroke="#12a14b" stroke-width="2.6" transform="rotate(45 1716.3 2397.8)"/>
<rect x="1712.3" y="2402" width="8" height="8" fill="#fff" stroke="#12a14b" stroke-width="2.6" transform="rotate(45 1716.3 2406)"/>
<rect x="1712.3" y="2408.7" width="8" height="8" fill="#fff" stroke="#12a14b" stroke-width="2.6" transform="rotate(45 1716.3 2412.7)"/>
<rect x="1712.3" y="2407.2" width="8" height="8" fill="#fff" stroke="#12a14b" stroke-width="2.6" transform="rotate(45 1716.3 2411.2)"/>
<rect x="1712.3" y="2411.7" width="8" height="8" fill="#fff" stroke="#12a14b" stroke-width="2.6" transform="rotate(45 1716.3 2415.7)"/>
<rect x="1712.3" y="2417" width="8" height="8" fill="#fff" stroke="#12a14b" stroke-width="2.6" transform="rotate(45 1716.3 2421)"/>
<rect x="1712.3" y="2420.3" width="8" height="8" fill="#fff" stroke="#12a14b" stroke-width="2.6" transform="rotate(45 1716.3 2424.3)"/>
<rect x="1712.3" y="2425.2" width="8" height="8" fill="#fff" stroke="#12a14b" stroke-width="2.6" transform="rotate(45 1716.3 2429.2)"/>
<circle cx="1779.7" cy="2430.8" r="5.6" fill="#fff" stroke="#f6a83f" stroke-width="3"/>
<circle cx="1779.7" cy="2435.9" r="5.6" fill="#fff" stroke="#f6a83f" stroke-width="3"/>
<circle cx="1779.7" cy="2440.7" r="5.6" fill="#fff" stroke="#f6a83f" stroke-width="3"/>
<circle cx="1779.7" cy="2457.6" r="5.6" fill="#fff" stroke="#f6a83f" stroke-width="3"/>
<circle cx="1779.7" cy="2463.9" r="5.6" fill="#fff" stroke="#f6a83f" stroke-width="3"/>
<circle cx="1779.7" cy="2490.4" r="5.6" fill="#fff" stroke="#f6a83f" stroke-width="3"/>
<rect x="1815.2" y="2394.5" width="8" height="8" fill="#fff" stroke="#12a14b" stroke-width="2.6" transform="rotate(45 1819.2 2398.5)"/>
<rect x="1815.2" y="2401.3" width="8" height="8" fill="#fff" stroke="#12a14b" stroke-width="2.6" transform="rotate(45 1819.2 2405.3)"/>
<rect x="1815.2" y="2408.7" width="8" height="8" fill="#fff" stroke="#12a14b" stroke-width="2.6" transform="rotate(45 1819.2 2412.7)"/>
<rect x="1815.2" y="2415.1" width="8" height="8" fill="#fff" stroke="#12a14b" stroke-width="2.6" transform="rotate(45 1819.2 2419.1)"/>
<rect x="1815.2" y="2423.7" width="8" height="8" fill="#fff" stroke="#12a14b" stroke-width="2.6" transform="rotate(45 1819.2 2427.7)"/>
<rect x="1815.2" y="2434.5" width="8" height="8" fill="#fff" stroke="#12a14b" stroke-width="2.6" transform="rotate(45 1819.2 2438.5)"/>
<circle cx="1882.3" cy="2440.7" r="5.6" fill="#fff" stroke="#f6a83f" stroke-width="3"/>
<circle cx="1882.3" cy="2443.4" r="5.6" fill="#fff" stroke="#f6a83f" stroke-width="3"/>
<circle cx="1882.3" cy="2455.7" r="5.6" fill="#fff" stroke="#f6a83f" stroke-width="3"/>
<circle cx="1882.3" cy="2462.4" r="5.6" fill="#fff" stroke="#f6a83f" stroke-width="3"/>
<circle cx="1882.3" cy="2469.1" r="5.6" fill="#fff" stroke="#f6a83f" stroke-width="3"/>
<circle cx="1882.3" cy="2514" r="5.6" fill="#fff" stroke="#f6a83f" stroke-width="3"/>
<circle cx="1882.3" cy="2578.6" r="5.6" fill="#fff" stroke="#f6a83f" stroke-width="3"/>
<rect x="1919.1" y="2398.6" width="8" height="8" fill="#fff" stroke="#12a14b" stroke-width="2.6" transform="rotate(45 1923.1 2402.6)"/>
<rect x="1919.1" y="2405.4" width="8" height="8" fill="#fff" stroke="#12a14b" stroke-width="2.6" transform="rotate(45 1923.1 2409.4)"/>
<rect x="1919.1" y="2417" width="8" height="8" fill="#fff" stroke="#12a14b" stroke-width="2.6" transform="rotate(45 1923.1 2421)"/>
<rect x="1919.1" y="2431.9" width="8" height="8" fill="#fff" stroke="#12a14b" stroke-width="2.6" transform="rotate(45 1923.1 2435.9)"/>
<rect x="1919.1" y="2434.5" width="8" height="8" fill="#fff" stroke="#12a14b" stroke-width="2.6" transform="rotate(45 1923.1 2438.5)"/>
<rect x="1919.1" y="2433.4" width="8" height="8" fill="#fff" stroke="#12a14b" stroke-width="2.6" transform="rotate(45 1923.1 2437.4)"/>
<rect x="1919.1" y="2432.6" width="8" height="8" fill="#fff" stroke="#12a14b" stroke-width="2.6" transform="rotate(45 1923.1 2436.6)"/>
<polyline points="1679.1,2376 1679.1,2359.5 1719.6,2359.5 1719.6,2376" fill="none" stroke="#231f20" stroke-width="1.5"/>
<text x="1699" y="2362" font-size="30" text-anchor="middle">**</text>
<polyline points="1779.7,2381 1779.7,2366.1 1820.2,2366.1 1820.2,2381" fill="none" stroke="#231f20" stroke-width="1.5"/>
<text x="1799.3" y="2368" font-size="30" text-anchor="middle">***</text>
<polyline points="1884.2,2385 1884.2,2370.4 1924.7,2370.4 1924.7,2385" fill="none" stroke="#231f20" stroke-width="1.5"/>
<text x="1904.8" y="2372" font-size="30" text-anchor="middle">**</text>
<circle cx="1678.5" cy="2284.8" r="5" fill="#fff" stroke="#f6a83f" stroke-width="3"/>
<rect x="1674.5" y="2314.7" width="8" height="8" fill="#fff" stroke="#12a14b" stroke-width="2.6" transform="rotate(45 1678.5 2318.7)"/>
<text x="1700.7" y="2292.2" font-size="25" fill="#f6a73b" textLength="267" lengthAdjust="spacingAndGlyphs">SF-Venus-iGluSnFR.S72A</text>
<text x="1700.7" y="2324" font-size="25" fill="#12a14b" textLength="196" lengthAdjust="spacingAndGlyphs">iGABASnFR.F102G</text>
<g transform="translate(1563 2531) rotate(-90)">
<text x="0" y="0" font-size="27" textLength="18" lengthAdjust="spacingAndGlyphs">Δ</text>
<text x="18" y="0" font-size="27" font-style="italic" textLength="16.5" lengthAdjust="spacingAndGlyphs">F</text>
<text x="34.5" y="0" font-size="27" textLength="7.5" lengthAdjust="spacingAndGlyphs">/</text>
<text x="42" y="0" font-size="27" font-style="italic" textLength="16.5" lengthAdjust="spacingAndGlyphs">F</text>
<text x="58.5" y="6" font-size="18" textLength="10" lengthAdjust="spacingAndGlyphs">0</text>
<text x="68.5" y="0" font-size="27" textLength="49.5" lengthAdjust="spacingAndGlyphs"> (%)</text>
</g>
</g></svg></body></html>
